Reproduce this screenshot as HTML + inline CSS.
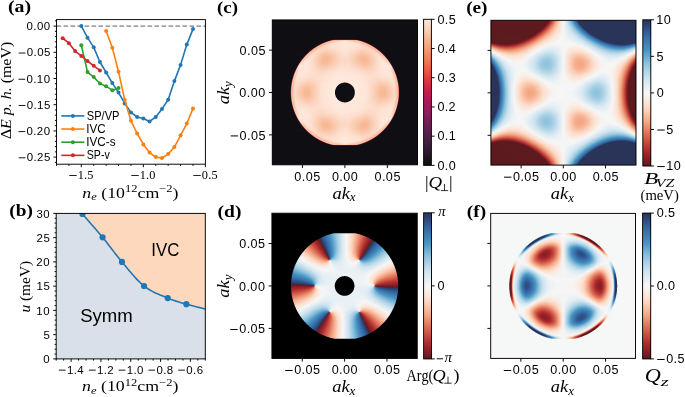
<!DOCTYPE html>
<html><head><meta charset="utf-8"><style>
html,body{margin:0;padding:0;background:#fff;width:685px;height:397px;overflow:hidden;}
#wrap{position:relative;width:685px;height:397px;overflow:hidden;background:#fff;}
.hm{position:absolute;overflow:hidden;}
.hm i{position:absolute;left:0;right:0;height:1px;display:block;}
.cb{position:absolute;}
#sv{position:absolute;left:0;top:0;font-kerning:none;will-change:transform;}
</style></head><body><div id="wrap">
<div class="hm" style="left:272px;top:19px;width:146px;height:146px"><i style="top:0px;background:linear-gradient(90deg,#ffffff 0.5px,#ffffff 145.5px)"></i><i style="top:1px;height:19px;background:linear-gradient(90deg,#4b4a4e 0.5px,#0f0e13 1.5px,#0f0e13 144.5px,#878689 145.5px)"></i><i style="top:20px;background:linear-gradient(90deg,#4b4a4e 0.5px,#0f0e13 1.5px,#100e14 59.5px,#251323 61.5px,#3d142b 63.5px,#44142d 74.5px,#40142c 81.5px,#3b142b 82.5px,#221322 84.5px,#151119 85.5px,#0f0e13 87.5px,#0f0e13 144.5px,#878689 145.5px)"></i><i style="top:21px;background:linear-gradient(90deg,#4b4a4e 0.5px,#0f0e13 1.5px,#0f0e13 55.5px,#1a111c 56.5px,#4a192e 57.5px,#8c3f49 58.5px,#c47170 59.5px,#e7968c 60.5px,#f7ae94 61.5px,#f8b999 62.5px,#f9bda1 66.5px,#fcd5c1 72.5px,#fbd0ba 74.5px,#f8bb9d 80.5px,#f8b899 83.5px,#f5a993 84.5px,#e19088 85.5px,#bb6768 86.5px,#7f3541 87.5px,#3e162b 88.5px,#151018 89.5px,#0f0e13 90.5px,#0f0e13 144.5px,#878689 145.5px)"></i><i style="top:22px;background:linear-gradient(90deg,#4b4a4e 0.5px,#0f0e13 1.5px,#0f0e13 52.5px,#17111a 53.5px,#4e1b30 54.5px,#9f4c55 55.5px,#e1877e 56.5px,#f8b899 57.5px,#f9c7a9 58.5px,#fac8aa 61.5px,#fee8dc 72.5px,#fcddcc 77.5px,#f9c7aa 84.5px,#f9c6a8 87.5px,#f7b094 88.5px,#d77c78 89.5px,#8f404a 90.5px,#3f162b 91.5px,#130f16 92.5px,#0f0e13 96.5px,#0f0e13 144.5px,#878689 145.5px)"></i><i style="top:23px;background:linear-gradient(90deg,#4b4a4e 0.5px,#0f0e13 1.5px,#0f0e13 50.5px,#2c1325 51.5px,#833744 52.5px,#d87c77 53.5px,#f8b697 54.5px,#f9c4a6 55.5px,#f9c3a5 57.5px,#fde0d0 65.5px,#fee8dc 72.5px,#fde2d3 79.5px,#fbd2bb 84.5px,#f9c3a4 88.5px,#f9c4a6 90.5px,#f6ad91 91.5px,#ca6f6f 92.5px,#702a3c 93.5px,#211220 94.5px,#0f0e13 95.5px,#0f0e13 144.5px,#878689 145.5px)"></i><i style="top:24px;background:linear-gradient(90deg,#4b4a4e 0.5px,#0f0e13 1.5px,#100f14 48.5px,#3d172a 49.5px,#a34e56 50.5px,#ee9a85 51.5px,#f9c1a2 52.5px,#f9c0a1 54.5px,#fddfcf 61.5px,#fee7da 67.5px,#fee6d8 80.5px,#fcdbc9 85.5px,#f9c3a4 90.5px,#f9bf9f 93.5px,#e58b7e 94.5px,#8f3e4a 95.5px,#2d1325 96.5px,#0f0e13 97.5px,#0f0e13 144.5px,#878689 145.5px)"></i><i style="top:25px;background:linear-gradient(90deg,#4b4a4e 0.5px,#0f0e13 1.5px,#100e14 46.5px,#3c172a 47.5px,#ac535a 48.5px,#f3a58c 49.5px,#f9c1a1 50.5px,#f9c0a0 52.5px,#fcdbc8 57.5px,#fee5d7 62.5px,#fee8db 77.5px,#fde0d0 86.5px,#fbd5c0 89.5px,#f9bf9f 93.5px,#f9c0a0 95.5px,#ed9783 96.5px,#96424e 97.5px,#2b1324 98.5px,#0f0e13 99.5px,#0f0e13 144.5px,#878689 145.5px)"></i><i style="top:26px;background:linear-gradient(90deg,#4b4a4e 0.5px,#0f0e13 1.5px,#0f0e13 44.5px,#2b1324 45.5px,#9f4852 46.5px,#f2a28a 47.5px,#f9c0a0 48.5px,#f8bd9c 49.5px,#f9c5a7 51.5px,#fbd7c3 54.5px,#fde1d2 59.5px,#fee8db 74.5px,#fddfce 88.5px,#fbd6c2 91.5px,#f8bf9e 95.5px,#f9c09f 97.5px,#ea9281 98.5px,#853746 99.5px,#1e121e 100.5px,#0f0e13 101.5px,#0f0e13 144.5px,#878689 145.5px)"></i><i style="top:27px;background:linear-gradient(90deg,#4b4a4e 0.5px,#0f0e13 1.5px,#0f0e13 42.5px,#171019 43.5px,#782f41 44.5px,#e88f7f 45.5px,#f9bf9f 46.5px,#f8bd9c 47.5px,#f9c5a7 49.5px,#fbd7c2 52.5px,#fcdecd 57.5px,#fee8db 72.5px,#fcdecd 88.5px,#fcd9c6 92.5px,#facbaf 95.5px,#f8be9d 97.5px,#f9be9d 99.5px,#d97c74 100.5px,#5c2236 101.5px,#120f16 102.5px,#0f0e13 144.5px,#878689 145.5px)"></i><i style="top:28px;background:linear-gradient(90deg,#4b4a4e 0.5px,#0f0e13 1.5px,#0f0e13 41.5px,#3e182a 42.5px,#c66767 43.5px,#f8ba9a 44.5px,#f8be9d 46.5px,#fbd6c1 50.5px,#fcdac8 54.5px,#fee7da 73.5px,#fbd8c4 94.5px,#facaad 97.5px,#f8bd9c 99.5px,#f8be9d 100.5px,#f7b194 101.5px,#ac5259 102.5px,#2a1323 103.5px,#0f0e13 104.5px,#0f0e13 144.5px,#878689 145.5px)"></i><i style="top:29px;background:linear-gradient(90deg,#4b4a4e 0.5px,#0f0e13 1.5px,#0f0e13 39.5px,#151018 40.5px,#7b3143 41.5px,#ee9d87 42.5px,#f9c0a0 43.5px,#f8bd9c 44.5px,#fac9ad 46.5px,#fbd5bf 48.5px,#fbd8c4 51.5px,#fcdac7 59.5px,#fee6d9 71.5px,#fde0d0 81.5px,#fbd7c3 91.5px,#fbd7c3 96.5px,#facfb6 98.5px,#f9c0a0 100.5px,#f8bd9c 101.5px,#f9c0a0 102.5px,#e2897b 103.5px,#5d2336 104.5px,#110f14 105.5px,#0f0e13 144.5px,#878689 145.5px)"></i><i style="top:30px;background:linear-gradient(90deg,#4b4a4e 0.5px,#0f0e13 1.5px,#0f0e13 38.5px,#271222 39.5px,#b4575d 40.5px,#f8ba9a 41.5px,#f9bf9f 43.5px,#fbd4be 46.5px,#fbd7c3 49.5px,#fbd4be 56.5px,#fee5d8 71.5px,#fde1d1 79.5px,#fbd4be 90.5px,#fbd6c2 98.5px,#facdb2 100.5px,#f8be9e 102.5px,#f8bf9f 103.5px,#f6ae93 104.5px,#96414e 105.5px,#1a111b 106.5px,#0f0e13 107.5px,#0f0e13 144.5px,#878689 145.5px)"></i><i style="top:31px;background:linear-gradient(90deg,#4b4a4e 0.5px,#0f0e13 1.5px,#0f0e13 37.5px,#431a2d 38.5px,#da7e75 39.5px,#f9c2a2 40.5px,#f8bf9e 41.5px,#f9c3a4 42.5px,#fbd2bb 44.5px,#fbd8c4 46.5px,#fbd0b8 55.5px,#fddfcf 66.5px,#fee4d6 74.5px,#fbd6c2 84.5px,#fbd0b8 91.5px,#fbd8c4 99.5px,#fbd1b9 101.5px,#f9c1a2 103.5px,#f9bf9f 105.5px,#c26464 106.5px,#2c1324 107.5px,#0f0e13 108.5px,#0f0e13 144.5px,#878689 145.5px)"></i><i style="top:32px;background:linear-gradient(90deg,#4b4a4e 0.5px,#0f0e13 1.5px,#100e14 36.5px,#602538 37.5px,#ec9a88 38.5px,#f9c2a3 39.5px,#f9c0a0 40.5px,#fbd5c0 43.5px,#fbd8c5 45.5px,#facdb2 53.5px,#fbd0b9 59.5px,#fde2d4 70.5px,#fde0d0 77.5px,#facdb3 89.5px,#fbd0b8 95.5px,#fbd8c5 100.5px,#fbd4bf 102.5px,#f9c5a7 104.5px,#f9c0a0 105.5px,#f9c3a4 106.5px,#dc8377 107.5px,#42192c 108.5px,#0f0e13 109.5px,#0f0e13 144.5px,#878689 145.5px)"></i><i style="top:33px;background:linear-gradient(90deg,#4b4a4e 0.5px,#0f0e13 1.5px,#110f15 35.5px,#782f43 36.5px,#f4ac93 37.5px,#f9c2a3 38.5px,#f9c2a4 39.5px,#fbd8c4 42.5px,#fcd9c6 44.5px,#facaad 52.5px,#facbaf 57.5px,#fde1d2 70.5px,#fde0d0 76.5px,#fac9ad 89.5px,#facbaf 94.5px,#fcdac7 102.5px,#fbd1ba 104.5px,#f9c2a2 106.5px,#f9c3a4 107.5px,#ea9786 108.5px,#552134 109.5px,#0f0e13 110.5px,#0f0e13 144.5px,#878689 145.5px)"></i><i style="top:34px;background:linear-gradient(90deg,#4b4a4e 0.5px,#0f0e13 1.5px,#120f16 34.5px,#863849 35.5px,#f7b59a 36.5px,#f9c3a4 37.5px,#f9c5a7 38.5px,#fbd6c1 40.5px,#fcdbc9 42.5px,#f9c6a7 52.5px,#f9c7a9 57.5px,#fddfce 69.5px,#fde0cf 75.5px,#faceb4 84.5px,#f9c5a6 90.5px,#fac9ac 95.5px,#fcdbc9 103.5px,#fcdac7 104.5px,#f9c4a5 107.5px,#f9c4a5 108.5px,#f0a48e 109.5px,#612638 110.5px,#0f0e13 111.5px,#0f0e13 144.5px,#878689 145.5px)"></i><i style="top:35px;background:linear-gradient(90deg,#4b4a4e 0.5px,#0f0e13 1.5px,#120f15 33.5px,#8a3a4a 34.5px,#f8ba9d 35.5px,#f9c4a5 36.5px,#fac7aa 37.5px,#fcd8c5 39.5px,#fcddcb 41.5px,#f9c3a4 51.5px,#f9c1a2 56.5px,#fbd6c0 65.5px,#fddfcf 72.5px,#fbd8c4 79.5px,#f9c3a4 88.5px,#f9c2a3 93.5px,#fbd0b8 99.5px,#fcddcb 104.5px,#fcdcca 105.5px,#fbd7c3 106.5px,#f9c6a8 108.5px,#f9c5a6 109.5px,#f2a992 110.5px,#64273a 111.5px,#0f0e13 112.5px,#0f0e13 144.5px,#878689 145.5px)"></i><i style="top:36px;background:linear-gradient(90deg,#4b4a4e 0.5px,#0f0e13 1.5px,#110f15 32.5px,#843748 33.5px,#f8ba9e 34.5px,#f9c5a7 35.5px,#fac9ac 36.5px,#fcdac8 38.5px,#fddfcd 40.5px,#f9bfa0 51.5px,#f8be9e 56.5px,#fcdcca 69.5px,#fcddcb 75.5px,#facfb5 82.5px,#f8be9d 89.5px,#f9c0a0 94.5px,#fddfce 105.5px,#fcdecd 106.5px,#fcd9c6 107.5px,#fac7aa 109.5px,#f9c6a8 110.5px,#f2a992 111.5px,#5d2437 112.5px,#0f0e13 113.5px,#0f0e13 144.5px,#878689 145.5px)"></i><i style="top:37px;background:linear-gradient(90deg,#4b4a4e 0.5px,#0f0e13 1.5px,#100e14 31.5px,#742e42 32.5px,#f7b79d 33.5px,#f9c7a9 34.5px,#facaae 35.5px,#fcdcca 37.5px,#fde0d0 39.5px,#faccb1 46.5px,#f8bb99 52.5px,#f8bd9c 57.5px,#fcdbc8 69.5px,#fcdcca 75.5px,#facbaf 83.5px,#f8bc9a 89.5px,#f8bd9c 94.5px,#fde0d1 106.5px,#fde0cf 107.5px,#fcdbc8 108.5px,#fac9ac 110.5px,#f9c7aa 111.5px,#eea28f 112.5px,#4e1e31 113.5px,#0f0e13 114.5px,#0f0e13 144.5px,#878689 145.5px)"></i><i style="top:38px;background:linear-gradient(90deg,#4b4a4e 0.5px,#0f0e13 1.5px,#0f0e13 30.5px,#5b2336 31.5px,#f3ae97 32.5px,#fac8ab 33.5px,#facbaf 34.5px,#fcddcc 36.5px,#fde2d3 38.5px,#faceb4 45.5px,#f8bb99 51.5px,#f8ba98 56.5px,#fcdac7 69.5px,#fcdbc9 75.5px,#fac9ad 83.5px,#f8ba98 89.5px,#f8bb99 94.5px,#fbd5bf 102.5px,#fde2d3 107.5px,#fde1d2 108.5px,#fcdcca 109.5px,#facaad 111.5px,#fac9ac 112.5px,#e69486 113.5px,#391728 114.5px,#0f0e13 115.5px,#0f0e13 144.5px,#878689 145.5px)"></i><i style="top:39px;background:linear-gradient(90deg,#4b4a4e 0.5px,#0f0e13 1.5px,#0f0e13 29.5px,#3d182a 30.5px,#ea9b8c 31.5px,#facbaf 32.5px,#faccb1 33.5px,#fcdecd 35.5px,#fde3d4 36.5px,#fde0cf 39.5px,#f8bb99 50.5px,#f8b895 55.5px,#f9c6a8 61.5px,#fcd9c6 69.5px,#fcdac8 75.5px,#faccb1 82.5px,#f8b996 89.5px,#f8ba97 94.5px,#facdb3 100.5px,#fde2d3 107.5px,#fde2d3 109.5px,#fcdccb 110.5px,#facbaf 112.5px,#faccb0 113.5px,#d47b76 114.5px,#241220 115.5px,#0f0e13 116.5px,#0f0e13 144.5px,#878689 145.5px)"></i><i style="top:40px;background:linear-gradient(90deg,#4b4a4e 0.5px,#0f0e13 1.5px,#0f0e13 28.5px,#22121f 29.5px,#d57d77 30.5px,#facdb3 31.5px,#facdb2 32.5px,#fcdecd 34.5px,#fde3d5 35.5px,#fde2d3 38.5px,#faccb0 45.5px,#f8bb98 50.5px,#f8b895 55.5px,#f9c7a8 61.5px,#fcd9c6 69.5px,#fcdac7 75.5px,#faccb1 82.5px,#f8b996 89.5px,#f8b996 94.5px,#faccb2 100.5px,#fde2d3 107.5px,#fde3d4 110.5px,#faccb1 113.5px,#facdb3 114.5px,#b35960 115.5px,#151018 116.5px,#0f0e13 118.5px,#0f0e13 144.5px,#878689 145.5px)"></i><i style="top:41px;background:linear-gradient(90deg,#4b4a4e 0.5px,#0f0e13 1.5px,#0f0e13 27.5px,#130f16 28.5px,#ab545d 29.5px,#fbcfb6 30.5px,#faceb5 31.5px,#fee4d6 34.5px,#fde3d5 37.5px,#facfb6 44.5px,#f8ba98 50.5px,#f8b895 55.5px,#facaae 62.5px,#fcdac7 70.5px,#fbd9c6 76.5px,#f9c4a5 85.5px,#f8b794 91.5px,#f8bd9c 96.5px,#fde2d3 107.5px,#fee5d8 110.5px,#fde3d5 111.5px,#fbd3bc 113.5px,#fac7ae 115.5px,#803647 116.5px,#0f0e13 117.5px,#0f0e13 144.5px,#878689 145.5px)"></i><i style="top:42px;background:linear-gradient(90deg,#4b4a4e 0.5px,#0f0e13 1.5px,#0f0e13 27.5px,#6f2d3f 28.5px,#f9c6ae 29.5px,#fbd1ba 30.5px,#fbd5bf 31.5px,#fee4d6 33.5px,#fee5d7 36.5px,#fbd2bb 43.5px,#f8bb99 50.5px,#f8ba97 55.5px,#fcd9c7 69.5px,#fcd9c6 76.5px,#f9c5a7 85.5px,#f8b996 91.5px,#f8be9d 96.5px,#fde2d3 107.5px,#fee6d9 111.5px,#fde3d5 112.5px,#fbd3bd 114.5px,#fbd1ba 115.5px,#f2b09d 116.5px,#471b2e 117.5px,#0f0e13 118.5px,#0f0e13 144.5px,#878689 145.5px)"></i><i style="top:43px;background:linear-gradient(90deg,#4b4a4e 0.5px,#0f0e13 1.5px,#0f0e13 26.5px,#341626 27.5px,#eca396 28.5px,#fbd6c0 29.5px,#fbd6c1 30.5px,#fde4d6 32.5px,#fee6d9 35.5px,#fcd9c6 41.5px,#f8be9e 49.5px,#f8bb99 54.5px,#facdb3 62.5px,#fcdac7 69.5px,#fcdac7 76.5px,#facaae 84.5px,#f8bb98 91.5px,#f8bf9e 96.5px,#fde2d3 107.5px,#fee7d9 112.5px,#fcdcca 114.5px,#fbd5c0 115.5px,#fbd7c2 116.5px,#d47f7c 117.5px,#1d111d 118.5px,#0f0e13 119.5px,#0f0e13 144.5px,#878689 145.5px)"></i><i style="top:44px;background:linear-gradient(90deg,#4b4a4e 0.5px,#0f0e13 1.5px,#0f0e13 25.5px,#141017 26.5px,#bb656b 27.5px,#fcdbc9 28.5px,#fcd9c6 29.5px,#fee7da 32.5px,#fde1d2 38.5px,#f9c0a0 49.5px,#f8bd9c 54.5px,#fcdbc9 69.5px,#fcdbc8 76.5px,#facaad 85.5px,#f8bd9b 92.5px,#f9c3a5 97.5px,#fde2d3 107.5px,#fee8db 112.5px,#fde3d4 114.5px,#fcd9c6 116.5px,#fcd8c4 117.5px,#90414f 118.5px,#0f0e13 119.5px,#0f0e13 144.5px,#878689 145.5px)"></i><i style="top:45px;background:linear-gradient(90deg,#4b4a4e 0.5px,#0f0e13 1.5px,#0f0e13 25.5px,#682a3b 26.5px,#fbd2c0 27.5px,#fddfce 28.5px,#fee8db 32.5px,#fde1d2 38.5px,#f9c2a4 49.5px,#f9c0a1 54.5px,#fcdbc9 68.5px,#fcdcca 76.5px,#facdb2 85.5px,#f9bfa0 92.5px,#f9c5a7 97.5px,#fde2d3 107.5px,#fee8db 113.5px,#fddfcf 116.5px,#fddfcf 117.5px,#f4b9aa 118.5px,#3f192b 119.5px,#0f0e13 120.5px,#0f0e13 144.5px,#878689 145.5px)"></i><i style="top:46px;background:linear-gradient(90deg,#4b4a4e 0.5px,#0f0e13 1.5px,#0f0e13 24.5px,#21121f 25.5px,#e29893 26.5px,#fee6d8 27.5px,#fee5d7 29.5px,#fee7da 34.5px,#fcddcb 40.5px,#f9c5a7 49.5px,#f9c4a6 54.5px,#fcddcb 68.5px,#fcddcc 76.5px,#facfb6 85.5px,#f9c3a4 92.5px,#f9c8aa 97.5px,#fee4d6 108.5px,#fee8db 114.5px,#fee4d6 117.5px,#fee6d9 118.5px,#c06e74 119.5px,#131017 120.5px,#0f0e13 123.5px,#0f0e13 144.5px,#878689 145.5px)"></i><i style="top:47px;background:linear-gradient(90deg,#4b4a4e 0.5px,#0f0e13 1.5px,#0f0e13 24.5px,#8c404e 25.5px,#fde2d3 26.5px,#fee8db 27.5px,#fee5d7 36.5px,#fbd0b8 45.5px,#f9c7a9 50.5px,#fac9ad 55.5px,#fcddcc 67.5px,#fddfce 76.5px,#fbd2bb 85.5px,#f9c7a8 93.5px,#faccb1 98.5px,#fee4d6 108.5px,#fee8db 117.5px,#fee8db 118.5px,#fcd4c2 119.5px,#5e2437 120.5px,#0f0e13 121.5px,#0f0e13 144.5px,#878689 145.5px)"></i><i style="top:48px;background:linear-gradient(90deg,#4b4a4e 0.5px,#0f0e13 1.5px,#0f0e13 23.5px,#2c1324 24.5px,#eea99d 25.5px,#fde2d3 26.5px,#fee9dc 29.5px,#fde2d3 38.5px,#facbaf 49.5px,#facdb2 55.5px,#fddfce 67.5px,#fde0d1 76.5px,#fbd3bd 86.5px,#facaae 93.5px,#faceb4 98.5px,#fee4d6 108.5px,#fee8db 117.5px,#fde2d3 119.5px,#d38181 120.5px,#17111a 121.5px,#0f0e13 122.5px,#0f0e13 144.5px,#878689 145.5px)"></i><i style="top:49px;background:linear-gradient(90deg,#4b4a4e 0.5px,#0f0e13 1.5px,#0f0e13 23.5px,#964852 24.5px,#fcdbc8 25.5px,#fee8db 28.5px,#fee4d6 37.5px,#faceb3 49.5px,#fbd0b8 55.5px,#fde1d2 68.5px,#fde0d0 79.5px,#facdb2 94.5px,#fbd3bd 100.5px,#fee5d8 109.5px,#fee7da 117.5px,#fcddcc 119.5px,#fbd1bc 120.5px,#68283a 121.5px,#0f0e13 122.5px,#0f0e13 144.5px,#878689 145.5px)"></i><i style="top:50px;background:linear-gradient(90deg,#4b4a4e 0.5px,#0f0e13 1.5px,#0f0e13 22.5px,#2a1324 23.5px,#eda395 24.5px,#fbd8c4 25.5px,#fee8db 28.5px,#fee4d6 37.5px,#fbd0b8 49.5px,#fbd4bf 56.5px,#fde3d4 68.5px,#fde1d1 80.5px,#fbcfb7 94.5px,#fbd7c3 101.5px,#fee6d9 110.5px,#fee7da 117.5px,#fbd8c4 120.5px,#d27d7d 121.5px,#161019 122.5px,#0f0e13 123.5px,#0f0e13 144.5px,#878689 145.5px)"></i><i style="top:51px;background:linear-gradient(90deg,#4b4a4e 0.5px,#0f0e13 1.5px,#0f0e13 22.5px,#883d49 23.5px,#fbd2bc 24.5px,#fbd5c0 25.5px,#fee5d8 27.5px,#fee8db 32.5px,#fcddcc 41.5px,#fbd2bc 49.5px,#fbd7c3 56.5px,#fee4d5 67.5px,#fde2d4 80.5px,#fbd2bc 94.5px,#fbd7c2 100.5px,#fee6d8 110.5px,#fee8db 117.5px,#fee4d6 118.5px,#fbd4be 120.5px,#fac7ae 121.5px,#5a2134 122.5px,#0f0e13 123.5px,#0f0e13 144.5px,#878689 145.5px)"></i><i style="top:52px;background:linear-gradient(90deg,#4b4a4e 0.5px,#0f0e13 1.5px,#0f0e13 21.5px,#1c121d 22.5px,#e18c85 23.5px,#fbd0b9 24.5px,#fbd5c0 25.5px,#fde0d0 26.5px,#fee6d9 27.5px,#fee4d6 36.5px,#fbd5bf 49.5px,#fddfcf 60.5px,#fee6d8 72.5px,#fde0d1 84.5px,#fbd5bf 95.5px,#fcddcb 103.5px,#fee7da 113.5px,#fee6d8 118.5px,#fbd4be 120.5px,#fbd1ba 121.5px,#bd686b 122.5px,#110f15 123.5px,#0f0e13 144.5px,#878689 145.5px)"></i><i style="top:53px;background:linear-gradient(90deg,#4b4a4e 0.5px,#0f0e13 1.5px,#0f0e13 21.5px,#642537 22.5px,#fac8ad 23.5px,#facfb6 24.5px,#fde3d4 26.5px,#fee8db 28.5px,#fddfcf 40.5px,#fbd7c2 49.5px,#fee6d9 68.5px,#fde3d4 83.5px,#fbd7c2 96.5px,#fee7da 115.5px,#fee7da 118.5px,#fde1d1 119.5px,#faceb5 121.5px,#f5b09a 122.5px,#3a152a 123.5px,#0f0e13 124.5px,#0f0e13 144.5px,#878689 145.5px)"></i><i style="top:54px;background:linear-gradient(90deg,#4b4a4e 0.5px,#0f0e13 1.5px,#110f15 21.5px,#bd676a 22.5px,#facdb2 23.5px,#facfb7 24.5px,#fee5d7 26.5px,#fee7d9 30.5px,#fbd9c5 49.5px,#fee7da 67.5px,#fee4d5 84.5px,#fbd9c5 97.5px,#fee7da 117.5px,#fde3d5 119.5px,#faceb4 121.5px,#facdb3 122.5px,#90424c 123.5px,#0f0e13 124.5px,#0f0e13 144.5px,#878689 145.5px)"></i><i style="top:55px;background:linear-gradient(90deg,#4b4a4e 0.5px,#0f0e13 1.5px,#0f0e13 20.5px,#301427 21.5px,#f3a893 22.5px,#facaae 23.5px,#fbd2bb 24.5px,#fddfcf 25.5px,#fee6d8 26.5px,#fddfce 39.5px,#fcdac8 49.5px,#fee7da 66.5px,#fee4d6 85.5px,#fcdac7 98.5px,#fee7da 118.5px,#fee5d7 119.5px,#fcddcb 120.5px,#fad0b7 121.5px,#facbaf 122.5px,#dd847f 123.5px,#18111a 124.5px,#0f0e13 125.5px,#0f0e13 144.5px,#878689 145.5px)"></i><i style="top:56px;background:linear-gradient(90deg,#4b4a4e 0.5px,#0f0e13 1.5px,#0f0e13 20.5px,#7a323f 21.5px,#fac9ad 22.5px,#facaae 23.5px,#fde2d2 25.5px,#fee6d9 27.5px,#fcdbc9 47.5px,#fee8db 66.5px,#fee5d7 86.5px,#fcdbc9 99.5px,#fee5d8 119.5px,#fde0d0 120.5px,#f8bc9f 123.5px,#4c1a2f 124.5px,#0f0e13 125.5px,#0f0e13 144.5px,#878689 145.5px)"></i><i style="top:57px;background:linear-gradient(90deg,#4b4a4e 0.5px,#0f0e13 1.5px,#110f15 20.5px,#c46d6e 21.5px,#fac8ab 22.5px,#faccb1 23.5px,#fcdac7 24.5px,#fde3d5 25.5px,#fee4d6 28.5px,#fcdbc9 44.5px,#fee8db 66.5px,#fee5d7 87.5px,#fcdbc9 100.5px,#fde3d4 115.5px,#fee5d8 119.5px,#fde2d3 120.5px,#facaae 122.5px,#fac9ad 123.5px,#974751 124.5px,#0f0e13 125.5px,#0f0e13 144.5px,#878689 145.5px)"></i><i style="top:58px;background:linear-gradient(90deg,#4b4a4e 0.5px,#0f0e13 1.5px,#0f0e13 19.5px,#291325 20.5px,#f1a08c 21.5px,#f9c6a8 22.5px,#facfb6 23.5px,#fcddcb 24.5px,#fee4d5 25.5px,#fcdbc8 42.5px,#fee8dc 65.5px,#fee5d7 88.5px,#fcdbc8 103.5px,#fde1d2 115.5px,#fde3d4 120.5px,#fcdac8 121.5px,#faccb2 122.5px,#f9c7a9 123.5px,#d77e7b 124.5px,#151018 125.5px,#0f0e13 127.5px,#0f0e13 144.5px,#878689 145.5px)"></i><i style="top:59px;background:linear-gradient(90deg,#4b4a4e 0.5px,#0f0e13 1.5px,#0f0e13 19.5px,#632335 20.5px,#f9c3a5 21.5px,#f9c6a8 22.5px,#fddfce 24.5px,#fde3d5 25.5px,#fbd9c6 39.5px,#fde3d4 53.5px,#fee9dc 68.5px,#fee5d7 89.5px,#fbd9c6 105.5px,#fddfce 115.5px,#fde3d4 120.5px,#fcddcc 121.5px,#f9c6a7 123.5px,#f6ae92 124.5px,#37142a 125.5px,#0f0e13 126.5px,#0f0e13 144.5px,#878689 145.5px)"></i><i style="top:60px;background:linear-gradient(90deg,#4b4a4e 0.5px,#0f0e13 1.5px,#0f0e13 19.5px,#a04f56 20.5px,#f9c6a9 21.5px,#fac8aa 22.5px,#fbd5c0 23.5px,#fde0d0 24.5px,#fde2d3 26.5px,#fbd7c2 37.5px,#fee8dc 62.5px,#fee6d8 89.5px,#fbd6c2 107.5px,#fddfcf 117.5px,#fde2d4 120.5px,#fddfce 121.5px,#f9c6a8 123.5px,#f9c5a7 124.5px,#712b3a 125.5px,#0f0e13 126.5px,#0f0e13 144.5px,#878689 145.5px)"></i><i style="top:61px;background:linear-gradient(90deg,#4b4a4e 0.5px,#0f0e13 1.5px,#0f0e13 18.5px,#131016 19.5px,#d37a77 20.5px,#f9c4a5 21.5px,#facaae 22.5px,#fcd8c4 23.5px,#fde0d0 24.5px,#fddfce 27.5px,#fbd4be 36.5px,#fcdcca 46.5px,#fee8db 59.5px,#fee6d9 89.5px,#fbd4be 108.5px,#fcdcc9 116.5px,#fde1d2 120.5px,#fddfcf 121.5px,#fbd5c0 122.5px,#f9c7aa 123.5px,#f9c5a7 124.5px,#a8565c 125.5px,#0f0e13 126.5px,#0f0e13 144.5px,#878689 145.5px)"></i><i style="top:62px;background:linear-gradient(90deg,#4b4a4e 0.5px,#0f0e13 1.5px,#0f0e13 18.5px,#271324 19.5px,#f29e89 20.5px,#f9c2a3 21.5px,#faccb2 22.5px,#fcdac7 23.5px,#fde0d0 24.5px,#fbd1ba 35.5px,#fbd7c3 43.5px,#fee7da 56.5px,#fee7da 88.5px,#fcdac7 100.5px,#fbd1b9 108.5px,#fbd7c3 115.5px,#fde0d0 120.5px,#fddfcf 121.5px,#fcd8c4 122.5px,#fac9ad 123.5px,#f9c3a4 124.5px,#d77d79 125.5px,#141017 126.5px,#0f0e13 128.5px,#0f0e13 144.5px,#878689 145.5px)"></i><i style="top:63px;background:linear-gradient(90deg,#4b4a4e 0.5px,#0f0e13 1.5px,#0f0e13 18.5px,#4f192f 19.5px,#f9bb9b 20.5px,#f9c2a3 21.5px,#fcdbc9 23.5px,#fddfce 24.5px,#faceb4 35.5px,#fbd4be 42.5px,#fee5d7 53.5px,#fee9dd 69.5px,#c2b2aa 71.5px,#867b78 72.5px,#958985 73.5px,#efdbd0 75.5px,#fee9dd 76.5px,#fee5d7 92.5px,#faceb5 108.5px,#fbd2bc 114.5px,#fddfce 121.5px,#fcd9c6 122.5px,#faccb1 123.5px,#f9c1a2 124.5px,#f29d88 125.5px,#271324 126.5px,#0f0e13 127.5px,#0f0e13 144.5px,#878689 145.5px)"></i><i style="top:64px;background:linear-gradient(90deg,#4b4a4e 0.5px,#0f0e13 1.5px,#0f0e13 18.5px,#78313e 19.5px,#f9c4a5 20.5px,#f9c3a4 21.5px,#fcdbc9 23.5px,#fcdccb 25.5px,#faccb0 34.5px,#fbcfb6 40.5px,#fee5d7 52.5px,#fee9dd 67.5px,#a49791 68.5px,#3c3739 69.5px,#0f0e13 70.5px,#0f0e13 75.5px,#5a5252 76.5px,#c2b2aa 77.5px,#fee9dd 78.5px,#fee4d6 93.5px,#facbb0 108.5px,#faceb4 113.5px,#fcdecd 121.5px,#fcdac7 122.5px,#f9c1a2 124.5px,#f9b999 125.5px,#4a172e 126.5px,#0f0e13 127.5px,#0f0e13 144.5px,#878689 145.5px)"></i><i style="top:65px;background:linear-gradient(90deg,#4b4a4e 0.5px,#0f0e13 1.5px,#0f0e13 18.5px,#9e4e54 19.5px,#f9c2a3 20.5px,#f9c4a5 21.5px,#fbd2bb 22.5px,#fcdbc9 23.5px,#fcdbc8 25.5px,#fac9ac 33.5px,#facaae 38.5px,#fee4d5 51.5px,#fee9dd 65.5px,#d1c0b7 66.5px,#3c3739 67.5px,#0f0e13 68.5px,#0f0e13 77.5px,#5a5252 78.5px,#efdbd0 79.5px,#fee9dd 80.5px,#fde3d5 94.5px,#fac8ab 108.5px,#facbaf 113.5px,#fcddcb 121.5px,#fcdac8 122.5px,#f9c2a2 124.5px,#f9c2a3 125.5px,#6f2b39 126.5px,#0f0e13 127.5px,#0f0e13 144.5px,#878689 145.5px)"></i><i style="top:66px;background:linear-gradient(90deg,#4b4a4e 0.5px,#0f0e13 1.5px,#0f0e13 18.5px,#bf666a 19.5px,#f9c0a1 20.5px,#f9c5a7 21.5px,#fbd3bd 22.5px,#fcdbc9 23.5px,#fbd6c1 26.5px,#f9c6a7 33.5px,#f9c7aa 38.5px,#fde3d4 50.5px,#fee9dd 61.5px,#fee9dd 64.5px,#d1c0b7 65.5px,#1e1c20 66.5px,#0f0e13 67.5px,#0f0e13 78.5px,#3c3739 79.5px,#efdbd0 80.5px,#fee9dd 81.5px,#fee4d5 94.5px,#fbd0b8 103.5px,#f9c5a6 109.5px,#fac9ad 114.5px,#fcdbc9 121.5px,#fcdac7 122.5px,#fbd1b9 123.5px,#f9c2a3 124.5px,#f9c2a3 125.5px,#90414b 126.5px,#0f0e13 127.5px,#0f0e13 144.5px,#878689 145.5px)"></i><i style="top:67px;background:linear-gradient(90deg,#4b4a4e 0.5px,#0f0e13 1.5px,#0f0e13 17.5px,#131017 18.5px,#d77d77 19.5px,#f8bf9f 20.5px,#f9c6a8 21.5px,#fbd4be 22.5px,#fcdac8 23.5px,#fbd1b9 27.5px,#f9c2a3 33.5px,#f9c5a6 38.5px,#fde1d2 49.5px,#fee8dc 58.5px,#fee9dd 63.5px,#efdbd0 64.5px,#1e1c20 65.5px,#0f0e13 66.5px,#0f0e13 79.5px,#3c3739 80.5px,#fee9dd 81.5px,#fee4d6 94.5px,#fbd1ba 102.5px,#f9c2a3 108.5px,#f9c4a5 113.5px,#fcdac7 121.5px,#fcdac7 122.5px,#fbd2ba 123.5px,#f9c3a4 124.5px,#f9c0a1 125.5px,#ac5a5e 126.5px,#0f0e13 127.5px,#0f0e13 144.5px,#878689 145.5px)"></i><i style="top:68px;background:linear-gradient(90deg,#4b4a4e 0.5px,#0f0e13 1.5px,#0f0e13 17.5px,#1a121d 18.5px,#e88b82 19.5px,#f8be9d 20.5px,#f9c7aa 21.5px,#fbd4bf 22.5px,#fcdac7 23.5px,#f9c0a1 32.5px,#f8bf9e 36.5px,#faceb5 42.5px,#fde1d2 49.5px,#fee8dc 58.5px,#fee9dd 63.5px,#5a5252 64.5px,#0f0e13 65.5px,#0f0e13 80.5px,#fee9dd 82.5px,#fee4d6 94.5px,#fbd1b9 102.5px,#f9c0a0 108.5px,#f8bf9f 112.5px,#fbcfb7 118.5px,#fbd9c6 121.5px,#fcd9c6 122.5px,#fbd2bb 123.5px,#f9c4a5 124.5px,#f9bf9f 125.5px,#c46a6d 126.5px,#0f0e13 127.5px,#0f0e13 144.5px,#878689 145.5px)"></i><i style="top:69px;background:linear-gradient(90deg,#4b4a4e 0.5px,#0f0e13 1.5px,#0f0e13 17.5px,#241323 18.5px,#f29885 19.5px,#f8be9d 20.5px,#fac8ab 21.5px,#fbd5bf 22.5px,#fbd9c6 23.5px,#f8be9d 32.5px,#f8bc9b 36.5px,#faceb4 42.5px,#fde1d2 49.5px,#fee9dc 58.5px,#fee9dd 62.5px,#d1c0b7 63.5px,#0f0e13 64.5px,#0f0e13 80.5px,#1e1c20 81.5px,#efdbd0 82.5px,#fee9dd 83.5px,#fee4d6 94.5px,#fbd3bd 101.5px,#f8be9d 108.5px,#f8bc9b 112.5px,#faceb4 118.5px,#fbd9c5 122.5px,#fbd3bc 123.5px,#f9c5a6 124.5px,#f8be9d 125.5px,#d47a75 126.5px,#120f16 127.5px,#0f0e13 138.5px,#0f0e13 144.5px,#878689 145.5px)"></i><i style="top:70px;background:linear-gradient(90deg,#4b4a4e 0.5px,#0f0e13 1.5px,#0f0e13 17.5px,#2f1428 18.5px,#f6a588 19.5px,#f8bd9c 20.5px,#fbd5bf 22.5px,#fbd8c5 23.5px,#f8bc9a 32.5px,#f8bb98 36.5px,#facdb3 42.5px,#fde2d2 49.5px,#fee9dc 58.5px,#fee9dd 62.5px,#786e6b 63.5px,#0f0e13 64.5px,#0f0e13 81.5px,#a49791 82.5px,#fee9dd 83.5px,#fee4d6 94.5px,#fbd3bd 101.5px,#f8bc9a 108.5px,#f8ba98 112.5px,#fac9ac 117.5px,#fbd8c5 122.5px,#fbd3bc 123.5px,#f9c5a7 124.5px,#f8bd9c 125.5px,#e0857d 126.5px,#161119 127.5px,#0f0e13 128.5px,#0f0e13 144.5px,#878689 145.5px)"></i><i style="top:71px;background:linear-gradient(90deg,#4b4a4e 0.5px,#0f0e13 1.5px,#0f0e13 17.5px,#38142b 18.5px,#f7ad8d 19.5px,#fbd5bf 22.5px,#fbd8c4 23.5px,#f8ba98 32.5px,#f8b997 36.5px,#fac9ac 41.5px,#fddfcf 48.5px,#fee8db 55.5px,#fee9dd 62.5px,#3c3739 63.5px,#0f0e13 64.5px,#0f0e13 81.5px,#69605f 82.5px,#fee9dd 83.5px,#fee5d7 94.5px,#fbd3bc 101.5px,#f8bb99 108.5px,#f8b996 112.5px,#fac8ab 117.5px,#fbd8c4 122.5px,#fbd3bc 123.5px,#f9c6a8 124.5px,#f8bd9c 125.5px,#e78a81 126.5px,#1a121c 127.5px,#0f0e13 128.5px,#0f0e13 144.5px,#878689 145.5px)"></i><i style="top:72px;background:linear-gradient(90deg,#4b4a4e 0.5px,#0f0e13 1.5px,#0f0e13 17.5px,#3e142d 18.5px,#f8b190 19.5px,#fac9ad 21.5px,#fbd5bf 22.5px,#fbd7c3 23.5px,#f8b997 32.5px,#f8b996 36.5px,#fac9ac 41.5px,#fde0cf 48.5px,#fee8db 55.5px,#fee9dd 62.5px,#0f0e13 63.5px,#0f0e13 81.5px,#4b4545 82.5px,#fee9dd 83.5px,#fee5d7 94.5px,#fbd6c1 100.5px,#f8ba98 108.5px,#f8b895 112.5px,#f9c7a9 117.5px,#fbd8c4 122.5px,#fbd3bd 123.5px,#f9c6a8 124.5px,#f8bd9b 125.5px,#eb8d82 126.5px,#1c121e 127.5px,#0f0e13 128.5px,#0f0e13 144.5px,#878689 145.5px)"></i><i style="top:73px;background:linear-gradient(90deg,#4b4a4e 0.5px,#0f0e13 1.5px,#0f0e13 17.5px,#40142d 18.5px,#f8b391 19.5px,#f8bd9c 20.5px,#fbd5bf 22.5px,#fbd7c3 23.5px,#f8b996 32.5px,#f8b895 36.5px,#fac8ab 41.5px,#fde0cf 48.5px,#fee8db 55.5px,#fee9dd 62.5px,#0f0e13 63.5px,#0f0e13 81.5px,#4b4545 82.5px,#fee9dd 83.5px,#fee5d7 94.5px,#fbd6c1 100.5px,#f8ba97 108.5px,#f8b895 112.5px,#f9c7a9 117.5px,#fbd7c3 122.5px,#fbd3bd 123.5px,#f9c6a8 124.5px,#f8bd9b 125.5px,#ec8e83 126.5px,#1d121f 127.5px,#0f0e13 128.5px,#0f0e13 144.5px,#878689 145.5px)"></i><i style="top:74px;background:linear-gradient(90deg,#4b4a4e 0.5px,#0f0e13 1.5px,#0f0e13 17.5px,#3e142d 18.5px,#f8b190 19.5px,#fac9ad 21.5px,#fbd5bf 22.5px,#fbd7c3 23.5px,#f8b997 32.5px,#f8b996 36.5px,#fac9ac 41.5px,#fde0cf 48.5px,#fee8db 55.5px,#fee9dd 62.5px,#0f0e13 63.5px,#0f0e13 81.5px,#4b4545 82.5px,#fee9dd 83.5px,#fee5d7 94.5px,#fbd6c1 100.5px,#f8ba98 108.5px,#f8b895 112.5px,#f9c7a9 117.5px,#fbd8c4 122.5px,#fbd3bd 123.5px,#f9c6a8 124.5px,#f8bd9b 125.5px,#eb8d82 126.5px,#1c121e 127.5px,#0f0e13 128.5px,#0f0e13 144.5px,#878689 145.5px)"></i><i style="top:75px;background:linear-gradient(90deg,#4b4a4e 0.5px,#0f0e13 1.5px,#0f0e13 17.5px,#38142b 18.5px,#f7ad8d 19.5px,#fbd5bf 22.5px,#fbd8c4 23.5px,#f8ba98 32.5px,#f8b997 36.5px,#fac9ac 41.5px,#fddfcf 48.5px,#fee8db 55.5px,#fee9dd 62.5px,#3c3739 63.5px,#0f0e13 64.5px,#0f0e13 81.5px,#69605f 82.5px,#fee9dd 83.5px,#fee5d7 94.5px,#fbd3bc 101.5px,#f8bb99 108.5px,#f8b996 112.5px,#fac8ab 117.5px,#fbd8c4 122.5px,#fbd3bc 123.5px,#f9c6a8 124.5px,#f8bd9c 125.5px,#e78a81 126.5px,#1a121c 127.5px,#0f0e13 128.5px,#0f0e13 144.5px,#878689 145.5px)"></i><i style="top:76px;background:linear-gradient(90deg,#4b4a4e 0.5px,#0f0e13 1.5px,#0f0e13 17.5px,#2f1428 18.5px,#f6a588 19.5px,#f8bd9c 20.5px,#fbd5bf 22.5px,#fbd8c5 23.5px,#f8bc9a 32.5px,#f8bb98 36.5px,#facdb3 42.5px,#fde2d2 49.5px,#fee9dc 58.5px,#fee9dd 62.5px,#786e6b 63.5px,#0f0e13 64.5px,#0f0e13 81.5px,#a49791 82.5px,#fee9dd 83.5px,#fee4d6 94.5px,#fbd3bd 101.5px,#f8bc9a 108.5px,#f8ba98 112.5px,#fac9ac 117.5px,#fbd8c5 122.5px,#fbd3bc 123.5px,#f9c5a7 124.5px,#f8bd9c 125.5px,#e0857d 126.5px,#161119 127.5px,#0f0e13 128.5px,#0f0e13 144.5px,#878689 145.5px)"></i><i style="top:77px;background:linear-gradient(90deg,#4b4a4e 0.5px,#0f0e13 1.5px,#0f0e13 17.5px,#241323 18.5px,#f29885 19.5px,#f8be9d 20.5px,#fac8ab 21.5px,#fbd5bf 22.5px,#fbd9c6 23.5px,#f8be9d 32.5px,#f8bc9b 36.5px,#faceb4 42.5px,#fde1d2 49.5px,#fee9dc 58.5px,#fee9dd 62.5px,#d1c0b7 63.5px,#0f0e13 64.5px,#0f0e13 80.5px,#1e1c20 81.5px,#efdbd0 82.5px,#fee9dd 83.5px,#fee4d6 94.5px,#fbd3bd 101.5px,#f8be9d 108.5px,#f8bc9b 112.5px,#faceb4 118.5px,#fbd9c5 122.5px,#fbd3bc 123.5px,#f9c5a6 124.5px,#f8be9d 125.5px,#d47a75 126.5px,#120f16 127.5px,#0f0e13 138.5px,#0f0e13 144.5px,#878689 145.5px)"></i><i style="top:78px;background:linear-gradient(90deg,#4b4a4e 0.5px,#0f0e13 1.5px,#0f0e13 17.5px,#1a121d 18.5px,#e88b82 19.5px,#f8be9d 20.5px,#f9c7aa 21.5px,#fbd4bf 22.5px,#fcdac7 23.5px,#f9c0a1 32.5px,#f8bf9e 36.5px,#faceb5 42.5px,#fde1d2 49.5px,#fee8dc 58.5px,#fee9dd 63.5px,#5a5252 64.5px,#0f0e13 65.5px,#0f0e13 80.5px,#fee9dd 82.5px,#fee4d6 94.5px,#fbd1b9 102.5px,#f9c0a0 108.5px,#f8bf9f 112.5px,#fbcfb7 118.5px,#fbd9c6 121.5px,#fcd9c6 122.5px,#fbd2bb 123.5px,#f9c4a5 124.5px,#f9bf9f 125.5px,#c46a6d 126.5px,#0f0e13 127.5px,#0f0e13 144.5px,#878689 145.5px)"></i><i style="top:79px;background:linear-gradient(90deg,#4b4a4e 0.5px,#0f0e13 1.5px,#0f0e13 17.5px,#131017 18.5px,#d77d77 19.5px,#f8bf9f 20.5px,#f9c6a8 21.5px,#fbd4be 22.5px,#fcdac8 23.5px,#fbd1b9 27.5px,#f9c2a3 33.5px,#f9c5a6 38.5px,#fde1d2 49.5px,#fee8dc 58.5px,#fee9dd 63.5px,#efdbd0 64.5px,#1e1c20 65.5px,#0f0e13 66.5px,#0f0e13 79.5px,#3c3739 80.5px,#fee9dd 81.5px,#fee4d6 94.5px,#fbd1ba 102.5px,#f9c2a3 108.5px,#f9c4a5 113.5px,#fcdac7 121.5px,#fcdac7 122.5px,#fbd2ba 123.5px,#f9c3a4 124.5px,#f9c0a1 125.5px,#ac5a5e 126.5px,#0f0e13 127.5px,#0f0e13 144.5px,#878689 145.5px)"></i><i style="top:80px;background:linear-gradient(90deg,#4b4a4e 0.5px,#0f0e13 1.5px,#0f0e13 18.5px,#bf666a 19.5px,#f9c0a1 20.5px,#f9c5a7 21.5px,#fbd3bd 22.5px,#fcdbc9 23.5px,#fbd6c1 26.5px,#f9c6a7 33.5px,#f9c7aa 38.5px,#fde3d4 50.5px,#fee9dd 61.5px,#fee9dd 64.5px,#d1c0b7 65.5px,#1e1c20 66.5px,#0f0e13 67.5px,#0f0e13 78.5px,#3c3739 79.5px,#efdbd0 80.5px,#fee9dd 81.5px,#fee4d5 94.5px,#fbd0b8 103.5px,#f9c5a6 109.5px,#fac9ad 114.5px,#fcdbc9 121.5px,#fcdac7 122.5px,#fbd1b9 123.5px,#f9c2a3 124.5px,#f9c2a3 125.5px,#90414b 126.5px,#0f0e13 127.5px,#0f0e13 144.5px,#878689 145.5px)"></i><i style="top:81px;background:linear-gradient(90deg,#4b4a4e 0.5px,#0f0e13 1.5px,#0f0e13 18.5px,#9e4e54 19.5px,#f9c2a3 20.5px,#f9c4a5 21.5px,#fbd2bb 22.5px,#fcdbc9 23.5px,#fcdbc8 25.5px,#fac9ac 33.5px,#facaae 38.5px,#fee4d5 51.5px,#fee9dd 65.5px,#d1c0b7 66.5px,#3c3739 67.5px,#0f0e13 68.5px,#0f0e13 77.5px,#5a5252 78.5px,#efdbd0 79.5px,#fee9dd 80.5px,#fde3d5 94.5px,#fac8ab 108.5px,#facbaf 113.5px,#fcddcb 121.5px,#fcdac8 122.5px,#f9c2a2 124.5px,#f9c2a3 125.5px,#6f2b39 126.5px,#0f0e13 127.5px,#0f0e13 144.5px,#878689 145.5px)"></i><i style="top:82px;background:linear-gradient(90deg,#4b4a4e 0.5px,#0f0e13 1.5px,#0f0e13 18.5px,#78313e 19.5px,#f9c4a5 20.5px,#f9c3a4 21.5px,#fcdbc9 23.5px,#fcdccb 25.5px,#faccb0 34.5px,#fbcfb6 40.5px,#fee5d7 52.5px,#fee9dd 67.5px,#a49791 68.5px,#3c3739 69.5px,#0f0e13 70.5px,#0f0e13 75.5px,#5a5252 76.5px,#c2b2aa 77.5px,#fee9dd 78.5px,#fee4d6 93.5px,#facbb0 108.5px,#faceb4 113.5px,#fcdecd 121.5px,#fcdac7 122.5px,#f9c1a2 124.5px,#f9b999 125.5px,#4a172e 126.5px,#0f0e13 127.5px,#0f0e13 144.5px,#878689 145.5px)"></i><i style="top:83px;background:linear-gradient(90deg,#4b4a4e 0.5px,#0f0e13 1.5px,#0f0e13 18.5px,#4f192f 19.5px,#f9bb9b 20.5px,#f9c2a3 21.5px,#fcdbc9 23.5px,#fddfce 24.5px,#faceb4 35.5px,#fbd4be 42.5px,#fee5d7 53.5px,#fee9dd 69.5px,#c2b2aa 71.5px,#867b78 72.5px,#958985 73.5px,#efdbd0 75.5px,#fee9dd 76.5px,#fee5d7 92.5px,#faceb5 108.5px,#fbd2bc 114.5px,#fddfce 121.5px,#fcd9c6 122.5px,#faccb1 123.5px,#f9c1a2 124.5px,#f29d88 125.5px,#271324 126.5px,#0f0e13 127.5px,#0f0e13 144.5px,#878689 145.5px)"></i><i style="top:84px;background:linear-gradient(90deg,#4b4a4e 0.5px,#0f0e13 1.5px,#0f0e13 18.5px,#271324 19.5px,#f29e89 20.5px,#f9c2a3 21.5px,#faccb2 22.5px,#fcdac7 23.5px,#fde0d0 24.5px,#fbd1ba 35.5px,#fbd7c3 43.5px,#fee7da 56.5px,#fee7da 88.5px,#fcdac7 100.5px,#fbd1b9 108.5px,#fbd7c3 115.5px,#fde0d0 120.5px,#fddfcf 121.5px,#fcd8c4 122.5px,#fac9ad 123.5px,#f9c3a4 124.5px,#d77d79 125.5px,#141017 126.5px,#0f0e13 128.5px,#0f0e13 144.5px,#878689 145.5px)"></i><i style="top:85px;background:linear-gradient(90deg,#4b4a4e 0.5px,#0f0e13 1.5px,#0f0e13 18.5px,#131016 19.5px,#d37a77 20.5px,#f9c4a5 21.5px,#facaae 22.5px,#fcd8c4 23.5px,#fde0d0 24.5px,#fddfce 27.5px,#fbd4be 36.5px,#fcdcca 46.5px,#fee8db 59.5px,#fee6d9 89.5px,#fbd4be 108.5px,#fcdcc9 116.5px,#fde1d2 120.5px,#fddfcf 121.5px,#fbd5c0 122.5px,#f9c7aa 123.5px,#f9c5a7 124.5px,#a8565c 125.5px,#0f0e13 126.5px,#0f0e13 144.5px,#878689 145.5px)"></i><i style="top:86px;background:linear-gradient(90deg,#4b4a4e 0.5px,#0f0e13 1.5px,#0f0e13 19.5px,#a04f56 20.5px,#f9c6a9 21.5px,#fac8aa 22.5px,#fbd5c0 23.5px,#fde0d0 24.5px,#fde2d3 26.5px,#fbd7c2 37.5px,#fee8dc 62.5px,#fee6d8 89.5px,#fbd6c2 107.5px,#fddfcf 117.5px,#fde2d4 120.5px,#fddfce 121.5px,#f9c6a8 123.5px,#f9c5a7 124.5px,#712b3a 125.5px,#0f0e13 126.5px,#0f0e13 144.5px,#878689 145.5px)"></i><i style="top:87px;background:linear-gradient(90deg,#4b4a4e 0.5px,#0f0e13 1.5px,#0f0e13 19.5px,#632335 20.5px,#f9c3a5 21.5px,#f9c6a8 22.5px,#fddfce 24.5px,#fde3d5 25.5px,#fbd9c6 39.5px,#fde3d4 53.5px,#fee9dc 68.5px,#fee5d7 89.5px,#fbd9c6 105.5px,#fddfce 115.5px,#fde3d4 120.5px,#fcddcc 121.5px,#f9c6a7 123.5px,#f6ae92 124.5px,#37142a 125.5px,#0f0e13 126.5px,#0f0e13 144.5px,#878689 145.5px)"></i><i style="top:88px;background:linear-gradient(90deg,#4b4a4e 0.5px,#0f0e13 1.5px,#0f0e13 19.5px,#291325 20.5px,#f1a08c 21.5px,#f9c6a8 22.5px,#facfb6 23.5px,#fcddcb 24.5px,#fee4d5 25.5px,#fcdbc8 42.5px,#fee8dc 65.5px,#fee5d7 88.5px,#fcdbc8 103.5px,#fde1d2 115.5px,#fde3d4 120.5px,#fcdac8 121.5px,#faccb2 122.5px,#f9c7a9 123.5px,#d77e7b 124.5px,#151018 125.5px,#0f0e13 127.5px,#0f0e13 144.5px,#878689 145.5px)"></i><i style="top:89px;background:linear-gradient(90deg,#4b4a4e 0.5px,#0f0e13 1.5px,#110f15 20.5px,#c46d6e 21.5px,#fac8ab 22.5px,#faccb1 23.5px,#fcdac7 24.5px,#fde3d5 25.5px,#fee4d6 28.5px,#fcdbc9 44.5px,#fee8db 66.5px,#fee5d7 87.5px,#fcdbc9 100.5px,#fde3d4 115.5px,#fee5d8 119.5px,#fde2d3 120.5px,#facaae 122.5px,#fac9ad 123.5px,#974751 124.5px,#0f0e13 125.5px,#0f0e13 144.5px,#878689 145.5px)"></i><i style="top:90px;background:linear-gradient(90deg,#4b4a4e 0.5px,#0f0e13 1.5px,#0f0e13 20.5px,#7a323f 21.5px,#fac9ad 22.5px,#facaae 23.5px,#fde2d2 25.5px,#fee6d9 27.5px,#fcdbc9 47.5px,#fee8db 66.5px,#fee5d7 86.5px,#fcdbc9 99.5px,#fee5d8 119.5px,#fde0d0 120.5px,#f8bc9f 123.5px,#4c1a2f 124.5px,#0f0e13 125.5px,#0f0e13 144.5px,#878689 145.5px)"></i><i style="top:91px;background:linear-gradient(90deg,#4b4a4e 0.5px,#0f0e13 1.5px,#0f0e13 20.5px,#301427 21.5px,#f3a893 22.5px,#facaae 23.5px,#fbd2bb 24.5px,#fddfcf 25.5px,#fee6d8 26.5px,#fddfce 39.5px,#fcdac8 49.5px,#fee7da 66.5px,#fee4d6 85.5px,#fcdac7 98.5px,#fee7da 118.5px,#fee5d7 119.5px,#fcddcb 120.5px,#fad0b7 121.5px,#facbaf 122.5px,#dd847f 123.5px,#18111a 124.5px,#0f0e13 125.5px,#0f0e13 144.5px,#878689 145.5px)"></i><i style="top:92px;background:linear-gradient(90deg,#4b4a4e 0.5px,#0f0e13 1.5px,#110f15 21.5px,#bd676a 22.5px,#facdb2 23.5px,#facfb7 24.5px,#fee5d7 26.5px,#fee7d9 30.5px,#fbd9c5 49.5px,#fee7da 67.5px,#fee4d5 84.5px,#fbd9c5 97.5px,#fee7da 117.5px,#fde3d5 119.5px,#faceb4 121.5px,#facdb3 122.5px,#90424c 123.5px,#0f0e13 124.5px,#0f0e13 144.5px,#878689 145.5px)"></i><i style="top:93px;background:linear-gradient(90deg,#4b4a4e 0.5px,#0f0e13 1.5px,#0f0e13 21.5px,#642537 22.5px,#fac8ad 23.5px,#facfb6 24.5px,#fde3d4 26.5px,#fee8db 28.5px,#fddfcf 40.5px,#fbd7c2 49.5px,#fee6d9 68.5px,#fde3d4 83.5px,#fbd7c2 96.5px,#fee7da 115.5px,#fee7da 118.5px,#fde1d1 119.5px,#faceb5 121.5px,#f5b09a 122.5px,#3a152a 123.5px,#0f0e13 124.5px,#0f0e13 144.5px,#878689 145.5px)"></i><i style="top:94px;background:linear-gradient(90deg,#4b4a4e 0.5px,#0f0e13 1.5px,#0f0e13 21.5px,#1c121d 22.5px,#e18c85 23.5px,#fbd0b9 24.5px,#fbd5c0 25.5px,#fde0d0 26.5px,#fee6d9 27.5px,#fee4d6 36.5px,#fbd5bf 49.5px,#fddfcf 60.5px,#fee6d8 72.5px,#fde0d1 84.5px,#fbd5bf 95.5px,#fcddcb 103.5px,#fee7da 113.5px,#fee6d8 118.5px,#fbd4be 120.5px,#fbd1ba 121.5px,#bd686b 122.5px,#110f15 123.5px,#0f0e13 144.5px,#878689 145.5px)"></i><i style="top:95px;background:linear-gradient(90deg,#4b4a4e 0.5px,#0f0e13 1.5px,#0f0e13 22.5px,#883d49 23.5px,#fbd2bc 24.5px,#fbd5c0 25.5px,#fee5d8 27.5px,#fee8db 32.5px,#fcddcc 41.5px,#fbd2bc 49.5px,#fbd7c3 56.5px,#fee4d5 67.5px,#fde2d4 80.5px,#fbd2bc 94.5px,#fbd7c2 100.5px,#fee6d8 110.5px,#fee8db 117.5px,#fee4d6 118.5px,#fbd4be 120.5px,#fac7ae 121.5px,#5a2134 122.5px,#0f0e13 123.5px,#0f0e13 144.5px,#878689 145.5px)"></i><i style="top:96px;background:linear-gradient(90deg,#4b4a4e 0.5px,#0f0e13 1.5px,#0f0e13 22.5px,#2a1324 23.5px,#eda395 24.5px,#fbd8c4 25.5px,#fee8db 28.5px,#fee4d6 37.5px,#fbd0b8 49.5px,#fbd4bf 56.5px,#fde3d4 68.5px,#fde1d1 80.5px,#fbcfb7 94.5px,#fbd7c3 101.5px,#fee6d9 110.5px,#fee7da 117.5px,#fbd8c4 120.5px,#d27d7d 121.5px,#161019 122.5px,#0f0e13 123.5px,#0f0e13 144.5px,#878689 145.5px)"></i><i style="top:97px;background:linear-gradient(90deg,#4b4a4e 0.5px,#0f0e13 1.5px,#0f0e13 23.5px,#964852 24.5px,#fcdbc8 25.5px,#fee8db 28.5px,#fee4d6 37.5px,#faceb3 49.5px,#fbd0b8 55.5px,#fde1d2 68.5px,#fde0d0 79.5px,#facdb2 94.5px,#fbd3bd 100.5px,#fee5d8 109.5px,#fee7da 117.5px,#fcddcc 119.5px,#fbd1bc 120.5px,#68283a 121.5px,#0f0e13 122.5px,#0f0e13 144.5px,#878689 145.5px)"></i><i style="top:98px;background:linear-gradient(90deg,#4b4a4e 0.5px,#0f0e13 1.5px,#0f0e13 23.5px,#2c1324 24.5px,#eea99d 25.5px,#fde2d3 26.5px,#fee9dc 29.5px,#fde2d3 38.5px,#facbaf 49.5px,#facdb2 55.5px,#fddfce 67.5px,#fde0d1 76.5px,#fbd3bd 86.5px,#facaae 93.5px,#faceb4 98.5px,#fee4d6 108.5px,#fee8db 117.5px,#fde2d3 119.5px,#d38181 120.5px,#17111a 121.5px,#0f0e13 122.5px,#0f0e13 144.5px,#878689 145.5px)"></i><i style="top:99px;background:linear-gradient(90deg,#4b4a4e 0.5px,#0f0e13 1.5px,#0f0e13 24.5px,#8c404e 25.5px,#fde2d3 26.5px,#fee8db 27.5px,#fee5d7 36.5px,#fbd0b8 45.5px,#f9c7a9 50.5px,#fac9ad 55.5px,#fcddcc 67.5px,#fddfce 76.5px,#fbd2bb 85.5px,#f9c7a8 93.5px,#faccb1 98.5px,#fee4d6 108.5px,#fee8db 117.5px,#fee8db 118.5px,#fcd4c2 119.5px,#5e2437 120.5px,#0f0e13 121.5px,#0f0e13 144.5px,#878689 145.5px)"></i><i style="top:100px;background:linear-gradient(90deg,#4b4a4e 0.5px,#0f0e13 1.5px,#0f0e13 24.5px,#21121f 25.5px,#e29893 26.5px,#fee6d8 27.5px,#fee5d7 29.5px,#fee7da 34.5px,#fcddcb 40.5px,#f9c5a7 49.5px,#f9c4a6 54.5px,#fcddcb 68.5px,#fcddcc 76.5px,#facfb6 85.5px,#f9c3a4 92.5px,#f9c8aa 97.5px,#fee4d6 108.5px,#fee8db 114.5px,#fee4d6 117.5px,#fee6d9 118.5px,#c06e74 119.5px,#131017 120.5px,#0f0e13 123.5px,#0f0e13 144.5px,#878689 145.5px)"></i><i style="top:101px;background:linear-gradient(90deg,#4b4a4e 0.5px,#0f0e13 1.5px,#0f0e13 25.5px,#682a3b 26.5px,#fbd2c0 27.5px,#fddfce 28.5px,#fee8db 32.5px,#fde1d2 38.5px,#f9c2a4 49.5px,#f9c0a1 54.5px,#fcdbc9 68.5px,#fcdcca 76.5px,#facdb2 85.5px,#f9bfa0 92.5px,#f9c5a7 97.5px,#fde2d3 107.5px,#fee8db 113.5px,#fddfcf 116.5px,#fddfcf 117.5px,#f4b9aa 118.5px,#3f192b 119.5px,#0f0e13 120.5px,#0f0e13 144.5px,#878689 145.5px)"></i><i style="top:102px;background:linear-gradient(90deg,#4b4a4e 0.5px,#0f0e13 1.5px,#0f0e13 25.5px,#141017 26.5px,#bb656b 27.5px,#fcdbc9 28.5px,#fcd9c6 29.5px,#fee7da 32.5px,#fde1d2 38.5px,#f9c0a0 49.5px,#f8bd9c 54.5px,#fcdbc9 69.5px,#fcdbc8 76.5px,#facaad 85.5px,#f8bd9b 92.5px,#f9c3a5 97.5px,#fde2d3 107.5px,#fee8db 112.5px,#fde3d4 114.5px,#fcd9c6 116.5px,#fcd8c4 117.5px,#90414f 118.5px,#0f0e13 119.5px,#0f0e13 144.5px,#878689 145.5px)"></i><i style="top:103px;background:linear-gradient(90deg,#4b4a4e 0.5px,#0f0e13 1.5px,#0f0e13 26.5px,#341626 27.5px,#eca396 28.5px,#fbd6c0 29.5px,#fbd6c1 30.5px,#fde4d6 32.5px,#fee6d9 35.5px,#fcd9c6 41.5px,#f8be9e 49.5px,#f8bb99 54.5px,#facdb3 62.5px,#fcdac7 69.5px,#fcdac7 76.5px,#facaae 84.5px,#f8bb98 91.5px,#f8bf9e 96.5px,#fde2d3 107.5px,#fee7d9 112.5px,#fcdcca 114.5px,#fbd5c0 115.5px,#fbd7c2 116.5px,#d47f7c 117.5px,#1d111d 118.5px,#0f0e13 119.5px,#0f0e13 144.5px,#878689 145.5px)"></i><i style="top:104px;background:linear-gradient(90deg,#4b4a4e 0.5px,#0f0e13 1.5px,#0f0e13 27.5px,#6f2d3f 28.5px,#f9c6ae 29.5px,#fbd1ba 30.5px,#fbd5bf 31.5px,#fee4d6 33.5px,#fee5d7 36.5px,#fbd2bb 43.5px,#f8bb99 50.5px,#f8ba97 55.5px,#fcd9c7 69.5px,#fcd9c6 76.5px,#f9c5a7 85.5px,#f8b996 91.5px,#f8be9d 96.5px,#fde2d3 107.5px,#fee6d9 111.5px,#fde3d5 112.5px,#fbd3bd 114.5px,#fbd1ba 115.5px,#f2b09d 116.5px,#471b2e 117.5px,#0f0e13 118.5px,#0f0e13 144.5px,#878689 145.5px)"></i><i style="top:105px;background:linear-gradient(90deg,#4b4a4e 0.5px,#0f0e13 1.5px,#0f0e13 27.5px,#130f16 28.5px,#ab545d 29.5px,#fbcfb6 30.5px,#faceb5 31.5px,#fee4d6 34.5px,#fde3d5 37.5px,#facfb6 44.5px,#f8ba98 50.5px,#f8b895 55.5px,#facaae 62.5px,#fcdac7 70.5px,#fbd9c6 76.5px,#f9c4a5 85.5px,#f8b794 91.5px,#f8bd9c 96.5px,#fde2d3 107.5px,#fee5d8 110.5px,#fde3d5 111.5px,#fbd3bc 113.5px,#fac7ae 115.5px,#803647 116.5px,#0f0e13 117.5px,#0f0e13 144.5px,#878689 145.5px)"></i><i style="top:106px;background:linear-gradient(90deg,#4b4a4e 0.5px,#0f0e13 1.5px,#0f0e13 28.5px,#22121f 29.5px,#d57d77 30.5px,#facdb3 31.5px,#facdb2 32.5px,#fcdecd 34.5px,#fde3d5 35.5px,#fde2d3 38.5px,#faccb0 45.5px,#f8bb98 50.5px,#f8b895 55.5px,#f9c7a8 61.5px,#fcd9c6 69.5px,#fcdac7 75.5px,#faccb1 82.5px,#f8b996 89.5px,#f8b996 94.5px,#faccb2 100.5px,#fde2d3 107.5px,#fde3d4 110.5px,#faccb1 113.5px,#facdb3 114.5px,#b35960 115.5px,#151018 116.5px,#0f0e13 118.5px,#0f0e13 144.5px,#878689 145.5px)"></i><i style="top:107px;background:linear-gradient(90deg,#4b4a4e 0.5px,#0f0e13 1.5px,#0f0e13 29.5px,#3d182a 30.5px,#ea9b8c 31.5px,#facbaf 32.5px,#faccb1 33.5px,#fcdecd 35.5px,#fde3d4 36.5px,#fde0cf 39.5px,#f8bb99 50.5px,#f8b895 55.5px,#f9c6a8 61.5px,#fcd9c6 69.5px,#fcdac8 75.5px,#faccb1 82.5px,#f8b996 89.5px,#f8ba97 94.5px,#facdb3 100.5px,#fde2d3 107.5px,#fde2d3 109.5px,#fcdccb 110.5px,#facbaf 112.5px,#faccb0 113.5px,#d47b76 114.5px,#241220 115.5px,#0f0e13 116.5px,#0f0e13 144.5px,#878689 145.5px)"></i><i style="top:108px;background:linear-gradient(90deg,#4b4a4e 0.5px,#0f0e13 1.5px,#0f0e13 30.5px,#5b2336 31.5px,#f3ae97 32.5px,#fac8ab 33.5px,#facbaf 34.5px,#fcddcc 36.5px,#fde2d3 38.5px,#faceb4 45.5px,#f8bb99 51.5px,#f8ba98 56.5px,#fcdac7 69.5px,#fcdbc9 75.5px,#fac9ad 83.5px,#f8ba98 89.5px,#f8bb99 94.5px,#fbd5bf 102.5px,#fde2d3 107.5px,#fde1d2 108.5px,#fcdcca 109.5px,#facaad 111.5px,#fac9ac 112.5px,#e69486 113.5px,#391728 114.5px,#0f0e13 115.5px,#0f0e13 144.5px,#878689 145.5px)"></i><i style="top:109px;background:linear-gradient(90deg,#4b4a4e 0.5px,#0f0e13 1.5px,#100e14 31.5px,#742e42 32.5px,#f7b79d 33.5px,#f9c7a9 34.5px,#facaae 35.5px,#fcdcca 37.5px,#fde0d0 39.5px,#faccb1 46.5px,#f8bb99 52.5px,#f8bd9c 57.5px,#fcdbc8 69.5px,#fcdcca 75.5px,#facbaf 83.5px,#f8bc9a 89.5px,#f8bd9c 94.5px,#fde0d1 106.5px,#fde0cf 107.5px,#fcdbc8 108.5px,#fac9ac 110.5px,#f9c7aa 111.5px,#eea28f 112.5px,#4e1e31 113.5px,#0f0e13 114.5px,#0f0e13 144.5px,#878689 145.5px)"></i><i style="top:110px;background:linear-gradient(90deg,#4b4a4e 0.5px,#0f0e13 1.5px,#110f15 32.5px,#843748 33.5px,#f8ba9e 34.5px,#f9c5a7 35.5px,#fac9ac 36.5px,#fcdac8 38.5px,#fddfcd 40.5px,#f9bfa0 51.5px,#f8be9e 56.5px,#fcdcca 69.5px,#fcddcb 75.5px,#facfb5 82.5px,#f8be9d 89.5px,#f9c0a0 94.5px,#fddfce 105.5px,#fcdecd 106.5px,#fcd9c6 107.5px,#fac7aa 109.5px,#f9c6a8 110.5px,#f2a992 111.5px,#5d2437 112.5px,#0f0e13 113.5px,#0f0e13 144.5px,#878689 145.5px)"></i><i style="top:111px;background:linear-gradient(90deg,#4b4a4e 0.5px,#0f0e13 1.5px,#120f15 33.5px,#8a3a4a 34.5px,#f8ba9d 35.5px,#f9c4a5 36.5px,#fac7aa 37.5px,#fcd8c5 39.5px,#fcddcb 41.5px,#f9c3a4 51.5px,#f9c1a2 56.5px,#fbd6c0 65.5px,#fddfcf 72.5px,#fbd8c4 79.5px,#f9c3a4 88.5px,#f9c2a3 93.5px,#fbd0b8 99.5px,#fcddcb 104.5px,#fcdcca 105.5px,#fbd7c3 106.5px,#f9c6a8 108.5px,#f9c5a6 109.5px,#f2a992 110.5px,#64273a 111.5px,#0f0e13 112.5px,#0f0e13 144.5px,#878689 145.5px)"></i><i style="top:112px;background:linear-gradient(90deg,#4b4a4e 0.5px,#0f0e13 1.5px,#120f16 34.5px,#863849 35.5px,#f7b59a 36.5px,#f9c3a4 37.5px,#f9c5a7 38.5px,#fbd6c1 40.5px,#fcdbc9 42.5px,#f9c6a7 52.5px,#f9c7a9 57.5px,#fddfce 69.5px,#fde0cf 75.5px,#faceb4 84.5px,#f9c5a6 90.5px,#fac9ac 95.5px,#fcdbc9 103.5px,#fcdac7 104.5px,#f9c4a5 107.5px,#f9c4a5 108.5px,#f0a48e 109.5px,#612638 110.5px,#0f0e13 111.5px,#0f0e13 144.5px,#878689 145.5px)"></i><i style="top:113px;background:linear-gradient(90deg,#4b4a4e 0.5px,#0f0e13 1.5px,#110f15 35.5px,#782f43 36.5px,#f4ac93 37.5px,#f9c2a3 38.5px,#f9c2a4 39.5px,#fbd8c4 42.5px,#fcd9c6 44.5px,#facaad 52.5px,#facbaf 57.5px,#fde1d2 70.5px,#fde0d0 76.5px,#fac9ad 89.5px,#facbaf 94.5px,#fcdac7 102.5px,#fbd1ba 104.5px,#f9c2a2 106.5px,#f9c3a4 107.5px,#ea9786 108.5px,#552134 109.5px,#0f0e13 110.5px,#0f0e13 144.5px,#878689 145.5px)"></i><i style="top:114px;background:linear-gradient(90deg,#4b4a4e 0.5px,#0f0e13 1.5px,#100e14 36.5px,#602538 37.5px,#ec9a88 38.5px,#f9c2a3 39.5px,#f9c0a0 40.5px,#fbd5c0 43.5px,#fbd8c5 45.5px,#facdb2 53.5px,#fbd0b9 59.5px,#fde2d4 70.5px,#fde0d0 77.5px,#facdb3 89.5px,#fbd0b8 95.5px,#fbd8c5 100.5px,#fbd4bf 102.5px,#f9c5a7 104.5px,#f9c0a0 105.5px,#f9c3a4 106.5px,#dc8377 107.5px,#42192c 108.5px,#0f0e13 109.5px,#0f0e13 144.5px,#878689 145.5px)"></i><i style="top:115px;background:linear-gradient(90deg,#4b4a4e 0.5px,#0f0e13 1.5px,#0f0e13 37.5px,#431a2d 38.5px,#da7e75 39.5px,#f9c2a2 40.5px,#f8bf9e 41.5px,#f9c3a4 42.5px,#fbd2bb 44.5px,#fbd8c4 46.5px,#fbd0b8 55.5px,#fddfcf 66.5px,#fee4d6 74.5px,#fbd6c2 84.5px,#fbd0b8 91.5px,#fbd8c4 99.5px,#fbd1b9 101.5px,#f9c1a2 103.5px,#f9bf9f 105.5px,#c26464 106.5px,#2c1324 107.5px,#0f0e13 108.5px,#0f0e13 144.5px,#878689 145.5px)"></i><i style="top:116px;background:linear-gradient(90deg,#4b4a4e 0.5px,#0f0e13 1.5px,#0f0e13 38.5px,#271222 39.5px,#b4575d 40.5px,#f8ba9a 41.5px,#f9bf9f 43.5px,#fbd4be 46.5px,#fbd7c3 49.5px,#fbd4be 56.5px,#fee5d8 71.5px,#fde1d1 79.5px,#fbd4be 90.5px,#fbd6c2 98.5px,#facdb2 100.5px,#f8be9e 102.5px,#f8bf9f 103.5px,#f6ae93 104.5px,#96414e 105.5px,#1a111b 106.5px,#0f0e13 107.5px,#0f0e13 144.5px,#878689 145.5px)"></i><i style="top:117px;background:linear-gradient(90deg,#4b4a4e 0.5px,#0f0e13 1.5px,#0f0e13 39.5px,#151018 40.5px,#7b3143 41.5px,#ee9d87 42.5px,#f9c0a0 43.5px,#f8bd9c 44.5px,#fac9ad 46.5px,#fbd5bf 48.5px,#fbd8c4 51.5px,#fcdac7 59.5px,#fee6d9 71.5px,#fde0d0 81.5px,#fbd7c3 91.5px,#fbd7c3 96.5px,#facfb6 98.5px,#f9c0a0 100.5px,#f8bd9c 101.5px,#f9c0a0 102.5px,#e2897b 103.5px,#5d2336 104.5px,#110f14 105.5px,#0f0e13 144.5px,#878689 145.5px)"></i><i style="top:118px;background:linear-gradient(90deg,#4b4a4e 0.5px,#0f0e13 1.5px,#0f0e13 41.5px,#3e182a 42.5px,#c66767 43.5px,#f8ba9a 44.5px,#f8be9d 46.5px,#fbd6c1 50.5px,#fcdac8 54.5px,#fee7da 73.5px,#fbd8c4 94.5px,#facaad 97.5px,#f8bd9c 99.5px,#f8be9d 100.5px,#f7b194 101.5px,#ac5259 102.5px,#2a1323 103.5px,#0f0e13 104.5px,#0f0e13 144.5px,#878689 145.5px)"></i><i style="top:119px;background:linear-gradient(90deg,#4b4a4e 0.5px,#0f0e13 1.5px,#0f0e13 42.5px,#171019 43.5px,#782f41 44.5px,#e88f7f 45.5px,#f9bf9f 46.5px,#f8bd9c 47.5px,#f9c5a7 49.5px,#fbd7c2 52.5px,#fcdecd 57.5px,#fee8db 72.5px,#fcdecd 88.5px,#fcd9c6 92.5px,#facbaf 95.5px,#f8be9d 97.5px,#f9be9d 99.5px,#d97c74 100.5px,#5c2236 101.5px,#120f16 102.5px,#0f0e13 144.5px,#878689 145.5px)"></i><i style="top:120px;background:linear-gradient(90deg,#4b4a4e 0.5px,#0f0e13 1.5px,#0f0e13 44.5px,#2b1324 45.5px,#9f4852 46.5px,#f2a28a 47.5px,#f9c0a0 48.5px,#f8bd9c 49.5px,#f9c5a7 51.5px,#fbd7c3 54.5px,#fde1d2 59.5px,#fee8db 74.5px,#fddfce 88.5px,#fbd6c2 91.5px,#f8bf9e 95.5px,#f9c09f 97.5px,#ea9281 98.5px,#853746 99.5px,#1e121e 100.5px,#0f0e13 101.5px,#0f0e13 144.5px,#878689 145.5px)"></i><i style="top:121px;background:linear-gradient(90deg,#4b4a4e 0.5px,#0f0e13 1.5px,#100e14 46.5px,#3c172a 47.5px,#ac535a 48.5px,#f3a58c 49.5px,#f9c1a1 50.5px,#f9c0a0 52.5px,#fcdbc8 57.5px,#fee5d7 62.5px,#fee8db 77.5px,#fde0d0 86.5px,#fbd5c0 89.5px,#f9bf9f 93.5px,#f9c0a0 95.5px,#ed9783 96.5px,#96424e 97.5px,#2b1324 98.5px,#0f0e13 99.5px,#0f0e13 144.5px,#878689 145.5px)"></i><i style="top:122px;background:linear-gradient(90deg,#4b4a4e 0.5px,#0f0e13 1.5px,#100f14 48.5px,#3d172a 49.5px,#a34e56 50.5px,#ee9a85 51.5px,#f9c1a2 52.5px,#f9c0a1 54.5px,#fddfcf 61.5px,#fee7da 67.5px,#fee6d8 80.5px,#fcdbc9 85.5px,#f9c3a4 90.5px,#f9bf9f 93.5px,#e58b7e 94.5px,#8f3e4a 95.5px,#2d1325 96.5px,#0f0e13 97.5px,#0f0e13 144.5px,#878689 145.5px)"></i><i style="top:123px;background:linear-gradient(90deg,#4b4a4e 0.5px,#0f0e13 1.5px,#0f0e13 50.5px,#2c1325 51.5px,#833744 52.5px,#d87c77 53.5px,#f8b697 54.5px,#f9c4a6 55.5px,#f9c3a5 57.5px,#fde0d0 65.5px,#fee8dc 72.5px,#fde2d3 79.5px,#fbd2bb 84.5px,#f9c3a4 88.5px,#f9c4a6 90.5px,#f6ad91 91.5px,#ca6f6f 92.5px,#702a3c 93.5px,#211220 94.5px,#0f0e13 95.5px,#0f0e13 144.5px,#878689 145.5px)"></i><i style="top:124px;background:linear-gradient(90deg,#4b4a4e 0.5px,#0f0e13 1.5px,#0f0e13 52.5px,#17111a 53.5px,#4e1b30 54.5px,#9f4c55 55.5px,#e1877e 56.5px,#f8b899 57.5px,#f9c7a9 58.5px,#fac8aa 61.5px,#fee8dc 72.5px,#fcddcc 77.5px,#f9c7aa 84.5px,#f9c6a8 87.5px,#f7b094 88.5px,#d77c78 89.5px,#8f404a 90.5px,#3f162b 91.5px,#130f16 92.5px,#0f0e13 96.5px,#0f0e13 144.5px,#878689 145.5px)"></i><i style="top:125px;background:linear-gradient(90deg,#4b4a4e 0.5px,#0f0e13 1.5px,#0f0e13 55.5px,#1a111c 56.5px,#4a192e 57.5px,#8c3f49 58.5px,#c47170 59.5px,#e7968c 60.5px,#f7ae94 61.5px,#f8b999 62.5px,#f9bda1 66.5px,#fcd5c1 72.5px,#fbd0ba 74.5px,#f8bb9d 80.5px,#f8b899 83.5px,#f5a993 84.5px,#e19088 85.5px,#bb6768 86.5px,#7f3541 87.5px,#3e162b 88.5px,#151018 89.5px,#0f0e13 90.5px,#0f0e13 144.5px,#878689 145.5px)"></i><i style="top:126px;background:linear-gradient(90deg,#4b4a4e 0.5px,#0f0e13 1.5px,#100e14 59.5px,#251323 61.5px,#3d142b 63.5px,#44142d 74.5px,#40142c 81.5px,#3b142b 82.5px,#221322 84.5px,#151119 85.5px,#0f0e13 87.5px,#0f0e13 144.5px,#878689 145.5px)"></i><i style="top:127px;height:18px;background:linear-gradient(90deg,#4b4a4e 0.5px,#0f0e13 1.5px,#0f0e13 144.5px,#878689 145.5px)"></i><i style="top:145px;background:linear-gradient(90deg,#78777a 0.5px,#4b4a4e 1.5px,#4b4a4e 144.5px,#a5a5a6 145.5px)"></i></div>
<div class="hm" style="left:271px;top:213px;width:147px;height:146px"><i style="top:0px;background:linear-gradient(90deg,#ffffff 0.5px,#404040 1.5px,#404040 145.5px,#cfcfcf 146.5px)"></i><i style="top:1px;height:19px;background:linear-gradient(90deg,#ffffff 0.5px,#000000 1.5px,#000000 145.5px,#bfbfbf 146.5px)"></i><i style="top:20px;background:linear-gradient(90deg,#ffffff 0.5px,#000000 1.5px,#000000 59.5px,#121f26 60.5px,#2f4c5c 61.5px,#4d7286 62.5px,#668fa4 63.5px,#a0adb5 70.5px,#b8b8b8 75.5px,#bda292 81.5px,#bb9480 83.5px,#aa816d 84.5px,#6c4e40 85.5px,#2e2019 86.5px,#000000 87.5px,#000000 145.5px,#bfbfbf 146.5px)"></i><i style="top:21px;background:linear-gradient(90deg,#ffffff 0.5px,#000000 1.5px,#000000 56.5px,#2b5b79 58.5px,#4587ae 59.5px,#5ca3cb 60.5px,#9fcce2 65.5px,#d4e7f1 70.5px,#f6f6f6 75.5px,#fcd7c2 81.5px,#f4a684 86.5px,#e19173 87.5px,#a1624d 88.5px,#563127 89.5px,#0e0806 90.5px,#000000 91.5px,#000000 145.5px,#bfbfbf 146.5px)"></i><i style="top:22px;background:linear-gradient(90deg,#ffffff 0.5px,#000000 1.5px,#000000 53.5px,#0e1c2b 54.5px,#254b6f 55.5px,#3b78ab 56.5px,#4188bc 57.5px,#4c98c5 59.5px,#9dcbe1 65.5px,#d4e7f1 70.5px,#f6f6f5 75.5px,#fcd6c0 81.5px,#ee9878 87.5px,#de735c 90.5px,#954839 91.5px,#4f231c 92.5px,#000000 93.5px,#000000 145.5px,#bfbfbf 146.5px)"></i><i style="top:23px;background:linear-gradient(90deg,#ffffff 0.5px,#000000 1.5px,#000000 50.5px,#030509 51.5px,#162943 52.5px,#2e5a91 53.5px,#376fac 54.5px,#4996c4 59.5px,#9ccae1 65.5px,#d4e7f0 70.5px,#f6f6f5 75.5px,#fcd5be 81.5px,#f2a280 86.5px,#d05b49 92.5px,#bc4c3f 93.5px,#170807 95.5px,#000000 96.5px,#000000 145.5px,#bfbfbf 146.5px)"></i><i style="top:24px;background:linear-gradient(90deg,#ffffff 0.5px,#000000 1.5px,#000000 48.5px,#030407 49.5px,#17243c 50.5px,#2d4d7e 51.5px,#325a94 52.5px,#366caa 54.5px,#4794c3 59.5px,#9ac9e0 65.5px,#d3e6f0 70.5px,#f6f6f5 75.5px,#fcd3bd 81.5px,#f19f7e 86.5px,#cd5747 92.5px,#b83835 95.5px,#6f1c1d 96.5px,#150505 97.5px,#000000 98.5px,#000000 145.5px,#bfbfbf 146.5px)"></i><i style="top:25px;background:linear-gradient(90deg,#ffffff 0.5px,#000000 1.5px,#000000 46.5px,#060202 47.5px,#1c1726 48.5px,#28385f 49.5px,#2f4e80 51.5px,#3569a8 54.5px,#4592c1 59.5px,#5ea5cc 61.5px,#99c9e0 65.5px,#d3e6f0 70.5px,#f6f6f5 75.5px,#fddbc8 80.5px,#f09c7b 86.5px,#d25e4b 91.5px,#ae292d 96.5px,#a22529 97.5px,#5d1619 98.5px,#110405 99.5px,#000000 100.5px,#000000 145.5px,#bfbfbf 146.5px)"></i><i style="top:26px;background:linear-gradient(90deg,#ffffff 0.5px,#000000 1.5px,#000000 45.5px,#661b20 47.5px,#54212e 48.5px,#2a375f 49.5px,#3466a4 54.5px,#448fc0 59.5px,#4d99c6 60.5px,#97c8e0 65.5px,#d3e6f0 70.5px,#f6f5f5 75.5px,#fddac7 80.5px,#ef9979 86.5px,#d05b48 91.5px,#a9262b 96.5px,#801f25 99.5px,#3a0f11 100.5px,#070202 101.5px,#000000 102.5px,#000000 145.5px,#bfbfbf 146.5px)"></i><i style="top:27px;background:linear-gradient(90deg,#ffffff 0.5px,#000000 1.5px,#000000 43.5px,#1d0707 44.5px,#731b1f 45.5px,#811f25 46.5px,#671c21 48.5px,#3d2b45 49.5px,#2b3c65 50.5px,#33629f 54.5px,#3974af 56.5px,#4a97c4 60.5px,#a3cee3 66.5px,#d3e6f0 70.5px,#f7f5f5 75.5px,#fddac6 80.5px,#f3a482 85.5px,#d5624d 90.5px,#ae2a2d 95.5px,#6c1d22 100.5px,#481e2a 101.5px,#0d111d 102.5px,#000000 103.5px,#000000 145.5px,#bfbfbf 146.5px)"></i><i style="top:28px;background:linear-gradient(90deg,#ffffff 0.5px,#000000 1.5px,#000000 42.5px,#571516 43.5px,#a32529 44.5px,#6f1d22 48.5px,#5b1e27 49.5px,#2a375f 50.5px,#3568a7 55.5px,#4894c3 60.5px,#a1cde3 66.5px,#d2e6f0 70.5px,#f7f5f4 75.5px,#fdd9c5 80.5px,#f2a17f 85.5px,#d25f4b 90.5px,#aa272b 95.5px,#641b20 100.5px,#343050 101.5px,#2b3c66 102.5px,#1f2f4e 103.5px,#030508 104.5px,#000000 105.5px,#000000 145.5px,#bfbfbf 146.5px)"></i><i style="top:29px;background:linear-gradient(90deg,#ffffff 0.5px,#000000 1.5px,#000000 40.5px,#180807 41.5px,#952d2b 42.5px,#b22f30 43.5px,#9f2429 45.5px,#691c21 49.5px,#3e2b45 50.5px,#2b3c66 51.5px,#3465a3 55.5px,#4692c2 60.5px,#73b1d3 63.5px,#a0cce2 66.5px,#d2e6f0 70.5px,#f7f5f4 75.5px,#fcd8c3 80.5px,#f19f7d 85.5px,#d05b49 90.5px,#af2b2e 94.5px,#6a1c21 99.5px,#45273d 100.5px,#2a3962 101.5px,#2e4a7a 103.5px,#2d4d7e 104.5px,#0c1625 105.5px,#000000 106.5px,#000000 145.5px,#bfbfbf 146.5px)"></i><i style="top:30px;background:linear-gradient(90deg,#ffffff 0.5px,#000000 1.5px,#000000 39.5px,#3f1915 40.5px,#b6433a 41.5px,#bd3f39 42.5px,#a7262a 45.5px,#711d22 49.5px,#5c1e27 50.5px,#2a375f 51.5px,#33619d 55.5px,#3a74af 57.5px,#4590c0 60.5px,#60a6cd 62.5px,#9fcce2 66.5px,#d2e6f0 70.5px,#f7f5f4 75.5px,#fcd7c2 80.5px,#f09c7b 85.5px,#cd5746 90.5px,#aa272b 94.5px,#6f1d22 98.5px,#5b1e27 99.5px,#2a375e 100.5px,#335f9b 105.5px,#1a3453 106.5px,#000000 107.5px,#000000 145.5px,#bfbfbf 146.5px)"></i><i style="top:31px;background:linear-gradient(90deg,#ffffff 0.5px,#000000 1.5px,#000000 38.5px,#6a3026 39.5px,#cd5747 40.5px,#ae2a2d 45.5px,#6a1c21 50.5px,#3e2b45 51.5px,#2b3c66 52.5px,#3568a6 56.5px,#448ebf 60.5px,#4d99c6 61.5px,#9ecbe2 66.5px,#d2e5f0 70.5px,#f7f5f4 75.5px,#fcd7c1 80.5px,#ef9979 85.5px,#d3604c 89.5px,#b02c2e 93.5px,#842025 96.5px,#671c21 98.5px,#372e4c 99.5px,#2b3c66 100.5px,#3466a4 105.5px,#376caa 106.5px,#274f78 107.5px,#04080b 108.5px,#000000 109.5px,#000000 145.5px,#bfbfbf 146.5px)"></i><i style="top:32px;background:linear-gradient(90deg,#ffffff 0.5px,#000000 1.5px,#000000 37.5px,#8a4537 38.5px,#d86751 39.5px,#ac282c 46.5px,#731e23 50.5px,#5d1e27 51.5px,#2a375f 52.5px,#3464a2 56.5px,#4a97c4 61.5px,#9dcbe1 66.5px,#d1e5f0 70.5px,#f7f5f4 75.5px,#fcd6c1 80.5px,#f4a684 84.5px,#d05c49 89.5px,#ab282c 93.5px,#6d1d22 97.5px,#492639 98.5px,#2a3962 99.5px,#3464a2 104.5px,#3b78b1 107.5px,#326693 108.5px,#04080c 109.5px,#000000 110.5px,#000000 145.5px,#bfbfbf 146.5px)"></i><i style="top:33px;background:linear-gradient(90deg,#ffffff 0.5px,#000000 1.5px,#000000 35.5px,#0f0907 36.5px,#b96853 37.5px,#e0775f 38.5px,#b83835 45.5px,#a8262b 47.5px,#6c1d21 51.5px,#45283d 52.5px,#2b3d67 53.5px,#33609c 56.5px,#366ca9 57.5px,#4895c3 61.5px,#9dcbe1 66.5px,#d1e5f0 70.5px,#f7f5f4 75.5px,#fcd6c0 80.5px,#f3a482 84.5px,#cd5747 89.5px,#b12e2f 92.5px,#932327 94.5px,#601d24 97.5px,#2d355a 98.5px,#325a93 102.5px,#366aa8 104.5px,#3f83b8 108.5px,#356f99 109.5px,#0d1b24 110.5px,#000000 111.5px,#000000 145.5px,#bfbfbf 146.5px)"></i><i style="top:34px;background:linear-gradient(90deg,#ffffff 0.5px,#000000 1.5px,#000000 34.5px,#0f0a08 35.5px,#bf765d 36.5px,#e8896c 37.5px,#ca5344 43.5px,#af2b2e 47.5px,#852026 50.5px,#611d24 52.5px,#2d365c 53.5px,#3568a7 57.5px,#4793c2 61.5px,#9ccae1 66.5px,#d1e5f0 70.5px,#f7f5f4 75.5px,#fcd5c0 80.5px,#f3a381 84.5px,#d5624d 88.5px,#ad292c 92.5px,#6a1c21 96.5px,#3b2d49 97.5px,#2b3d67 98.5px,#33619e 102.5px,#3870ac 104.5px,#448ebf 109.5px,#438bb7 110.5px,#0f1d25 111.5px,#000000 112.5px,#000000 145.5px,#bfbfbf 146.5px)"></i><i style="top:35px;background:linear-gradient(90deg,#ffffff 0.5px,#000000 1.5px,#000000 33.5px,#0f0b09 34.5px,#c58469 35.5px,#f09b7a 36.5px,#d05b49 43.5px,#ad292c 48.5px,#6e1d22 52.5px,#45283e 53.5px,#2b3e68 54.5px,#3465a2 57.5px,#4692c1 61.5px,#7bb6d6 64.5px,#aad2e5 67.5px,#d1e5f0 70.5px,#f7f5f4 75.5px,#fcd5bf 80.5px,#f2a180 84.5px,#d25e4b 88.5px,#b33031 91.5px,#a6262a 92.5px,#701d22 95.5px,#512332 96.5px,#2b3962 97.5px,#3568a6 102.5px,#4794c3 109.5px,#4f9ac7 110.5px,#5397bd 111.5px,#121f27 112.5px,#000000 113.5px,#000000 145.5px,#bfbfbf 146.5px)"></i><i style="top:36px;background:linear-gradient(90deg,#ffffff 0.5px,#000000 1.5px,#000000 32.5px,#0f0b0a 33.5px,#c89076 34.5px,#f5aa89 35.5px,#d6644e 43.5px,#aa272b 49.5px,#781e23 52.5px,#621d24 53.5px,#2d365c 54.5px,#33609d 57.5px,#376eab 58.5px,#4591c1 61.5px,#67aad0 63.5px,#9dcae1 66.5px,#d2e5f0 70.5px,#f7f5f4 75.5px,#fcd5c0 80.5px,#f2a07f 84.5px,#d05b49 88.5px,#af2b2e 91.5px,#771e23 94.5px,#631d24 95.5px,#313356 96.5px,#2c416d 97.5px,#3467a5 101.5px,#4894c3 108.5px,#63a8ce 111.5px,#65a2c4 112.5px,#070b0d 113.5px,#000000 114.5px,#000000 145.5px,#bfbfbf 146.5px)"></i><i style="top:37px;background:linear-gradient(90deg,#ffffff 0.5px,#000000 1.5px,#000000 32.5px,#9b7766 33.5px,#f7b89b 34.5px,#ec9374 39.5px,#cf5948 45.5px,#b12e2f 49.5px,#952327 51.5px,#701d22 53.5px,#45283e 54.5px,#2c3f6b 55.5px,#366ba8 58.5px,#4590c0 61.5px,#529dc8 62.5px,#8dc2dc 65.5px,#d2e6f0 70.5px,#f7f5f4 75.5px,#fcd6c1 80.5px,#f2a07e 84.5px,#cd5746 88.5px,#a9272b 91.5px,#6d1d22 94.5px,#422a42 95.5px,#2b3e68 96.5px,#3466a4 100.5px,#4895c3 107.5px,#77b4d5 112.5px,#6897af 113.5px,#090c0e 114.5px,#000000 115.5px,#000000 145.5px,#bfbfbf 146.5px)"></i><i style="top:38px;background:linear-gradient(90deg,#ffffff 0.5px,#000000 1.5px,#000000 31.5px,#8d7365 32.5px,#f9c6ac 33.5px,#f09d7c 39.5px,#ce5947 46.5px,#af2b2e 50.5px,#8e2227 52.5px,#631d24 54.5px,#2e375e 55.5px,#3567a5 58.5px,#448fc0 61.5px,#529dc8 62.5px,#8fc3dd 65.5px,#c8e0ed 69.5px,#f7f5f5 75.5px,#fcd7c2 80.5px,#f2a07e 84.5px,#ca5344 88.5px,#b12e30 90.5px,#892126 92.5px,#751e23 93.5px,#55222f 94.5px,#2b3a63 95.5px,#3465a3 99.5px,#4288bc 104.5px,#4995c3 106.5px,#8bc0db 113.5px,#6e94a6 114.5px,#000000 115.5px,#000000 145.5px,#bfbfbf 146.5px)"></i><i style="top:39px;background:linear-gradient(90deg,#ffffff 0.5px,#000000 1.5px,#000000 30.5px,#5f524a 31.5px,#fcd4be 32.5px,#f19e7d 40.5px,#ce5847 47.5px,#ac292c 51.5px,#721e22 54.5px,#46283e 55.5px,#2c426e 56.5px,#3464a1 58.5px,#3f81b7 60.5px,#448fc0 61.5px,#539dc8 62.5px,#91c4dd 65.5px,#c9e1ed 69.5px,#f6f6f5 75.5px,#fcd8c4 80.5px,#f2a07f 84.5px,#d5634e 87.5px,#ac292c 90.5px,#651e25 93.5px,#313457 94.5px,#2d4370 95.5px,#3464a1 98.5px,#3c7bb3 101.5px,#4996c4 105.5px,#95c7df 113.5px,#9ccae1 114.5px,#5b7480 115.5px,#000000 116.5px,#000000 145.5px,#bfbfbf 146.5px)"></i><i style="top:40px;background:linear-gradient(90deg,#ffffff 0.5px,#000000 1.5px,#000000 29.5px,#2f2a27 30.5px,#edd0c0 31.5px,#fddbc7 32.5px,#f19f7e 41.5px,#d5624e 47.5px,#a9272b 52.5px,#7f1f25 54.5px,#611f28 55.5px,#2b3b65 56.5px,#33609c 58.5px,#3971ad 59.5px,#458fc0 61.5px,#6cadd1 63.5px,#94c6de 65.5px,#cbe2ee 69.5px,#f6f6f5 75.5px,#fddac6 80.5px,#f3a281 84.5px,#d4614d 87.5px,#b63533 89.5px,#a4262a 90.5px,#711d22 92.5px,#422a42 93.5px,#2c406c 94.5px,#3363a0 97.5px,#3974af 99.5px,#4a97c4 104.5px,#97c8df 112.5px,#acd2e5 115.5px,#384348 116.5px,#000000 117.5px,#000000 145.5px,#bfbfbf 146.5px)"></i><i style="top:41px;background:linear-gradient(90deg,#ffffff 0.5px,#000000 1.5px,#000000 28.5px,#100f0e 29.5px,#ccbab0 30.5px,#fce2d3 31.5px,#fcd1bb 35.5px,#f2a17f 42.5px,#d5634e 48.5px,#b33131 52.5px,#a5262a 53.5px,#751e23 55.5px,#3f2d47 56.5px,#2e4776 57.5px,#325c97 58.5px,#3870ac 59.5px,#4691c1 61.5px,#86bdda 64.5px,#b4d6e8 67.5px,#d5e7f1 70.5px,#f6f6f6 75.5px,#fddcc9 80.5px,#f7b698 83.5px,#eb9072 85.5px,#d3604c 87.5px,#b22f30 89.5px,#982328 90.5px,#7b1f24 91.5px,#56222f 92.5px,#2b3d67 93.5px,#33629f 96.5px,#3a74af 98.5px,#4c98c5 103.5px,#99c9e0 111.5px,#b5d7e8 115.5px,#b0ccdb 116.5px,#181c1d 117.5px,#000000 118.5px,#000000 145.5px,#bfbfbf 146.5px)"></i><i style="top:42px;background:linear-gradient(90deg,#ffffff 0.5px,#000000 1.5px,#000000 28.5px,#8c8580 29.5px,#fae9df 30.5px,#fcd3bd 36.5px,#f3a381 43.5px,#d6644f 49.5px,#b22f30 53.5px,#a12529 54.5px,#862026 55.5px,#621f28 56.5px,#2c406c 57.5px,#315890 58.5px,#386fac 59.5px,#4994c3 61.5px,#8dc2dc 64.5px,#c4deec 68.5px,#dcebf2 71.5px,#f5f6f6 75.5px,#fddecd 80.5px,#fac9b0 82.5px,#f5ab8a 84.5px,#e27b61 86.5px,#c0433b 88.5px,#ab2a2d 89.5px,#681e25 91.5px,#2e385f 92.5px,#31568d 94.5px,#3363a0 95.5px,#3a75b0 97.5px,#4692c2 101.5px,#94c6de 109.5px,#c5dfec 116.5px,#98a9b3 117.5px,#000000 118.5px,#000000 145.5px,#bfbfbf 146.5px)"></i><i style="top:43px;background:linear-gradient(90deg,#ffffff 0.5px,#000000 1.5px,#000000 27.5px,#3e3d3c 28.5px,#f9f0eb 29.5px,#fcd6c0 37.5px,#f09c7b 45.5px,#d05b49 51.5px,#b12e2f 54.5px,#9b2428 55.5px,#7b1f24 56.5px,#3c314f 57.5px,#30548a 58.5px,#3870ac 59.5px,#509ac6 61.5px,#82bbd8 63.5px,#a3cee3 65.5px,#d1e5f0 69.5px,#f5f6f6 75.5px,#fce1d1 80.5px,#fbcfb8 82.5px,#f6b292 84.5px,#f19e7d 85.5px,#d4614d 87.5px,#bd4039 88.5px,#a02529 89.5px,#781e23 90.5px,#3c304d 91.5px,#2e4776 92.5px,#3464a1 94.5px,#3b77b1 96.5px,#4894c3 100.5px,#97c8df 108.5px,#d2e6f0 117.5px,#5e6569 118.5px,#000000 119.5px,#000000 145.5px,#bfbfbf 146.5px)"></i><i style="top:44px;background:linear-gradient(90deg,#ffffff 0.5px,#000000 1.5px,#000000 27.5px,#d7d7d7 28.5px,#f8f4f2 29.5px,#fcd8c3 38.5px,#f1a07e 46.5px,#d25e4b 52.5px,#b12f30 55.5px,#942327 56.5px,#5a2535 57.5px,#2f4f82 58.5px,#3973ae 59.5px,#458ebf 60.5px,#79b5d6 62.5px,#9ecbe2 64.5px,#cce2ee 68.5px,#f4f6f6 75.5px,#fae8dd 79.5px,#fcd6c1 82.5px,#f8bc9f 84.5px,#f4aa89 85.5px,#ea8e70 86.5px,#d86852 87.5px,#bb3c37 88.5px,#8e2227 89.5px,#4e283d 90.5px,#2d4775 91.5px,#315890 92.5px,#3466a4 93.5px,#3f81b7 96.5px,#4a97c4 99.5px,#9ac9e0 107.5px,#d0e5ef 115.5px,#d8e9f1 117.5px,#cedce3 118.5px,#1c1d1e 119.5px,#000000 120.5px,#000000 145.5px,#bfbfbf 146.5px)"></i><i style="top:45px;background:linear-gradient(90deg,#ffffff 0.5px,#000000 1.5px,#000000 26.5px,#f2f5f6 28.5px,#f8f3f0 31.5px,#fcd5bf 40.5px,#f09b7a 48.5px,#d76550 53.5px,#c3483e 55.5px,#b23231 56.5px,#892126 57.5px,#354672 58.5px,#3d7eb5 59.5px,#569ec9 60.5px,#76b3d4 61.5px,#8dc2dc 62.5px,#b4d6e8 65.5px,#d5e7f1 69.5px,#f7f5f5 76.5px,#fdddcb 82.5px,#fac9b0 84.5px,#f7ba9d 85.5px,#f2a483 86.5px,#e17960 87.5px,#b83b36 88.5px,#69242f 89.5px,#2e4878 90.5px,#325e98 91.5px,#366ca9 92.5px,#4793c2 97.5px,#95c7df 105.5px,#d3e6f0 114.5px,#e1edf3 118.5px,#9da4a8 119.5px,#000000 120.5px,#000000 145.5px,#bfbfbf 146.5px)"></i><i style="top:46px;background:linear-gradient(90deg,#ffffff 0.5px,#000000 1.5px,#000000 25.5px,#1d1e1e 26.5px,#dae1e5 27.5px,#ecf2f5 28.5px,#f7f4f2 32.5px,#fcd8c3 41.5px,#ef9979 50.5px,#d86752 55.5px,#cf5949 56.5px,#bd433b 57.5px,#604763 58.5px,#5fa2ca 59.5px,#83bbd9 60.5px,#96c7df 61.5px,#bedbea 65.5px,#d7e8f1 69.5px,#f6f6f6 76.5px,#fcd9c5 84.5px,#f9c3a9 86.5px,#f3aa8c 87.5px,#aa4f4c 88.5px,#355385 89.5px,#376ca7 90.5px,#3e7fb6 92.5px,#4d99c6 96.5px,#99c9e0 104.5px,#d1e5f0 112.5px,#eaf1f5 119.5px,#3b3d3d 120.5px,#000000 121.5px,#000000 145.5px,#bfbfbf 146.5px)"></i><i style="top:47px;background:linear-gradient(90deg,#ffffff 0.5px,#000000 1.5px,#000000 25.5px,#8c9498 26.5px,#e3eef3 27.5px,#f6f5f5 33.5px,#fcd5bf 43.5px,#f09d7c 52.5px,#e98d6f 55.5px,#e98c6f 56.5px,#ed977a 57.5px,#f3d1c2 58.5px,#c7e0ed 59.5px,#b7d8e9 60.5px,#b8d8e9 62.5px,#e2edf3 71.5px,#f7f5f4 77.5px,#fce2d3 85.5px,#fbe2d3 86.5px,#fae7dd 87.5px,#c2dae6 88.5px,#5c9fc9 89.5px,#4a93c2 90.5px,#4994c3 92.5px,#5aa1ca 95.5px,#a5cfe3 104.5px,#d3e6f0 111.5px,#f0f4f6 119.5px,#c6c8c8 120.5px,#000000 121.5px,#000000 145.5px,#bfbfbf 146.5px)"></i><i style="top:48px;background:linear-gradient(90deg,#ffffff 0.5px,#000000 1.5px,#000000 24.5px,#1b1d1e 25.5px,#dae9f2 26.5px,#f5f6f6 34.5px,#fdd9c4 44.5px,#f6b090 52.5px,#f5ac8b 54.5px,#f5ae8e 55.5px,#f7b698 56.5px,#facab2 57.5px,#fae8dd 58.5px,#eaf1f5 59.5px,#d8e8f1 60.5px,#cce2ee 62.5px,#dceaf2 69.5px,#f6f6f6 77.5px,#f9ece4 83.5px,#f9ede6 85.5px,#f8f1ed 86.5px,#eef2f5 87.5px,#cce3ee 88.5px,#9ac8e0 89.5px,#79b5d6 90.5px,#6bacd1 91.5px,#68aad0 93.5px,#7eb8d7 97.5px,#cce2ee 108.5px,#f6f6f6 119.5px,#f7f5f3 120.5px,#5d5b5a 121.5px,#000000 122.5px,#000000 145.5px,#bfbfbf 146.5px)"></i><i style="top:49px;background:linear-gradient(90deg,#ffffff 0.5px,#000000 1.5px,#000000 24.5px,#828f96 25.5px,#d4e7f0 26.5px,#f6f6f5 36.5px,#fcd3bd 47.5px,#f8c0a5 52.5px,#f8c1a5 54.5px,#f9c5ab 55.5px,#fbcfb8 56.5px,#f9ece3 58.5px,#f2f4f5 59.5px,#dceaf2 61.5px,#d5e7f1 64.5px,#eff4f6 75.5px,#f7f4f3 79.5px,#f8f1ed 83.5px,#f7f5f3 85.5px,#f1f4f6 86.5px,#e4eef4 87.5px,#d0e5ef 88.5px,#b3d6e7 89.5px,#9ccae1 90.5px,#8dc2dc 91.5px,#83bbd9 93.5px,#8bc1db 96.5px,#d4e7f1 108.5px,#f5f6f6 117.5px,#f8f1ec 120.5px,#dad1cb 121.5px,#000000 122.5px,#000000 145.5px,#bfbfbf 146.5px)"></i><i style="top:50px;background:linear-gradient(90deg,#ffffff 0.5px,#000000 1.5px,#000000 23.5px,#181c1d 24.5px,#c8e0ed 25.5px,#f7f5f4 38.5px,#fbd0b9 51.5px,#fbd2bb 54.5px,#fbe5d8 57.5px,#f5f5f5 59.5px,#dfecf2 62.5px,#dbeaf2 66.5px,#f7f6f5 80.5px,#f5f6f6 84.5px,#eaf1f5 86.5px,#d3e6f0 88.5px,#afd4e6 90.5px,#9ccae1 92.5px,#99c9e0 95.5px,#b5d7e8 101.5px,#d7e8f1 107.5px,#f7f5f4 116.5px,#faeae1 121.5px,#4e4945 122.5px,#000000 123.5px,#000000 145.5px,#bfbfbf 146.5px)"></i><i style="top:51px;background:linear-gradient(90deg,#ffffff 0.5px,#000000 1.5px,#000000 23.5px,#687a83 24.5px,#bddbea 25.5px,#e6eff4 35.5px,#f7f5f3 40.5px,#fcdecd 49.5px,#fddcc9 53.5px,#fbe4d7 56.5px,#f6f6f5 59.5px,#e4eef4 62.5px,#dfecf2 67.5px,#f5f6f7 81.5px,#ecf2f5 85.5px,#d5e7f1 88.5px,#b4d6e8 91.5px,#a8d0e4 94.5px,#b1d5e7 98.5px,#ddebf2 107.5px,#f7f5f5 114.5px,#fbe6d9 121.5px,#bdaba0 122.5px,#000000 123.5px,#000000 145.5px,#bfbfbf 146.5px)"></i><i style="top:52px;background:linear-gradient(90deg,#ffffff 0.5px,#000000 1.5px,#000000 22.5px,#0a0d0e 23.5px,#a3c6d8 24.5px,#b3d6e7 25.5px,#dceaf2 34.5px,#f6f6f6 41.5px,#fbe3d4 50.5px,#fbe4d6 54.5px,#f8f2ef 58.5px,#f6f6f6 59.5px,#e4eef4 63.5px,#e4eef4 69.5px,#f2f5f6 81.5px,#e9f1f5 85.5px,#bbdaea 92.5px,#b6d7e8 95.5px,#c7e0ed 100.5px,#f6f6f5 112.5px,#fcdfce 122.5px,#2f2926 123.5px,#000000 124.5px,#000000 145.5px,#bfbfbf 146.5px)"></i><i style="top:53px;background:linear-gradient(90deg,#ffffff 0.5px,#000000 1.5px,#000000 22.5px,#3c4d55 23.5px,#a4cee3 24.5px,#d9e9f1 35.5px,#f6f6f5 43.5px,#fae8de 50.5px,#fae9df 54.5px,#f5f6f6 59.5px,#e5eff4 64.5px,#eaf1f5 73.5px,#eff3f6 82.5px,#dfecf2 87.5px,#c4deec 93.5px,#c7e0ed 97.5px,#f6f6f6 110.5px,#fddac6 122.5px,#9e8679 123.5px,#000000 124.5px,#000000 145.5px,#bfbfbf 146.5px)"></i><i style="top:54px;background:linear-gradient(90deg,#ffffff 0.5px,#000000 1.5px,#000000 22.5px,#7095a7 23.5px,#9ac9e0 24.5px,#d9e9f1 37.5px,#f6f6f5 45.5px,#f9ece4 52.5px,#f8f3f0 57.5px,#f1f4f6 60.5px,#e6eff4 66.5px,#edf2f5 82.5px,#cee3ef 93.5px,#d5e7f1 99.5px,#f5f6f6 108.5px,#fcd1ba 122.5px,#ebc0aa 123.5px,#000000 124.5px,#000000 145.5px,#bfbfbf 146.5px)"></i><i style="top:55px;background:linear-gradient(90deg,#ffffff 0.5px,#000000 1.5px,#000000 21.5px,#10171b 22.5px,#89c0db 23.5px,#daeaf2 39.5px,#f6f6f5 47.5px,#f8f1ec 53.5px,#f3f5f6 59.5px,#e7f0f4 66.5px,#ebf1f5 82.5px,#d4e7f1 93.5px,#dceaf2 99.5px,#f7f5f4 107.5px,#fbd0b8 120.5px,#f9c5aa 123.5px,#4e3d34 124.5px,#000000 125.5px,#000000 145.5px,#bfbfbf 146.5px)"></i><i style="top:56px;background:linear-gradient(90deg,#ffffff 0.5px,#000000 1.5px,#000000 21.5px,#354f5d 22.5px,#7db7d7 23.5px,#c3deec 36.5px,#e4eef4 43.5px,#f7f5f5 50.5px,#f7f6f5 56.5px,#e8f0f4 67.5px,#eaf1f5 82.5px,#d9e9f1 93.5px,#e5eff4 100.5px,#f6f6f5 105.5px,#fcd2bc 117.5px,#f8bb9f 123.5px,#9a7361 124.5px,#000000 125.5px,#000000 145.5px,#bfbfbf 146.5px)"></i><i style="top:57px;background:linear-gradient(90deg,#ffffff 0.5px,#000000 1.5px,#000000 21.5px,#50819d 22.5px,#6fafd2 23.5px,#bedbea 37.5px,#d9e9f1 42.5px,#f3f5f6 50.5px,#f4f6f6 57.5px,#e8f0f4 68.5px,#e9f1f5 83.5px,#ddebf2 93.5px,#eaf1f5 100.5px,#f7f5f3 104.5px,#fbd1ba 115.5px,#f6b293 123.5px,#e6a486 124.5px,#000000 125.5px,#000000 145.5px,#bfbfbf 146.5px)"></i><i style="top:58px;background:linear-gradient(90deg,#ffffff 0.5px,#000000 1.5px,#000000 20.5px,#050a0d 21.5px,#5da4cc 22.5px,#93c5de 32.5px,#d3e6f0 42.5px,#eef3f5 50.5px,#f2f5f6 57.5px,#e9f1f5 70.5px,#e8f0f4 84.5px,#e2edf3 94.5px,#f6f6f5 102.5px,#fbd1ba 113.5px,#f5a987 123.5px,#f4a683 124.5px,#3d2920 125.5px,#000000 126.5px,#000000 145.5px,#bfbfbf 146.5px)"></i><i style="top:59px;background:linear-gradient(90deg,#ffffff 0.5px,#000000 1.5px,#000000 20.5px,#18303e 21.5px,#509bc7 22.5px,#78b4d5 30.5px,#d5e7f1 44.5px,#ecf2f5 51.5px,#eef3f5 59.5px,#eaf1f5 75.5px,#e6eff4 94.5px,#f7f5f4 101.5px,#fcd6c1 110.5px,#f5ac8b 119.5px,#ef9a7a 124.5px,#000000 126.5px,#000000 145.5px,#bfbfbf 146.5px)"></i><i style="top:60px;background:linear-gradient(90deg,#ffffff 0.5px,#000000 1.5px,#000000 20.5px,#27516c 21.5px,#4692c2 22.5px,#5da4cc 28.5px,#92c5de 36.5px,#d4e7f1 45.5px,#eaf1f5 52.5px,#ecf2f5 62.5px,#e7f0f4 93.5px,#f6f6f6 99.5px,#fcd8c3 108.5px,#f6ae8d 116.5px,#ea8e70 124.5px,#af6952 125.5px,#000000 126.5px,#000000 145.5px,#bfbfbf 146.5px)"></i><i style="top:61px;background:linear-gradient(90deg,#ffffff 0.5px,#000000 1.5px,#000000 20.5px,#31678d 21.5px,#438abd 22.5px,#4a97c4 27.5px,#6badd1 33.5px,#cfe4ef 45.5px,#e8f0f4 52.5px,#ebf1f5 62.5px,#eaf1f5 93.5px,#f6f6f6 98.5px,#fcdfce 105.5px,#f5ab8a 114.5px,#e8896c 122.5px,#e37f65 125.5px,#000000 126.5px,#000000 145.5px,#bfbfbf 146.5px)"></i><i style="top:62px;background:linear-gradient(90deg,#ffffff 0.5px,#000000 1.5px,#000000 20.5px,#3f81b7 21.5px,#4a97c4 30.5px,#6aacd1 35.5px,#c8e0ed 45.5px,#ddebf2 49.5px,#ebf1f5 56.5px,#ebf1f5 92.5px,#f6f6f6 97.5px,#fbe7db 102.5px,#fcd2bb 106.5px,#f5aa88 112.5px,#e7876b 119.5px,#de735b 125.5px,#291511 126.5px,#000000 127.5px,#000000 145.5px,#bfbfbf 146.5px)"></i><i style="top:63px;background:linear-gradient(90deg,#ffffff 0.5px,#000000 1.5px,#000000 19.5px,#0b1621 20.5px,#3c79b2 21.5px,#4794c2 32.5px,#62a7ce 36.5px,#b6d7e8 44.5px,#d1e5f0 47.5px,#e5eff4 53.5px,#eaf1f5 65.5px,#eaf1f5 68.5px,#dbe2e6 69.5px,#494b4d 71.5px,#3a3c3d 72.5px,#000000 73.5px,#2c2d2e 74.5px,#3a3c3d 75.5px,#cdd3d6 77.5px,#eaf1f5 78.5px,#ecf2f5 92.5px,#f7f5f4 97.5px,#fcdecd 103.5px,#f5aa88 110.5px,#e7866a 116.5px,#da6a54 124.5px,#d86852 125.5px,#51261e 126.5px,#000000 127.5px,#000000 145.5px,#bfbfbf 146.5px)"></i><i style="top:64px;background:linear-gradient(90deg,#ffffff 0.5px,#000000 1.5px,#000000 19.5px,#112336 20.5px,#3871ad 21.5px,#428abd 32.5px,#4996c4 35.5px,#70afd2 39.5px,#aed3e6 44.5px,#cee3ef 47.5px,#e2edf3 52.5px,#eaf1f5 61.5px,#eaf1f5 67.5px,#75787a 68.5px,#0f0f0f 69.5px,#000000 70.5px,#000000 77.5px,#66696b 78.5px,#dbe2e6 79.5px,#eaf1f5 80.5px,#edf2f5 92.5px,#f6f6f6 96.5px,#fae9df 100.5px,#fdd9c5 103.5px,#f5ac8b 108.5px,#e7876b 113.5px,#d96953 120.5px,#d15d4a 125.5px,#000000 127.5px,#000000 145.5px,#bfbfbf 146.5px)"></i><i style="top:65px;background:linear-gradient(90deg,#ffffff 0.5px,#000000 1.5px,#000000 19.5px,#3569a8 21.5px,#3e80b6 32.5px,#4996c4 37.5px,#6cadd1 40.5px,#a7d0e4 44.5px,#cae1ee 47.5px,#deebf2 51.5px,#e9f1f5 59.5px,#eaf1f5 65.5px,#dbe2e6 66.5px,#3a3c3d 67.5px,#000000 68.5px,#000000 78.5px,#1d1e1f 79.5px,#bec4c7 80.5px,#eaf1f5 81.5px,#f0f4f6 93.5px,#f7f6f5 96.5px,#fbe7dc 100.5px,#fcd2bc 103.5px,#f4a886 107.5px,#e68468 111.5px,#d96953 116.5px,#ca5244 125.5px,#963c32 126.5px,#000000 127.5px,#000000 145.5px,#bfbfbf 146.5px)"></i><i style="top:66px;background:linear-gradient(90deg,#ffffff 0.5px,#000000 1.5px,#000000 19.5px,#203b60 20.5px,#33609c 21.5px,#3b79b2 33.5px,#4590c1 38.5px,#4c98c5 39.5px,#7db7d7 42.5px,#aed3e6 45.5px,#d1e5f0 48.5px,#e3eef4 53.5px,#eaf1f5 64.5px,#dbe2e6 65.5px,#2c2d2e 66.5px,#000000 67.5px,#000000 79.5px,#0f0f0f 80.5px,#ccd3d6 81.5px,#eaf1f5 82.5px,#f0f4f6 93.5px,#f7f5f4 96.5px,#fbe6d9 100.5px,#fcd8c3 102.5px,#f3a583 106.5px,#e58368 109.5px,#d86852 113.5px,#c64c40 122.5px,#c2473d 125.5px,#91342d 126.5px,#000000 127.5px,#000000 145.5px,#bfbfbf 146.5px)"></i><i style="top:67px;background:linear-gradient(90deg,#ffffff 0.5px,#000000 1.5px,#000000 19.5px,#254069 20.5px,#31568d 21.5px,#376eab 33.5px,#4085b9 38.5px,#4995c3 40.5px,#6eaed2 42.5px,#99c9e0 44.5px,#c7e0ed 47.5px,#d6e8f1 49.5px,#e6eff4 55.5px,#eaf1f5 64.5px,#66696b 65.5px,#000000 66.5px,#000000 80.5px,#3a3c3d 81.5px,#eaf1f5 82.5px,#f0f4f6 93.5px,#f7f5f5 96.5px,#faeae1 99.5px,#fddecd 101.5px,#f6b495 104.5px,#ed9575 106.5px,#dd7059 109.5px,#ce5947 113.5px,#be403a 122.5px,#ba3a36 126.5px,#000000 127.5px,#000000 145.5px,#bfbfbf 146.5px)"></i><i style="top:68px;background:linear-gradient(90deg,#ffffff 0.5px,#000000 1.5px,#000000 19.5px,#23395e 20.5px,#2f4d7e 21.5px,#325c96 31.5px,#3972ae 37.5px,#4288bc 40.5px,#4994c3 41.5px,#5da4cc 42.5px,#93c5de 44.5px,#bad9e9 46.5px,#d2e6f0 48.5px,#e3eef4 53.5px,#eaf1f5 63.5px,#cdd3d6 64.5px,#000000 65.5px,#000000 81.5px,#929799 82.5px,#eaf1f5 83.5px,#f2f5f6 94.5px,#f8f3f1 97.5px,#fbe5d8 100.5px,#fdddcc 101.5px,#f8bc9f 103.5px,#ed9475 105.5px,#de725b 107.5px,#ce5847 110.5px,#bd4039 116.5px,#b22f30 126.5px,#000000 127.5px,#000000 145.5px,#bfbfbf 146.5px)"></i><i style="top:69px;background:linear-gradient(90deg,#ffffff 0.5px,#000000 1.5px,#000000 19.5px,#2d426e 20.5px,#2f4f82 31.5px,#325e99 36.5px,#3c7ab3 40.5px,#4186ba 41.5px,#4c97c5 42.5px,#8fc3dd 44.5px,#aad1e5 45.5px,#cde3ef 47.5px,#ddebf2 50.5px,#e9f1f5 58.5px,#eaf1f5 63.5px,#585a5c 64.5px,#000000 65.5px,#000000 81.5px,#2c2d2e 82.5px,#eaf1f5 83.5px,#f1f4f6 94.5px,#f7f5f4 97.5px,#fbe7db 100.5px,#fcdecd 101.5px,#fbcdb5 102.5px,#ef9a7a 104.5px,#e47f65 105.5px,#da6b55 106.5px,#cb5344 108.5px,#bb3c37 112.5px,#ae2a2d 121.5px,#a9262b 126.5px,#0a0203 127.5px,#000000 128.5px,#000000 145.5px,#bfbfbf 146.5px)"></i><i style="top:70px;background:linear-gradient(90deg,#ffffff 0.5px,#000000 1.5px,#000000 19.5px,#2a3860 20.5px,#2d4573 33.5px,#305185 37.5px,#3568a5 40.5px,#4288bc 42.5px,#5fa4cc 43.5px,#8fc3dd 44.5px,#b1d5e7 45.5px,#c7e0ed 46.5px,#d3e6f0 47.5px,#e2edf3 51.5px,#eaf1f5 63.5px,#0f0f0f 64.5px,#000000 65.5px,#000000 82.5px,#cdd3d6 83.5px,#eaf1f5 84.5px,#f1f4f6 95.5px,#f7f5f3 98.5px,#faebe2 100.5px,#fce2d3 101.5px,#fbcfb7 102.5px,#f5ad8d 103.5px,#e68569 104.5px,#d76651 105.5px,#ca5344 106.5px,#bb3d38 108.5px,#af2b2e 112.5px,#9a2428 126.5px,#26090a 127.5px,#000000 128.5px,#000000 145.5px,#bfbfbf 146.5px)"></i><i style="top:71px;background:linear-gradient(90deg,#ffffff 0.5px,#000000 1.5px,#000000 19.5px,#54212e 20.5px,#53212e 23.5px,#46273d 24.5px,#412a42 29.5px,#382f4d 30.5px,#373050 33.5px,#2a385f 34.5px,#2c416d 38.5px,#2f4e81 40.5px,#325b94 41.5px,#3972ac 42.5px,#539ac6 43.5px,#9bc9e0 44.5px,#c3deec 45.5px,#d4e7f0 46.5px,#e2edf3 49.5px,#eaf1f5 62.5px,#ccd3d6 63.5px,#000000 64.5px,#000000 82.5px,#afb5b8 83.5px,#eaf1f5 84.5px,#f1f4f6 97.5px,#f6f5f4 99.5px,#f8f2ee 100.5px,#faeae0 101.5px,#fcd8c4 102.5px,#f1a486 103.5px,#d66652 104.5px,#c1453c 105.5px,#b53433 106.5px,#a8282b 108.5px,#962327 114.5px,#8b2126 126.5px,#23080a 127.5px,#000000 128.5px,#000000 145.5px,#bfbfbf 146.5px)"></i><i style="top:72px;background:linear-gradient(90deg,#ffffff 0.5px,#000000 1.5px,#000000 19.5px,#6f1d22 20.5px,#691c21 36.5px,#5a222f 38.5px,#592330 39.5px,#4b2a40 40.5px,#472f49 41.5px,#3e3f65 42.5px,#5380ab 43.5px,#c7e0ed 44.5px,#ddebf2 45.5px,#e7f0f4 49.5px,#eaf1f5 62.5px,#afb5b8 63.5px,#000000 64.5px,#000000 82.5px,#eaf1f5 84.5px,#eef3f5 99.5px,#f3f3f3 101.5px,#f7ede7 102.5px,#e39784 103.5px,#a73130 104.5px,#962428 105.5px,#892126 107.5px,#7e1f25 116.5px,#7c1f24 126.5px,#1f0809 127.5px,#000000 128.5px,#000000 145.5px,#bfbfbf 146.5px)"></i><i style="top:73px;background:linear-gradient(90deg,#ffffff 0.5px,#000000 1.5px,#000000 19.5px,#7e1f24 20.5px,#872026 37.5px,#912227 40.5px,#9a2529 41.5px,#aa3130 42.5px,#dc7c67 43.5px,#f9e6dc 44.5px,#f5f2f1 45.5px,#f0f4f6 47.5px,#eaf1f5 62.5px,#afb5b8 63.5px,#000000 64.5px,#000000 82.5px,#eaf1f5 84.5px,#e4eef4 99.5px,#dcebf2 101.5px,#cae1ed 102.5px,#669ec6 103.5px,#374c7a 104.5px,#3b375a 105.5px,#482c43 106.5px,#4a2940 107.5px,#542433 108.5px,#5a222f 110.5px,#671c21 111.5px,#6e1d22 126.5px,#1b0708 127.5px,#000000 128.5px,#000000 145.5px,#bfbfbf 146.5px)"></i><i style="top:74px;background:linear-gradient(90deg,#ffffff 0.5px,#000000 1.5px,#000000 19.5px,#8d2127 20.5px,#9b2428 34.5px,#aa292c 38.5px,#b63533 40.5px,#c1453c 41.5px,#d4614e 42.5px,#ee997a 43.5px,#fbcfb8 44.5px,#fbe6db 45.5px,#f9f0ea 46.5px,#f5f6f6 48.5px,#ebf1f5 57.5px,#eaf1f5 62.5px,#dbe2e6 63.5px,#000000 64.5px,#000000 82.5px,#afb5b8 83.5px,#eaf1f5 84.5px,#e4eef4 96.5px,#d4e7f0 100.5px,#c5dfec 101.5px,#a3cee3 102.5px,#61a5cc 103.5px,#3c7bb3 104.5px,#34629d 105.5px,#305388 106.5px,#2d4472 108.5px,#2b3962 112.5px,#2d355b 114.5px,#37304f 115.5px,#3b2d49 119.5px,#44283d 120.5px,#46273d 124.5px,#53212e 126.5px,#15080c 127.5px,#000000 128.5px,#000000 145.5px,#bfbfbf 146.5px)"></i><i style="top:75px;background:linear-gradient(90deg,#ffffff 0.5px,#000000 1.5px,#000000 19.5px,#9c2428 20.5px,#ad2a2d 33.5px,#b83735 37.5px,#c2463d 39.5px,#d66450 41.5px,#e48066 42.5px,#f3a686 43.5px,#fac8af 44.5px,#fcdfce 45.5px,#f9efea 47.5px,#f6f6f6 49.5px,#ebf1f5 58.5px,#eaf1f5 63.5px,#1d1e1f 64.5px,#000000 65.5px,#000000 82.5px,#dbe2e6 83.5px,#eaf1f5 84.5px,#e3eef4 95.5px,#d4e7f0 99.5px,#c9e1ed 100.5px,#b5d7e8 101.5px,#97c7df 102.5px,#6aacd0 103.5px,#458fbf 104.5px,#3c7ab3 105.5px,#33629e 107.5px,#2f4f83 110.5px,#2c426e 116.5px,#2a3962 126.5px,#0b0e18 127.5px,#000000 128.5px,#000000 145.5px,#bfbfbf 146.5px)"></i><i style="top:76px;background:linear-gradient(90deg,#ffffff 0.5px,#000000 1.5px,#000000 19.5px,#9f2428 20.5px,#ab272b 21.5px,#b73734 32.5px,#c54c40 37.5px,#d25e4b 39.5px,#e37d63 41.5px,#ed9677 42.5px,#fac9af 44.5px,#fcdcc9 45.5px,#f9ece4 47.5px,#f6f6f6 50.5px,#ebf1f5 59.5px,#eaf1f5 63.5px,#66696b 64.5px,#000000 65.5px,#000000 81.5px,#3a3c3d 82.5px,#eaf1f5 83.5px,#e3eef4 94.5px,#d5e7f1 98.5px,#cee4ef 99.5px,#aed3e6 101.5px,#95c7df 102.5px,#539dc8 104.5px,#438bbd 105.5px,#366caa 108.5px,#31558c 113.5px,#2e4675 122.5px,#2d4370 126.5px,#000000 127.5px,#000000 145.5px,#bfbfbf 146.5px)"></i><i style="top:77px;background:linear-gradient(90deg,#ffffff 0.5px,#000000 1.5px,#000000 19.5px,#862424 20.5px,#b33131 21.5px,#c2463d 32.5px,#d35f4b 37.5px,#de725a 39.5px,#ec9273 41.5px,#f7b99c 43.5px,#fddbc8 45.5px,#f9efe9 48.5px,#f5f6f7 51.5px,#eaf1f5 60.5px,#eaf1f5 63.5px,#cdd3d6 64.5px,#000000 65.5px,#000000 81.5px,#a1a6a8 82.5px,#eaf1f5 83.5px,#e2edf3 94.5px,#d3e6f0 98.5px,#bddbea 100.5px,#98c8e0 102.5px,#4d98c5 105.5px,#438cbe 106.5px,#386fac 110.5px,#31578f 118.5px,#2f4d7e 126.5px,#000000 127.5px,#000000 145.5px,#bfbfbf 146.5px)"></i><i style="top:78px;background:linear-gradient(90deg,#ffffff 0.5px,#000000 1.5px,#000000 19.5px,#8c2c29 20.5px,#bb3c37 21.5px,#ca5244 31.5px,#d96953 36.5px,#e6866a 39.5px,#f3a381 41.5px,#fdddca 45.5px,#f9eee8 48.5px,#f6f6f7 51.5px,#eaf1f5 60.5px,#eaf1f5 64.5px,#000000 66.5px,#000000 80.5px,#3a3c3d 81.5px,#eaf1f5 82.5px,#e3eef4 93.5px,#d2e6f0 98.5px,#bddbea 100.5px,#8ac0db 103.5px,#4d99c5 106.5px,#4187bb 108.5px,#3870ac 113.5px,#31578f 125.5px,#31568d 126.5px,#000000 127.5px,#000000 145.5px,#bfbfbf 146.5px)"></i><i style="top:79px;background:linear-gradient(90deg,#ffffff 0.5px,#000000 1.5px,#000000 19.5px,#792c26 20.5px,#c3483e 21.5px,#d3604c 31.5px,#e17a61 36.5px,#f3a482 40.5px,#fcd6c0 44.5px,#faeae0 47.5px,#f6f6f7 51.5px,#eaf1f5 59.5px,#eaf1f5 65.5px,#494b4d 66.5px,#000000 67.5px,#000000 79.5px,#2c2d2e 80.5px,#dbe2e6 81.5px,#eaf1f5 82.5px,#e3eef4 93.5px,#d2e6f0 98.5px,#b1d5e7 101.5px,#82bbd8 104.5px,#509bc7 107.5px,#438cbe 109.5px,#3972ae 116.5px,#33619e 125.5px,#264875 126.5px,#000000 127.5px,#000000 145.5px,#bfbfbf 146.5px)"></i><i style="top:80px;background:linear-gradient(90deg,#ffffff 0.5px,#000000 1.5px,#000000 19.5px,#ca5344 21.5px,#d96a53 30.5px,#e68468 35.5px,#f4a785 39.5px,#fddbc8 44.5px,#f8f2ef 49.5px,#f3f5f6 52.5px,#eaf1f5 61.5px,#eaf1f5 65.5px,#dbe2e6 66.5px,#585a5c 67.5px,#000000 68.5px,#000000 78.5px,#2c2d2e 79.5px,#dbe2e6 80.5px,#eaf1f5 81.5px,#e4eef4 93.5px,#d3e6f0 98.5px,#b6d7e8 101.5px,#7fb9d7 105.5px,#569fc9 108.5px,#4692c2 110.5px,#3b77b1 118.5px,#366ba9 125.5px,#284f7e 126.5px,#000000 127.5px,#000000 145.5px,#bfbfbf 146.5px)"></i><i style="top:81px;background:linear-gradient(90deg,#ffffff 0.5px,#000000 1.5px,#000000 19.5px,#411d17 20.5px,#d25e4a 21.5px,#e07860 30.5px,#f09c7b 36.5px,#f6b394 39.5px,#fcdfce 44.5px,#f8f3f1 49.5px,#f2f5f6 52.5px,#e9f1f5 61.5px,#eaf1f5 67.5px,#929799 68.5px,#1d1e1f 69.5px,#000000 70.5px,#000000 76.5px,#0f0f0f 77.5px,#75787a 78.5px,#eaf1f5 79.5px,#e6f0f4 92.5px,#d5e7f1 98.5px,#bcdaea 101.5px,#81bad8 106.5px,#549ec8 110.5px,#448fc0 113.5px,#3974af 124.5px,#3972ae 125.5px,#000000 127.5px,#000000 145.5px,#bfbfbf 146.5px)"></i><i style="top:82px;background:linear-gradient(90deg,#ffffff 0.5px,#000000 1.5px,#000000 19.5px,#28130f 20.5px,#d96852 21.5px,#e58267 29.5px,#f3a381 35.5px,#f9c7ad 40.5px,#fddecc 43.5px,#f7f5f4 49.5px,#e9f1f5 58.5px,#eaf1f5 69.5px,#a1a6a8 70.5px,#66696b 71.5px,#3a3c3d 72.5px,#3a3c3d 74.5px,#585a5c 75.5px,#929799 76.5px,#dbe2e6 77.5px,#eaf1f5 78.5px,#e7f0f4 92.5px,#d7e8f1 98.5px,#c3deec 101.5px,#79b5d5 108.5px,#4e9ac6 113.5px,#438bbe 117.5px,#3c7ab3 125.5px,#162d43 126.5px,#000000 127.5px,#000000 145.5px,#bfbfbf 146.5px)"></i><i style="top:83px;background:linear-gradient(90deg,#ffffff 0.5px,#000000 1.5px,#000000 20.5px,#de735c 21.5px,#ef9a7a 31.5px,#f7b597 36.5px,#fddecc 42.5px,#f7f4f2 48.5px,#f0f4f6 51.5px,#e8f0f4 59.5px,#e9f1f5 92.5px,#d6e8f1 99.5px,#c1ddeb 102.5px,#5ea5cc 113.5px,#4895c3 117.5px,#3f82b8 125.5px,#0c1822 126.5px,#000000 127.5px,#000000 145.5px,#bfbfbf 146.5px)"></i><i style="top:84px;background:linear-gradient(90deg,#ffffff 0.5px,#000000 1.5px,#000000 20.5px,#ab604c 21.5px,#e58367 22.5px,#f4a785 31.5px,#fbcdb5 38.5px,#fce3d4 42.5px,#f6f6f6 48.5px,#e8f0f4 55.5px,#eaf1f5 93.5px,#d5e7f1 100.5px,#b9d9e9 104.5px,#61a6cd 115.5px,#4995c4 120.5px,#428abd 125.5px,#000000 126.5px,#000000 145.5px,#bfbfbf 146.5px)"></i><i style="top:85px;background:linear-gradient(90deg,#ffffff 0.5px,#000000 1.5px,#000000 20.5px,#ea8f71 22.5px,#f6ae8d 30.5px,#fbe4d5 41.5px,#f6f6f6 47.5px,#e6f0f4 54.5px,#ecf2f5 93.5px,#daeaf2 100.5px,#c3deec 104.5px,#6bacd1 116.5px,#4996c4 123.5px,#4794c3 124.5px,#346d91 125.5px,#000000 126.5px,#000000 145.5px,#bfbfbf 146.5px)"></i><i style="top:86px;background:linear-gradient(90deg,#ffffff 0.5px,#000000 1.5px,#000000 20.5px,#4a2f25 21.5px,#f09b7a 22.5px,#f7b496 29.5px,#fce2d2 39.5px,#f5f6f6 46.5px,#e4eef4 53.5px,#e9f1f5 75.5px,#eef3f5 94.5px,#dbeaf2 101.5px,#c6dfed 105.5px,#6eaed2 118.5px,#529cc8 124.5px,#000000 126.5px,#000000 145.5px,#bfbfbf 146.5px)"></i><i style="top:87px;background:linear-gradient(90deg,#ffffff 0.5px,#000000 1.5px,#000000 21.5px,#f4a684 22.5px,#faccb3 32.5px,#fbe7db 39.5px,#f6f6f5 44.5px,#e2edf3 52.5px,#e6f0f4 61.5px,#e9f1f5 74.5px,#eef3f5 86.5px,#f2f5f6 94.5px,#e1edf3 101.5px,#c9e1ee 106.5px,#78b4d5 119.5px,#5fa5cd 124.5px,#111e26 125.5px,#000000 126.5px,#000000 145.5px,#bfbfbf 146.5px)"></i><i style="top:88px;background:linear-gradient(90deg,#ffffff 0.5px,#000000 1.5px,#000000 21.5px,#a97963 22.5px,#f6b393 23.5px,#fbe3d5 36.5px,#f5f6f6 43.5px,#deebf2 51.5px,#e1edf3 58.5px,#ebf1f5 68.5px,#ebf1f5 83.5px,#f6f6f6 93.5px,#edf2f5 99.5px,#cde3ef 107.5px,#80bad8 120.5px,#71b0d3 123.5px,#65a2c4 124.5px,#000000 125.5px,#000000 145.5px,#bfbfbf 146.5px)"></i><i style="top:89px;background:linear-gradient(90deg,#ffffff 0.5px,#000000 1.5px,#000000 21.5px,#5d453a 22.5px,#f8bc9f 23.5px,#fce3d4 34.5px,#f6f6f5 41.5px,#dbeaf2 50.5px,#dbeaf2 56.5px,#ecf2f5 66.5px,#e9f1f5 82.5px,#f7f5f3 91.5px,#f6f6f5 97.5px,#d9e9f1 106.5px,#b3d6e7 113.5px,#7fb9d7 123.5px,#4c7186 124.5px,#000000 125.5px,#000000 145.5px,#bfbfbf 146.5px)"></i><i style="top:90px;background:linear-gradient(90deg,#ffffff 0.5px,#000000 1.5px,#000000 21.5px,#100c0a 22.5px,#f9c5ab 23.5px,#fbe5d8 33.5px,#f4f6f6 40.5px,#d7e8f1 49.5px,#d6e7f1 55.5px,#ecf2f5 65.5px,#e8f0f4 82.5px,#f7f5f4 89.5px,#f8f0eb 94.5px,#f2f5f6 101.5px,#cae2ee 111.5px,#8cc1dc 123.5px,#2a3b44 124.5px,#000000 125.5px,#000000 145.5px,#bfbfbf 146.5px)"></i><i style="top:91px;background:linear-gradient(90deg,#ffffff 0.5px,#000000 1.5px,#000000 22.5px,#ac8e7d 23.5px,#fcd1bb 24.5px,#f5f6f6 38.5px,#d0e5ef 49.5px,#cee4ef 54.5px,#edf2f5 64.5px,#e9f1f5 74.5px,#e7f0f4 82.5px,#f7f6f5 88.5px,#f9ece4 93.5px,#f9efea 98.5px,#f2f5f6 103.5px,#c4deec 114.5px,#9ccae1 122.5px,#84afc4 123.5px,#000000 124.5px,#000000 145.5px,#bfbfbf 146.5px)"></i><i style="top:92px;background:linear-gradient(90deg,#ffffff 0.5px,#000000 1.5px,#000000 22.5px,#5f5149 23.5px,#fddac6 24.5px,#f6f6f6 36.5px,#c2ddeb 51.5px,#c5dfec 54.5px,#eaf1f5 62.5px,#eff4f6 68.5px,#e4eef4 81.5px,#f0f4f6 86.5px,#f7f4f2 88.5px,#fae8de 92.5px,#fae7dd 96.5px,#f5f6f6 104.5px,#c4deec 116.5px,#a6cfe4 122.5px,#5b7480 123.5px,#000000 124.5px,#000000 145.5px,#bfbfbf 146.5px)"></i><i style="top:93px;background:linear-gradient(90deg,#ffffff 0.5px,#000000 1.5px,#000000 23.5px,#edd1c1 24.5px,#fce1d1 25.5px,#f4f5f6 35.5px,#b7d8e9 50.5px,#b6d7e8 53.5px,#c5dfec 56.5px,#e9f0f5 61.5px,#f2f5f6 65.5px,#e1edf3 81.5px,#eaf1f5 85.5px,#f5f6f6 87.5px,#fbe4d5 92.5px,#fce2d3 96.5px,#f4f6f6 106.5px,#c4deec 118.5px,#b0d4e7 122.5px,#151a1d 123.5px,#000000 124.5px,#000000 145.5px,#bfbfbf 146.5px)"></i><i style="top:94px;background:linear-gradient(90deg,#ffffff 0.5px,#000000 1.5px,#000000 23.5px,#fbe6d9 25.5px,#f4f6f6 33.5px,#c7e0ed 44.5px,#aad1e5 50.5px,#a7d0e4 53.5px,#b1d4e7 55.5px,#ddebf2 59.5px,#f0f4f6 62.5px,#f4f6f6 67.5px,#deebf2 81.5px,#e7f0f4 85.5px,#f5f6f6 87.5px,#fce0d0 91.5px,#fddac7 94.5px,#fbe4d6 100.5px,#f6f6f5 107.5px,#c4deec 120.5px,#bfdceb 121.5px,#8ca3af 122.5px,#000000 123.5px,#000000 145.5px,#bfbfbf 146.5px)"></i><i style="top:95px;background:linear-gradient(90deg,#ffffff 0.5px,#000000 1.5px,#000000 23.5px,#100e0e 24.5px,#faeae1 25.5px,#f5f6f6 31.5px,#c8e0ed 42.5px,#9bcae1 50.5px,#96c7df 53.5px,#a0cce2 55.5px,#bcdaea 57.5px,#deebf2 59.5px,#f1f4f6 61.5px,#f7f5f3 65.5px,#edf2f5 72.5px,#daeaf2 81.5px,#ddebf2 84.5px,#f3f5f6 87.5px,#fcdecd 90.5px,#fbd1ba 92.5px,#fbcfb7 95.5px,#f8f2ee 107.5px,#f2f5f6 110.5px,#cae1ee 121.5px,#31383b 122.5px,#000000 123.5px,#000000 145.5px,#bfbfbf 146.5px)"></i><i style="top:96px;background:linear-gradient(90deg,#ffffff 0.5px,#000000 1.5px,#000000 24.5px,#9b9591 25.5px,#f8f1ec 26.5px,#f2f5f6 30.5px,#cae1ee 40.5px,#85bdd9 51.5px,#82bbd8 54.5px,#88bfda 55.5px,#95c7df 56.5px,#abd2e5 57.5px,#cae1ee 58.5px,#e1edf3 59.5px,#f0f4f6 60.5px,#f8f2ef 62.5px,#f8f3ef 66.5px,#f3f5f6 70.5px,#d5e7f1 82.5px,#dae9f2 85.5px,#eff3f6 87.5px,#f9eee8 88.5px,#fbd0b9 90.5px,#f9c5aa 91.5px,#f8bea1 93.5px,#fac8ae 97.5px,#fbe4d7 104.5px,#f4f6f6 111.5px,#d5e7f1 120.5px,#9dacb4 121.5px,#000000 122.5px,#000000 145.5px,#bfbfbf 146.5px)"></i><i style="top:97px;background:linear-gradient(90deg,#ffffff 0.5px,#000000 1.5px,#000000 24.5px,#1f1e1e 25.5px,#f7f5f3 26.5px,#e5eff4 32.5px,#c6dfec 39.5px,#7eb8d7 49.5px,#66a9cf 53.5px,#66a9cf 55.5px,#71b0d3 56.5px,#8dc1dc 57.5px,#c1ddeb 58.5px,#ebf1f4 59.5px,#f8f2ee 60.5px,#faebe2 62.5px,#f8f2ee 67.5px,#f4f6f6 70.5px,#cbe2ee 83.5px,#cce3ee 85.5px,#d3e6f0 86.5px,#e4eef3 87.5px,#f9ece5 88.5px,#fbcdb6 89.5px,#f7b697 90.5px,#f5ac8c 91.5px,#f5ab89 93.5px,#f8c0a4 98.5px,#fcdfce 104.5px,#f6f6f5 112.5px,#dbeaf2 120.5px,#363a3c 121.5px,#000000 122.5px,#000000 145.5px,#bfbfbf 146.5px)"></i><i style="top:98px;background:linear-gradient(90deg,#ffffff 0.5px,#000000 1.5px,#000000 25.5px,#898a8b 26.5px,#f0f4f6 27.5px,#c9e1ed 37.5px,#85bdd9 46.5px,#4b97c4 53.5px,#468ebf 56.5px,#4f95c3 57.5px,#a0c5db 58.5px,#f9e5da 59.5px,#fce0d0 60.5px,#fbe7db 64.5px,#f6f6f6 70.5px,#c8e0ed 81.5px,#b3d6e7 85.5px,#b2d5e7 86.5px,#bbdae9 87.5px,#e5d2cc 88.5px,#eb9477 89.5px,#e7886b 90.5px,#e98d6f 92.5px,#f6b394 98.5px,#fdddcb 105.5px,#f5f6f6 114.5px,#e4eef4 119.5px,#a8b1b6 120.5px,#000000 121.5px,#000000 145.5px,#bfbfbf 146.5px)"></i><i style="top:99px;background:linear-gradient(90deg,#ffffff 0.5px,#000000 1.5px,#000000 25.5px,#0f0f0f 26.5px,#dce2e6 27.5px,#e7f0f4 28.5px,#cce2ee 35.5px,#88bfda 44.5px,#4793c2 51.5px,#3b77b1 55.5px,#376ba7 56.5px,#345487 57.5px,#903a40 58.5px,#ed987b 59.5px,#f8bc9f 60.5px,#fcd6c0 62.5px,#f9ece4 67.5px,#f7f6f5 70.5px,#cee4ef 79.5px,#a2cde3 84.5px,#96c7df 85.5px,#83bbd9 86.5px,#61a4cc 87.5px,#49547c 88.5px,#af3633 89.5px,#c95143 90.5px,#db6d57 92.5px,#f4a684 98.5px,#fddbc7 106.5px,#f6f6f5 115.5px,#eaf1f5 119.5px,#3a3c3d 120.5px,#000000 121.5px,#000000 145.5px,#bfbfbf 146.5px)"></i><i style="top:100px;background:linear-gradient(90deg,#ffffff 0.5px,#000000 1.5px,#000000 26.5px,#64686b 27.5px,#e1edf3 28.5px,#c8e0ed 34.5px,#8dc2dc 42.5px,#4794c3 49.5px,#366ca9 54.5px,#335e99 55.5px,#2e4a7b 56.5px,#5b2637 57.5px,#ac3130 58.5px,#d96c56 59.5px,#ef9a7b 60.5px,#f7b596 61.5px,#fcd2bb 63.5px,#fce1d1 65.5px,#f7f5f3 70.5px,#e5eff4 74.5px,#c9e1ed 79.5px,#9ecbe2 83.5px,#8fc3dd 84.5px,#79b5d5 85.5px,#5aa1ca 86.5px,#4083b9 87.5px,#31558a 88.5px,#72222b 89.5px,#aa2b2d 90.5px,#be413a 91.5px,#d4614d 93.5px,#f2a17f 99.5px,#fcd8c4 107.5px,#f6f6f6 117.5px,#f3f5f6 118.5px,#96989a 119.5px,#000000 120.5px,#000000 145.5px,#bfbfbf 146.5px)"></i><i style="top:101px;background:linear-gradient(90deg,#ffffff 0.5px,#000000 1.5px,#000000 27.5px,#b3bec5 28.5px,#d8e9f1 29.5px,#bedbeb 34.5px,#89bfdb 41.5px,#4b97c5 47.5px,#3871ad 52.5px,#3567a5 53.5px,#325a92 54.5px,#2e4978 55.5px,#452c45 56.5px,#862025 57.5px,#b53433 58.5px,#d25f4c 59.5px,#e68569 60.5px,#f3a482 61.5px,#f9c7ad 63.5px,#fddcca 65.5px,#f8f4f1 70.5px,#f0f4f6 72.5px,#cde3ef 78.5px,#a0cce2 82.5px,#7cb7d6 84.5px,#4792c1 86.5px,#3b79b2 87.5px,#31578f 88.5px,#462d46 89.5px,#892126 90.5px,#aa2a2d 91.5px,#c64c40 93.5px,#dd715a 96.5px,#f4a583 101.5px,#fddbc8 109.5px,#f8f3f0 117.5px,#e7e6e5 118.5px,#0f0f0f 119.5px,#000000 120.5px,#000000 145.5px,#bfbfbf 146.5px)"></i><i style="top:102px;background:linear-gradient(90deg,#ffffff 0.5px,#000000 1.5px,#000000 27.5px,#282c2d 28.5px,#d2e6f0 29.5px,#9fcce2 37.5px,#67aacf 43.5px,#4895c3 46.5px,#376fac 51.5px,#3465a2 52.5px,#2e4979 54.5px,#353456 55.5px,#731e23 56.5px,#992428 57.5px,#b93936 58.5px,#e17a61 60.5px,#ee9778 61.5px,#f5ae8d 62.5px,#fcd8c3 65.5px,#f8f3f0 70.5px,#f6f6f6 71.5px,#c9e1ee 78.5px,#97c8df 82.5px,#6eaed2 84.5px,#549dc8 85.5px,#428abd 86.5px,#3a75af 87.5px,#325a93 88.5px,#2f3c65 89.5px,#711d22 90.5px,#932227 91.5px,#ac2a2d 92.5px,#d5634e 96.5px,#f5aa89 103.5px,#fdd9c5 110.5px,#f9efe9 117.5px,#6d6a68 118.5px,#000000 119.5px,#000000 145.5px,#bfbfbf 146.5px)"></i><i style="top:103px;background:linear-gradient(90deg,#ffffff 0.5px,#000000 1.5px,#000000 28.5px,#c5dfec 30.5px,#8cc1dc 38.5px,#4693c2 45.5px,#376dab 50.5px,#3464a1 51.5px,#2e4a7b 53.5px,#2e3a61 54.5px,#611f28 55.5px,#852025 56.5px,#a6272b 57.5px,#cf5a48 59.5px,#eb9071 61.5px,#f4a685 62.5px,#fcd3bc 65.5px,#fae8dd 68.5px,#f6f6f5 71.5px,#d0e5ef 77.5px,#9fcce2 81.5px,#7cb7d6 83.5px,#4c97c5 85.5px,#3973af 87.5px,#325e98 88.5px,#2d4574 89.5px,#502637 90.5px,#7e1f24 91.5px,#9a2428 92.5px,#ae2b2e 93.5px,#d4614c 97.5px,#f4a886 104.5px,#fddcc9 112.5px,#fae8dd 116.5px,#aca19b 117.5px,#000000 118.5px,#000000 145.5px,#bfbfbf 146.5px)"></i><i style="top:104px;background:linear-gradient(90deg,#ffffff 0.5px,#000000 1.5px,#000000 29.5px,#99b1be 30.5px,#b5d7e8 31.5px,#89bfdb 37.5px,#4591c1 44.5px,#376daa 49.5px,#3464a1 50.5px,#2c3f6a 53.5px,#4b273a 54.5px,#781e23 55.5px,#ae2c2e 57.5px,#d05b49 59.5px,#f2a280 62.5px,#fbcfb7 65.5px,#fce1d1 67.5px,#f7f5f5 71.5px,#cee4ef 77.5px,#9bcae1 81.5px,#75b2d4 83.5px,#4894c3 85.5px,#3974af 87.5px,#33619d 88.5px,#2f4c7d 89.5px,#31365a 90.5px,#6e1d22 91.5px,#a02529 93.5px,#b02d2f 94.5px,#da6a54 99.5px,#f4a784 105.5px,#fddbc7 113.5px,#fce1d1 115.5px,#ecd6c9 116.5px,#100e0e 117.5px,#000000 118.5px,#000000 145.5px,#bfbfbf 146.5px)"></i><i style="top:105px;background:linear-gradient(90deg,#ffffff 0.5px,#000000 1.5px,#000000 29.5px,#161b1d 30.5px,#a2c5d7 31.5px,#a6cfe4 32.5px,#7eb8d7 37.5px,#4b97c5 42.5px,#376daa 48.5px,#3464a2 49.5px,#2c426e 52.5px,#38304e 53.5px,#6e1d22 54.5px,#a02529 56.5px,#b43231 57.5px,#de725b 60.5px,#f19e7d 62.5px,#fcd8c3 66.5px,#f7f5f4 71.5px,#cde3ef 77.5px,#97c8df 81.5px,#4792c2 85.5px,#3a75af 87.5px,#3464a2 88.5px,#2c3f6b 90.5px,#4f2536 91.5px,#791e24 92.5px,#a4262a 94.5px,#bb3c37 96.5px,#de735c 101.5px,#f5ac8b 107.5px,#fdddcb 115.5px,#3f3834 116.5px,#000000 117.5px,#000000 145.5px,#bfbfbf 146.5px)"></i><i style="top:106px;background:linear-gradient(90deg,#ffffff 0.5px,#000000 1.5px,#000000 30.5px,#334047 31.5px,#9dcbe1 32.5px,#5ea4cc 39.5px,#4a96c4 41.5px,#376dab 47.5px,#3465a3 48.5px,#2d4472 51.5px,#2e375d 52.5px,#5f1f28 53.5px,#7a1f24 54.5px,#a9272b 56.5px,#d35f4b 59.5px,#f09d7c 62.5px,#fcd6c0 66.5px,#f7f5f4 71.5px,#dceaf2 75.5px,#cbe2ee 77.5px,#94c6de 81.5px,#4692c1 85.5px,#3568a5 88.5px,#2d4674 90.5px,#373050 91.5px,#6c1d22 92.5px,#a9272b 95.5px,#d35f4b 100.5px,#f3a482 107.5px,#fcd2bb 114.5px,#7e6c61 115.5px,#000000 116.5px,#000000 145.5px,#bfbfbf 146.5px)"></i><i style="top:107px;background:linear-gradient(90deg,#ffffff 0.5px,#000000 1.5px,#000000 31.5px,#405661 32.5px,#8bc1db 33.5px,#4996c4 40.5px,#3466a4 47.5px,#2b3c66 51.5px,#4a263a 52.5px,#721e22 53.5px,#9c2428 55.5px,#af2c2e 56.5px,#d5624d 59.5px,#f5ac8b 63.5px,#fcd4bf 66.5px,#f7f5f3 71.5px,#e3eef4 74.5px,#cae1ee 77.5px,#92c5de 81.5px,#4692c1 85.5px,#366ba8 88.5px,#2b3c67 91.5px,#55222f 92.5px,#761e23 93.5px,#ac292c 96.5px,#d96953 102.5px,#f5aa89 109.5px,#f9c4aa 113.5px,#9c7e6f 114.5px,#000000 115.5px,#000000 145.5px,#bfbfbf 146.5px)"></i><i style="top:108px;background:linear-gradient(90deg,#ffffff 0.5px,#000000 1.5px,#000000 32.5px,#517487 33.5px,#78b4d5 34.5px,#4995c4 39.5px,#3467a5 46.5px,#2c3f6a 50.5px,#372f4d 51.5px,#6a1c21 52.5px,#a6262a 55.5px,#bf433b 57.5px,#d6654f 59.5px,#f5ac8b 63.5px,#fdddcb 67.5px,#f7f4f3 71.5px,#ebf1f5 73.5px,#c9e1ee 77.5px,#91c4dd 81.5px,#4692c2 85.5px,#376dab 88.5px,#33609c 89.5px,#2d4370 91.5px,#37304e 92.5px,#6b1c21 93.5px,#a12529 96.5px,#b73634 98.5px,#de735b 104.5px,#f5a988 110.5px,#f7b698 112.5px,#c99982 113.5px,#100c0b 114.5px,#000000 115.5px,#000000 145.5px,#bfbfbf 146.5px)"></i><i style="top:109px;background:linear-gradient(90deg,#ffffff 0.5px,#000000 1.5px,#000000 33.5px,#446d83 34.5px,#64a8ce 35.5px,#4895c3 38.5px,#3568a6 45.5px,#2d426f 49.5px,#2d365c 50.5px,#5d1e27 51.5px,#751e23 52.5px,#ad292c 55.5px,#d86852 59.5px,#f5ac8b 63.5px,#fdddcb 67.5px,#f7f4f3 71.5px,#ebf1f5 73.5px,#c9e1ed 77.5px,#90c4dd 81.5px,#4793c2 85.5px,#3870ad 88.5px,#3464a1 89.5px,#2b3b64 92.5px,#55212f 93.5px,#731e23 94.5px,#a6262a 97.5px,#c64e41 101.5px,#e37d63 106.5px,#f5a887 111.5px,#c88e74 112.5px,#0f0b09 113.5px,#000000 114.5px,#000000 145.5px,#bfbfbf 146.5px)"></i><i style="top:110px;background:linear-gradient(90deg,#ffffff 0.5px,#000000 1.5px,#000000 34.5px,#4983a4 35.5px,#509bc7 36.5px,#448fbf 38.5px,#3569a7 44.5px,#2d4573 48.5px,#2b3b64 49.5px,#492639 50.5px,#6e1d22 51.5px,#a3252a 54.5px,#bc3d38 56.5px,#da6b54 59.5px,#f5ad8c 63.5px,#fdddca 67.5px,#f7f4f2 71.5px,#ebf1f5 73.5px,#c9e1ed 77.5px,#90c4dd 81.5px,#4894c3 85.5px,#3568a6 89.5px,#2c416d 92.5px,#372f4e 93.5px,#691c21 94.5px,#aa272b 98.5px,#da6a54 105.5px,#ee9878 110.5px,#c58267 111.5px,#0f0b08 112.5px,#000000 113.5px,#000000 145.5px,#bfbfbf 146.5px)"></i><i style="top:111px;background:linear-gradient(90deg,#ffffff 0.5px,#000000 1.5px,#000000 34.5px,#050a0c 35.5px,#367092 36.5px,#448fbf 37.5px,#356aa8 43.5px,#2f5185 46.5px,#2c3e69 48.5px,#343051 49.5px,#671c21 50.5px,#ab282c 54.5px,#dc6e57 59.5px,#f6ae8d 63.5px,#fdddca 67.5px,#f7f4f2 71.5px,#ebf1f5 73.5px,#c8e0ed 77.5px,#91c4dd 81.5px,#4996c4 85.5px,#366ba9 89.5px,#2b3a63 93.5px,#54212e 94.5px,#711d22 95.5px,#ad292c 99.5px,#da6b55 106.5px,#e7866a 109.5px,#be745c 110.5px,#0f0907 111.5px,#000000 112.5px,#000000 145.5px,#bfbfbf 146.5px)"></i><i style="top:112px;background:linear-gradient(90deg,#ffffff 0.5px,#000000 1.5px,#000000 36.5px,#295676 37.5px,#4083b9 38.5px,#3364a1 43.5px,#2a375f 48.5px,#58202b 49.5px,#711d22 50.5px,#a22529 53.5px,#b02c2e 54.5px,#d5634e 58.5px,#f2a180 62.5px,#fdddcb 67.5px,#f7f4f2 71.5px,#ebf1f5 73.5px,#c8e0ed 77.5px,#91c5dd 81.5px,#4b98c5 85.5px,#376eab 89.5px,#3363a0 90.5px,#2c406b 93.5px,#372f4e 94.5px,#681c21 95.5px,#a5252a 99.5px,#bd3f39 102.5px,#df745d 108.5px,#b86651 109.5px,#0e0807 110.5px,#000000 111.5px,#000000 145.5px,#bfbfbf 146.5px)"></i><i style="top:113px;background:linear-gradient(90deg,#ffffff 0.5px,#000000 1.5px,#000000 37.5px,#264f71 38.5px,#3b78b2 39.5px,#3465a3 42.5px,#2b3a64 47.5px,#45283d 48.5px,#6b1c21 49.5px,#a9272b 53.5px,#d86751 58.5px,#f3a381 62.5px,#fdddcb 67.5px,#f7f4f2 71.5px,#ebf1f5 73.5px,#c9e1ed 77.5px,#82bad8 82.5px,#4d99c6 85.5px,#4085b9 87.5px,#3467a5 90.5px,#2b3a63 94.5px,#4d2435 95.5px,#6f1d22 96.5px,#a9262b 100.5px,#d6644f 107.5px,#a45240 108.5px,#0e0706 109.5px,#000000 110.5px,#000000 145.5px,#bfbfbf 146.5px)"></i><i style="top:114px;background:linear-gradient(90deg,#ffffff 0.5px,#000000 1.5px,#000000 38.5px,#152b41 39.5px,#376daa 40.5px,#335f9a 42.5px,#2b3e68 46.5px,#303255 47.5px,#621d24 48.5px,#a12529 52.5px,#af2a2d 53.5px,#da6a54 58.5px,#f4a583 62.5px,#fdddcb 67.5px,#f7f4f2 71.5px,#ebf1f5 73.5px,#c9e1ed 77.5px,#83bbd9 82.5px,#509bc7 85.5px,#4590c0 86.5px,#366aa8 90.5px,#2c3f6a 94.5px,#313255 95.5px,#661c21 96.5px,#ac282c 101.5px,#cc5545 106.5px,#833a2e 107.5px,#000000 108.5px,#000000 145.5px,#bfbfbf 146.5px)"></i><i style="top:115px;background:linear-gradient(90deg,#ffffff 0.5px,#000000 1.5px,#000000 39.5px,#0d1a2a 40.5px,#305a93 41.5px,#325991 42.5px,#2a385f 46.5px,#53212e 47.5px,#6d1d22 48.5px,#a8262b 52.5px,#d4614d 57.5px,#f4a785 62.5px,#fddecc 67.5px,#f7f4f3 71.5px,#ebf1f5 73.5px,#c9e1ee 77.5px,#85bdd9 82.5px,#539dc8 85.5px,#4692c2 86.5px,#3363a1 91.5px,#2a3962 95.5px,#4c2435 96.5px,#6d1d22 97.5px,#ae2a2d 102.5px,#bb3c37 104.5px,#b54139 105.5px,#4a1d18 106.5px,#000000 107.5px,#000000 145.5px,#bfbfbf 146.5px)"></i><i style="top:116px;background:linear-gradient(90deg,#ffffff 0.5px,#000000 1.5px,#000000 40.5px,#030609 41.5px,#243e66 42.5px,#2e4b7c 43.5px,#2b3a64 45.5px,#3e2b44 46.5px,#681c21 47.5px,#ae292d 52.5px,#d6654f 57.5px,#f5a987 62.5px,#fddecd 67.5px,#f7f4f3 71.5px,#ebf1f5 73.5px,#cae1ee 77.5px,#87beda 82.5px,#4894c3 86.5px,#3467a6 91.5px,#2c3e69 95.5px,#303255 96.5px,#651c20 97.5px,#a8262a 102.5px,#b02c2e 103.5px,#942b2a 104.5px,#230c0b 105.5px,#000000 106.5px,#000000 145.5px,#bfbfbf 146.5px)"></i><i style="top:117px;background:linear-gradient(90deg,#ffffff 0.5px,#000000 1.5px,#000000 42.5px,#293a61 44.5px,#2d3459 45.5px,#601d24 46.5px,#a8262a 51.5px,#d15d4a 56.5px,#f5ab8a 62.5px,#fcd7c2 66.5px,#f7f5f3 71.5px,#e3eef4 74.5px,#cae2ee 77.5px,#89bfdb 82.5px,#4a97c4 86.5px,#366aa9 91.5px,#2a3962 96.5px,#4c2435 97.5px,#6c1d21 98.5px,#a02529 102.5px,#601618 103.5px,#0b0303 104.5px,#000000 105.5px,#000000 145.5px,#bfbfbf 146.5px)"></i><i style="top:118px;background:linear-gradient(90deg,#ffffff 0.5px,#000000 1.5px,#000000 43.5px,#05070c 44.5px,#3b1a26 45.5px,#6b1c21 46.5px,#ad292c 51.5px,#db6c55 57.5px,#f5ad8c 62.5px,#fcd8c3 66.5px,#f7f5f3 71.5px,#e3eef4 74.5px,#cbe2ee 77.5px,#8bc0db 82.5px,#4d99c6 86.5px,#4187bb 88.5px,#3465a3 92.5px,#2c3e69 96.5px,#303255 97.5px,#641b20 98.5px,#7e1f24 100.5px,#711b1f 101.5px,#26090a 102.5px,#000000 103.5px,#000000 145.5px,#bfbfbf 146.5px)"></i><i style="top:119px;background:linear-gradient(90deg,#ffffff 0.5px,#000000 1.5px,#000000 45.5px,#24090b 46.5px,#6f1b20 47.5px,#8c2126 48.5px,#a7262a 50.5px,#c64e41 54.5px,#dc6f58 57.5px,#f6af8f 62.5px,#fdd9c5 66.5px,#f7f5f3 71.5px,#e3eef4 74.5px,#cce2ee 77.5px,#8dc2dc 82.5px,#509bc7 86.5px,#4591c1 87.5px,#3568a6 92.5px,#2a3962 97.5px,#45273d 98.5px,#631b1f 99.5px,#000000 101.5px,#000000 145.5px,#bfbfbf 146.5px)"></i><i style="top:120px;background:linear-gradient(90deg,#ffffff 0.5px,#000000 1.5px,#000000 47.5px,#400f11 48.5px,#962226 49.5px,#ac282c 50.5px,#d86751 56.5px,#f4a684 61.5px,#fddac6 66.5px,#f7f5f4 71.5px,#dceaf2 75.5px,#c0dceb 78.5px,#80b9d8 83.5px,#4794c2 87.5px,#366ba9 92.5px,#325991 94.5px,#2e4675 96.5px,#293a62 97.5px,#18192a 98.5px,#060202 99.5px,#000000 100.5px,#000000 145.5px,#bfbfbf 146.5px)"></i><i style="top:121px;background:linear-gradient(90deg,#ffffff 0.5px,#000000 1.5px,#000000 48.5px,#0b0203 49.5px,#a02f2e 51.5px,#be403a 52.5px,#da6b54 56.5px,#f4a886 61.5px,#fddbc7 66.5px,#f7f5f4 71.5px,#d5e7f1 76.5px,#9dcbe1 81.5px,#4996c4 87.5px,#3466a4 93.5px,#325c97 94.5px,#2d4f81 95.5px,#17253e 96.5px,#030407 97.5px,#000000 98.5px,#000000 145.5px,#bfbfbf 146.5px)"></i><i style="top:122px;background:linear-gradient(90deg,#ffffff 0.5px,#000000 1.5px,#000000 51.5px,#481a16 52.5px,#963b32 53.5px,#cf5948 54.5px,#f5aa89 61.5px,#fddbc8 66.5px,#f7f5f4 71.5px,#cde3ef 77.5px,#84bcd9 83.5px,#4c98c5 87.5px,#3e80b6 90.5px,#3870ad 92.5px,#2e5c93 93.5px,#162a44 94.5px,#030609 95.5px,#000000 96.5px,#000000 145.5px,#bfbfbf 146.5px)"></i><i style="top:123px;background:linear-gradient(90deg,#ffffff 0.5px,#000000 1.5px,#000000 53.5px,#1a0c09 54.5px,#793a2e 55.5px,#c2644f 56.5px,#e37d64 57.5px,#f5ac8b 61.5px,#fddcc9 66.5px,#f7f5f4 71.5px,#cee3ef 77.5px,#87beda 83.5px,#4e9ac6 87.5px,#428abd 89.5px,#3b7aac 90.5px,#264d70 91.5px,#0e1d2c 92.5px,#000000 93.5px,#000000 145.5px,#bfbfbf 146.5px)"></i><i style="top:124px;background:linear-gradient(90deg,#ffffff 0.5px,#000000 1.5px,#000000 56.5px,#2b1813 57.5px,#834f3e 58.5px,#c27c62 59.5px,#f3a582 60.5px,#fdddca 66.5px,#f7f5f5 71.5px,#cee4ef 77.5px,#89bfdb 83.5px,#5fa5cd 86.5px,#4889af 87.5px,#28536d 88.5px,#152c3b 89.5px,#000000 90.5px,#000000 145.5px,#bfbfbf 146.5px)"></i><i style="top:125px;background:linear-gradient(90deg,#ffffff 0.5px,#000000 1.5px,#000000 59.5px,#0f0b08 60.5px,#4d372d 61.5px,#7c5d4e 62.5px,#bb927e 63.5px,#bdaa9f 67.5px,#b9b8b8 71.5px,#93a7b1 78.5px,#6890a4 83.5px,#2a424f 85.5px,#0d151a 86.5px,#000000 87.5px,#000000 145.5px,#bfbfbf 146.5px)"></i><i style="top:126px;height:19px;background:linear-gradient(90deg,#ffffff 0.5px,#000000 1.5px,#000000 145.5px,#bfbfbf 146.5px)"></i><i style="top:145px;background:linear-gradient(90deg,#ffffff 0.5px,#808080 1.5px,#808080 145.5px,#dfdfdf 146.5px)"></i></div>
<div class="hm" style="left:490px;top:20px;width:146px;height:146px"><i style="top:0px;background:linear-gradient(90deg,#ffffff 0.5px,#855357 1.5px,#855357 58.5px,#8e5559 59.5px,#c16062 61.5px,#e59483 64.5px,#f9c6af 67.5px,#fde8dc 70.5px,#f6f8f8 73.5px,#ddecf4 76.5px,#b2d6e7 79.5px,#77b0d2 82.5px,#6b96c2 84.5px,#6687b3 85.5px,#5f6784 87.5px,#5f6682 145.5px)"></i><i style="top:1px;background:linear-gradient(90deg,#ffffff 0.5px,#5c1a1f 1.5px,#5c1a1f 57.5px,#601b20 58.5px,#a12529 60.5px,#b73734 61.5px,#d66550 63.5px,#f4a886 66.5px,#fcd9c4 69.5px,#f8f1ed 72.5px,#f4f5f6 73.5px,#d4e7f0 76.5px,#9fcce2 79.5px,#549ec8 82.5px,#438dbe 83.5px,#366ba8 85.5px,#31558c 86.5px,#2c3e69 87.5px,#2a3358 88.5px,#2a3358 145.5px)"></i><i style="top:2px;background:linear-gradient(90deg,#ffffff 0.5px,#5c1a1f 1.5px,#5d1a1f 57.5px,#741e23 58.5px,#972328 59.5px,#b12f30 60.5px,#dd715a 63.5px,#f6af8f 66.5px,#fddbc8 69.5px,#f8f2ee 72.5px,#f4f5f6 73.5px,#cae1ee 77.5px,#93c6de 80.5px,#4b96c4 83.5px,#3a76b0 85.5px,#3464a1 86.5px,#2b3962 88.5px,#2a3358 89.5px,#2a3358 145.5px)"></i><i style="top:3px;background:linear-gradient(90deg,#ffffff 0.5px,#5c1a1f 1.5px,#5c1a1f 56.5px,#6d1d22 57.5px,#ac2a2d 59.5px,#d96953 62.5px,#f4a785 65.5px,#fcd3bd 68.5px,#f8f2ef 72.5px,#f4f5f6 73.5px,#cee4ef 77.5px,#88bfda 81.5px,#58a1ca 83.5px,#4690c1 84.5px,#3871ad 86.5px,#335f9a 87.5px,#2a365d 89.5px,#2a3358 91.5px,#2a3358 145.5px)"></i><i style="top:4px;background:linear-gradient(90deg,#ffffff 0.5px,#5c1a1f 1.5px,#5c1a1f 55.5px,#681c21 56.5px,#a6272b 58.5px,#c74e42 60.5px,#e98b6e 63.5px,#f6af8e 65.5px,#fcd7c2 68.5px,#f8f3ef 72.5px,#f4f6f6 73.5px,#d2e6f0 77.5px,#93c6de 81.5px,#509bc7 84.5px,#438cbe 85.5px,#376daa 87.5px,#325a93 88.5px,#2d4573 89.5px,#2a355b 90.5px,#2a3358 145.5px)"></i><i style="top:5px;background:linear-gradient(90deg,#ffffff 0.5px,#5c1a1f 1.5px,#5c1a1f 54.5px,#651b20 55.5px,#a1252a 57.5px,#b63433 58.5px,#dd7059 61.5px,#f4a886 64.5px,#fddbc8 68.5px,#f8f3f0 72.5px,#f4f6f6 73.5px,#cae1ee 78.5px,#8bc1db 82.5px,#4b96c4 85.5px,#366aa7 88.5px,#2d426f 90.5px,#2a345a 91.5px,#2a3358 145.5px)"></i><i style="top:6px;background:linear-gradient(90deg,#ffffff 0.5px,#5c1a1f 1.5px,#5c1a1f 53.5px,#641b20 54.5px,#9e2429 56.5px,#b33131 57.5px,#da6b55 60.5px,#f2a281 63.5px,#fcd5bf 67.5px,#f8f3f1 72.5px,#f4f6f6 73.5px,#cfe4ef 78.5px,#96c7df 82.5px,#4793c2 86.5px,#3567a4 89.5px,#2c406c 91.5px,#2a3459 92.5px,#2a3358 145.5px)"></i><i style="top:7px;background:linear-gradient(90deg,#ffffff 0.5px,#5c1a1f 1.5px,#5c1a1f 52.5px,#631b20 53.5px,#9c2428 55.5px,#b23030 56.5px,#e17a61 60.5px,#f5ac8b 63.5px,#fdd9c5 67.5px,#f8f3f1 72.5px,#eef3f5 74.5px,#c9e1ed 79.5px,#91c4dd 83.5px,#559ec9 86.5px,#4590c0 87.5px,#3466a3 90.5px,#2c406b 92.5px,#2a3459 93.5px,#2a3358 145.5px)"></i><i style="top:8px;background:linear-gradient(90deg,#ffffff 0.5px,#5c1a1f 1.5px,#5c1a1f 51.5px,#641b20 52.5px,#9b2428 54.5px,#b12f30 55.5px,#e0765e 59.5px,#f4a886 62.5px,#fdddca 67.5px,#f5f6f6 73.5px,#cee3ef 79.5px,#8cc1dc 84.5px,#529cc7 87.5px,#448fbf 88.5px,#3a74af 90.5px,#3465a2 91.5px,#2c406c 93.5px,#2a345a 94.5px,#2a3358 145.5px)"></i><i style="top:9px;background:linear-gradient(90deg,#ffffff 0.5px,#5c1a1f 1.5px,#5c1a1f 50.5px,#661c21 51.5px,#9c2429 53.5px,#b12f30 54.5px,#df755d 58.5px,#f4a583 61.5px,#fddac5 66.5px,#f7f4f2 72.5px,#eff3f6 74.5px,#c9e1ee 80.5px,#98c8e0 84.5px,#509bc7 88.5px,#448ebf 89.5px,#3974af 91.5px,#3465a2 92.5px,#2c416e 94.5px,#2a345a 95.5px,#2a3358 145.5px)"></i><i style="top:10px;background:linear-gradient(90deg,#ffffff 0.5px,#5c1a1f 1.5px,#5c1a1f 49.5px,#691c21 50.5px,#9e2529 52.5px,#b23030 53.5px,#de745c 57.5px,#f3a381 60.5px,#fcd7c1 65.5px,#f7f4f3 72.5px,#f0f4f6 74.5px,#cfe4ef 80.5px,#96c7df 85.5px,#4f9ac6 89.5px,#448ebf 90.5px,#3567a4 93.5px,#2a355c 96.5px,#2a3358 100.5px,#2a3358 145.5px)"></i><i style="top:11px;background:linear-gradient(90deg,#ffffff 0.5px,#5c1a1f 1.5px,#5e1a1f 48.5px,#6e1d22 49.5px,#a2262a 51.5px,#c0433b 53.5px,#df745c 56.5px,#f6ae8d 60.5px,#fddbc8 65.5px,#f5f6f6 73.5px,#cce2ee 81.5px,#95c6df 86.5px,#509bc7 90.5px,#448ebf 91.5px,#3568a6 94.5px,#2a385f 97.5px,#2a3358 98.5px,#2a3358 145.5px)"></i><i style="top:12px;background:linear-gradient(90deg,#ffffff 0.5px,#5c1a1f 1.5px,#5c1a1f 46.5px,#601b20 47.5px,#8e2227 49.5px,#a6272b 50.5px,#cd5646 53.5px,#ed9475 57.5px,#f9c1a6 61.5px,#fcdecd 65.5px,#f5f6f6 73.5px,#d1e5f0 81.5px,#a0cce2 86.5px,#75b2d4 89.5px,#519cc7 91.5px,#4590c0 92.5px,#366ba8 95.5px,#325c96 96.5px,#2b3b64 98.5px,#2a3359 99.5px,#2a3358 145.5px)"></i><i style="top:13px;background:linear-gradient(90deg,#ffffff 0.5px,#5c1a1f 1.5px,#5c1a1f 45.5px,#661c21 46.5px,#ab2a2d 49.5px,#d86852 53.5px,#f3a381 57.5px,#fcd9c4 63.5px,#f8f3f0 71.5px,#f2f5f6 74.5px,#d0e5ef 82.5px,#a0cce2 87.5px,#76b3d5 90.5px,#4691c1 93.5px,#376eab 96.5px,#33609c 97.5px,#2c406c 99.5px,#2a355b 100.5px,#2a3358 145.5px)"></i><i style="top:14px;background:linear-gradient(90deg,#ffffff 0.5px,#5c1a1f 1.5px,#5e1a1f 44.5px,#6e1d22 45.5px,#9e2529 47.5px,#b02e2f 48.5px,#da6b55 52.5px,#f3a482 56.5px,#fcd8c3 62.5px,#f8f1ed 70.5px,#f2f5f6 74.5px,#d0e4ef 83.5px,#a1cde3 88.5px,#79b5d5 91.5px,#4894c3 94.5px,#3972ae 97.5px,#3465a2 98.5px,#2b3860 101.5px,#2a3358 102.5px,#2a3358 145.5px)"></i><i style="top:15px;background:linear-gradient(90deg,#ffffff 0.5px,#5c1a1f 1.5px,#5c1a1f 42.5px,#651b20 43.5px,#a7272b 46.5px,#d4614d 50.5px,#f4a685 55.5px,#fcd8c4 61.5px,#f9f0eb 69.5px,#f5f6f7 73.5px,#d0e4ef 84.5px,#a3cee3 89.5px,#7cb7d7 92.5px,#4c97c5 95.5px,#366ba8 99.5px,#325d97 100.5px,#2c3f6a 102.5px,#2a355b 103.5px,#2a3358 145.5px)"></i><i style="top:16px;background:linear-gradient(90deg,#ffffff 0.5px,#5c1a1f 1.5px,#5c1a1f 40.5px,#601b20 41.5px,#872126 43.5px,#af2c2e 45.5px,#df745c 50.5px,#f5a988 54.5px,#fcd3bc 59.5px,#fbe4d5 63.5px,#f7f6f5 72.5px,#d9e9f1 83.5px,#cae1ee 86.5px,#9bcae1 91.5px,#61a6cd 95.5px,#4690c1 97.5px,#3870ad 100.5px,#3464a1 101.5px,#2b3a62 104.5px,#2a3359 105.5px,#2a3358 145.5px)"></i><i style="top:17px;background:linear-gradient(90deg,#ffffff 0.5px,#5c1a1f 1.5px,#5e1a1f 39.5px,#6b1c21 40.5px,#a8282c 43.5px,#db6c56 48.5px,#f5ac8b 53.5px,#fcd5bf 58.5px,#fbe6db 63.5px,#f7f6f5 72.5px,#ddebf2 83.5px,#cce2ee 87.5px,#93c6de 93.5px,#4995c3 98.5px,#366ba8 102.5px,#305185 104.5px,#2a375f 106.5px,#2a3358 107.5px,#2a3358 145.5px)"></i><i style="top:18px;background:linear-gradient(90deg,#ffffff 0.5px,#5c1a1f 1.5px,#5e1a1f 37.5px,#681c21 38.5px,#a3262a 41.5px,#bb3d38 43.5px,#de735b 47.5px,#f4a685 51.5px,#fcd7c2 57.5px,#fae9df 63.5px,#f6f6f6 72.5px,#e1edf3 83.5px,#cee4ef 88.5px,#98c8e0 94.5px,#509ac6 99.5px,#4186ba 101.5px,#3567a4 104.5px,#2a365d 108.5px,#2a3358 110.5px,#2a3358 145.5px)"></i><i style="top:19px;background:linear-gradient(90deg,#ffffff 0.5px,#5c1a1f 1.5px,#5e1a1f 35.5px,#681c21 36.5px,#a02529 39.5px,#b93936 41.5px,#db6d56 45.5px,#f5ab8a 50.5px,#fddac5 56.5px,#f9ece4 63.5px,#f6f7f7 73.5px,#e3eef4 84.5px,#cae2ee 90.5px,#92c5de 96.5px,#4a96c4 101.5px,#3870ac 105.5px,#3465a2 106.5px,#2c406b 109.5px,#2a375e 110.5px,#2a3358 112.5px,#2a3358 145.5px)"></i><i style="top:20px;background:linear-gradient(90deg,#ffffff 0.5px,#5c1a1f 1.5px,#5c1a1f 32.5px,#601b20 33.5px,#7c1f24 35.5px,#ad2b2e 38.5px,#d96953 43.5px,#f4a785 48.5px,#fcd7c2 54.5px,#fae9e0 60.5px,#f7f4f3 68.5px,#f0f4f6 79.5px,#dbeaf2 88.5px,#c7e0ed 92.5px,#8cc1dc 98.5px,#4893c2 103.5px,#376eab 107.5px,#315991 109.5px,#2b3860 112.5px,#2a3358 114.5px,#2a3358 145.5px)"></i><i style="top:21px;background:linear-gradient(90deg,#ffffff 0.5px,#5c1a1f 1.5px,#5e1a1f 30.5px,#721d22 32.5px,#ae2c2e 36.5px,#de725a 42.5px,#f5ac8b 47.5px,#fddac6 53.5px,#f9eee6 60.5px,#f6f6f6 69.5px,#eef2f5 83.5px,#d6e8f1 91.5px,#c3deec 94.5px,#87beda 100.5px,#4f9ac6 104.5px,#4288bc 106.5px,#3465a2 110.5px,#2b3c65 114.5px,#2a3358 116.5px,#2a3358 145.5px)"></i><i style="top:22px;background:linear-gradient(90deg,#ffffff 0.5px,#621b20 1.5px,#5c1a1f 3.5px,#5e1a1f 27.5px,#6e1d22 29.5px,#a6272b 33.5px,#c84f42 37.5px,#e7886b 42.5px,#f6b292 46.5px,#fdddcb 52.5px,#f8f1ed 60.5px,#f6f7f7 68.5px,#f2f5f6 83.5px,#ddebf2 91.5px,#c9e1ed 95.5px,#8fc3dd 101.5px,#4d99c6 106.5px,#3e80b6 109.5px,#3568a5 112.5px,#2b3a63 117.5px,#2a3359 119.5px,#2a345a 144.5px,#2b3860 145.5px)"></i><i style="top:23px;background:linear-gradient(90deg,#ffffff 0.5px,#922227 1.5px,#721d23 3.5px,#611b20 5.5px,#5c1a1f 10.5px,#5e1a1f 23.5px,#731e23 26.5px,#ac2b2d 31.5px,#d76550 37.5px,#f4a785 43.5px,#fddcc9 50.5px,#f9f0ea 57.5px,#f6f6f6 63.5px,#f3f5f6 85.5px,#dceaf2 93.5px,#c6dfed 97.5px,#8cc1dc 103.5px,#4d99c5 108.5px,#3f82b8 111.5px,#3464a1 115.5px,#2c3d68 120.5px,#2a3359 123.5px,#2a3459 140.5px,#2b3b65 142.5px,#2f4e80 144.5px,#315992 145.5px)"></i><i style="top:24px;background:linear-gradient(90deg,#ffffff 0.5px,#ba3b37 1.5px,#a5282b 3.5px,#771e23 7.5px,#651c20 10.5px,#611b20 16.5px,#6b1c21 20.5px,#912227 25.5px,#ac2b2d 28.5px,#d86751 35.5px,#f5ad8d 42.5px,#fddac7 48.5px,#f9f0eb 55.5px,#f5f6f6 60.5px,#f3f5f6 70.5px,#f7f5f4 84.5px,#eaf1f5 91.5px,#cbe2ee 98.5px,#8ac0db 105.5px,#4f9ac6 110.5px,#4085b9 113.5px,#3465a2 118.5px,#2c416d 124.5px,#2a375d 128.5px,#2a375e 135.5px,#2c3f6b 138.5px,#325d96 142.5px,#3c79b2 145.5px)"></i><i style="top:25px;background:linear-gradient(90deg,#ffffff 0.5px,#d4624e 1.5px,#b53433 5.5px,#9f2529 8.5px,#8a2126 12.5px,#872126 16.5px,#9a2428 21.5px,#b12f30 25.5px,#da6a54 33.5px,#f5ac8b 40.5px,#fdddcc 47.5px,#f7f4f2 55.5px,#eef3f5 62.5px,#f7f5f4 75.5px,#f8f2ef 84.5px,#f1f4f6 91.5px,#d0e5ef 99.5px,#89c0db 107.5px,#4a95c3 113.5px,#3465a2 122.5px,#2f5083 128.5px,#2f4d7f 132.5px,#31568d 136.5px,#3c7ab3 142.5px,#438bbd 144.5px,#4c96c4 145.5px)"></i><i style="top:26px;background:linear-gradient(90deg,#ffffff 0.5px,#e8896c 1.5px,#d4614e 4.5px,#bd3f39 8.5px,#b02f2f 12.5px,#ae2c2e 17.5px,#b93936 22.5px,#d96853 30.5px,#f5ac8b 38.5px,#fddcca 45.5px,#f7f5f3 53.5px,#eaf1f5 62.5px,#f7f6f5 74.5px,#f9efe9 83.5px,#f4f6f6 92.5px,#cee4ef 101.5px,#8ac0db 109.5px,#4f9ac6 115.5px,#428abd 118.5px,#376daa 126.5px,#3569a6 132.5px,#3c7ab3 138.5px,#4a94c3 142.5px,#64a8ce 144.5px,#76b3d4 145.5px)"></i><i style="top:27px;background:linear-gradient(90deg,#ffffff 0.5px,#f5ae8d 1.5px,#e68569 4.5px,#d76751 7.5px,#c64c40 12.5px,#c2473e 17.5px,#cd5747 23.5px,#e0775f 29.5px,#f5ac8c 36.5px,#fddbc8 43.5px,#f7f5f3 51.5px,#e7f0f4 59.5px,#eaf1f5 67.5px,#f7f5f4 74.5px,#f9ece3 83.5px,#f8f0ec 90.5px,#f1f4f6 95.5px,#cde3ef 103.5px,#83bbd9 112.5px,#509bc7 118.5px,#438bbd 122.5px,#3d7eb5 129.5px,#4085b9 135.5px,#4792c1 138.5px,#569fc9 140.5px,#90c3dd 144.5px,#a0cce2 145.5px)"></i><i style="top:28px;background:linear-gradient(90deg,#ffffff 0.5px,#facbb3 1.5px,#f4a787 4.5px,#e37f65 8.5px,#d86953 12.5px,#d4614d 17.5px,#db6e57 23.5px,#ed9475 30.5px,#f8ba9d 36.5px,#fddecd 42.5px,#f6f6f6 50.5px,#e2edf3 58.5px,#e5eff4 66.5px,#f7f5f4 74.5px,#fae9df 82.5px,#faeae2 89.5px,#f4f6f6 96.5px,#cbe2ee 105.5px,#78b4d5 116.5px,#529dc8 122.5px,#4792c1 127.5px,#4a95c3 133.5px,#569fc9 136.5px,#7db8d7 140.5px,#c2ddec 145.5px)"></i><i style="top:29px;background:linear-gradient(90deg,#ffffff 0.5px,#fce1d2 1.5px,#f6af8f 6.5px,#eb9072 10.5px,#e27c63 15.5px,#e37d63 20.5px,#ee9677 27.5px,#f7b698 33.5px,#fce1d1 41.5px,#f6f6f5 48.5px,#deebf2 57.5px,#dfecf2 64.5px,#f6f6f6 73.5px,#fbe6da 82.5px,#fbe5d9 88.5px,#f8f1ed 95.5px,#f3f5f6 98.5px,#cae1ee 107.5px,#71b0d3 121.5px,#5fa5cc 127.5px,#64a8ce 132.5px,#7ab5d6 136.5px,#abd2e5 141.5px,#dbeaf2 145.5px)"></i><i style="top:30px;background:linear-gradient(90deg,#ffffff 0.5px,#f9efe9 1.5px,#fac8ae 6.5px,#f5ab8a 10.5px,#ed9676 15.5px,#ed9676 21.5px,#f5ac8b 28.5px,#fbe3d4 40.5px,#f4f6f6 47.5px,#d9e9f1 56.5px,#d9e9f1 63.5px,#f6f6f6 73.5px,#fbe3d5 82.5px,#fce1d2 88.5px,#f9ede5 95.5px,#f5f6f6 99.5px,#c9e1ed 109.5px,#91c4de 119.5px,#7db7d7 125.5px,#7db7d7 130.5px,#92c5de 135.5px,#bcdaea 140.5px,#eef3f5 145.5px)"></i><i style="top:31px;background:linear-gradient(90deg,#ffffff 0.5px,#f0f3f5 1.5px,#f6f3f1 2.5px,#fcd5bf 7.5px,#f8ba9d 11.5px,#f5aa89 16.5px,#f5ab89 22.5px,#f8bda1 29.5px,#fbe5d8 39.5px,#f6f6f6 45.5px,#d5e7f1 55.5px,#d4e7f0 62.5px,#eaf1f5 70.5px,#f6f6f6 73.5px,#fce0d0 82.5px,#fdddcb 88.5px,#fbe6d9 94.5px,#f4f6f6 101.5px,#c3deec 112.5px,#9fcce2 120.5px,#93c5de 127.5px,#9ccae1 132.5px,#b9d9e9 137.5px,#f4f4f4 144.5px,#f8f0eb 145.5px)"></i><i style="top:32px;background:linear-gradient(90deg,#ffffff 0.5px,#dfecf3 1.5px,#f2f4f5 3.5px,#fcdecd 8.5px,#f9c4a9 13.5px,#f7b89b 18.5px,#f8bc9f 24.5px,#fbd0b9 31.5px,#f7f5f4 43.5px,#d1e5f0 54.5px,#cbe2ee 60.5px,#e1edf3 68.5px,#f6f6f6 73.5px,#fcdfcf 81.5px,#fcd7c2 87.5px,#fce1d1 94.5px,#f6f6f6 102.5px,#acd2e5 121.5px,#a6cfe4 127.5px,#b1d5e7 132.5px,#e3eef3 140.5px,#f3f4f5 142.5px,#faebe3 144.5px,#fbe3d5 145.5px)"></i><i style="top:33px;background:linear-gradient(90deg,#ffffff 0.5px,#cce3ee 1.5px,#edf2f5 4.5px,#f8f2ee 6.5px,#fcd9c4 12.5px,#fac8af 17.5px,#f9c7ad 23.5px,#fcd7c2 30.5px,#f6f6f6 42.5px,#c4deec 56.5px,#c5dfec 61.5px,#edf2f5 71.5px,#f6f6f6 73.5px,#fddac6 82.5px,#fbd0b9 87.5px,#fcd7c2 92.5px,#f4f5f6 104.5px,#bad9e9 121.5px,#b7d8e8 127.5px,#c4deec 132.5px,#eaf1f5 139.5px,#f7f4f2 141.5px,#fcdfce 144.5px,#fcd3bd 145.5px)"></i><i style="top:34px;background:linear-gradient(90deg,#ffffff 0.5px,#b3d6e7 1.5px,#d4e7f0 3.5px,#f6f5f4 7.5px,#fcdfcf 13.5px,#fcd3bd 19.5px,#fcd5bf 25.5px,#faeae1 36.5px,#f5f6f6 41.5px,#bddbea 55.5px,#bcdaea 60.5px,#e7f0f4 70.5px,#f6f6f6 73.5px,#fcd2bb 83.5px,#fac9b0 87.5px,#fbcfb8 92.5px,#f7f5f4 104.5px,#cfe4ef 117.5px,#c4deec 124.5px,#cde3ef 130.5px,#eaf1f5 137.5px,#f6f5f4 139.5px,#fbe4d6 142.5px,#fbcdb5 144.5px,#f8bca0 145.5px)"></i><i style="top:35px;background:linear-gradient(90deg,#ffffff 0.5px,#99c9e0 1.5px,#d0e5ef 4.5px,#f2f5f6 8.5px,#fbe4d7 14.5px,#fddcc8 21.5px,#fce1d1 29.5px,#f8f3f0 38.5px,#f0f4f6 41.5px,#b5d7e8 55.5px,#b5d6e8 60.5px,#cce2ee 65.5px,#f6f6f5 73.5px,#fcd1ba 82.5px,#f9c4aa 86.5px,#f9c6ac 91.5px,#fbe5d8 100.5px,#f5f6f6 106.5px,#d6e8f1 117.5px,#d1e5f0 126.5px,#e1edf3 133.5px,#f4f5f5 137.5px,#f9eee7 139.5px,#fcd7c3 142.5px,#f3a584 145.5px)"></i><i style="top:36px;background:linear-gradient(90deg,#ffffff 0.5px,#7cb7d7 1.5px,#aad1e5 3.5px,#cde3ee 5.5px,#eff3f6 9.5px,#f7f4f2 11.5px,#fbe5d8 17.5px,#fce1d1 24.5px,#fae9df 32.5px,#f4f6f6 39.5px,#c7e0ed 49.5px,#afd4e6 54.5px,#acd2e5 59.5px,#c0dceb 64.5px,#f6f6f5 73.5px,#fcd2bb 81.5px,#f9c1a5 85.5px,#f8bca0 89.5px,#fac8af 94.5px,#fbe5d8 101.5px,#f6f6f6 107.5px,#dbeaf2 117.5px,#d8e9f1 126.5px,#eaf1f5 133.5px,#f7f4f3 136.5px,#fcdecd 140.5px,#f9c5ab 142.5px,#f2a281 144.5px,#e98b6e 145.5px)"></i><i style="top:37px;background:linear-gradient(90deg,#ffffff 0.5px,#5fa5cc 1.5px,#94c6de 3.5px,#cae1ee 6.5px,#ebf1f5 10.5px,#f7f4f1 13.5px,#fae7dc 19.5px,#fbe6d9 26.5px,#f9f0eb 34.5px,#f4f5f6 38.5px,#c6dfed 48.5px,#a8d0e4 54.5px,#a5cfe4 59.5px,#bcdaea 64.5px,#f6f6f5 73.5px,#fcd5bf 80.5px,#f8bfa3 84.5px,#f7b698 88.5px,#f7bb9e 92.5px,#fcd6c0 98.5px,#f6f6f6 108.5px,#dfecf2 118.5px,#dfecf2 126.5px,#f3f5f6 133.5px,#f8f2ef 135.5px,#fcdcca 139.5px,#f6b394 142.5px,#e88a6d 144.5px,#dd715a 145.5px)"></i><i style="top:38px;background:linear-gradient(90deg,#ffffff 0.5px,#4893c2 1.5px,#93c5de 4.5px,#c7e0ed 7.5px,#e2edf3 10.5px,#f6f5f5 14.5px,#faeae0 21.5px,#faebe2 29.5px,#f4f5f6 37.5px,#cde3ef 46.5px,#a9d1e4 52.5px,#9dcbe1 57.5px,#a6cfe4 61.5px,#c8e0ed 66.5px,#f6f6f5 73.5px,#fcd2bc 80.5px,#f7b799 85.5px,#f6b191 89.5px,#f7b89b 93.5px,#fce2d3 102.5px,#f6f6f6 109.5px,#e3eef3 119.5px,#e7f0f4 127.5px,#f5f6f6 132.5px,#fbe7dc 136.5px,#fddbc8 138.5px,#f6b293 141.5px,#e88a6d 143.5px,#cf5a49 145.5px)"></i><i style="top:39px;background:linear-gradient(90deg,#ffffff 0.5px,#3f82b8 1.5px,#4994c3 2.5px,#93c6de 5.5px,#c6dfed 8.5px,#e0ecf3 11.5px,#f7f5f4 16.5px,#f9ede5 23.5px,#f9efe9 30.5px,#f4f6f6 36.5px,#cfe4ef 45.5px,#a3cee3 52.5px,#98c8e0 57.5px,#a2cde3 61.5px,#c5dfec 66.5px,#f6f6f5 73.5px,#fbd0b9 80.5px,#f7b79a 84.5px,#f5ad8c 88.5px,#f6b191 92.5px,#facbb3 98.5px,#fbe3d5 103.5px,#f6f6f6 110.5px,#e7f0f4 119.5px,#edf2f5 127.5px,#f7f5f4 131.5px,#fce1d1 136.5px,#fbcfb7 138.5px,#f2a180 141.5px,#d15c4a 144.5px,#c0443c 145.5px)"></i><i style="top:40px;background:linear-gradient(90deg,#ffffff 0.5px,#3973ae 1.5px,#4c97c4 3.5px,#95c7df 6.5px,#c6dfed 9.5px,#dfecf3 12.5px,#f5f6f6 17.5px,#f9efe9 25.5px,#f7f5f3 33.5px,#e7f0f4 39.5px,#cbe2ee 45.5px,#9ecbe2 52.5px,#94c6de 57.5px,#9fcce2 61.5px,#c3deec 66.5px,#f6f6f5 73.5px,#fcd6c1 79.5px,#f7b596 84.5px,#f5a987 88.5px,#f5ac8b 92.5px,#f9c7ae 98.5px,#fce1d1 103.5px,#f7f5f3 110.5px,#eaf1f5 120.5px,#f4f6f6 128.5px,#f9ede6 132.5px,#fdd9c6 136.5px,#f6b394 139.5px,#ea8e70 141.5px,#d3604c 143.5px,#b02f30 145.5px)"></i><i style="top:41px;background:linear-gradient(90deg,#ffffff 0.5px,#34639f 1.5px,#3b77b1 2.5px,#4289bc 3.5px,#509ac6 4.5px,#98c8e0 7.5px,#c6dfed 10.5px,#deebf2 13.5px,#f6f6f6 19.5px,#f8f1ed 27.5px,#f2f5f6 35.5px,#cfe4ef 44.5px,#9fcce2 51.5px,#90c4dd 56.5px,#97c8e0 60.5px,#b0d4e6 64.5px,#daeaf2 69.5px,#f6f6f5 73.5px,#fcd5bf 79.5px,#f6b393 84.5px,#f4a684 88.5px,#f5a988 92.5px,#f8bea3 97.5px,#fcdfcf 103.5px,#f7f5f4 111.5px,#edf2f5 120.5px,#f7f5f3 128.5px,#fbe5d7 133.5px,#fddac6 135.5px,#f7b597 138.5px,#ec9273 140.5px,#d6644f 142.5px,#b53433 144.5px,#9a2428 145.5px)"></i><i style="top:42px;background:linear-gradient(90deg,#ffffff 0.5px,#305186 1.5px,#3569a6 2.5px,#448dbf 4.5px,#559fc9 5.5px,#87beda 7.5px,#bad9e9 10.5px,#d2e6f0 12.5px,#eff3f6 18.5px,#f8f4f1 24.5px,#f7f5f4 31.5px,#eaf1f5 37.5px,#cce2ee 44.5px,#9dcbe1 51.5px,#8dc2dc 56.5px,#96c7df 60.5px,#afd4e6 64.5px,#daeaf2 69.5px,#f6f6f5 73.5px,#fcd4be 79.5px,#f6b191 84.5px,#f3a582 88.5px,#f5a785 92.5px,#f8bca0 97.5px,#fcdecd 103.5px,#f7f4f2 111.5px,#f1f4f6 116.5px,#f4f6f6 124.5px,#f8f2ee 128.5px,#fce0d0 133.5px,#fbd1ba 135.5px,#f4a988 138.5px,#d96a54 141.5px,#ba3a36 143.5px,#a3262a 144.5px,#7e1f24 145.5px)"></i><i style="top:43px;background:linear-gradient(90deg,#ffffff 0.5px,#2c406c 1.5px,#315991 2.5px,#386fab 3.5px,#4792c2 5.5px,#8dc2dc 8.5px,#bddbea 11.5px,#d3e6f0 13.5px,#eef3f5 19.5px,#f7f5f4 25.5px,#f2f5f6 34.5px,#d1e5f0 43.5px,#9bcae1 51.5px,#8cc1dc 56.5px,#95c7df 60.5px,#aed3e6 64.5px,#daeaf2 69.5px,#f6f6f5 73.5px,#fcd4be 79.5px,#f6b191 84.5px,#f3a481 88.5px,#f4a684 92.5px,#f7bb9e 97.5px,#fddecc 103.5px,#f8f3f1 111.5px,#f4f6f6 115.5px,#f5f6f7 123.5px,#f9efe9 128.5px,#fddbc8 133.5px,#f8bb9e 136.5px,#f09c7b 138.5px,#cf5a48 141.5px,#ac2b2d 143.5px,#651c20 145.5px)"></i><i style="top:44px;background:linear-gradient(90deg,#ffffff 0.5px,#2a355b 1.5px,#2e4979 2.5px,#33619d 3.5px,#3a76b0 4.5px,#4d98c5 6.5px,#93c5de 9.5px,#c0dceb 12.5px,#d4e7f0 14.5px,#eef3f5 20.5px,#f7f6f5 27.5px,#f1f4f6 34.5px,#d1e5f0 43.5px,#9bcae1 51.5px,#8cc1dc 56.5px,#95c7df 60.5px,#aed3e6 64.5px,#daeaf2 69.5px,#f6f6f5 73.5px,#fcd4be 79.5px,#f6b191 84.5px,#f3a481 88.5px,#f4a684 92.5px,#f7b697 96.5px,#fdddcc 103.5px,#f8f3f0 111.5px,#f4f6f6 116.5px,#f7f4f3 124.5px,#fbe5d8 130.5px,#fcd5bf 133.5px,#f2a280 137.5px,#d4624e 140.5px,#b43232 142.5px,#972328 143.5px,#711d22 144.5px,#5c1a1f 145.5px)"></i><i style="top:45px;background:linear-gradient(90deg,#ffffff 0.5px,#2a3358 1.5px,#2b3a63 2.5px,#366aa7 4.5px,#448ebf 6.5px,#559fc9 7.5px,#86bdda 9.5px,#b7d8e9 12.5px,#cfe4ef 14.5px,#ebf1f5 20.5px,#f6f6f6 27.5px,#f1f4f6 34.5px,#d1e5f0 43.5px,#9ccae1 51.5px,#8dc2dc 56.5px,#96c7df 60.5px,#b8d8e9 65.5px,#daeaf2 69.5px,#f6f6f5 73.5px,#fcd5bf 79.5px,#f6b292 84.5px,#f3a582 88.5px,#f4a785 92.5px,#f8bb9f 97.5px,#fddecc 103.5px,#f8f3f0 111.5px,#f5f6f7 117.5px,#f7f4f2 123.5px,#fbe6da 129.5px,#fcd8c3 132.5px,#f7b697 135.5px,#ed9576 137.5px,#cb5445 140.5px,#a5272b 142.5px,#601b20 144.5px,#5c1a1f 145.5px)"></i><i style="top:46px;background:linear-gradient(90deg,#ffffff 0.5px,#2a3358 1.5px,#2a3459 2.5px,#2d4472 3.5px,#325d98 4.5px,#3972ae 5.5px,#4995c3 7.5px,#8fc3dd 10.5px,#bcdaea 13.5px,#d1e5f0 15.5px,#ecf2f5 21.5px,#f6f7f7 28.5px,#eff3f6 35.5px,#cde3ef 44.5px,#9ecbe1 51.5px,#90c4dd 56.5px,#98c8e0 60.5px,#bad9e9 65.5px,#dbeaf2 69.5px,#f6f6f5 73.5px,#fcd6c1 79.5px,#f7b495 84.5px,#f4a784 88.5px,#f5a987 92.5px,#f8bda1 97.5px,#fcdece 103.5px,#f8f3f0 111.5px,#f6f7f7 118.5px,#f8f1ed 124.5px,#fcdfcf 130.5px,#fcd1bb 132.5px,#f5ae8d 135.5px,#e8896d 137.5px,#d25e4b 139.5px,#b02e2f 141.5px,#912227 142.5px,#6b1c21 143.5px,#5c1a1f 144.5px,#5c1a1f 145.5px)"></i><i style="top:47px;background:linear-gradient(90deg,#ffffff 0.5px,#2a3358 1.5px,#2a3358 2.5px,#2b3860 3.5px,#3568a5 5.5px,#438cbe 7.5px,#539dc8 8.5px,#83bbd9 10.5px,#a7d0e4 12.5px,#cde3ee 15.5px,#e6eff4 20.5px,#f5f6f7 27.5px,#f0f4f6 35.5px,#cfe4ef 44.5px,#a1cde3 51.5px,#94c6de 56.5px,#9ccae1 60.5px,#bcdaea 65.5px,#dceaf2 69.5px,#f6f6f5 73.5px,#fbd0b9 80.5px,#f6b292 85.5px,#f5a987 89.5px,#f6af8e 93.5px,#faccb3 99.5px,#fce0d0 103.5px,#f8f2ee 110.5px,#f6f7f7 117.5px,#f9f0eb 124.5px,#fce1d1 129.5px,#fcd6c0 131.5px,#f3a584 135.5px,#d86852 138.5px,#b93936 140.5px,#a2262a 141.5px,#7c1f24 142.5px,#5e1a1f 143.5px,#5c1a1f 145.5px)"></i><i style="top:48px;background:linear-gradient(90deg,#ffffff 0.5px,#2a3358 1.5px,#2a3359 3.5px,#2d4471 4.5px,#325d97 5.5px,#3972ae 6.5px,#4994c3 8.5px,#8dc2dc 11.5px,#bbdaea 14.5px,#d0e5f0 16.5px,#ebf1f5 22.5px,#f6f7f7 29.5px,#eff3f6 36.5px,#cde3ef 45.5px,#a1cde3 52.5px,#99c8e0 57.5px,#a4cee3 61.5px,#c8e0ed 66.5px,#f6f6f5 73.5px,#fcd2bc 80.5px,#f7b596 85.5px,#f5ac8b 89.5px,#f6b393 93.5px,#fbcfb8 99.5px,#fce2d2 103.5px,#f8f3f0 110.5px,#f6f7f7 117.5px,#f8f1ed 123.5px,#fcdfce 129.5px,#fbd0b9 131.5px,#f5ad8c 134.5px,#e8886c 136.5px,#d15d4a 138.5px,#b02d2f 140.5px,#902227 141.5px,#691c21 142.5px,#5c1a1f 143.5px,#5c1a1f 145.5px)"></i><i style="top:49px;background:linear-gradient(90deg,#ffffff 0.5px,#2a3358 1.5px,#2a3358 3.5px,#2b3961 4.5px,#3569a6 6.5px,#438cbe 8.5px,#549dc8 9.5px,#84bcd9 11.5px,#a7d0e4 13.5px,#cde3ee 16.5px,#eaf1f5 22.5px,#f6f7f6 29.5px,#f1f4f6 36.5px,#d1e5f0 45.5px,#a7d0e4 52.5px,#9ecbe1 57.5px,#a9d1e4 61.5px,#f1f4f6 72.5px,#f6f6f5 73.5px,#fcd5bf 80.5px,#f7b99c 85.5px,#f6b192 89.5px,#f7b799 93.5px,#fcd4be 99.5px,#f9efe9 107.5px,#f6f7f7 113.5px,#f7f5f3 120.5px,#fae8de 126.5px,#fcd6c0 130.5px,#f4a684 134.5px,#d96953 137.5px,#ba3a36 139.5px,#a3262a 140.5px,#7e1f24 141.5px,#5e1a1f 142.5px,#5c1a1f 145.5px)"></i><i style="top:50px;background:linear-gradient(90deg,#ffffff 0.5px,#2a3358 1.5px,#2a3459 4.5px,#2d4675 5.5px,#335f9a 6.5px,#3974af 7.5px,#4a96c4 9.5px,#90c3dd 12.5px,#bcdaea 15.5px,#d1e5f0 17.5px,#eff3f6 24.5px,#f7f6f5 31.5px,#eef3f5 38.5px,#cae1ee 47.5px,#aad1e5 53.5px,#a5cfe4 58.5px,#b9d9e9 63.5px,#f1f4f6 72.5px,#f6f6f5 73.5px,#fcd2bb 81.5px,#f7ba9e 86.5px,#f7b799 90.5px,#f9c5aa 95.5px,#fbe4d5 102.5px,#f7f4f3 109.5px,#f6f7f7 118.5px,#f9ede5 124.5px,#fddac6 129.5px,#f8bb9e 132.5px,#f19f7d 134.5px,#d3604c 137.5px,#b23030 139.5px,#942327 140.5px,#6d1d22 141.5px,#5c1a1f 142.5px,#5c1a1f 145.5px)"></i><i style="top:51px;background:linear-gradient(90deg,#ffffff 0.5px,#2a3358 1.5px,#2a3358 4.5px,#2b3c66 5.5px,#31558c 6.5px,#366ca9 7.5px,#458fc0 9.5px,#71b0d3 11.5px,#9ac9e0 13.5px,#cfe4ef 17.5px,#ebf1f5 23.5px,#f7f5f5 29.5px,#f4f6f6 37.5px,#d1e5f0 47.5px,#b2d5e7 53.5px,#acd2e5 58.5px,#bedbeb 63.5px,#f6f6f5 73.5px,#fbd0b9 82.5px,#f8bea2 87.5px,#f8bea3 91.5px,#fbd0b8 96.5px,#fae9e0 103.5px,#f6f6f6 109.5px,#f4f6f6 117.5px,#f8f3f0 121.5px,#fce2d3 127.5px,#fcd8c2 129.5px,#f7b698 132.5px,#ee9777 134.5px,#cd5746 137.5px,#a8282b 139.5px,#611b20 141.5px,#5c1a1f 143.5px,#5c1a1f 145.5px)"></i><i style="top:52px;background:linear-gradient(90deg,#ffffff 0.5px,#2a3358 1.5px,#2a355c 5.5px,#3464a1 7.5px,#4289bc 9.5px,#4f9ac6 10.5px,#94c6df 13.5px,#cce2ee 17.5px,#e7f0f4 22.5px,#f7f6f5 28.5px,#f8f3f1 34.5px,#f0f4f6 40.5px,#c2ddec 51.5px,#b3d6e7 56.5px,#badaea 61.5px,#f6f6f6 73.5px,#fcd4be 82.5px,#f9c6ac 86.5px,#f9c5ab 91.5px,#fcd7c2 96.5px,#f8f4f2 106.5px,#f2f5f6 110.5px,#f3f5f6 117.5px,#f7f5f4 120.5px,#fbe5d8 126.5px,#fcd5bf 129.5px,#f3a381 133.5px,#d6654f 136.5px,#b63533 138.5px,#9c2428 139.5px,#751e23 140.5px,#5c1a1f 141.5px,#5c1a1f 145.5px)"></i><i style="top:53px;background:linear-gradient(90deg,#ffffff 0.5px,#2a3358 1.5px,#2a3358 5.5px,#2c426f 6.5px,#325c96 7.5px,#3972ad 8.5px,#4994c3 10.5px,#8ec3dc 13.5px,#bcdaea 16.5px,#d2e6f0 18.5px,#f2f5f6 25.5px,#f8f1ed 32.5px,#f4f6f6 40.5px,#bddbea 55.5px,#bedbeb 60.5px,#f6f6f6 73.5px,#fcd1ba 84.5px,#facab1 89.5px,#fcd6c0 94.5px,#f7f5f4 105.5px,#edf2f5 113.5px,#f7f5f5 120.5px,#fbe4d6 126.5px,#fddbc7 128.5px,#f8bb9e 131.5px,#f19d7c 133.5px,#d15d4a 136.5px,#af2d2f 138.5px,#671c21 140.5px,#5c1a1f 141.5px,#5c1a1f 145.5px)"></i><i style="top:54px;background:linear-gradient(90deg,#ffffff 0.5px,#2a3358 1.5px,#2a3358 5.5px,#2b3a63 6.5px,#305489 7.5px,#366ba9 8.5px,#458fc0 10.5px,#58a0ca 11.5px,#88bfda 13.5px,#b9d9e9 16.5px,#d0e5ef 18.5px,#f3f5f6 25.5px,#f9efe9 33.5px,#f8f3f0 39.5px,#f0f4f6 43.5px,#c4deec 56.5px,#c8e0ed 61.5px,#f6f6f6 73.5px,#fddac6 83.5px,#fcd1ba 88.5px,#fddac6 93.5px,#f6f6f5 104.5px,#eaf1f5 112.5px,#f7f6f5 120.5px,#fbe3d5 126.5px,#fdd9c5 128.5px,#f7b799 131.5px,#ee9777 133.5px,#cc5646 136.5px,#a7272b 138.5px,#5f1b20 140.5px,#5c1a1f 145.5px)"></i><i style="top:55px;background:linear-gradient(90deg,#ffffff 0.5px,#2a3358 1.5px,#2a3358 5.5px,#2a355c 6.5px,#3465a2 8.5px,#428abd 10.5px,#519bc7 11.5px,#97c8df 14.5px,#cee4ef 18.5px,#eff4f6 24.5px,#f7f4f3 27.5px,#f9ece4 34.5px,#f8f1ed 40.5px,#f2f5f6 44.5px,#d1e5f0 54.5px,#cde3ef 60.5px,#e6f0f4 69.5px,#f6f6f6 73.5px,#fcdfce 82.5px,#fcd9c4 88.5px,#fbe3d5 95.5px,#f5f6f6 103.5px,#e7f0f4 110.5px,#eef2f5 117.5px,#f6f6f6 120.5px,#fbe7dc 125.5px,#fcd7c2 128.5px,#f3a583 132.5px,#d76650 135.5px,#b73634 137.5px,#9c2429 138.5px,#751e23 139.5px,#5c1a1f 140.5px,#5c1a1f 145.5px)"></i><i style="top:56px;background:linear-gradient(90deg,#ffffff 0.5px,#2a3358 1.5px,#2a3358 6.5px,#2d4472 7.5px,#325e99 8.5px,#3974af 9.5px,#4b97c4 11.5px,#92c5de 14.5px,#c0ddeb 17.5px,#d5e7f1 19.5px,#f4f6f6 25.5px,#faeae0 33.5px,#f9ece4 39.5px,#f4f6f6 45.5px,#d5e7f1 55.5px,#d5e7f1 62.5px,#f6f6f6 73.5px,#fce0d0 83.5px,#fddecc 89.5px,#fae7dd 95.5px,#f5f6f6 101.5px,#e3eef4 109.5px,#e9f1f5 116.5px,#f7f5f3 121.5px,#fdddcb 127.5px,#f8bea2 130.5px,#f2a17f 132.5px,#d3604c 135.5px,#b12f30 137.5px,#912227 138.5px,#6a1c21 139.5px,#5c1a1f 140.5px,#5c1a1f 145.5px)"></i><i style="top:57px;background:linear-gradient(90deg,#ffffff 0.5px,#2a3358 1.5px,#2a3358 6.5px,#2c3d68 7.5px,#31588f 8.5px,#376fab 9.5px,#4792c2 11.5px,#8ec2dc 14.5px,#bedbeb 17.5px,#d4e7f1 19.5px,#f5f6f6 25.5px,#fae8de 32.5px,#fbe7dc 38.5px,#f8f4f1 45.5px,#ecf2f5 49.5px,#d8e9f1 57.5px,#dceaf2 64.5px,#f6f6f6 73.5px,#fbe3d5 83.5px,#fce2d3 89.5px,#f9efe9 96.5px,#f3f5f6 100.5px,#dfecf2 108.5px,#e4eef4 115.5px,#f7f5f4 121.5px,#fddcca 127.5px,#f8bb9f 130.5px,#f09d7c 132.5px,#cf5a49 135.5px,#ab2a2d 137.5px,#621b20 139.5px,#5c1a1f 140.5px,#5c1a1f 145.5px)"></i><i style="top:58px;background:linear-gradient(90deg,#ffffff 0.5px,#2a3358 1.5px,#2a3358 6.5px,#2b3860 7.5px,#366aa7 9.5px,#448ebf 11.5px,#58a0ca 12.5px,#8ac0db 14.5px,#bcdaea 17.5px,#d4e7f0 19.5px,#f6f6f6 25.5px,#fbe6da 32.5px,#fbe3d5 38.5px,#f9efea 45.5px,#f3f5f6 49.5px,#deebf2 57.5px,#e0ecf3 64.5px,#f6f6f6 73.5px,#fbe6da 83.5px,#fbe6da 89.5px,#f4f6f6 98.5px,#dceaf2 106.5px,#ddebf2 113.5px,#f6f6f5 121.5px,#fddcc9 127.5px,#f7b99c 130.5px,#ef9878 132.5px,#da6c55 134.5px,#bb3c37 136.5px,#a4262a 137.5px,#7d1f24 138.5px,#5e1a1f 139.5px,#5c1a1f 145.5px)"></i><i style="top:59px;background:linear-gradient(90deg,#ffffff 0.5px,#2a3358 1.5px,#2a355b 7.5px,#3465a2 9.5px,#438bbd 11.5px,#539dc8 12.5px,#86bdda 14.5px,#bad9ea 17.5px,#d3e6f0 19.5px,#f7f6f5 25.5px,#fbe3d5 32.5px,#fcdfce 38.5px,#fae8de 44.5px,#f5f6f6 50.5px,#e2edf3 58.5px,#e6eff4 66.5px,#f7f5f4 74.5px,#fae8de 83.5px,#faebe3 90.5px,#f5f6f6 96.5px,#d6e8f1 106.5px,#d7e8f1 112.5px,#edf2f5 119.5px,#f6f6f6 121.5px,#fce1d2 126.5px,#fbd1ba 128.5px,#f4a886 131.5px,#d86752 134.5px,#b73634 136.5px,#9c2429 137.5px,#741e23 138.5px,#5c1a1f 139.5px,#5c1a1f 145.5px)"></i><i style="top:60px;background:linear-gradient(90deg,#ffffff 0.5px,#2a3358 1.5px,#2a3359 7.5px,#2d4674 8.5px,#33609c 9.5px,#3a76b0 10.5px,#4e99c6 12.5px,#98c8e0 15.5px,#c7e0ed 18.5px,#e1edf3 21.5px,#f7f5f4 25.5px,#fce1d1 32.5px,#fddbc7 38.5px,#fbe4d5 44.5px,#f4f6f6 52.5px,#e5eff4 60.5px,#eef3f5 69.5px,#f7f5f4 74.5px,#faebe2 84.5px,#f9efea 90.5px,#f3f5f6 95.5px,#d2e6f0 105.5px,#d1e5f0 111.5px,#e6f0f4 118.5px,#f5f6f6 121.5px,#fbe6da 125.5px,#fddbc7 127.5px,#f4a584 131.5px,#d5634f 134.5px,#b33131 136.5px,#942327 137.5px,#6b1c21 138.5px,#5c1a1f 139.5px,#5c1a1f 145.5px)"></i><i style="top:61px;background:linear-gradient(90deg,#ffffff 0.5px,#2a3358 1.5px,#2a3358 7.5px,#2c416d 8.5px,#325c95 9.5px,#3972ae 10.5px,#4b96c4 12.5px,#95c7df 15.5px,#c6dfed 18.5px,#e1edf3 21.5px,#f4f6f6 24.5px,#fddecd 32.5px,#fcd5bf 37.5px,#fddbc7 42.5px,#f6f6f6 53.5px,#e8f0f4 61.5px,#f3f5f6 71.5px,#f8f3f0 76.5px,#f9eee7 85.5px,#f4f6f6 93.5px,#c8e0ed 106.5px,#cce2ee 111.5px,#e9f1f5 119.5px,#f7f4f3 122.5px,#fddac7 127.5px,#f6b394 130.5px,#ea8e70 132.5px,#d3604c 134.5px,#af2d2f 136.5px,#651c20 138.5px,#5c1a1f 139.5px,#5c1a1f 145.5px)"></i><i style="top:62px;background:linear-gradient(90deg,#ffffff 0.5px,#2a3358 1.5px,#2a3358 7.5px,#2b3c66 8.5px,#31578f 9.5px,#376fac 10.5px,#4894c3 12.5px,#93c5de 15.5px,#c6dfec 18.5px,#daeaf2 20.5px,#f5f6f6 24.5px,#fcd8c3 33.5px,#fbcdb6 37.5px,#fbd1ba 41.5px,#f6f6f6 55.5px,#ebf1f5 63.5px,#f7f5f3 75.5px,#f8f0eb 84.5px,#f5f6f6 91.5px,#c0dceb 106.5px,#c5dfec 111.5px,#f3f5f6 121.5px,#f8f1ec 123.5px,#fddac6 127.5px,#f6b292 130.5px,#e98b6e 132.5px,#d15c4a 134.5px,#ab2a2d 136.5px,#611b20 138.5px,#5c1a1f 140.5px,#5c1a1f 145.5px)"></i><i style="top:63px;background:linear-gradient(90deg,#ffffff 0.5px,#2a3358 1.5px,#2a3358 7.5px,#2b3962 8.5px,#305389 9.5px,#366ca9 10.5px,#4691c1 12.5px,#91c4dd 15.5px,#c5dfec 18.5px,#daeaf2 20.5px,#f6f6f6 24.5px,#fcd3bc 33.5px,#f9c7ae 37.5px,#fac9b0 41.5px,#fbe7dc 50.5px,#f7f6f5 56.5px,#eef3f5 65.5px,#f7f5f4 75.5px,#f8f2ef 84.5px,#f3f5f6 90.5px,#b9d9e9 105.5px,#b8d8e9 109.5px,#d6e8f1 116.5px,#f7f6f5 122.5px,#fddac5 127.5px,#f6b090 130.5px,#e7886c 132.5px,#ce5948 134.5px,#a7282b 136.5px,#5e1a1f 138.5px,#5c1a1f 145.5px)"></i><i style="top:64px;background:linear-gradient(90deg,#ffffff 0.5px,#2a3358 1.5px,#2a3358 7.5px,#2a375e 8.5px,#3569a6 10.5px,#458fc0 12.5px,#5aa2cb 13.5px,#8fc3dd 15.5px,#c4deec 18.5px,#daeaf2 20.5px,#f6f6f5 24.5px,#fcd3bd 32.5px,#f9c3a9 36.5px,#f9c1a5 40.5px,#fbd0b9 45.5px,#f9ece4 53.5px,#f6f6f6 58.5px,#f1f4f6 67.5px,#f7f4f3 77.5px,#f7f5f3 85.5px,#ecf2f5 91.5px,#c5dfec 100.5px,#b1d5e7 105.5px,#b1d5e7 109.5px,#c8e0ed 114.5px,#f6f6f5 122.5px,#fdd9c5 127.5px,#f6af8f 130.5px,#e6866a 132.5px,#cc5646 134.5px,#bb3c37 135.5px,#a3262a 136.5px,#7a1f24 137.5px,#5d1a1f 138.5px,#5c1a1f 145.5px)"></i><i style="top:65px;background:linear-gradient(90deg,#ffffff 0.5px,#2a3358 1.5px,#2a3358 7.5px,#2a355c 8.5px,#3566a4 10.5px,#448dbf 12.5px,#58a0ca 13.5px,#8dc2dc 15.5px,#c4deec 18.5px,#daeaf2 20.5px,#f7f5f4 24.5px,#fbcfb8 32.5px,#f8bb9f 37.5px,#f8bb9f 41.5px,#fbceb6 46.5px,#fbe3d5 51.5px,#f7f4f2 58.5px,#f2f5f6 65.5px,#f7f6f5 84.5px,#e8f0f4 91.5px,#cae1ee 98.5px,#afd4e6 103.5px,#a8d0e4 107.5px,#b2d5e7 111.5px,#f6f6f6 122.5px,#fce1d1 126.5px,#faccb4 128.5px,#ef9b7a 131.5px,#da6b55 133.5px,#b93936 135.5px,#9e2429 136.5px,#751e23 137.5px,#5c1a1f 138.5px,#5c1a1f 145.5px)"></i><i style="top:66px;background:linear-gradient(90deg,#ffffff 0.5px,#2a3358 1.5px,#2a345a 8.5px,#2e4a7a 9.5px,#3464a1 10.5px,#438cbe 12.5px,#559fc9 13.5px,#8bc1db 15.5px,#c3deec 18.5px,#daeaf2 20.5px,#f2f5f6 23.5px,#f8f0eb 25.5px,#fcd2bb 31.5px,#f7b99c 36.5px,#f7b596 40.5px,#f8bfa3 44.5px,#fce0d0 51.5px,#f8f4f2 59.5px,#f4f5f6 65.5px,#f4f6f6 85.5px,#ddebf2 93.5px,#c3deec 98.5px,#a8d0e4 103.5px,#a1cde3 107.5px,#add3e5 111.5px,#f5f6f6 122.5px,#fce1d1 126.5px,#facbb3 128.5px,#ef9979 131.5px,#d96953 133.5px,#b73634 135.5px,#9b2428 136.5px,#701d22 137.5px,#5c1a1f 138.5px,#5c1a1f 145.5px)"></i><i style="top:67px;background:linear-gradient(90deg,#ffffff 0.5px,#2a3358 1.5px,#2a3459 8.5px,#2d4777 9.5px,#34629e 10.5px,#3b78b1 11.5px,#428bbd 12.5px,#539dc8 13.5px,#8ac0db 15.5px,#c3deec 18.5px,#daeaf2 20.5px,#f3f5f6 23.5px,#f9f0ea 25.5px,#fbcfb8 31.5px,#f7b596 36.5px,#f6b08f 40.5px,#f7b99c 44.5px,#fce1d1 52.5px,#f8f2ef 59.5px,#f5f6f7 65.5px,#f4f6f6 84.5px,#deebf2 92.5px,#c4deec 97.5px,#a1cde3 103.5px,#9ccae1 107.5px,#a8d0e4 111.5px,#f5f6f6 122.5px,#fbe7dc 125.5px,#fdd9c4 127.5px,#f5ac8b 130.5px,#d86852 133.5px,#b53433 135.5px,#972328 136.5px,#6d1d22 137.5px,#5c1a1f 138.5px,#5c1a1f 145.5px)"></i><i style="top:68px;background:linear-gradient(90deg,#ffffff 0.5px,#2a3358 1.5px,#2a3358 8.5px,#2d4574 9.5px,#33609c 10.5px,#3a76b1 11.5px,#4289bc 12.5px,#529cc7 13.5px,#89bfdb 15.5px,#c3deec 18.5px,#daeaf2 20.5px,#f3f5f6 23.5px,#fae9e0 26.5px,#fcd4be 30.5px,#f7b596 35.5px,#f5ab8a 39.5px,#f6b192 43.5px,#fbd0b9 49.5px,#fce2d3 53.5px,#f8f3ef 60.5px,#f5f7f7 67.5px,#f4f5f6 83.5px,#dfecf2 91.5px,#c6dfed 96.5px,#a0cce2 102.5px,#97c7df 106.5px,#9fcce2 110.5px,#c1ddeb 115.5px,#f4f6f6 122.5px,#fae7dc 125.5px,#fcd9c4 127.5px,#f5ab8a 130.5px,#d76651 133.5px,#b43232 135.5px,#942327 136.5px,#6a1c21 137.5px,#5c1a1f 138.5px,#5c1a1f 145.5px)"></i><i style="top:69px;background:linear-gradient(90deg,#ffffff 0.5px,#2a3358 1.5px,#2a3358 8.5px,#2d4471 9.5px,#335f9a 10.5px,#3a75b0 11.5px,#4288bc 12.5px,#519bc7 13.5px,#88bfda 15.5px,#c2ddec 18.5px,#daeaf2 20.5px,#f3f5f6 23.5px,#fddac6 29.5px,#f7b799 34.5px,#f5a987 38.5px,#f5aa89 42.5px,#f9c0a5 47.5px,#fdddcb 52.5px,#f8f2ee 60.5px,#f6f7f7 68.5px,#f2f5f6 83.5px,#ddebf2 91.5px,#cae1ee 95.5px,#9ccae1 102.5px,#93c6de 106.5px,#9ccae1 110.5px,#bfdceb 115.5px,#ecf2f5 121.5px,#f4f5f6 122.5px,#f9eee7 124.5px,#fcd8c4 127.5px,#f5ab89 130.5px,#d76550 133.5px,#b33131 135.5px,#922227 136.5px,#681c21 137.5px,#5c1a1f 138.5px,#5c1a1f 145.5px)"></i><i style="top:70px;background:linear-gradient(90deg,#ffffff 0.5px,#2a3358 1.5px,#2a3358 8.5px,#2d426f 9.5px,#325e99 10.5px,#3a75af 11.5px,#4188bb 12.5px,#509bc7 13.5px,#87beda 15.5px,#c2ddec 18.5px,#dbeaf2 20.5px,#f4f5f6 23.5px,#fdd9c5 29.5px,#f7b596 34.5px,#f4a784 38.5px,#f5a886 42.5px,#f8bda1 47.5px,#fddcc9 52.5px,#f9efe9 59.5px,#f6f7f7 67.5px,#f2f5f6 83.5px,#dceaf2 91.5px,#c7e0ed 95.5px,#99c8e0 102.5px,#8fc3dd 106.5px,#99c9e0 110.5px,#bddbea 115.5px,#ddebf2 119.5px,#f3f5f6 122.5px,#f9eee7 124.5px,#fcd8c4 127.5px,#f5aa89 130.5px,#d6644f 133.5px,#b23030 135.5px,#902227 136.5px,#671c21 137.5px,#5c1a1f 138.5px,#5c1a1f 145.5px)"></i><i style="top:71px;background:linear-gradient(90deg,#ffffff 0.5px,#2a3358 1.5px,#2a3358 8.5px,#2c426e 9.5px,#325d98 10.5px,#3a74af 11.5px,#4187bb 12.5px,#4f9ac6 13.5px,#87beda 15.5px,#c2ddec 18.5px,#dbeaf2 20.5px,#f4f6f6 23.5px,#fcd8c4 29.5px,#f7b495 34.5px,#f4a582 38.5px,#f4a684 42.5px,#f7b698 46.5px,#fcdecd 53.5px,#f8f2ee 61.5px,#f6f7f7 70.5px,#f1f4f6 83.5px,#dbeaf2 91.5px,#c5dfec 95.5px,#9bcae1 101.5px,#8dc2dc 105.5px,#93c6de 109.5px,#b3d6e7 114.5px,#d6e8f1 118.5px,#f3f5f6 122.5px,#f9eee7 124.5px,#fcd8c4 127.5px,#f5aa89 130.5px,#d6644f 133.5px,#b12f30 135.5px,#8f2227 136.5px,#661c21 137.5px,#5c1a1f 138.5px,#5c1a1f 145.5px)"></i><i style="top:72px;background:linear-gradient(90deg,#ffffff 0.5px,#2a3358 1.5px,#2a3358 8.5px,#2c416e 9.5px,#325d97 10.5px,#3974af 11.5px,#4187bb 12.5px,#4f9ac6 13.5px,#87beda 15.5px,#c2ddec 18.5px,#dbeaf2 20.5px,#f4f6f6 23.5px,#fcd8c3 29.5px,#f7b394 34.5px,#f3a482 38.5px,#f4a683 42.5px,#f7b597 46.5px,#fddecd 53.5px,#f8f2ee 61.5px,#f6f7f7 70.5px,#f1f4f6 83.5px,#daeaf2 91.5px,#c4deec 95.5px,#9ac9e0 101.5px,#8cc1dc 105.5px,#92c6de 109.5px,#b3d6e7 114.5px,#d6e8f1 118.5px,#f3f5f6 122.5px,#f9eee7 124.5px,#fcd8c4 127.5px,#f5aa89 130.5px,#d6634f 133.5px,#b12f30 135.5px,#8f2227 136.5px,#661c21 137.5px,#5c1a1f 138.5px,#5c1a1f 145.5px)"></i><i style="top:73px;background:linear-gradient(90deg,#ffffff 0.5px,#2a3358 1.5px,#2a3358 8.5px,#2c416e 9.5px,#325d98 10.5px,#3974af 11.5px,#4187bb 12.5px,#4f9ac6 13.5px,#87beda 15.5px,#c2ddec 18.5px,#dbeaf2 20.5px,#f4f6f6 23.5px,#fcd8c3 29.5px,#f7b494 34.5px,#f3a582 38.5px,#f4a683 42.5px,#f7b697 46.5px,#fddecd 53.5px,#f8f2ee 61.5px,#f6f7f7 70.5px,#f1f4f6 83.5px,#daeaf2 91.5px,#c4deec 95.5px,#9bcae1 101.5px,#8cc2dc 105.5px,#93c6de 109.5px,#b3d6e7 114.5px,#d6e8f1 118.5px,#f3f5f6 122.5px,#f9eee7 124.5px,#fcd8c4 127.5px,#f5aa89 130.5px,#d6644f 133.5px,#b12f30 135.5px,#8f2227 136.5px,#661c21 137.5px,#5c1a1f 138.5px,#5c1a1f 145.5px)"></i><i style="top:74px;background:linear-gradient(90deg,#ffffff 0.5px,#2a3358 1.5px,#2a3358 8.5px,#2c426e 9.5px,#325d98 10.5px,#3a74af 11.5px,#4188bb 12.5px,#4f9ac6 13.5px,#87beda 15.5px,#c2ddec 18.5px,#dbeaf2 20.5px,#f4f6f6 23.5px,#fcd9c4 29.5px,#f7b495 34.5px,#f4a583 38.5px,#f4a784 42.5px,#f7b798 46.5px,#fcdece 53.5px,#f8f2ee 61.5px,#f6f7f7 70.5px,#f1f4f6 83.5px,#dbeaf2 91.5px,#c5dfec 95.5px,#9ccae1 101.5px,#8ec3dc 105.5px,#94c6de 109.5px,#abd2e5 113.5px,#d6e8f1 118.5px,#f3f5f6 122.5px,#f9eee7 124.5px,#fcd8c4 127.5px,#f5aa89 130.5px,#d6644f 133.5px,#b22f30 135.5px,#8f2227 136.5px,#661c21 137.5px,#5c1a1f 138.5px,#5c1a1f 145.5px)"></i><i style="top:75px;background:linear-gradient(90deg,#ffffff 0.5px,#2a3358 1.5px,#2a3358 8.5px,#2d4370 9.5px,#335e99 10.5px,#3a75b0 11.5px,#4188bb 12.5px,#509bc7 13.5px,#88beda 15.5px,#c2ddec 18.5px,#dbeaf2 20.5px,#f4f5f6 23.5px,#fdd9c5 29.5px,#f7b697 34.5px,#f5a785 38.5px,#f5a987 42.5px,#f8bea2 47.5px,#fddcc9 52.5px,#f8f1ed 60.5px,#f6f7f7 68.5px,#f2f5f6 83.5px,#dceaf2 91.5px,#c7e0ed 95.5px,#9ac9e0 102.5px,#90c4dd 106.5px,#9ac9e0 110.5px,#bedbeb 115.5px,#deebf2 119.5px,#f3f5f6 122.5px,#f9eee7 124.5px,#fcd8c4 127.5px,#f5ab89 130.5px,#d6644f 133.5px,#b23030 135.5px,#912227 136.5px,#671c21 137.5px,#5c1a1f 138.5px,#5c1a1f 145.5px)"></i><i style="top:76px;background:linear-gradient(90deg,#ffffff 0.5px,#2a3358 1.5px,#2a3358 8.5px,#2d4472 9.5px,#335f9b 10.5px,#3a76b0 11.5px,#4289bc 12.5px,#519cc7 13.5px,#88bfda 15.5px,#c2ddec 18.5px,#daeaf2 20.5px,#f3f5f6 23.5px,#fddac7 29.5px,#f7b89a 34.5px,#f5aa88 38.5px,#f5ab8a 42.5px,#f9c1a6 47.5px,#fdddcc 52.5px,#f8f2ee 60.5px,#f6f7f7 68.5px,#f3f5f6 83.5px,#deebf2 91.5px,#cbe2ee 95.5px,#9dcbe1 102.5px,#94c6de 106.5px,#9dcbe1 110.5px,#c0dceb 115.5px,#f4f6f6 122.5px,#f9eee7 124.5px,#fcd8c4 127.5px,#f5ab8a 130.5px,#d76550 133.5px,#b33131 135.5px,#932227 136.5px,#691c21 137.5px,#5c1a1f 138.5px,#5c1a1f 145.5px)"></i><i style="top:77px;background:linear-gradient(90deg,#ffffff 0.5px,#2a3358 1.5px,#2a3359 8.5px,#2d4674 9.5px,#33619d 10.5px,#3b77b1 11.5px,#428abc 12.5px,#529dc8 13.5px,#89c0db 15.5px,#c3deec 18.5px,#daeaf2 20.5px,#f3f5f6 23.5px,#faeae0 26.5px,#fcd5bf 30.5px,#f7b697 35.5px,#f5ac8b 39.5px,#f6b393 43.5px,#fcd1ba 49.5px,#fbe6d9 54.5px,#f7f4f2 61.5px,#f6f7f7 72.5px,#f3f5f6 84.5px,#dceaf2 92.5px,#c7e0ed 96.5px,#a2cde3 102.5px,#98c8e0 106.5px,#a0cce2 110.5px,#c2ddeb 115.5px,#f4f6f6 122.5px,#fae7dc 125.5px,#fcd9c4 127.5px,#f5ac8a 130.5px,#d76751 133.5px,#b43232 135.5px,#952328 136.5px,#6b1c21 137.5px,#5c1a1f 138.5px,#5c1a1f 145.5px)"></i><i style="top:78px;background:linear-gradient(90deg,#ffffff 0.5px,#2a3358 1.5px,#2a3459 8.5px,#2e4878 9.5px,#34639f 10.5px,#3b78b2 11.5px,#438bbd 12.5px,#549ec8 13.5px,#8ac0db 15.5px,#c3deec 18.5px,#daeaf2 20.5px,#f2f5f6 23.5px,#f9f0ea 25.5px,#fbd0b9 31.5px,#f7b698 36.5px,#f6b191 40.5px,#f7bb9e 44.5px,#fce2d2 52.5px,#f8f3f0 59.5px,#f5f6f7 65.5px,#f4f6f6 84.5px,#dfecf2 92.5px,#c6dfec 97.5px,#a3cee3 103.5px,#9dcbe1 107.5px,#a9d1e4 111.5px,#f5f6f6 122.5px,#fce1d1 126.5px,#facbb3 128.5px,#f5ac8b 130.5px,#d86852 133.5px,#b63533 135.5px,#982328 136.5px,#6e1d22 137.5px,#5c1a1f 138.5px,#5c1a1f 145.5px)"></i><i style="top:79px;background:linear-gradient(90deg,#ffffff 0.5px,#2a3358 1.5px,#2a345a 8.5px,#3465a2 10.5px,#438cbe 12.5px,#569fc9 13.5px,#8cc1dc 15.5px,#c3deec 18.5px,#daeaf2 20.5px,#f7f5f4 24.5px,#fcd3bd 31.5px,#f7ba9d 36.5px,#f7b698 40.5px,#f9c5ab 45.5px,#fce1d1 51.5px,#f8f3f0 58.5px,#f4f6f6 63.5px,#f5f6f7 85.5px,#deebf2 93.5px,#c5dfec 98.5px,#aad1e5 103.5px,#a3cee3 107.5px,#aed3e6 111.5px,#f5f6f6 122.5px,#fce1d1 126.5px,#faccb3 128.5px,#ef9a79 131.5px,#d96a54 133.5px,#b73734 135.5px,#9c2429 136.5px,#721d22 137.5px,#5c1a1f 138.5px,#5c1a1f 145.5px)"></i><i style="top:80px;background:linear-gradient(90deg,#ffffff 0.5px,#2a3358 1.5px,#2a3358 7.5px,#2a365c 8.5px,#3567a4 10.5px,#448ebf 12.5px,#58a1ca 13.5px,#8dc2dc 15.5px,#c4deec 18.5px,#daeaf2 20.5px,#f7f5f5 24.5px,#fbd0b9 32.5px,#f8bfa4 36.5px,#f8bc9f 40.5px,#facbb2 45.5px,#fbe4d7 51.5px,#f7f5f4 58.5px,#f2f5f6 68.5px,#f7f5f4 84.5px,#ecf2f5 90.5px,#cce2ee 98.5px,#aed3e6 104.5px,#abd2e5 108.5px,#bedbeb 113.5px,#f6f6f6 122.5px,#fdd9c5 127.5px,#f6ae8e 130.5px,#e68469 132.5px,#cb5445 134.5px,#b93a36 135.5px,#a02529 136.5px,#761e23 137.5px,#5c1a1f 138.5px,#5c1a1f 145.5px)"></i><i style="top:81px;background:linear-gradient(90deg,#ffffff 0.5px,#2a3358 1.5px,#2a3358 7.5px,#2b375f 8.5px,#366aa7 10.5px,#4590c0 12.5px,#8fc3dd 15.5px,#c4deec 18.5px,#daeaf2 20.5px,#f6f6f5 24.5px,#fcd5bf 32.5px,#f9c5ab 36.5px,#f9c3a8 40.5px,#fcd2bb 45.5px,#f8f2ee 55.5px,#f4f6f6 59.5px,#f1f4f6 68.5px,#f7f4f2 77.5px,#f7f4f2 85.5px,#f0f4f6 90.5px,#c8e0ed 100.5px,#b3d6e7 105.5px,#b3d6e7 109.5px,#cae1ee 114.5px,#f6f6f5 122.5px,#fdd9c5 127.5px,#f6af8f 130.5px,#e7866a 132.5px,#cd5746 134.5px,#a4262a 136.5px,#7c1f24 137.5px,#5d1a1f 138.5px,#5c1a1f 145.5px)"></i><i style="top:82px;background:linear-gradient(90deg,#ffffff 0.5px,#2a3358 1.5px,#2a3358 7.5px,#2b3a63 8.5px,#30548a 9.5px,#376daa 10.5px,#4792c2 12.5px,#91c4dd 15.5px,#c5dfec 18.5px,#daeaf2 20.5px,#f6f6f6 24.5px,#fcd5be 33.5px,#fac9b0 37.5px,#facbb3 41.5px,#faebe2 51.5px,#f6f6f6 56.5px,#edf2f5 64.5px,#f7f5f4 75.5px,#f8f2ee 84.5px,#f2f5f6 91.5px,#bbdaea 105.5px,#badaea 109.5px,#dceaf2 117.5px,#f7f5f4 122.5px,#fddac6 127.5px,#f6b191 130.5px,#e8896c 132.5px,#cf5a48 134.5px,#a8282c 136.5px,#5f1a1f 138.5px,#5c1a1f 145.5px)"></i><i style="top:83px;background:linear-gradient(90deg,#ffffff 0.5px,#2a3358 1.5px,#2a3358 7.5px,#2c3d68 8.5px,#315991 9.5px,#3870ac 10.5px,#4995c3 12.5px,#93c6de 15.5px,#c6dfed 18.5px,#e1edf3 21.5px,#f5f6f6 24.5px,#fdd9c5 33.5px,#fbd0b8 37.5px,#fcd3bd 41.5px,#f6f6f5 54.5px,#ebf1f5 62.5px,#f7f6f5 74.5px,#f9efea 84.5px,#f3f5f6 92.5px,#c2ddeb 106.5px,#c7e0ed 111.5px,#edf2f5 120.5px,#f7f5f4 122.5px,#fddac6 127.5px,#f6b293 130.5px,#e98c6e 132.5px,#d15d4a 134.5px,#ac2b2d 136.5px,#621b20 138.5px,#5c1a1f 139.5px,#5c1a1f 145.5px)"></i><i style="top:84px;background:linear-gradient(90deg,#ffffff 0.5px,#2a3358 1.5px,#2a3358 7.5px,#2c426f 8.5px,#325d97 9.5px,#3973ae 10.5px,#4c97c5 12.5px,#96c7df 15.5px,#c7e0ed 18.5px,#e1edf3 21.5px,#f4f6f6 24.5px,#fcdfce 32.5px,#fcd7c1 38.5px,#fbe3d4 45.5px,#f5f6f6 53.5px,#e7f0f4 61.5px,#f2f5f6 71.5px,#f8f3f0 76.5px,#f9ede5 85.5px,#f5f6f6 93.5px,#cde3ef 105.5px,#cbe2ee 110.5px,#e5eff4 118.5px,#f4f6f6 121.5px,#faebe3 124.5px,#fddac7 127.5px,#f3a482 131.5px,#d4614d 134.5px,#b12e2f 136.5px,#8f2227 137.5px,#671c21 138.5px,#5c1a1f 139.5px,#5c1a1f 145.5px)"></i><i style="top:85px;background:linear-gradient(90deg,#ffffff 0.5px,#2a3358 1.5px,#2a3459 7.5px,#2e4877 8.5px,#33629e 9.5px,#3b77b1 10.5px,#4289bc 11.5px,#4f9ac6 12.5px,#83bbd9 14.5px,#aad1e5 16.5px,#d3e6f0 19.5px,#f7f5f4 25.5px,#fce2d2 32.5px,#fddcca 38.5px,#fbe5d8 44.5px,#f5f6f6 51.5px,#e4eef4 59.5px,#eaf1f5 67.5px,#f7f5f4 74.5px,#faeae1 83.5px,#f9ede5 89.5px,#f4f6f6 95.5px,#d4e7f1 105.5px,#d3e6f0 111.5px,#e7f0f4 118.5px,#f5f6f6 121.5px,#fbe6da 125.5px,#fddbc7 127.5px,#f7b697 130.5px,#ec9273 132.5px,#d6654f 134.5px,#b43332 136.5px,#972328 137.5px,#6e1d22 138.5px,#5c1a1f 139.5px,#5c1a1f 145.5px)"></i><i style="top:86px;background:linear-gradient(90deg,#ffffff 0.5px,#2a3358 1.5px,#2a3358 6.5px,#2a365c 7.5px,#3566a3 9.5px,#438cbe 11.5px,#549ec8 12.5px,#87beda 14.5px,#bbdaea 17.5px,#d3e6f0 19.5px,#f6f6f6 25.5px,#fbe4d6 32.5px,#fce0d0 38.5px,#fae9e0 44.5px,#f3f5f6 50.5px,#e0ecf3 58.5px,#e5eff4 66.5px,#f7f5f4 74.5px,#fae8dd 83.5px,#faeae1 90.5px,#f3f5f6 97.5px,#d8e9f1 106.5px,#d8e9f1 112.5px,#edf2f5 119.5px,#f6f6f6 121.5px,#fce1d2 126.5px,#fcd1bb 128.5px,#f4a987 131.5px,#d96953 134.5px,#b83835 136.5px,#9f2529 137.5px,#761e23 138.5px,#5c1a1f 139.5px,#5c1a1f 145.5px)"></i><i style="top:87px;background:linear-gradient(90deg,#ffffff 0.5px,#2a3358 1.5px,#2a3358 6.5px,#2b3a62 7.5px,#305388 8.5px,#366ba8 9.5px,#4590c0 11.5px,#8bc1db 14.5px,#bddbea 17.5px,#d4e7f0 19.5px,#f6f6f6 25.5px,#fbe7db 32.5px,#fbe4d7 38.5px,#f8f1ec 45.5px,#f4f6f6 48.5px,#ddebf2 56.5px,#ddebf2 63.5px,#f6f6f6 73.5px,#fbe5d8 83.5px,#fbe5d8 89.5px,#f8f2ee 96.5px,#f2f5f6 99.5px,#dceaf2 107.5px,#e0ecf3 114.5px,#f7f6f5 121.5px,#fddcc9 127.5px,#f7ba9d 130.5px,#ef9a79 132.5px,#cd5746 135.5px,#a6272b 137.5px,#5f1a1f 139.5px,#5c1a1f 145.5px)"></i><i style="top:88px;background:linear-gradient(90deg,#ffffff 0.5px,#2a3358 1.5px,#2a3358 6.5px,#2c3f6a 7.5px,#315a92 8.5px,#3870ac 9.5px,#4894c2 11.5px,#8fc3dd 14.5px,#bfdceb 17.5px,#d4e7f1 19.5px,#f5f6f6 25.5px,#fae8de 33.5px,#fae9df 39.5px,#f5f6f6 46.5px,#d9e9f1 55.5px,#d8e9f1 62.5px,#f6f6f6 73.5px,#fce3d3 83.5px,#fce1d1 89.5px,#f9eee6 96.5px,#f5f6f6 100.5px,#e0ecf3 108.5px,#e5eff4 115.5px,#f7f5f4 121.5px,#fdddca 127.5px,#f8bca0 130.5px,#f19e7d 132.5px,#d15c4a 135.5px,#ad2b2e 137.5px,#641b20 139.5px,#5c1a1f 140.5px,#5c1a1f 145.5px)"></i><i style="top:89px;background:linear-gradient(90deg,#ffffff 0.5px,#2a3358 1.5px,#2a3459 6.5px,#2d4675 7.5px,#33609c 8.5px,#3a75b0 9.5px,#4c98c5 11.5px,#94c6de 14.5px,#c1ddeb 17.5px,#d5e7f1 19.5px,#f4f6f6 25.5px,#faeae2 33.5px,#f9ede6 39.5px,#f3f5f6 45.5px,#d3e6f0 55.5px,#d4e7f1 62.5px,#f6f6f6 73.5px,#fcdfcf 83.5px,#fdddca 89.5px,#fbe6da 95.5px,#f4f6f6 102.5px,#e4eef4 109.5px,#eaf1f5 116.5px,#f6f6f6 120.5px,#fbe7db 125.5px,#fcd6c0 128.5px,#f2a280 132.5px,#d4624d 135.5px,#b33131 137.5px,#952327 138.5px,#6c1d22 139.5px,#5c1a1f 140.5px,#5c1a1f 145.5px)"></i><i style="top:90px;background:linear-gradient(90deg,#ffffff 0.5px,#2a3358 1.5px,#2a3358 5.5px,#2a375e 6.5px,#3567a4 8.5px,#438bbe 10.5px,#539dc8 11.5px,#84bcd9 13.5px,#a8d0e4 15.5px,#cfe4ef 18.5px,#eff3f6 24.5px,#f7f5f3 27.5px,#f9ede6 34.5px,#f8f2ef 40.5px,#f0f4f6 44.5px,#cde3ef 55.5px,#cbe2ee 60.5px,#e6eff4 69.5px,#f6f6f6 73.5px,#fcdecd 82.5px,#fcd7c1 88.5px,#fce2d2 95.5px,#f6f6f6 103.5px,#e8f0f4 111.5px,#f1f4f6 118.5px,#f7f4f2 121.5px,#fddecd 127.5px,#fbcdb5 129.5px,#f4a684 132.5px,#d86852 135.5px,#b83835 137.5px,#a02529 138.5px,#781e24 139.5px,#5d1a1f 140.5px,#5c1a1f 145.5px)"></i><i style="top:91px;background:linear-gradient(90deg,#ffffff 0.5px,#2a3358 1.5px,#2a3358 5.5px,#2b3c66 6.5px,#31568d 7.5px,#376daa 8.5px,#4690c1 10.5px,#8ac0db 13.5px,#bad9e9 16.5px,#d1e5f0 18.5px,#f2f5f6 25.5px,#f9f0ea 33.5px,#f5f6f6 41.5px,#c2ddeb 56.5px,#c6dfed 61.5px,#f6f6f6 73.5px,#fcd9c4 83.5px,#fbcfb8 88.5px,#fcd8c3 93.5px,#f5f6f6 105.5px,#ebf1f5 112.5px,#f7f6f5 120.5px,#fbe4d5 126.5px,#fdd9c5 128.5px,#f7b89a 131.5px,#ef9979 133.5px,#ce5847 136.5px,#a9292c 138.5px,#611b20 140.5px,#5c1a1f 142.5px,#5c1a1f 145.5px)"></i><i style="top:92px;background:linear-gradient(90deg,#ffffff 0.5px,#2a3358 1.5px,#2a3359 5.5px,#2d4573 6.5px,#335e99 7.5px,#3974af 8.5px,#4a96c4 10.5px,#90c4dd 13.5px,#bddbea 16.5px,#d2e6f0 18.5px,#f2f5f6 25.5px,#f8f2ee 32.5px,#f3f5f6 40.5px,#badaea 55.5px,#bcdaea 60.5px,#f6f6f6 73.5px,#fcd3bd 83.5px,#fac8af 88.5px,#fbd0b8 93.5px,#f7f6f5 106.5px,#eef3f5 114.5px,#f7f5f4 120.5px,#fbe4d7 126.5px,#fcd2bc 129.5px,#f19f7e 133.5px,#d35f4c 136.5px,#b12f30 138.5px,#922227 139.5px,#6b1c21 140.5px,#5c1a1f 141.5px,#5c1a1f 145.5px)"></i><i style="top:93px;background:linear-gradient(90deg,#ffffff 0.5px,#2a3358 1.5px,#2a3358 4.5px,#2a375e 5.5px,#3567a4 7.5px,#438bbd 9.5px,#529cc7 10.5px,#96c7df 13.5px,#cce3ee 17.5px,#ebf1f5 23.5px,#f7f6f5 28.5px,#f8f4f2 34.5px,#eff3f6 40.5px,#c5dfec 50.5px,#b2d5e7 55.5px,#b5d7e8 60.5px,#f6f6f6 73.5px,#fcd3bc 82.5px,#f9c4aa 86.5px,#f9c2a7 90.5px,#fbd0b9 95.5px,#f9efe8 104.5px,#f5f6f6 109.5px,#f2f5f6 116.5px,#f7f5f4 120.5px,#fbe5d8 126.5px,#fcd5c0 129.5px,#f3a583 133.5px,#d86751 136.5px,#b83835 138.5px,#a02529 139.5px,#791e24 140.5px,#5d1a1f 141.5px,#5c1a1f 145.5px)"></i><i style="top:94px;background:linear-gradient(90deg,#ffffff 0.5px,#2a3358 1.5px,#2a3358 4.5px,#2c3f6a 5.5px,#315890 6.5px,#376fab 7.5px,#4691c1 9.5px,#8ac0db 12.5px,#b9d9e9 15.5px,#cfe4ef 17.5px,#ecf2f5 23.5px,#f7f6f5 29.5px,#f3f5f6 37.5px,#cfe4ef 47.5px,#afd4e6 53.5px,#aad1e5 58.5px,#bcdaea 63.5px,#f6f6f5 73.5px,#fcd4be 81.5px,#f8bea3 86.5px,#f8bb9e 90.5px,#fac9b0 95.5px,#fbe6d9 102.5px,#f7f6f5 109.5px,#f4f6f6 117.5px,#f8f1ed 122.5px,#fddecd 128.5px,#fbcfb7 130.5px,#f5aa89 133.5px,#dc6f58 136.5px,#ab2a2d 139.5px,#641b20 141.5px,#5c1a1f 142.5px,#5c1a1f 145.5px)"></i><i style="top:95px;background:linear-gradient(90deg,#ffffff 0.5px,#2a3358 1.5px,#2a355b 4.5px,#34629e 6.5px,#3a76b0 7.5px,#4d98c5 9.5px,#92c5de 12.5px,#bedbea 15.5px,#d2e6f0 17.5px,#eff3f6 24.5px,#f7f6f5 31.5px,#eef2f5 38.5px,#c8e0ed 47.5px,#a8d0e4 53.5px,#a3cee3 58.5px,#b7d8e9 63.5px,#f1f4f6 72.5px,#f6f6f5 73.5px,#fbd0b9 81.5px,#f7b99c 86.5px,#f7b597 90.5px,#f9c3a8 95.5px,#fce3d4 102.5px,#f8f4f2 109.5px,#f4f6f6 115.5px,#f7f5f3 120.5px,#fae7dc 126.5px,#fddbc8 129.5px,#f8bda0 132.5px,#f2a17f 134.5px,#d5624e 137.5px,#b43332 139.5px,#982328 140.5px,#711d22 141.5px,#5c1a1f 142.5px,#5c1a1f 145.5px)"></i><i style="top:96px;background:linear-gradient(90deg,#ffffff 0.5px,#2a3358 1.5px,#2a3358 3.5px,#2b3c65 4.5px,#30558b 5.5px,#366ca9 6.5px,#458fc0 8.5px,#57a0c9 9.5px,#87beda 11.5px,#b7d8e8 14.5px,#cee3ef 16.5px,#eaf1f5 22.5px,#f6f7f7 29.5px,#f0f4f6 36.5px,#d0e4ef 45.5px,#a5cfe4 52.5px,#9ccae1 57.5px,#a7d0e4 61.5px,#f1f4f6 72.5px,#f6f6f5 73.5px,#fcd4be 80.5px,#f7b89a 85.5px,#f6b090 89.5px,#f7b697 93.5px,#fcd3bc 99.5px,#fae9df 105.5px,#f7f5f4 111.5px,#f7f6f5 119.5px,#faebe3 125.5px,#fdddcb 129.5px,#f9c2a7 132.5px,#f4a886 134.5px,#da6b55 137.5px,#bc3e38 139.5px,#a7282b 140.5px,#611b20 142.5px,#5c1a1f 144.5px,#5c1a1f 145.5px)"></i><i style="top:97px;background:linear-gradient(90deg,#ffffff 0.5px,#2a3358 1.5px,#2a345a 3.5px,#2e4777 4.5px,#33609c 5.5px,#3a75af 6.5px,#4b97c4 8.5px,#90c4dd 11.5px,#bddbea 14.5px,#d1e5f0 16.5px,#ebf1f5 22.5px,#f6f7f7 30.5px,#ecf2f5 37.5px,#cbe2ee 45.5px,#a0cce2 52.5px,#97c8df 56.5px,#9ecbe2 60.5px,#bedbeb 65.5px,#e3eef4 70.5px,#f6f6f5 73.5px,#fcd1bb 80.5px,#f7b495 85.5px,#f5ab8a 89.5px,#f6b192 93.5px,#fbceb7 99.5px,#fce1d1 103.5px,#f8f3ef 110.5px,#f6f7f7 117.5px,#f8f1ed 123.5px,#fcdfcf 129.5px,#fcd2bb 131.5px,#f6af8e 134.5px,#e98b6e 136.5px,#d3604c 138.5px,#b33131 140.5px,#952328 141.5px,#6e1d22 142.5px,#5c1a1f 143.5px,#5c1a1f 145.5px)"></i><i style="top:98px;background:linear-gradient(90deg,#ffffff 0.5px,#2a3358 1.5px,#2a3358 2.5px,#2b3b65 3.5px,#30548a 4.5px,#366ba8 5.5px,#448ebf 7.5px,#569fc9 8.5px,#87beda 10.5px,#b7d8e9 13.5px,#cee4ef 15.5px,#eaf1f5 21.5px,#f6f7f7 29.5px,#edf2f5 36.5px,#cfe4ef 44.5px,#a0cce2 51.5px,#93c6de 56.5px,#9bcae1 60.5px,#bcdaea 65.5px,#dceaf2 69.5px,#f6f6f5 73.5px,#fcd7c2 79.5px,#f7b597 84.5px,#f5a987 88.5px,#f5ab89 92.5px,#f8bfa4 97.5px,#fcdfcf 103.5px,#f8f3f0 111.5px,#f6f7f7 118.5px,#f8f0ec 124.5px,#fdddcc 130.5px,#f9c2a7 133.5px,#f4a886 135.5px,#da6b55 138.5px,#bc3d38 140.5px,#a7282b 141.5px,#611b20 143.5px,#5c1a1f 145.5px)"></i><i style="top:99px;background:linear-gradient(90deg,#ffffff 0.5px,#2a3358 1.5px,#2a355b 2.5px,#2e4979 3.5px,#33619d 4.5px,#3a75b0 5.5px,#4c98c5 7.5px,#92c5de 10.5px,#bedbeb 13.5px,#d3e6f0 15.5px,#ecf2f5 21.5px,#f6f7f7 28.5px,#eff3f6 35.5px,#d2e6f0 43.5px,#9dcbe1 51.5px,#8fc3dd 56.5px,#98c8e0 60.5px,#b9d9e9 65.5px,#dbeaf2 69.5px,#f6f6f5 73.5px,#fcd6c0 79.5px,#f7b394 84.5px,#f4a684 88.5px,#f5a886 92.5px,#f8bca0 97.5px,#fcdecd 103.5px,#f8f3f0 111.5px,#f6f7f7 118.5px,#f8f2ee 124.5px,#fce0d0 130.5px,#fcd3bd 132.5px,#f2a17f 136.5px,#d4614d 139.5px,#b43231 141.5px,#972328 142.5px,#711d22 143.5px,#5c1a1f 144.5px,#5c1a1f 145.5px)"></i><i style="top:100px;background:linear-gradient(90deg,#ffffff 0.5px,#2a3358 1.5px,#2c3e69 2.5px,#31578f 3.5px,#376eaa 4.5px,#4691c1 6.5px,#8ac0db 9.5px,#bad9e9 12.5px,#d0e5f0 14.5px,#ecf2f5 20.5px,#f6f6f6 27.5px,#f1f4f6 34.5px,#d1e5f0 43.5px,#9bcae1 51.5px,#8cc2dc 56.5px,#96c7df 60.5px,#b8d8e9 65.5px,#daeaf2 69.5px,#f6f6f5 73.5px,#fcd5bf 79.5px,#f6b292 84.5px,#f3a582 88.5px,#f4a784 92.5px,#f7bb9e 97.5px,#fddecc 103.5px,#f8f3f0 111.5px,#f5f6f7 117.5px,#f7f5f3 123.5px,#fbe7db 129.5px,#fdd9c5 132.5px,#f7b89b 135.5px,#ef9979 137.5px,#ce5847 140.5px,#aa292c 142.5px,#631b20 144.5px,#5c1a1f 145.5px)"></i><i style="top:101px;background:linear-gradient(90deg,#ffffff 0.5px,#2a375e 1.5px,#3466a2 3.5px,#428abd 5.5px,#519bc7 6.5px,#97c8df 9.5px,#c3deec 12.5px,#d5e7f1 14.5px,#eff3f6 20.5px,#f7f5f4 27.5px,#f1f4f6 34.5px,#d1e5f0 43.5px,#9bcae1 51.5px,#8cc1dc 56.5px,#95c7df 60.5px,#aed3e6 64.5px,#daeaf2 69.5px,#f6f6f5 73.5px,#fcd4be 79.5px,#f6b191 84.5px,#f3a481 88.5px,#f4a683 92.5px,#f7b597 96.5px,#fdddcc 103.5px,#f8f3f0 111.5px,#f4f6f6 116.5px,#f7f5f4 124.5px,#fbe6da 130.5px,#fcd7c2 133.5px,#f7b495 136.5px,#ec9273 138.5px,#d76651 140.5px,#b73734 142.5px,#9e2529 143.5px,#781e23 144.5px,#5d1a1f 145.5px)"></i><i style="top:102px;background:linear-gradient(90deg,#ffffff 0.5px,#2d4573 1.5px,#325e98 2.5px,#3973ae 3.5px,#4a96c4 5.5px,#91c4dd 8.5px,#c0dceb 11.5px,#d4e7f1 13.5px,#f0f4f6 19.5px,#f7f4f3 25.5px,#f2f5f6 34.5px,#d1e5f0 43.5px,#9bcae1 51.5px,#8cc1dc 56.5px,#95c7df 60.5px,#aed3e6 64.5px,#daeaf2 69.5px,#f6f6f5 73.5px,#fcd4be 79.5px,#f6b191 84.5px,#f3a481 88.5px,#f4a684 92.5px,#f8bb9f 97.5px,#fddecd 103.5px,#f8f3f1 111.5px,#f4f5f6 115.5px,#f5f6f7 123.5px,#f8f2ee 127.5px,#fce2d2 132.5px,#fcd5bf 134.5px,#f6b090 137.5px,#e98b6e 139.5px,#d25f4b 141.5px,#b02f30 143.5px,#912227 144.5px,#6b1c21 145.5px)"></i><i style="top:103px;background:linear-gradient(90deg,#ffffff 0.5px,#31578e 1.5px,#376daa 2.5px,#4691c1 4.5px,#8cc1dc 7.5px,#bedbea 10.5px,#d4e7f0 12.5px,#f1f4f6 18.5px,#f8f3ef 25.5px,#f4f5f6 34.5px,#d2e6f0 43.5px,#99c8e0 52.5px,#8ec3dc 56.5px,#96c7df 60.5px,#afd4e6 64.5px,#daeaf2 69.5px,#f6f6f5 73.5px,#fcd5bf 79.5px,#f6b292 84.5px,#f4a582 88.5px,#f5a886 92.5px,#f8bda1 97.5px,#fcdfce 103.5px,#f7f4f3 111.5px,#f0f4f6 117.5px,#f5f6f6 125.5px,#f8f0eb 129.5px,#fddcc9 134.5px,#f8bb9e 137.5px,#f09b7b 139.5px,#ce5847 142.5px,#a9292c 144.5px,#862025 145.5px)"></i><i style="top:104px;background:linear-gradient(90deg,#ffffff 0.5px,#3568a5 1.5px,#448dbe 3.5px,#559ec9 4.5px,#88bfda 6.5px,#bcdaea 9.5px,#d4e6f0 11.5px,#f2f5f6 17.5px,#f8f1ec 25.5px,#f3f5f6 35.5px,#cfe4ef 44.5px,#a0cce2 51.5px,#91c5dd 56.5px,#98c8e0 60.5px,#b0d4e7 64.5px,#dbeaf2 69.5px,#f6f6f5 73.5px,#fcd5c0 79.5px,#f7b394 84.5px,#f5a785 88.5px,#f5aa89 92.5px,#f8bfa4 97.5px,#fce0d0 103.5px,#f7f6f5 111.5px,#ecf2f5 120.5px,#f7f6f5 128.5px,#fbe6da 133.5px,#fddcc9 135.5px,#f7b99b 138.5px,#ee9777 140.5px,#d96a54 142.5px,#b93a36 144.5px,#a1262a 145.5px)"></i><i style="top:105px;background:linear-gradient(90deg,#ffffff 0.5px,#3b78b1 1.5px,#428abc 2.5px,#519bc7 3.5px,#85bdd9 5.5px,#acd2e5 7.5px,#cae1ee 9.5px,#e7f0f4 13.5px,#f6f6f5 17.5px,#f9eee8 24.5px,#f8f3f0 32.5px,#f2f5f6 36.5px,#cce2ee 45.5px,#a0cce2 52.5px,#95c7df 57.5px,#9fcce2 61.5px,#c4deec 66.5px,#f6f6f5 73.5px,#fcd7c1 79.5px,#f7b597 84.5px,#f5aa88 88.5px,#f5ae8d 92.5px,#fac9af 98.5px,#fce2d2 103.5px,#f7f5f4 110.5px,#e9f1f5 120.5px,#f3f5f6 128.5px,#f8f2ee 131.5px,#fddcc9 136.5px,#f7b79a 139.5px,#ec9475 141.5px,#d76650 143.5px,#b53533 145.5px)"></i><i style="top:106px;background:linear-gradient(90deg,#ffffff 0.5px,#4187bb 1.5px,#4e99c6 2.5px,#99c9e0 5.5px,#cbe2ee 8.5px,#e9f0f5 12.5px,#f7f4f2 16.5px,#faebe3 23.5px,#f9eee8 30.5px,#f5f6f6 36.5px,#cae1ee 46.5px,#a5cfe4 52.5px,#9ac9e0 57.5px,#a3cee3 61.5px,#c6dfed 66.5px,#f6f6f5 73.5px,#fbd1ba 80.5px,#f7b596 85.5px,#f5ae8d 89.5px,#f7b99b 94.5px,#fce0d0 102.5px,#f6f6f6 110.5px,#e5eff4 119.5px,#ebf1f5 127.5px,#f6f6f5 131.5px,#fae7dd 135.5px,#fddcca 137.5px,#f7b799 140.5px,#ec9273 142.5px,#d5634e 144.5px,#c54a3f 145.5px)"></i><i style="top:107px;background:linear-gradient(90deg,#ffffff 0.5px,#4d98c5 1.5px,#99c9e0 4.5px,#cce2ee 7.5px,#ebf1f5 11.5px,#f7f4f3 14.5px,#fae9e0 20.5px,#fae9df 28.5px,#f5f6f6 37.5px,#c8e0ed 47.5px,#a7d0e4 53.5px,#a0cce2 58.5px,#add2e5 62.5px,#f1f4f6 72.5px,#f6f6f5 73.5px,#fcd3bd 80.5px,#f8bca0 84.5px,#f6b393 88.5px,#f7b799 92.5px,#fcd2bb 98.5px,#f9f0ea 106.5px,#f6f6f6 109.5px,#e2edf3 118.5px,#e3eef4 126.5px,#f7f5f4 133.5px,#fbe4d6 137.5px,#fcd4be 139.5px,#f4a685 142.5px,#d4614d 145.5px)"></i><i style="top:108px;background:linear-gradient(90deg,#ffffff 0.5px,#67aad0 1.5px,#9ac9e0 3.5px,#cee4ef 6.5px,#f3f5f6 11.5px,#fbe6da 19.5px,#fbe5d7 26.5px,#f9efe9 34.5px,#f5f6f6 38.5px,#c8e0ed 48.5px,#aad1e5 54.5px,#a7d0e4 59.5px,#bddbea 64.5px,#f6f6f5 73.5px,#fbcfb8 81.5px,#f7ba9d 86.5px,#f7b99b 90.5px,#fac8af 95.5px,#fce3d4 101.5px,#f5f6f6 108.5px,#ddebf2 118.5px,#ddebf2 126.5px,#f0f4f6 133.5px,#f7f4f2 135.5px,#fcdfce 139.5px,#fac8af 141.5px,#f4a786 143.5px,#e17860 145.5px)"></i><i style="top:109px;background:linear-gradient(90deg,#ffffff 0.5px,#85bdd9 1.5px,#b1d5e7 3.5px,#d1e5f0 5.5px,#f2f4f6 9.5px,#fae9df 14.5px,#fce0d0 20.5px,#fce2d3 28.5px,#f8f3f0 37.5px,#f1f4f6 40.5px,#c4deec 50.5px,#afd4e6 55.5px,#b0d4e6 60.5px,#c8e0ed 65.5px,#f6f6f5 73.5px,#fcd3bd 81.5px,#f9c2a7 85.5px,#f8bea2 89.5px,#facab1 94.5px,#fae9df 102.5px,#f5f6f6 107.5px,#daeaf2 117.5px,#d6e8f1 126.5px,#e7f0f4 133.5px,#f5f5f5 136.5px,#fae7dc 139.5px,#fcd9c4 141.5px,#f4a988 144.5px,#ec9374 145.5px)"></i><i style="top:110px;background:linear-gradient(90deg,#ffffff 0.5px,#a1cde2 1.5px,#c7e0ed 3.5px,#e7f0f4 6.5px,#f5f5f5 8.5px,#fce2d3 14.5px,#fdd9c5 21.5px,#fcdfce 29.5px,#f8f2ee 38.5px,#f2f5f6 41.5px,#b7d8e9 55.5px,#b7d8e8 60.5px,#dbeaf2 68.5px,#f6f6f5 73.5px,#fcd2bc 82.5px,#f9c6ac 86.5px,#f9c8ae 91.5px,#fae9e0 101.5px,#f4f6f6 106.5px,#d6e8f1 116.5px,#cde3ef 125.5px,#deebf2 133.5px,#f6f5f3 138.5px,#fcdcc9 142.5px,#f5ac8c 145.5px)"></i><i style="top:111px;background:linear-gradient(90deg,#ffffff 0.5px,#bbdaea 1.5px,#d9e9f1 3.5px,#f3f5f5 6.5px,#fdddcb 13.5px,#fbcfb8 19.5px,#fcd2bb 25.5px,#faebe3 37.5px,#f6f6f5 41.5px,#bedbeb 56.5px,#c0dceb 61.5px,#f6f6f6 73.5px,#fcd4bd 83.5px,#facbb2 88.5px,#fcd5bf 93.5px,#f6f6f5 104.5px,#cae1ee 118.5px,#c0dceb 125.5px,#cce2ee 131.5px,#ecf2f5 138.5px,#f7f3f1 140.5px,#fcdfce 143.5px,#f9c3a8 145.5px)"></i><i style="top:112px;background:linear-gradient(90deg,#ffffff 0.5px,#d2e6f0 1.5px,#f1f4f5 4.5px,#f9efe9 6.5px,#fbd0b8 13.5px,#f9c3a8 18.5px,#f9c5aa 24.5px,#fcd8c2 31.5px,#f4f6f6 43.5px,#c9e1ed 55.5px,#c6dfec 60.5px,#e4eef4 69.5px,#f6f6f6 73.5px,#fdddcc 81.5px,#fcd2bc 87.5px,#fdd9c5 92.5px,#f6f6f6 103.5px,#b6d7e8 121.5px,#b2d5e7 127.5px,#bfdceb 132.5px,#f4f5f5 141.5px,#faeae2 143.5px,#fcd9c5 145.5px)"></i><i style="top:113px;background:linear-gradient(90deg,#ffffff 0.5px,#e4eef4 1.5px,#f6f4f3 3.5px,#fcd4be 9.5px,#f8bb9e 14.5px,#f6b394 19.5px,#f7ba9d 25.5px,#fcd6c0 33.5px,#f5f6f6 44.5px,#d3e6f0 54.5px,#cee3ef 60.5px,#e1edf3 68.5px,#f6f6f6 73.5px,#fcdecd 82.5px,#fddac5 88.5px,#fbe5d8 95.5px,#f4f6f6 102.5px,#aad1e5 120.5px,#a0cce2 127.5px,#abd2e5 132.5px,#cae1ee 137.5px,#eff3f5 142.5px,#f6f4f3 143.5px,#fbe7db 145.5px)"></i><i style="top:114px;background:linear-gradient(90deg,#ffffff 0.5px,#f4f4f4 1.5px,#fcd7c2 6.5px,#f7ba9c 10.5px,#f4a987 14.5px,#f3a381 20.5px,#f6af8f 26.5px,#fcd5bf 35.5px,#f7f5f4 45.5px,#d7e8f1 55.5px,#d5e7f1 62.5px,#ebf1f5 70.5px,#f6f6f6 73.5px,#fce1d2 82.5px,#fcdecd 88.5px,#fbe7dc 94.5px,#f6f6f6 100.5px,#c5dfec 111.5px,#9ac9e0 120.5px,#8cc1dc 127.5px,#95c6df 132.5px,#b2d5e7 137.5px,#f0f4f5 144.5px,#f7f3f0 145.5px)"></i><i style="top:115px;background:linear-gradient(90deg,#ffffff 0.5px,#faebe2 1.5px,#facab1 5.5px,#f4aa89 9.5px,#ed9475 13.5px,#e98c6e 18.5px,#ee9778 24.5px,#f6b191 30.5px,#fce1d2 40.5px,#f6f6f6 47.5px,#dbeaf2 56.5px,#daeaf2 63.5px,#f6f6f6 73.5px,#fbe4d6 82.5px,#fce3d4 88.5px,#f9eee7 95.5px,#f4f6f6 99.5px,#c5dfec 109.5px,#86beda 120.5px,#73b1d4 126.5px,#76b3d5 131.5px,#90c4dd 136.5px,#c0dceb 141.5px,#e9f0f4 145.5px)"></i><i style="top:116px;background:linear-gradient(90deg,#ffffff 0.5px,#fcdcca 1.5px,#f6b191 5.5px,#ed9576 8.5px,#e27c63 12.5px,#de735b 17.5px,#e37e64 23.5px,#f4a785 31.5px,#fcdfce 41.5px,#f5f6f6 49.5px,#e0ecf3 57.5px,#e0ecf3 64.5px,#f6f6f6 73.5px,#fbe7dc 82.5px,#fbe7db 88.5px,#f8f3f0 95.5px,#f1f4f6 98.5px,#c6dfed 107.5px,#69abd0 121.5px,#569fc9 127.5px,#5aa2cb 132.5px,#6fafd2 136.5px,#a2cde3 141.5px,#d5e7f1 145.5px)"></i><i style="top:117px;background:linear-gradient(90deg,#ffffff 0.5px,#f9c2a8 1.5px,#f19e7d 4.5px,#df755d 8.5px,#d3604d 12.5px,#cf5a48 17.5px,#d86751 23.5px,#e7876b 29.5px,#f6b090 35.5px,#fddcc9 42.5px,#f7f5f4 50.5px,#e3eef4 59.5px,#e8f0f4 67.5px,#f7f5f4 74.5px,#fae9e0 83.5px,#f9ede6 90.5px,#f2f5f6 96.5px,#c7e0ed 105.5px,#79b5d5 115.5px,#509bc7 121.5px,#448ebf 126.5px,#448dbe 132.5px,#4d98c5 136.5px,#66a9cf 139.5px,#b8d8e9 145.5px)"></i><i style="top:118px;background:linear-gradient(90deg,#ffffff 0.5px,#f2a483 1.5px,#dc6f58 5.5px,#c85043 9.5px,#bd3f39 14.5px,#bf423b 19.5px,#d25f4b 26.5px,#e7876b 32.5px,#f7b698 38.5px,#fdddcb 44.5px,#f7f5f4 52.5px,#e7f0f4 61.5px,#f0f4f6 70.5px,#f7f5f4 74.5px,#f9ede5 83.5px,#f8f2ee 90.5px,#f2f5f6 94.5px,#c9e1ed 103.5px,#86bdda 111.5px,#509bc7 117.5px,#4289bc 121.5px,#3b78b2 128.5px,#3d7cb4 134.5px,#4690c0 139.5px,#569fc9 141.5px,#94c6de 145.5px)"></i><i style="top:119px;background:linear-gradient(90deg,#ffffff 0.5px,#e27d63 1.5px,#cd5747 4.5px,#b63534 8.5px,#a7282b 12.5px,#a5272b 17.5px,#b33131 22.5px,#d5624e 30.5px,#f4a785 38.5px,#fddac6 45.5px,#f8f3f1 53.5px,#f1f4f6 57.5px,#ecf2f5 65.5px,#f7f6f5 74.5px,#f9f0ea 83.5px,#f5f6f6 91.5px,#d1e5f0 100.5px,#83bcd9 109.5px,#509bc7 114.5px,#428abd 117.5px,#3567a4 126.5px,#33609c 131.5px,#366aa7 136.5px,#4085b9 141.5px,#4b95c3 143.5px,#68aad0 145.5px)"></i><i style="top:120px;background:linear-gradient(90deg,#ffffff 0.5px,#cd5747 1.5px,#b43332 4.5px,#9a2428 7.5px,#7f1f25 11.5px,#791e24 15.5px,#882126 20.5px,#aa292c 25.5px,#c54b40 30.5px,#e0765e 35.5px,#f6b090 41.5px,#fddbc8 47.5px,#f8f3f0 55.5px,#f3f5f6 59.5px,#f1f4f6 68.5px,#f7f4f3 76.5px,#f8f3f0 84.5px,#f2f5f6 90.5px,#d3e6f0 98.5px,#98c8e0 105.5px,#4b97c4 112.5px,#3b79b2 117.5px,#34639f 121.5px,#2e4a7a 127.5px,#2d4471 131.5px,#2e4979 135.5px,#325c96 139.5px,#3c7ab3 143.5px,#448dbe 145.5px)"></i><i style="top:121px;background:linear-gradient(90deg,#ffffff 0.5px,#b13131 1.5px,#972328 3.5px,#711d22 6.5px,#611b20 9.5px,#5d1a1f 17.5px,#661c21 21.5px,#852025 25.5px,#ad2b2d 29.5px,#d96a54 36.5px,#f4a987 42.5px,#fddcca 49.5px,#f8f2ef 57.5px,#f4f6f6 62.5px,#f7f6f5 84.5px,#e8f0f4 91.5px,#cfe4ef 97.5px,#8fc3dd 104.5px,#4995c3 110.5px,#3465a2 117.5px,#2c3e69 123.5px,#2a345a 127.5px,#2a345a 136.5px,#2b3c66 139.5px,#305287 142.5px,#3871ac 145.5px)"></i><i style="top:122px;background:linear-gradient(90deg,#ffffff 0.5px,#822025 1.5px,#661c21 3.5px,#5c1a1f 5.5px,#5d1a1f 24.5px,#681c21 26.5px,#a4262a 31.5px,#bd3f39 34.5px,#df745c 39.5px,#f5ab8a 44.5px,#fdd9c5 50.5px,#f9eee8 57.5px,#f6f6f6 64.5px,#f3f5f6 84.5px,#deebf2 92.5px,#cae1ee 96.5px,#92c5de 102.5px,#4894c2 108.5px,#3466a3 114.5px,#2b3d67 119.5px,#2a3358 122.5px,#2a3359 141.5px,#2b3b64 143.5px,#2f4e81 145.5px)"></i><i style="top:123px;background:linear-gradient(90deg,#ffffff 0.5px,#5d1a1f 1.5px,#5e1a1f 28.5px,#701d22 30.5px,#a9292c 34.5px,#d96a53 40.5px,#f5ae8d 46.5px,#fddbc7 52.5px,#f9eee8 59.5px,#f6f6f6 67.5px,#f0f4f6 83.5px,#dbeaf2 91.5px,#c5dfec 95.5px,#89bfdb 101.5px,#4894c3 106.5px,#366aa7 111.5px,#2b3b64 116.5px,#2a3358 118.5px,#2a345a 145.5px)"></i><i style="top:124px;background:linear-gradient(90deg,#ffffff 0.5px,#5c1a1f 1.5px,#5f1a1f 31.5px,#671c21 32.5px,#a6272b 36.5px,#d3604c 41.5px,#f4a886 47.5px,#fcd8c3 53.5px,#faeae1 59.5px,#f7f5f3 67.5px,#f0f4f6 81.5px,#d8e9f1 90.5px,#c8e0ed 93.5px,#8dc2dc 99.5px,#4995c3 104.5px,#3568a6 109.5px,#2c3e68 113.5px,#2a365d 114.5px,#2a3358 116.5px,#2a3358 145.5px)"></i><i style="top:125px;background:linear-gradient(90deg,#ffffff 0.5px,#5c1a1f 1.5px,#5d1a1f 33.5px,#631b20 34.5px,#a5272b 38.5px,#c44a3f 41.5px,#e8896c 46.5px,#f7b596 50.5px,#fddac6 55.5px,#f9ede5 62.5px,#f6f7f6 72.5px,#e6eff4 84.5px,#cbe2ee 91.5px,#93c5de 97.5px,#4c98c5 102.5px,#3d7cb4 105.5px,#3568a6 107.5px,#2b3b64 111.5px,#2a345a 112.5px,#2a3358 145.5px)"></i><i style="top:126px;background:linear-gradient(90deg,#ffffff 0.5px,#5c1a1f 1.5px,#5c1a1f 35.5px,#611b20 36.5px,#822025 38.5px,#a7282b 40.5px,#d86751 45.5px,#f4a785 50.5px,#fcd7c2 56.5px,#fae9e0 62.5px,#f7f5f5 71.5px,#e4eef4 83.5px,#cee4ef 89.5px,#98c8e0 95.5px,#4691c1 101.5px,#366aa7 105.5px,#305186 107.5px,#2b3962 109.5px,#2a3459 110.5px,#2a3358 145.5px)"></i><i style="top:127px;background:linear-gradient(90deg,#ffffff 0.5px,#5c1a1f 1.5px,#5c1a1f 37.5px,#611b20 38.5px,#842025 40.5px,#ab2a2c 42.5px,#db6d56 47.5px,#f5ac8b 52.5px,#fcd4be 57.5px,#fbe6da 62.5px,#f6f6f6 72.5px,#e0ecf3 83.5px,#cbe2ee 88.5px,#93c5de 94.5px,#4a96c4 99.5px,#376daa 103.5px,#33619d 104.5px,#2b3a62 107.5px,#2a3459 108.5px,#2a3358 145.5px)"></i><i style="top:128px;background:linear-gradient(90deg,#ffffff 0.5px,#5c1a1f 1.5px,#5c1a1f 39.5px,#631b20 40.5px,#9f2529 43.5px,#bb3c37 45.5px,#df745c 49.5px,#f4a887 53.5px,#fcd9c4 59.5px,#f9ece4 66.5px,#f6f7f7 73.5px,#d8e9f1 84.5px,#c9e1ed 87.5px,#9ac9e0 92.5px,#61a6cd 96.5px,#4690c1 98.5px,#3871ad 101.5px,#3465a2 102.5px,#2b3c66 105.5px,#2a345a 106.5px,#2a3358 145.5px)"></i><i style="top:129px;background:linear-gradient(90deg,#ffffff 0.5px,#5c1a1f 1.5px,#5d1a1f 41.5px,#671c21 42.5px,#a8282b 45.5px,#d4614d 49.5px,#f3a583 54.5px,#fcd7c2 60.5px,#f9ede5 67.5px,#f5f7f7 73.5px,#d3e6f0 84.5px,#b6d7e8 88.5px,#8ac0db 92.5px,#4b97c4 96.5px,#366ba8 100.5px,#325e98 101.5px,#2c406c 103.5px,#2a355c 104.5px,#2a3358 108.5px,#2a3358 145.5px)"></i><i style="top:130px;background:linear-gradient(90deg,#ffffff 0.5px,#5c1a1f 1.5px,#5f1b1f 43.5px,#6f1d22 44.5px,#9e2529 46.5px,#b02e2f 47.5px,#d96a54 51.5px,#f2a281 55.5px,#fcd6c1 61.5px,#faeae1 67.5px,#f5f6f7 73.5px,#d3e6f0 83.5px,#b4d6e8 87.5px,#86bdda 91.5px,#4793c2 95.5px,#3972ae 98.5px,#3465a2 99.5px,#2b3961 102.5px,#2a3358 103.5px,#2a3358 145.5px)"></i><i style="top:131px;background:linear-gradient(90deg,#ffffff 0.5px,#5c1a1f 1.5px,#5c1a1f 44.5px,#661c21 45.5px,#aa292c 48.5px,#d76651 52.5px,#f5ab8a 57.5px,#fcd6c1 62.5px,#f9ece3 68.5px,#f5f6f7 73.5px,#cee3ef 83.5px,#9ecbe1 88.5px,#73b1d3 91.5px,#519bc7 93.5px,#4590c0 94.5px,#376daa 97.5px,#335f9b 98.5px,#2c406b 100.5px,#2a355b 101.5px,#2a3358 145.5px)"></i><i style="top:132px;background:linear-gradient(90deg,#ffffff 0.5px,#5c1a1f 1.5px,#5c1a1f 45.5px,#601b20 46.5px,#731e23 47.5px,#a4262a 49.5px,#c0433b 51.5px,#de725a 54.5px,#f5aa89 58.5px,#fcd7c2 63.5px,#f9f0eb 70.5px,#f5f6f7 73.5px,#cfe4ef 82.5px,#9dcbe1 87.5px,#71b0d3 90.5px,#4e99c6 92.5px,#3f82b8 94.5px,#3669a7 96.5px,#2e4a7a 98.5px,#2b3a63 99.5px,#2a3358 100.5px,#2a3358 145.5px)"></i><i style="top:133px;background:linear-gradient(90deg,#ffffff 0.5px,#5c1a1f 1.5px,#5d1a1f 47.5px,#6b1c21 48.5px,#9e2529 50.5px,#b12f30 51.5px,#dd7059 55.5px,#f5aa89 59.5px,#fcd8c3 64.5px,#f7f5f3 72.5px,#e4eef4 77.5px,#c8e0ed 82.5px,#90c4dd 87.5px,#4c97c5 91.5px,#3974af 94.5px,#3466a3 95.5px,#2a365d 98.5px,#2a3358 100.5px,#2a3358 145.5px)"></i><i style="top:134px;background:linear-gradient(90deg,#ffffff 0.5px,#5c1a1f 1.5px,#5c1a1f 48.5px,#651c20 49.5px,#992428 51.5px,#af2c2e 52.5px,#dc6f58 56.5px,#f5ab8a 60.5px,#fddac6 65.5px,#f7f5f3 72.5px,#ecf2f5 75.5px,#cae1ee 81.5px,#91c4dd 86.5px,#4b97c4 90.5px,#3972ad 93.5px,#3463a0 94.5px,#2c416d 96.5px,#2a355a 97.5px,#2a3358 145.5px)"></i><i style="top:135px;background:linear-gradient(90deg,#ffffff 0.5px,#5c1a1f 1.5px,#5c1a1f 49.5px,#621b20 50.5px,#ad2b2d 53.5px,#dc6f58 57.5px,#f5ac8b 61.5px,#fddcc9 66.5px,#f5f6f6 73.5px,#cde3ef 80.5px,#92c5de 85.5px,#4b96c4 89.5px,#3870ac 92.5px,#33619d 93.5px,#2c3e68 95.5px,#2a3459 96.5px,#2a3358 145.5px)"></i><i style="top:136px;background:linear-gradient(90deg,#ffffff 0.5px,#5c1a1f 1.5px,#5c1a1f 50.5px,#601b20 51.5px,#ac2a2d 54.5px,#dd7059 58.5px,#f6af8e 62.5px,#fcd8c4 66.5px,#f7f4f2 72.5px,#eff3f6 74.5px,#c7e0ed 80.5px,#95c7df 84.5px,#4b97c4 88.5px,#3870ac 91.5px,#33609c 92.5px,#2b3c65 94.5px,#2a3358 95.5px,#2a3358 145.5px)"></i><i style="top:137px;background:linear-gradient(90deg,#ffffff 0.5px,#5c1a1f 1.5px,#5c1a1f 51.5px,#5f1b1f 52.5px,#751e23 53.5px,#ac2a2d 55.5px,#de725b 59.5px,#f3a583 62.5px,#fddcc9 67.5px,#f5f6f6 73.5px,#cce3ee 79.5px,#99c9e0 83.5px,#4d98c5 87.5px,#3d7eb5 89.5px,#3870ac 90.5px,#33609b 91.5px,#2b3b64 93.5px,#2a3358 94.5px,#2a3358 145.5px)"></i><i style="top:138px;background:linear-gradient(90deg,#ffffff 0.5px,#5c1a1f 1.5px,#5f1a1f 53.5px,#751e23 54.5px,#ad2b2d 56.5px,#d5634f 59.5px,#f5a988 63.5px,#fcd8c4 67.5px,#f8f3f1 72.5px,#f4f6f6 73.5px,#d2e5f0 78.5px,#9dcbe1 82.5px,#65a9cf 85.5px,#509bc7 86.5px,#448dbe 87.5px,#3871ad 89.5px,#33619c 90.5px,#2b3a64 92.5px,#2a3358 93.5px,#2a3358 145.5px)"></i><i style="top:139px;background:linear-gradient(90deg,#ffffff 0.5px,#5c1a1f 1.5px,#5c1a1f 53.5px,#5f1b1f 54.5px,#771e23 55.5px,#af2d2e 57.5px,#d86751 60.5px,#f19f7e 63.5px,#fcd4bd 67.5px,#f8f3f0 72.5px,#f4f6f6 73.5px,#cee3ef 78.5px,#93c6de 82.5px,#549ec9 85.5px,#458fc0 86.5px,#3973ae 88.5px,#34629f 89.5px,#2b3b65 91.5px,#2a3358 92.5px,#2a3358 145.5px)"></i><i style="top:140px;background:linear-gradient(90deg,#ffffff 0.5px,#5c1a1f 1.5px,#5c1a1f 54.5px,#601b20 55.5px,#9a2428 57.5px,#b23030 58.5px,#da6c55 61.5px,#f3a584 64.5px,#fddac6 68.5px,#f8f3f0 72.5px,#f4f6f6 73.5px,#c9e1ed 78.5px,#87beda 82.5px,#4793c2 85.5px,#3a76b0 87.5px,#3465a2 88.5px,#2b3d67 90.5px,#2a3358 91.5px,#2a3358 145.5px)"></i><i style="top:141px;background:linear-gradient(90deg,#ffffff 0.5px,#5c1a1f 1.5px,#5c1a1f 55.5px,#621b20 56.5px,#a02529 58.5px,#b53433 59.5px,#de725b 62.5px,#f5ac8b 65.5px,#fcd6c1 68.5px,#f8f2ef 72.5px,#f4f6f6 73.5px,#d1e5f0 77.5px,#90c4dd 81.5px,#4c98c5 84.5px,#3569a6 87.5px,#2c406b 89.5px,#2a3359 90.5px,#2a3358 145.5px)"></i><i style="top:142px;background:linear-gradient(90deg,#ffffff 0.5px,#5c1a1f 1.5px,#5c1a1f 56.5px,#661c21 57.5px,#a6272b 59.5px,#c85043 61.5px,#eb9071 64.5px,#f7b495 66.5px,#fdddcb 69.5px,#f8f2ef 72.5px,#f4f5f6 73.5px,#cde3ef 77.5px,#85bdd9 81.5px,#549ec8 83.5px,#448dbf 84.5px,#376daa 86.5px,#325a93 87.5px,#2d4472 88.5px,#2a345a 89.5px,#2a3358 145.5px)"></i><i style="top:143px;background:linear-gradient(90deg,#ffffff 0.5px,#5c1a1f 1.5px,#5c1a1f 57.5px,#6d1d22 58.5px,#ad2b2e 60.5px,#db6d57 63.5px,#f5ad8c 66.5px,#fddbc7 69.5px,#f8f2ee 72.5px,#f4f5f6 73.5px,#c9e1ed 77.5px,#90c4dd 80.5px,#4893c2 83.5px,#3973ae 85.5px,#33609b 86.5px,#2a365d 88.5px,#2a3358 90.5px,#2a3358 145.5px)"></i><i style="top:144px;background:linear-gradient(90deg,#ffffff 0.5px,#5c1a1f 1.5px,#5e1a1f 58.5px,#771e23 59.5px,#9a2428 60.5px,#b43232 61.5px,#d4614d 63.5px,#f3a584 66.5px,#fcd7c3 69.5px,#f8f1ed 72.5px,#f4f5f6 73.5px,#d3e6f0 76.5px,#9ccae1 79.5px,#509bc7 82.5px,#428abd 83.5px,#3567a4 85.5px,#2b3a63 87.5px,#2a3358 88.5px,#2a3358 145.5px)"></i><i style="top:145px;background:linear-gradient(90deg,#ffffff 0.5px,#ffffff 145.5px)"></i></div>
<div class="hm" style="left:490px;top:213px;width:146px;height:146px"><i style="top:0px;background:linear-gradient(90deg,#fefefe 0.5px,#fafbfb 9.5px,#fdfdfd 145.5px)"></i><i style="top:1px;height:19px;background:linear-gradient(90deg,#fdfdfd 0.5px,#f6f7f7 1.5px,#f6f7f7 144.5px,#fafbfb 145.5px)"></i><i style="top:20px;background:linear-gradient(90deg,#fdfdfd 0.5px,#f6f7f7 1.5px,#f6f7f7 57.5px,#d4e2ec 58.5px,#a7c7de 59.5px,#74aace 60.5px,#5a9ec8 61.5px,#579fc9 62.5px,#7cb7d7 64.5px,#bddbea 67.5px,#cfe4ef 68.5px,#ecf2f5 71.5px,#f6f6f6 73.5px,#fbe6db 76.5px,#fcd2bc 78.5px,#f09d7c 81.5px,#e17960 83.5px,#db6e58 84.5px,#db806f 85.5px,#e9c5c0 87.5px,#f4edec 88.5px,#f6f7f7 89.5px,#f6f7f7 144.5px,#fafbfb 145.5px)"></i><i style="top:21px;background:linear-gradient(90deg,#fdfdfd 0.5px,#f6f7f7 1.5px,#f6f7f7 54.5px,#c6d5e4 55.5px,#7e9fc4 56.5px,#4e7bae 57.5px,#366ba6 58.5px,#3d7cb4 60.5px,#448dbe 61.5px,#59a0ca 62.5px,#98c8df 64.5px,#c6dfec 66.5px,#deebf2 68.5px,#f5f6f7 72.5px,#f8f2ee 75.5px,#fce2d3 78.5px,#fac9b0 80.5px,#f09e7e 82.5px,#d66651 84.5px,#ba3b37 86.5px,#b23031 87.5px,#af3231 88.5px,#f2ebeb 91.5px,#f6f7f7 92.5px,#f6f7f7 144.5px,#fafbfb 145.5px)"></i><i style="top:22px;background:linear-gradient(90deg,#fdfdfd 0.5px,#f6f7f7 1.5px,#f6f7f7 51.5px,#dde3ea 52.5px,#475f89 54.5px,#2d4371 55.5px,#2d4675 56.5px,#31568c 57.5px,#376da8 58.5px,#4386ba 59.5px,#5ea1ca 60.5px,#a6cfe3 62.5px,#bfdceb 63.5px,#d1e5ef 64.5px,#e5eff4 66.5px,#f4f6f6 70.5px,#f7f5f4 76.5px,#f9ede6 79.5px,#fbe0d1 81.5px,#fbd4bf 82.5px,#f9c2a7 83.5px,#f2a789 84.5px,#e6866b 85.5px,#bc3e39 87.5px,#a0272b 88.5px,#842025 89.5px,#771e23 90.5px,#7f2025 91.5px,#ddc2c3 93.5px,#f6f7f7 94.5px,#f6f7f7 144.5px,#fafbfb 145.5px)"></i><i style="top:23px;background:linear-gradient(90deg,#fdfdfd 0.5px,#f6f7f7 1.5px,#f6f7f7 49.5px,#c4cbd7 50.5px,#2b3962 52.5px,#2a3358 53.5px,#2a365c 54.5px,#2e4a7a 55.5px,#386ba3 56.5px,#4d8ebf 57.5px,#72afd2 58.5px,#9ecae1 59.5px,#bfdcea 60.5px,#d4e7f0 61.5px,#ebf1f5 63.5px,#f6f5f4 66.5px,#f5f5f4 80.5px,#f8f1ed 82.5px,#fbe3d6 84.5px,#fbd5c1 85.5px,#f7bea3 86.5px,#ed9b7f 87.5px,#da705a 88.5px,#bc443c 89.5px,#93272a 90.5px,#6a1c21 91.5px,#5c1a1f 92.5px,#611b20 93.5px,#7f383c 94.5px,#c4a5a7 95.5px,#f6f7f7 96.5px,#f6f7f7 144.5px,#fafbfb 145.5px)"></i><i style="top:24px;background:linear-gradient(90deg,#fdfdfd 0.5px,#f6f7f7 1.5px,#f6f7f7 47.5px,#c3c9d4 48.5px,#5e6886 49.5px,#2a3459 50.5px,#2a355b 52.5px,#2e4978 53.5px,#3b70a5 54.5px,#5b9bc6 55.5px,#8bbfdb 56.5px,#b8d8e8 57.5px,#d4e6f0 58.5px,#e5eff4 59.5px,#f4f4f3 61.5px,#f8f0ec 66.5px,#f3f5f6 74.5px,#ecf2f5 81.5px,#f6f3f1 85.5px,#f8eee8 86.5px,#fae4d8 87.5px,#fad2bd 88.5px,#f4b297 89.5px,#e3846b 90.5px,#c34f44 91.5px,#92292b 92.5px,#681c21 93.5px,#5c1a1f 94.5px,#5c1a1f 95.5px,#6d292e 96.5px,#b18a8c 97.5px,#f6f7f7 98.5px,#f6f7f7 144.5px,#fafbfb 145.5px)"></i><i style="top:25px;background:linear-gradient(90deg,#fdfdfd 0.5px,#f6f7f7 1.5px,#f6f7f7 45.5px,#dddfe4 46.5px,#5e6785 47.5px,#2a3359 48.5px,#2a345a 50.5px,#2e4877 51.5px,#3e74a8 52.5px,#67a5cc 53.5px,#9fcae1 54.5px,#cae1ed 55.5px,#e2edf3 56.5px,#eff2f4 57.5px,#f8f1ec 59.5px,#faebe3 63.5px,#f8f1ee 70.5px,#f1f4f6 74.5px,#e5eff4 82.5px,#ebf1f5 86.5px,#f4f3f2 88.5px,#f9ede7 89.5px,#fadfd0 90.5px,#f8c3aa 91.5px,#e99379 92.5px,#c9584a 93.5px,#932b2c 94.5px,#661c21 95.5px,#5c1a1f 96.5px,#5c1a1f 97.5px,#72363a 98.5px,#c0a5a7 99.5px,#f6f7f7 100.5px,#f6f7f7 144.5px,#fafbfb 145.5px)"></i><i style="top:26px;background:linear-gradient(90deg,#fdfdfd 0.5px,#f6f7f7 1.5px,#f6f7f7 43.5px,#e9ecef 44.5px,#848ba1 45.5px,#2a345a 46.5px,#2a3459 48.5px,#2e4572 49.5px,#3e73a6 50.5px,#6da8ce 51.5px,#aad0e4 52.5px,#d4e6f0 53.5px,#eaf1f4 54.5px,#f5f3f1 55.5px,#fae9e0 58.5px,#fbe6db 64.5px,#f9f0ea 70.5px,#f4f6f6 73.5px,#e0ecf3 80.5px,#e2edf3 87.5px,#f0f3f5 90.5px,#f6f1ee 91.5px,#fae6db 92.5px,#f9ccb6 93.5px,#ec9b80 94.5px,#c95a4b 95.5px,#8e292a 96.5px,#631b20 97.5px,#5c1a1f 98.5px,#5c1a1f 99.5px,#7d4448 100.5px,#dccecf 101.5px,#f6f7f7 102.5px,#f6f7f7 144.5px,#fafbfb 145.5px)"></i><i style="top:27px;background:linear-gradient(90deg,#fdfdfd 0.5px,#f6f7f7 1.5px,#f6f7f7 42.5px,#b7bdca 43.5px,#444d6e 44.5px,#2a3358 45.5px,#2a3358 46.5px,#2c3f69 47.5px,#3a6b9e 48.5px,#69a5cc 49.5px,#abd1e4 50.5px,#d8e8f1 51.5px,#eef2f4 52.5px,#f7f1ee 53.5px,#fbe6da 56.5px,#fce0cf 62.5px,#fbe5d8 67.5px,#f4f5f6 73.5px,#dbeaf2 79.5px,#d6e8f1 85.5px,#e0ecf3 90.5px,#ecf2f5 92.5px,#f4f2f1 93.5px,#f9e9e0 94.5px,#f9ceb9 95.5px,#eb997e 96.5px,#c35346 97.5px,#832527 98.5px,#5f1a1f 99.5px,#5e1a1f 101.5px,#a57c7e 102.5px,#efeaea 103.5px,#f6f7f7 104.5px,#f6f7f7 144.5px,#fafbfb 145.5px)"></i><i style="top:28px;background:linear-gradient(90deg,#fdfdfd 0.5px,#f6f7f7 1.5px,#f6f7f7 40.5px,#eaedf0 41.5px,#77829c 42.5px,#2a3459 43.5px,#2a3358 44.5px,#2b385f 45.5px,#345c8e 46.5px,#5c99c4 47.5px,#a1cbe2 48.5px,#d5e7f0 49.5px,#eef2f3 50.5px,#f7f1ed 51.5px,#fbe4d5 54.5px,#fcd7c1 61.5px,#fddbc8 65.5px,#faeae1 70.5px,#f3f5f6 73.5px,#d7e8f1 78.5px,#c9e1ee 84.5px,#d9e9f1 91.5px,#eaf1f5 94.5px,#f3f2f2 95.5px,#f9e8df 96.5px,#f8c9b2 97.5px,#e58b72 98.5px,#b3433c 99.5px,#741f23 100.5px,#5c1a1f 101.5px,#5c1a1f 102.5px,#77373b 103.5px,#dececf 104.5px,#f6f7f7 105.5px,#f6f7f7 144.5px,#fafbfb 145.5px)"></i><i style="top:29px;background:linear-gradient(90deg,#fdfdfd 0.5px,#f6f7f7 1.5px,#f6f7f7 39.5px,#d1d7e1 40.5px,#455276 41.5px,#2a3358 42.5px,#2a3459 43.5px,#2f4a79 44.5px,#4984b5 45.5px,#8bbeda 46.5px,#cce2ee 47.5px,#ebf1f4 48.5px,#f7f1ed 49.5px,#fce2d3 52.5px,#fac9b0 59.5px,#fac8af 63.5px,#fdd9c5 67.5px,#f8f2ef 72.5px,#f2f5f6 73.5px,#c2ddec 80.5px,#b7d8e8 84.5px,#bfdceb 88.5px,#e1edf3 95.5px,#eaf1f5 96.5px,#f4f2f0 97.5px,#fae4d7 98.5px,#f6baa1 99.5px,#d9725d 100.5px,#9a302f 101.5px,#651b20 102.5px,#5c1a1f 103.5px,#621b20 104.5px,#ba8b8e 105.5px,#f6f7f7 106.5px,#f6f7f7 144.5px,#fafbfb 145.5px)"></i><i style="top:30px;background:linear-gradient(90deg,#fdfdfd 0.5px,#f6f7f7 1.5px,#f6f7f7 38.5px,#acb9cd 39.5px,#2b3c65 40.5px,#2a3358 41.5px,#2b3b65 42.5px,#38679b 43.5px,#6ba7cd 44.5px,#b7d7e8 45.5px,#e3eef3 46.5px,#f5f2f0 47.5px,#fce2d2 50.5px,#f7b99c 58.5px,#f7b495 61.5px,#f8bb9e 64.5px,#fbcdb5 67.5px,#f8f1ed 72.5px,#f2f4f6 73.5px,#b1d5e7 80.5px,#a3cee3 83.5px,#a6cfe4 87.5px,#c3deec 92.5px,#e2edf3 97.5px,#edf2f5 98.5px,#f7efeb 99.5px,#fad8c6 100.5px,#ed9f85 101.5px,#c15045 102.5px,#7d2225 103.5px,#5d1a1f 104.5px,#5f1a1f 105.5px,#a46366 106.5px,#f1eaea 107.5px,#f6f7f7 108.5px,#f6f7f7 144.5px,#fafbfb 145.5px)"></i><i style="top:31px;background:linear-gradient(90deg,#fdfdfd 0.5px,#f6f7f7 1.5px,#f6f7f7 37.5px,#889fbf 38.5px,#2b3b64 39.5px,#2a355a 40.5px,#2f4d7d 41.5px,#4a87b8 42.5px,#92c2dc 43.5px,#d2e5ef 44.5px,#eff2f3 45.5px,#f8efe9 46.5px,#fcdecd 49.5px,#f6ae8e 56.5px,#f2a180 59.5px,#f2a180 62.5px,#f6b090 65.5px,#facbb3 68.5px,#f8f0eb 72.5px,#f1f4f6 73.5px,#a0cce2 80.5px,#8cc1dc 83.5px,#89c0db 86.5px,#9ecbe2 90.5px,#d7e8f1 97.5px,#f1f3f3 100.5px,#f9e8de 101.5px,#f7c1a8 102.5px,#dc7660 103.5px,#9f3130 104.5px,#681c21 105.5px,#5e1a1f 106.5px,#9b494d 107.5px,#eddede 108.5px,#f6f7f7 109.5px,#f6f7f7 144.5px,#fafbfb 145.5px)"></i><i style="top:32px;background:linear-gradient(90deg,#fdfdfd 0.5px,#f6f7f7 1.5px,#f6f7f7 35.5px,#ebf0f3 36.5px,#7d9abe 37.5px,#2c416d 38.5px,#2c3e68 39.5px,#36659a 40.5px,#62a1ca 41.5px,#b1d4e6 42.5px,#e2edf3 43.5px,#f5f2f0 44.5px,#fce0d0 47.5px,#f9c1a6 51.5px,#f19e7d 55.5px,#e88a6d 58.5px,#e7866a 61.5px,#ed9676 64.5px,#f5aa89 66.5px,#fbe5d8 71.5px,#f9efe9 72.5px,#f0f4f5 73.5px,#8ec2dc 80.5px,#71b0d3 83.5px,#6bacd1 86.5px,#7ab5d6 89.5px,#d3e6f0 98.5px,#ecf2f5 101.5px,#f7efeb 102.5px,#fad6c3 103.5px,#eb987d 104.5px,#bd4940 105.5px,#802125 106.5px,#691c21 107.5px,#9b3236 108.5px,#ead3d3 109.5px,#f6f7f7 110.5px,#f6f7f7 144.5px,#fafbfb 145.5px)"></i><i style="top:33px;background:linear-gradient(90deg,#fdfdfd 0.5px,#f6f7f7 1.5px,#f6f7f7 34.5px,#ebf0f3 35.5px,#5d8bba 36.5px,#2f5084 37.5px,#305185 38.5px,#407bb1 39.5px,#7db5d5 40.5px,#c7e0ed 41.5px,#ecf1f4 42.5px,#f8f0ec 43.5px,#fcdecc 46.5px,#f6ae8e 51.5px,#e58267 55.5px,#dc6e57 58.5px,#db6e57 61.5px,#e58267 64.5px,#f5aa88 67.5px,#fbe3d5 71.5px,#f9eee8 72.5px,#f0f3f5 73.5px,#bfdceb 76.5px,#6cadd1 81.5px,#519cc7 84.5px,#4f9ac6 87.5px,#62a7ce 90.5px,#bbdaea 97.5px,#d7e8f1 100.5px,#f4f2f1 103.5px,#fae2d5 104.5px,#f4b296 105.5px,#d26352 106.5px,#9e2b2d 107.5px,#832025 108.5px,#aa383a 109.5px,#ecd5d4 110.5px,#f6f7f7 111.5px,#f6f7f7 144.5px,#fafbfb 145.5px)"></i><i style="top:34px;background:linear-gradient(90deg,#fdfdfd 0.5px,#f6f7f7 1.5px,#f6f7f7 33.5px,#ebf1f4 34.5px,#6096c2 35.5px,#33629e 36.5px,#35659f 37.5px,#4d8ebf 38.5px,#95c5de 39.5px,#d4e7f0 40.5px,#f1f3f3 41.5px,#f9eee8 42.5px,#fcd4be 46.5px,#ee9777 51.5px,#dd7059 54.5px,#cf5a48 57.5px,#cd5646 60.5px,#d86751 63.5px,#ea8e70 66.5px,#f6b090 68.5px,#fce2d2 71.5px,#f9ede6 72.5px,#eff3f5 73.5px,#cee4ef 75.5px,#69abd0 80.5px,#4c98c5 82.5px,#438cbe 84.5px,#4188bb 87.5px,#4792c2 90.5px,#5aa2cb 92.5px,#a7d0e4 97.5px,#cde3ef 100.5px,#e5eff4 103.5px,#f1f3f4 104.5px,#f9e9e0 105.5px,#f8c3ab 106.5px,#e07c64 107.5px,#b63b37 108.5px,#a02529 109.5px,#bb4341 110.5px,#eed9d6 111.5px,#f6f7f7 112.5px,#f6f7f7 144.5px,#fafbfb 145.5px)"></i><i style="top:35px;background:linear-gradient(90deg,#fdfdfd 0.5px,#f6f7f7 1.5px,#f6f7f7 32.5px,#edf2f4 33.5px,#68a3ca 34.5px,#3a74af 35.5px,#3b78b1 36.5px,#5c9ec8 37.5px,#a7cfe4 38.5px,#ddebf2 39.5px,#f4f3f2 40.5px,#fce1d1 43.5px,#fcd2bb 45.5px,#f09d7d 49.5px,#d4624d 53.5px,#c2473e 56.5px,#be413a 59.5px,#c85042 62.5px,#d6654f 64.5px,#e68468 66.5px,#f5ab89 68.5px,#fce0d0 71.5px,#f9ede5 72.5px,#eff3f5 73.5px,#cbe2ee 75.5px,#5da3cc 80.5px,#4b97c5 81.5px,#4186bb 83.5px,#3c7ab2 86.5px,#3d7cb4 89.5px,#448ebf 92.5px,#4b97c4 93.5px,#7fb9d7 96.5px,#bfdceb 100.5px,#d4e7f1 102.5px,#eff3f5 105.5px,#f9eee7 106.5px,#facfb9 107.5px,#e99074 108.5px,#c74f43 109.5px,#b63533 110.5px,#ca584d 111.5px,#f1ddd9 112.5px,#f6f7f7 113.5px,#f6f7f7 144.5px,#fafbfb 145.5px)"></i><i style="top:36px;background:linear-gradient(90deg,#fdfdfd 0.5px,#f6f7f7 1.5px,#f6f7f7 32.5px,#81b7d6 33.5px,#4186ba 34.5px,#4388bb 35.5px,#6cacd0 36.5px,#b4d6e7 37.5px,#e2edf3 38.5px,#f5f3f2 39.5px,#fddbc8 43.5px,#f4a887 47.5px,#d6644f 51.5px,#bd4039 54.5px,#b22f30 57.5px,#b63433 60.5px,#c85042 63.5px,#da6c55 65.5px,#f4a786 68.5px,#fce0cf 71.5px,#f9ece5 72.5px,#eff3f5 73.5px,#cae1ee 75.5px,#6bacd1 79.5px,#559ec9 80.5px,#4691c1 81.5px,#3b78b1 84.5px,#366caa 87.5px,#3871ad 90.5px,#458ebf 94.5px,#4f9ac6 95.5px,#9ecbe1 99.5px,#cbe2ee 102.5px,#edf2f5 106.5px,#f8f0eb 107.5px,#fbd7c3 108.5px,#efa083 109.5px,#d46450 110.5px,#c74d41 111.5px,#d9705c 112.5px,#f3e2dd 113.5px,#f6f7f7 114.5px,#f6f7f7 144.5px,#fafbfb 145.5px)"></i><i style="top:37px;background:linear-gradient(90deg,#fdfdfd 0.5px,#f6f7f7 1.5px,#f6f7f7 31.5px,#a8cee2 32.5px,#509ac6 33.5px,#4f98c5 34.5px,#7db7d6 35.5px,#bddbea 36.5px,#e5eef4 37.5px,#f6f3f2 38.5px,#fddbc8 42.5px,#f7b697 45.5px,#ec9475 47.5px,#d15d4a 50.5px,#b63533 53.5px,#a9272b 55.5px,#a32529 57.5px,#af2b2d 60.5px,#c44b3f 63.5px,#d96852 65.5px,#f3a684 68.5px,#fce0cf 71.5px,#f9ece5 72.5px,#eff3f5 73.5px,#c9e1ed 75.5px,#81bad8 78.5px,#519cc7 80.5px,#448fbf 81.5px,#366ba9 85.5px,#335f9b 88.5px,#3567a5 91.5px,#4289bc 95.5px,#4995c3 96.5px,#9ccae1 100.5px,#cbe2ee 103.5px,#edf2f5 107.5px,#f7f1ed 108.5px,#fbdbca 109.5px,#f3ac8f 110.5px,#df775e 111.5px,#d76651 112.5px,#e78b72 113.5px,#f6ece8 114.5px,#f6f7f7 115.5px,#f6f7f7 144.5px,#fafbfb 145.5px)"></i><i style="top:38px;background:linear-gradient(90deg,#fdfdfd 0.5px,#f6f7f7 1.5px,#f6f7f7 30.5px,#cce2ec 31.5px,#73b1d3 32.5px,#67aacf 33.5px,#8dc1dc 34.5px,#c3deec 35.5px,#e6eff4 36.5px,#f6f3f2 37.5px,#fdddca 41.5px,#f7b799 44.5px,#ec9374 46.5px,#ce5948 49.5px,#b02d2f 52.5px,#9d2428 54.5px,#942327 56.5px,#992328 58.5px,#ab272b 60.5px,#c3483e 63.5px,#d86751 65.5px,#f3a583 68.5px,#fcdfcf 71.5px,#f9ece5 72.5px,#eff3f5 73.5px,#c9e1ed 75.5px,#80b9d8 78.5px,#509bc7 80.5px,#448ebf 81.5px,#33619d 86.5px,#31578e 88.5px,#31568d 90.5px,#3567a5 93.5px,#4792c2 97.5px,#59a1ca 98.5px,#9dcbe1 101.5px,#cde3ef 104.5px,#edf3f5 108.5px,#f7f1ee 109.5px,#fbdece 110.5px,#f6b699 111.5px,#e98b6e 112.5px,#e58367 113.5px,#f2b196 114.5px,#f6f3f1 115.5px,#f6f7f7 117.5px,#f6f7f7 144.5px,#fafbfb 145.5px)"></i><i style="top:39px;background:linear-gradient(90deg,#fdfdfd 0.5px,#f6f7f7 1.5px,#f6f7f7 29.5px,#e4eef3 30.5px,#96c7df 31.5px,#84bcd9 32.5px,#9ccae1 33.5px,#c8e0ed 34.5px,#e7eff4 35.5px,#f6f4f3 36.5px,#fcd6c0 41.5px,#f4a988 44.5px,#da6b54 47.5px,#b73734 50.5px,#ad2a2d 51.5px,#8e2227 54.5px,#8a2126 56.5px,#9e2429 59.5px,#a9262b 60.5px,#c3483e 63.5px,#d86751 65.5px,#f3a684 68.5px,#fce0cf 71.5px,#f9ece5 72.5px,#eff3f5 73.5px,#c9e1ed 75.5px,#81bad8 78.5px,#509bc7 80.5px,#448ebf 81.5px,#3467a6 85.5px,#305389 88.5px,#2f4f82 90.5px,#30548a 92.5px,#376eab 95.5px,#4792c2 98.5px,#5aa2cb 99.5px,#a0cce2 102.5px,#d0e5ef 105.5px,#eff3f5 109.5px,#f7f1ee 110.5px,#fbe0d1 111.5px,#f8bfa3 112.5px,#f1a080 113.5px,#f2a180 114.5px,#f7d0be 115.5px,#f6f7f7 116.5px,#f6f7f7 144.5px,#fafbfb 145.5px)"></i><i style="top:40px;background:linear-gradient(90deg,#fdfdfd 0.5px,#f6f7f7 1.5px,#f3f6f6 29.5px,#b8d8e9 30.5px,#a0cce2 31.5px,#abd2e5 32.5px,#cce3ee 33.5px,#e6eff4 34.5px,#f5f4f4 35.5px,#fdd9c5 40.5px,#f5ae8d 43.5px,#dc6e57 46.5px,#b83835 49.5px,#ad2a2d 50.5px,#932227 52.5px,#852026 54.5px,#882126 56.5px,#9f2429 59.5px,#aa272b 60.5px,#c44a3f 63.5px,#d96953 65.5px,#f4a786 68.5px,#fce0d0 71.5px,#f9ede5 72.5px,#eff3f5 73.5px,#cae1ee 75.5px,#83bbd9 78.5px,#529dc8 80.5px,#448fc0 81.5px,#3568a7 85.5px,#305388 88.5px,#2e4c7d 91.5px,#305387 93.5px,#376eab 96.5px,#4994c3 99.5px,#91c4dd 102.5px,#c7e0ed 105.5px,#dbeaf2 107.5px,#f0f4f6 110.5px,#f8f1ed 111.5px,#fbe2d3 112.5px,#fac7ae 113.5px,#f6b495 114.5px,#f8bb9e 115.5px,#f8e5db 116.5px,#f6f7f7 117.5px,#f6f7f7 144.5px,#fafbfb 145.5px)"></i><i style="top:41px;background:linear-gradient(90deg,#fdfdfd 0.5px,#f6f7f7 1.5px,#f6f7f7 28.5px,#bad9e9 30.5px,#bbdaea 31.5px,#e6eff4 33.5px,#f4f5f5 34.5px,#fdddcb 39.5px,#f9c4a9 41.5px,#f2a280 43.5px,#d4614c 46.5px,#b02d2f 49.5px,#952327 51.5px,#862026 53.5px,#892126 56.5px,#a22529 59.5px,#ad282c 60.5px,#c64d41 63.5px,#db6c56 65.5px,#f5aa88 68.5px,#fce1d1 71.5px,#f9ede6 72.5px,#eff3f5 73.5px,#cce2ee 75.5px,#86beda 78.5px,#569fc9 80.5px,#4692c1 81.5px,#33629f 86.5px,#2f5084 89.5px,#2f4c7e 92.5px,#30548a 94.5px,#3871ad 97.5px,#428abd 99.5px,#4e99c6 100.5px,#99c9e0 103.5px,#cde3ef 106.5px,#f2f4f6 111.5px,#f8f1ed 112.5px,#fbd1ba 114.5px,#fac7ad 115.5px,#fcd3bd 116.5px,#f7f3ef 117.5px,#f6f7f7 118.5px,#f6f7f7 144.5px,#fafbfb 145.5px)"></i><i style="top:42px;background:linear-gradient(90deg,#fdfdfd 0.5px,#f6f7f7 1.5px,#f6f7f7 27.5px,#ebf2f5 28.5px,#d2e6f0 29.5px,#cde3ef 30.5px,#f3f5f6 33.5px,#fce0d0 38.5px,#facbb3 40.5px,#f5ab8a 42.5px,#d96953 45.5px,#b53433 48.5px,#ab272b 49.5px,#932227 51.5px,#882126 54.5px,#952327 57.5px,#a8262a 59.5px,#b83835 61.5px,#d4614d 64.5px,#ef9a79 67.5px,#f8bfa4 69.5px,#fce1d2 71.5px,#f9ede6 72.5px,#eff3f5 73.5px,#cde3ef 75.5px,#74b1d4 79.5px,#4996c4 81.5px,#3466a5 86.5px,#305489 89.5px,#2f4f81 92.5px,#305388 94.5px,#366ba9 97.5px,#4691c1 100.5px,#59a1ca 101.5px,#8dc2dc 103.5px,#c6dfed 106.5px,#dbeaf2 108.5px,#f4f5f6 112.5px,#f8f0ec 113.5px,#fcdbc8 115.5px,#fddbc7 116.5px,#fbe6da 117.5px,#f6f7f7 118.5px,#f6f7f7 144.5px,#fafbfb 145.5px)"></i><i style="top:43px;background:linear-gradient(90deg,#fdfdfd 0.5px,#f6f7f7 1.5px,#f4f6f7 27.5px,#e3eef3 28.5px,#dbeaf2 29.5px,#deebf2 30.5px,#f2f5f6 32.5px,#f9ede5 35.5px,#fddecc 38.5px,#f9c5ab 40.5px,#f3a381 42.5px,#d4624d 45.5px,#b33030 48.5px,#a9262b 49.5px,#972327 51.5px,#8f2227 54.5px,#9d2428 57.5px,#af2a2d 59.5px,#cf5948 63.5px,#e98b6e 66.5px,#f6b192 68.5px,#fcd5c0 70.5px,#f9eee7 72.5px,#f0f3f5 73.5px,#d0e4ef 75.5px,#7bb6d6 79.5px,#509bc7 81.5px,#448fc0 82.5px,#3464a2 87.5px,#31558b 90.5px,#305389 93.5px,#325a93 95.5px,#3973ae 98.5px,#438bbd 100.5px,#4f9ac6 101.5px,#9ac9e0 104.5px,#cfe4ef 107.5px,#eaf1f5 111.5px,#f5f5f5 113.5px,#fbe4d6 116.5px,#fbe6da 117.5px,#f8f1ed 118.5px,#f6f7f7 119.5px,#f6f7f7 144.5px,#fafbfb 145.5px)"></i><i style="top:44px;background:linear-gradient(90deg,#fdfdfd 0.5px,#f6f7f7 1.5px,#f6f7f7 26.5px,#e8f0f4 28.5px,#e6eff4 29.5px,#f7f5f4 32.5px,#fce2d3 37.5px,#fbd0b9 39.5px,#f09d7c 42.5px,#d25d4a 45.5px,#b33131 48.5px,#ad282c 49.5px,#9a2428 52.5px,#9c2428 55.5px,#af2a2d 58.5px,#cb5445 62.5px,#e48166 65.5px,#f4a684 67.5px,#fcd8c3 70.5px,#f9eee8 72.5px,#f0f3f5 73.5px,#bfdceb 76.5px,#83bcd9 79.5px,#4995c3 82.5px,#366ba9 87.5px,#325992 91.5px,#325b95 94.5px,#3973ae 98.5px,#4a96c4 101.5px,#94c6de 104.5px,#cbe2ee 107.5px,#e4eef4 110.5px,#f6f6f5 114.5px,#f9ede5 116.5px,#f9ece4 117.5px,#f6f6f6 119.5px,#f6f7f7 144.5px,#fafbfb 145.5px)"></i><i style="top:45px;background:linear-gradient(90deg,#fdfdfd 0.5px,#f6f7f7 1.5px,#f6f7f7 26.5px,#eff3f6 29.5px,#f8f4f2 32.5px,#fbe7db 36.5px,#fddac7 38.5px,#f5ad8c 41.5px,#dc6e58 44.5px,#c64e41 46.5px,#b22f30 49.5px,#a5262a 52.5px,#a8262b 55.5px,#b63533 58.5px,#d25e4b 62.5px,#e88b6d 65.5px,#f8bb9f 68.5px,#fcdbc7 70.5px,#f9efe9 72.5px,#f0f4f5 73.5px,#c4deec 76.5px,#79b5d5 80.5px,#539dc8 82.5px,#4692c2 83.5px,#376daa 88.5px,#33609d 92.5px,#356aa8 96.5px,#3e7eb5 99.5px,#4995c4 101.5px,#90c4dd 104.5px,#c9e1ed 107.5px,#e3eef4 110.5px,#f7f6f5 115.5px,#f8f2ef 117.5px,#f6f7f7 121.5px,#f6f7f7 144.5px,#fafbfb 145.5px)"></i><i style="top:46px;background:linear-gradient(90deg,#fdfdfd 0.5px,#f6f7f7 1.5px,#f7f5f5 31.5px,#faebe3 35.5px,#fddac6 38.5px,#f5ad8c 41.5px,#dd7059 44.5px,#ca5344 46.5px,#b83835 49.5px,#b02c2e 52.5px,#b22f30 55.5px,#c3493f 59.5px,#d96953 62.5px,#f3a583 66.5px,#fdddcb 70.5px,#f9efea 72.5px,#f1f4f5 73.5px,#c9e1ed 76.5px,#84bcd9 80.5px,#509bc7 83.5px,#4591c1 84.5px,#3871ad 89.5px,#356aa8 93.5px,#3a76b0 97.5px,#438cbe 100.5px,#4b97c5 101.5px,#a4cee3 105.5px,#c8e0ed 107.5px,#dceaf2 109.5px,#f0f4f6 113.5px,#f6f6f6 118.5px,#f6f7f7 144.5px,#fafbfb 145.5px)"></i><i style="top:47px;background:linear-gradient(90deg,#fdfdfd 0.5px,#f6f7f7 1.5px,#f6f7f7 24.5px,#f8f1ee 26.5px,#f6f7f7 29.5px,#f9f0ea 34.5px,#fce2d3 37.5px,#fbceb6 39.5px,#f09d7c 42.5px,#d86852 45.5px,#c44a3f 48.5px,#b93a36 51.5px,#b93936 54.5px,#c74e41 58.5px,#d96953 61.5px,#f2a07e 65.5px,#fcdfce 70.5px,#f8f0eb 72.5px,#f1f4f6 73.5px,#bedbea 77.5px,#7fb9d7 81.5px,#509bc7 84.5px,#438bbd 86.5px,#3a74af 91.5px,#3a76b0 95.5px,#428abd 99.5px,#4692c1 100.5px,#539dc8 101.5px,#a6cfe4 105.5px,#cae1ee 107.5px,#e4eef4 110.5px,#f5f6f7 115.5px,#f3f5f6 118.5px,#eef3f5 120.5px,#f6f7f7 121.5px,#f6f7f7 144.5px,#fafbfb 145.5px)"></i><i style="top:48px;background:linear-gradient(90deg,#fdfdfd 0.5px,#f6f7f7 1.5px,#f6f6f5 24.5px,#faebe2 25.5px,#f9ece4 26.5px,#f7f6f5 28.5px,#f7f5f4 32.5px,#f9eee7 35.5px,#fdddcb 38.5px,#f7b495 41.5px,#ec9274 43.5px,#d96852 46.5px,#c54b40 50.5px,#c1463d 53.5px,#cc5545 57.5px,#db6d56 60.5px,#f5aa88 65.5px,#fddac5 69.5px,#f8f1ec 72.5px,#f1f4f6 73.5px,#c5dfec 77.5px,#7db7d7 82.5px,#539dc8 85.5px,#448fbf 87.5px,#3d7db4 92.5px,#3f83b8 96.5px,#4793c2 99.5px,#5fa5cd 101.5px,#acd2e5 105.5px,#cde3ef 107.5px,#ebf1f5 111.5px,#f6f7f6 116.5px,#f1f4f6 118.5px,#e4eef4 120.5px,#f6f7f7 122.5px,#f6f7f7 144.5px,#fafbfb 145.5px)"></i><i style="top:49px;background:linear-gradient(90deg,#fdfdfd 0.5px,#f6f7f7 1.5px,#f6f7f7 23.5px,#fbe3d4 25.5px,#f7f6f5 28.5px,#f5f6f6 32.5px,#f8f0eb 35.5px,#fce0d0 38.5px,#facbb2 40.5px,#f19f7e 43.5px,#e0775f 46.5px,#d35f4b 49.5px,#cc5545 52.5px,#d25e4b 56.5px,#e27c62 60.5px,#f5a987 64.5px,#fdddcb 69.5px,#f8f1ed 72.5px,#f2f4f6 73.5px,#bedbeb 78.5px,#71b0d3 84.5px,#4f9ac6 87.5px,#438cbe 90.5px,#4288bc 94.5px,#4b97c5 98.5px,#71b0d3 101.5px,#c5dfec 106.5px,#dceaf2 108.5px,#f3f5f6 112.5px,#f6f6f6 117.5px,#e5eff4 119.5px,#dbeaf2 120.5px,#ddebf2 121.5px,#f6f7f7 122.5px,#f6f7f7 144.5px,#fafbfb 145.5px)"></i><i style="top:50px;background:linear-gradient(90deg,#fdfdfd 0.5px,#f6f7f7 1.5px,#f6f7f7 23.5px,#fcdecc 24.5px,#fddbc9 25.5px,#f8f1ed 27.5px,#f5f6f6 28.5px,#f1f4f6 32.5px,#f7f4f2 35.5px,#fcdecd 39.5px,#f2a180 44.5px,#df755e 48.5px,#d86751 51.5px,#d96a53 55.5px,#e58368 59.5px,#f5aa88 63.5px,#fce0cf 69.5px,#f8f2ee 72.5px,#f2f5f6 73.5px,#c6dfed 78.5px,#62a7ce 87.5px,#4d98c5 90.5px,#4894c3 94.5px,#559ec9 97.5px,#76b3d5 100.5px,#d0e4ef 106.5px,#eff3f6 110.5px,#f7f4f2 113.5px,#f7f6f5 117.5px,#f1f4f6 118.5px,#d5e7f1 120.5px,#cde3ef 121.5px,#e8f0f4 122.5px,#f6f7f7 123.5px,#f6f7f7 144.5px,#fafbfb 145.5px)"></i><i style="top:51px;background:linear-gradient(90deg,#fdfdfd 0.5px,#f6f7f7 1.5px,#f6f7f7 22.5px,#f8e8df 23.5px,#fac9b0 24.5px,#fcd4bf 25.5px,#fbe7db 26.5px,#f8f3f0 27.5px,#f3f5f6 28.5px,#edf2f5 33.5px,#f6f5f4 36.5px,#fcdecd 40.5px,#f4a785 45.5px,#e8896c 48.5px,#e17960 51.5px,#e17860 54.5px,#e98c6e 58.5px,#f5ac8b 62.5px,#fdddcb 68.5px,#f8f2ef 72.5px,#f3f5f6 73.5px,#c4deec 79.5px,#6daed2 88.5px,#5da4cc 91.5px,#5ba3cb 94.5px,#6bacd1 97.5px,#a5cfe4 102.5px,#d9e9f1 106.5px,#f6f5f4 110.5px,#f8f1ed 114.5px,#f4f5f6 118.5px,#e7eff4 119.5px,#bbdaea 121.5px,#cce2ee 122.5px,#f6f7f7 123.5px,#f6f7f7 144.5px,#fafbfb 145.5px)"></i><i style="top:52px;background:linear-gradient(90deg,#fdfdfd 0.5px,#f6f7f7 1.5px,#f6f7f7 22.5px,#f7cbb6 23.5px,#f7b99c 24.5px,#fae9e0 26.5px,#f6f5f4 27.5px,#e9f1f5 31.5px,#e9f1f5 35.5px,#f2f4f5 37.5px,#f9ede7 39.5px,#fbcdb5 43.5px,#f4a684 47.5px,#eb9172 50.5px,#e88a6d 53.5px,#ee9777 57.5px,#f6b191 61.5px,#fce0d0 68.5px,#f3f5f6 73.5px,#c3deec 80.5px,#7bb6d6 89.5px,#71b0d3 92.5px,#76b3d4 95.5px,#8cc1dc 98.5px,#dbeaf2 105.5px,#f5f4f4 108.5px,#f9ede6 111.5px,#f8f0ec 116.5px,#f6f5f4 118.5px,#ebf1f5 119.5px,#d3e6f0 120.5px,#afd4e6 121.5px,#a7d0e4 122.5px,#e9f1f4 123.5px,#f6f7f7 124.5px,#f6f7f7 144.5px,#fafbfb 145.5px)"></i><i style="top:53px;background:linear-gradient(90deg,#fdfdfd 0.5px,#f6f7f7 1.5px,#f6f7f7 21.5px,#f6eeea 22.5px,#f4a887 23.5px,#f6af8f 24.5px,#fbd5c0 25.5px,#f9ede7 26.5px,#f4f5f6 27.5px,#e2edf3 32.5px,#e2edf3 36.5px,#f3f4f4 39.5px,#fcddcb 43.5px,#f7b89a 47.5px,#f3a583 50.5px,#f19f7d 54.5px,#f5ac8b 58.5px,#fcdfcf 67.5px,#f3f5f6 73.5px,#c4deec 81.5px,#94c6de 88.5px,#87beda 92.5px,#8dc2dc 95.5px,#abd2e5 99.5px,#e0ecf3 104.5px,#f3f4f4 106.5px,#fae9e0 109.5px,#fae7dc 112.5px,#f8f3f1 118.5px,#f0f4f6 119.5px,#d8e8f1 120.5px,#abd2e5 121.5px,#8fc3dd 122.5px,#f6f7f7 124.5px,#f6f7f7 144.5px,#fafbfb 145.5px)"></i><i style="top:54px;background:linear-gradient(90deg,#fdfdfd 0.5px,#f6f7f7 1.5px,#f6f7f7 21.5px,#f3c6b4 22.5px,#eb8f71 23.5px,#f5ac8d 24.5px,#fbdbca 25.5px,#f8f2ee 26.5px,#f0f4f6 27.5px,#d7e8f1 34.5px,#d9e9f1 37.5px,#ecf2f5 40.5px,#f4f3f3 41.5px,#fcdbc8 45.5px,#f8bb9f 49.5px,#f6b090 52.5px,#f6b293 56.5px,#faccb4 62.5px,#fce3d4 67.5px,#f4f5f6 73.5px,#c7e0ed 82.5px,#a4cee3 88.5px,#9bcae1 92.5px,#a2cde3 95.5px,#b7d8e8 98.5px,#f0f3f5 104.5px,#f9ece4 106.5px,#fce1d1 109.5px,#fce2d2 112.5px,#f8f1ed 118.5px,#f4f5f5 119.5px,#dfecf3 120.5px,#7db7d7 122.5px,#88beda 123.5px,#f6f7f7 124.5px,#f6f7f7 144.5px,#fafbfb 145.5px)"></i><i style="top:55px;background:linear-gradient(90deg,#fdfdfd 0.5px,#f6f7f7 1.5px,#f6f7f7 21.5px,#e8937b 22.5px,#e37e64 23.5px,#f5b193 24.5px,#fbe3d5 25.5px,#f5f4f3 26.5px,#e2edf3 29.5px,#c9e1ed 35.5px,#cfe4ef 38.5px,#eef3f5 42.5px,#f6f3f1 43.5px,#fcd4be 48.5px,#f9c3a8 51.5px,#f8bea2 55.5px,#fbccb4 60.5px,#fbe6d9 67.5px,#f4f6f6 73.5px,#c0dceb 85.5px,#aed3e6 90.5px,#b1d5e7 94.5px,#cce2ee 98.5px,#edf2f5 102.5px,#f6f3f1 103.5px,#fcddca 107.5px,#fcd6c0 110.5px,#fbe5d7 115.5px,#f7f4f2 119.5px,#e7f0f4 120.5px,#bad9e9 121.5px,#74b2d4 122.5px,#5fa5cd 123.5px,#d0e3ed 124.5px,#f6f7f7 125.5px,#f6f7f7 144.5px,#fafbfb 145.5px)"></i><i style="top:56px;background:linear-gradient(90deg,#fdfdfd 0.5px,#f6f7f7 1.5px,#f6f7f7 20.5px,#f3e1dc 21.5px,#d96953 22.5px,#df765d 23.5px,#f8bca0 24.5px,#faeae0 25.5px,#f2f4f6 26.5px,#d8e9f1 30.5px,#b7d8e9 35.5px,#b6d7e8 37.5px,#cce3ee 40.5px,#f1f3f5 44.5px,#faebe3 46.5px,#fcd3bd 51.5px,#faccb4 54.5px,#fbd0b9 58.5px,#f7f5f3 72.5px,#e5eff4 77.5px,#bddbea 90.5px,#c4deec 94.5px,#e2edf3 99.5px,#f4f3f3 101.5px,#fcdcc9 105.5px,#fac7ae 108.5px,#f9c6ac 110.5px,#fcd5c0 113.5px,#f8f1ed 119.5px,#eef3f5 120.5px,#c7e0ed 121.5px,#77b4d4 122.5px,#4893c2 123.5px,#96c2dc 124.5px,#f6f7f7 125.5px,#f6f7f7 144.5px,#fafbfb 145.5px)"></i><i style="top:57px;background:linear-gradient(90deg,#fdfdfd 0.5px,#f6f7f7 1.5px,#f6f7f7 20.5px,#e6a89c 21.5px,#c95244 22.5px,#e0785f 23.5px,#fac9b0 24.5px,#f8efea 25.5px,#eef3f5 26.5px,#c9e1ee 31.5px,#abd2e5 34.5px,#a2cde3 36.5px,#a6cfe4 38.5px,#eaf1f5 45.5px,#f3f4f4 46.5px,#fce2d3 50.5px,#fdd9c5 54.5px,#fddcc9 59.5px,#f5f6f6 73.5px,#cde3ef 88.5px,#d0e5ef 93.5px,#e2edf3 97.5px,#f2f4f5 99.5px,#fbe4d6 102.5px,#f8ba9d 107.5px,#f7b495 109.5px,#f8ba9d 111.5px,#fce1d1 116.5px,#f9efe8 119.5px,#f4f4f4 120.5px,#d4e6f0 121.5px,#82bad8 122.5px,#4289bc 123.5px,#5397c4 124.5px,#f6f7f7 125.5px,#f6f7f7 144.5px,#fafbfb 145.5px)"></i><i style="top:58px;background:linear-gradient(90deg,#fdfdfd 0.5px,#f6f7f7 1.5px,#f6f7f7 20.5px,#d27166 21.5px,#bf423b 22.5px,#e48267 23.5px,#fbd5c1 24.5px,#f6f3f1 25.5px,#e2edf3 27.5px,#cbe2ee 30.5px,#9ac9e0 34.5px,#8dc2dc 36.5px,#91c4dd 38.5px,#bad9e9 42.5px,#dbeaf2 45.5px,#f5f4f3 48.5px,#fbe5d7 52.5px,#fce0cf 57.5px,#faebe2 66.5px,#f5f6f6 73.5px,#d6e8f1 87.5px,#dbeaf2 93.5px,#f0f4f5 97.5px,#f7f3f1 98.5px,#fcd8c4 102.5px,#f6b090 106.5px,#f3a482 108.5px,#f3a583 110.5px,#f6b394 112.5px,#fddcca 116.5px,#f9ece4 119.5px,#f7f3f1 120.5px,#dfecf3 121.5px,#93c4dd 122.5px,#4286ba 123.5px,#3d7db4 124.5px,#d5e4ed 125.5px,#f6f7f7 126.5px,#f6f7f7 144.5px,#fafbfb 145.5px)"></i><i style="top:59px;background:linear-gradient(90deg,#fdfdfd 0.5px,#f6f7f7 1.5px,#f6f7f7 19.5px,#f4edec 20.5px,#ba3b37 21.5px,#ba3b37 22.5px,#e99074 23.5px,#fbe0d0 24.5px,#f2f4f4 25.5px,#deebf2 27.5px,#cee3ef 29.5px,#86beda 34.5px,#76b3d4 36.5px,#79b5d6 38.5px,#b2d5e7 43.5px,#d7e8f1 46.5px,#f0f4f5 49.5px,#f9f0ea 51.5px,#fbe6da 55.5px,#fbe7db 61.5px,#f5f6f7 73.5px,#ddebf2 87.5px,#e1edf3 92.5px,#f5f4f3 96.5px,#fcddca 100.5px,#f4a786 105.5px,#eb8f71 108.5px,#ec9273 110.5px,#f3a483 112.5px,#fcd6c1 116.5px,#f8f1ec 120.5px,#e8f0f4 121.5px,#a6cee3 122.5px,#4589bb 123.5px,#366ca9 124.5px,#9bbdd8 125.5px,#f6f7f7 126.5px,#f6f7f7 144.5px,#fafbfb 145.5px)"></i><i style="top:60px;background:linear-gradient(90deg,#fdfdfd 0.5px,#f6f7f7 1.5px,#f6f7f7 19.5px,#e5bfbd 20.5px,#a3272b 21.5px,#b93c37 22.5px,#efa185 23.5px,#fae8dd 24.5px,#eef3f5 25.5px,#c6dfed 29.5px,#71b0d3 34.5px,#5fa5cc 36.5px,#63a7ce 38.5px,#84bcd9 41.5px,#d4e7f0 47.5px,#f3f5f5 51.5px,#faeae1 56.5px,#f9ece3 63.5px,#f3f5f6 74.5px,#e2edf3 87.5px,#eaf1f5 92.5px,#f4f5f5 94.5px,#fce1d2 98.5px,#f9c3a8 101.5px,#f2a07f 104.5px,#e48167 107.5px,#e17a61 109.5px,#e7866a 111.5px,#f2a281 113.5px,#fddac6 117.5px,#f9eee7 120.5px,#eff2f4 121.5px,#b8d8e8 122.5px,#4d90c0 123.5px,#335e9a 124.5px,#6894bf 125.5px,#f6f7f7 126.5px,#f6f7f7 144.5px,#fafbfb 145.5px)"></i><i style="top:61px;background:linear-gradient(90deg,#fdfdfd 0.5px,#f6f7f7 1.5px,#f6f7f7 19.5px,#d39394 20.5px,#8a2126 21.5px,#bd433b 22.5px,#f4b397 23.5px,#f9eee7 24.5px,#eaf1f5 25.5px,#cde3ee 28.5px,#83bbd9 32.5px,#5da3cc 34.5px,#509bc7 35.5px,#4a96c4 37.5px,#569fc9 39.5px,#7db8d7 42.5px,#c7e0ed 47.5px,#e9f0f5 51.5px,#f8f3f1 54.5px,#f9ede6 59.5px,#f4f5f6 74.5px,#e8f0f4 87.5px,#f3f5f6 92.5px,#faebe2 95.5px,#fcd8c4 98.5px,#f09b7b 103.5px,#e0775f 106.5px,#d96a53 108.5px,#da6c55 110.5px,#e58267 112.5px,#f3a584 114.5px,#fcd4be 117.5px,#faebe3 120.5px,#f3f3f3 121.5px,#c7e0ed 122.5px,#599ac6 123.5px,#31578d 124.5px,#406a9f 125.5px,#f6f7f7 126.5px,#f6f7f7 144.5px,#fafbfb 145.5px)"></i><i style="top:62px;background:linear-gradient(90deg,#fdfdfd 0.5px,#f6f7f7 1.5px,#f6f7f7 19.5px,#b25b5d 20.5px,#791f24 21.5px,#c44d42 22.5px,#f8c2a9 23.5px,#f6f1ee 24.5px,#e6eff4 25.5px,#c6dfed 28.5px,#89c0db 31.5px,#5ba2cb 33.5px,#4b97c4 34.5px,#438bbd 36.5px,#4793c2 39.5px,#5ba2cb 41.5px,#aad1e5 46.5px,#d2e6f0 49.5px,#f2f5f6 54.5px,#f8f1ed 58.5px,#f8f3f0 68.5px,#f1f4f6 76.5px,#ecf2f5 87.5px,#f6f5f4 91.5px,#fcdfcf 96.5px,#fbcdb5 98.5px,#ef9979 102.5px,#dd7059 105.5px,#d05b49 108.5px,#d15c4a 110.5px,#dd715a 112.5px,#f5ac8b 115.5px,#fddbc7 118.5px,#fae9df 120.5px,#f7f2f0 121.5px,#d4e6f0 122.5px,#68a6cd 123.5px,#315489 124.5px,#2f4d7f 125.5px,#dee6ee 126.5px,#f6f7f7 127.5px,#f6f7f7 144.5px,#fafbfb 145.5px)"></i><i style="top:63px;background:linear-gradient(90deg,#fdfdfd 0.5px,#f6f7f7 1.5px,#f6f7f7 19.5px,#8b2e33 20.5px,#701d22 21.5px,#cd5a4b 22.5px,#facfb9 23.5px,#f3f3f2 24.5px,#e3eef3 25.5px,#cfe4ef 27.5px,#95c6df 30.5px,#4b97c5 33.5px,#4084b9 35.5px,#3f81b7 37.5px,#448fbf 40.5px,#4a97c4 41.5px,#9dcbe1 46.5px,#d2e6f0 50.5px,#f4f5f6 56.5px,#f8f2ee 63.5px,#f1f4f6 77.5px,#f1f4f6 87.5px,#f7f4f2 90.5px,#fce0cf 95.5px,#fbceb6 97.5px,#ef9979 101.5px,#db6d57 104.5px,#ca5244 107.5px,#c44a3f 109.5px,#cc5646 111.5px,#df745d 113.5px,#f2a180 115.5px,#fcd6c1 118.5px,#f8f1ec 121.5px,#deebf2 122.5px,#78b2d3 123.5px,#31568a 124.5px,#2b3b64 125.5px,#b9c8da 126.5px,#f6f7f7 127.5px,#f6f7f7 144.5px,#fafbfb 145.5px)"></i><i style="top:64px;background:linear-gradient(90deg,#fdfdfd 0.5px,#f6f7f7 1.5px,#f6f7f7 18.5px,#f1eaea 19.5px,#6e1d22 20.5px,#711d22 21.5px,#d56956 22.5px,#fad9c7 23.5px,#f0f3f4 24.5px,#d6e8f1 26.5px,#cae1ee 27.5px,#89bfdb 30.5px,#529cc7 32.5px,#448dbf 33.5px,#3c7bb3 35.5px,#3b77b1 37.5px,#438dbe 41.5px,#4a96c4 42.5px,#a0cce2 47.5px,#cbe2ee 50.5px,#e6eff4 54.5px,#f7f6f5 59.5px,#f7f4f2 67.5px,#f1f4f6 80.5px,#f7f5f4 88.5px,#fbe5d9 93.5px,#fddbc8 95.5px,#f5ac8b 99.5px,#db6d57 103.5px,#c64d41 106.5px,#bc3d38 109.5px,#c3493e 111.5px,#d86852 113.5px,#f5ad8c 116.5px,#fbd1ba 118.5px,#f9eee7 121.5px,#e6eff4 122.5px,#89bdda 123.5px,#335b8f 124.5px,#2a3459 125.5px,#93a4be 126.5px,#f6f7f7 127.5px,#f6f7f7 144.5px,#fafbfb 145.5px)"></i><i style="top:65px;background:linear-gradient(90deg,#fdfdfd 0.5px,#f6f7f7 1.5px,#f6f7f7 18.5px,#ddc2c3 19.5px,#611b20 20.5px,#751e23 21.5px,#dd7862 22.5px,#fae0d2 23.5px,#edf2f5 24.5px,#c5dfec 27.5px,#9ac9e0 29.5px,#60a5cd 31.5px,#4893c2 32.5px,#3c79b2 34.5px,#376eab 36.5px,#3b77b1 39.5px,#448ebf 42.5px,#4c98c5 43.5px,#97c7df 47.5px,#cfe4ef 51.5px,#ebf1f5 56.5px,#f7f5f4 62.5px,#f4f6f6 84.5px,#f8f3f0 88.5px,#fce2d3 93.5px,#fcd5bf 95.5px,#f3a381 99.5px,#d5634e 103.5px,#bf413a 106.5px,#b43232 109.5px,#b53433 110.5px,#c44a3f 112.5px,#d15c4a 113.5px,#f3a584 116.5px,#faccb4 118.5px,#fddbc7 119.5px,#f9ece4 121.5px,#ebf1f4 122.5px,#9ac7df 123.5px,#356296 124.5px,#2a3358 125.5px,#6c7d9e 126.5px,#f6f7f7 127.5px,#f6f7f7 144.5px,#fafbfb 145.5px)"></i><i style="top:66px;background:linear-gradient(90deg,#fdfdfd 0.5px,#f6f7f7 1.5px,#f6f7f7 18.5px,#caa6a8 19.5px,#5c1a1f 20.5px,#7b1f24 21.5px,#e3866e 22.5px,#fae6db 23.5px,#eaf1f5 24.5px,#c0dceb 27.5px,#92c5de 29.5px,#549ec8 31.5px,#438cbe 32.5px,#3972ae 34.5px,#3467a5 36.5px,#3870ac 39.5px,#4591c1 43.5px,#529dc8 44.5px,#9ecbe2 48.5px,#c9e1ed 51.5px,#e4eef4 55.5px,#f5f6f7 61.5px,#f7f6f5 85.5px,#faebe3 90.5px,#fddac5 94.5px,#f5aa88 98.5px,#d86751 102.5px,#b73735 106.5px,#ad282c 109.5px,#ae2a2d 110.5px,#bd4039 112.5px,#d86852 114.5px,#f09d7c 116.5px,#fac7ae 118.5px,#fcd8c3 119.5px,#faeae0 121.5px,#eff2f3 122.5px,#a8cfe4 123.5px,#386a9d 124.5px,#2a3358 125.5px,#5e6b8a 126.5px,#f6f7f7 127.5px,#f6f7f7 144.5px,#fafbfb 145.5px)"></i><i style="top:67px;background:linear-gradient(90deg,#fdfdfd 0.5px,#f6f7f7 1.5px,#f6f7f7 18.5px,#b38a8d 19.5px,#5c1a1f 20.5px,#802326 21.5px,#e89278 22.5px,#f9ebe2 23.5px,#e8f0f4 24.5px,#cee4ef 26.5px,#a5cfe3 28.5px,#6aacd0 30.5px,#4c97c5 31.5px,#3a77b1 33.5px,#3362a0 35.5px,#335f9a 36.5px,#356aa8 39.5px,#438bbd 43.5px,#4a97c4 44.5px,#98c8e0 48.5px,#cfe4ef 52.5px,#e9f1f5 57.5px,#f6f7f6 64.5px,#f7f5f5 84.5px,#f9ede5 89.5px,#fdddcb 93.5px,#f8bea3 96.5px,#f3a482 98.5px,#d3604c 102.5px,#b83835 105.5px,#ac282c 107.5px,#a22529 109.5px,#a4252a 110.5px,#ad292c 111.5px,#c4493f 113.5px,#d3604c 114.5px,#ed9676 116.5px,#f9c3a8 118.5px,#fcd5bf 119.5px,#fae8de 121.5px,#f2f2f2 122.5px,#b3d5e7 123.5px,#3c72a5 124.5px,#2a3358 125.5px,#445174 126.5px,#f6f7f7 127.5px,#f6f7f7 144.5px,#fafbfb 145.5px)"></i><i style="top:68px;background:linear-gradient(90deg,#fdfdfd 0.5px,#f6f7f7 1.5px,#f6f7f7 18.5px,#ad898c 19.5px,#5c1a1f 20.5px,#862628 21.5px,#ec9c82 22.5px,#f8ede6 23.5px,#e6eff4 24.5px,#cce2ee 26.5px,#a0cce2 28.5px,#4792c1 31.5px,#3465a2 34.5px,#325b95 35.5px,#325890 36.5px,#325d99 38.5px,#4187bb 43.5px,#4692c1 44.5px,#6aacd1 46.5px,#a2cee3 49.5px,#cce2ee 52.5px,#e4eef4 56.5px,#f4f6f6 63.5px,#f7f5f5 83.5px,#faebe3 89.5px,#fddbc8 93.5px,#f5ad8c 97.5px,#d96953 101.5px,#b43231 105.5px,#ad282c 106.5px,#982328 109.5px,#9a2428 110.5px,#a4252a 111.5px,#b22e30 112.5px,#ce5948 114.5px,#f5aa89 117.5px,#fcd2bb 119.5px,#fbe7dc 121.5px,#f4f2f1 122.5px,#bcdae9 123.5px,#4179ac 124.5px,#2a3358 125.5px,#2b385f 126.5px,#f6f7f7 127.5px,#f6f7f7 144.5px,#fafbfb 145.5px)"></i><i style="top:69px;background:linear-gradient(90deg,#fdfdfd 0.5px,#f6f7f7 1.5px,#f6f7f7 18.5px,#936064 19.5px,#5c1a1f 20.5px,#8c282a 21.5px,#efa48a 22.5px,#f7efe9 23.5px,#e4eef4 24.5px,#c9e1ee 26.5px,#9ccae1 28.5px,#5ba3cb 30.5px,#448ebf 31.5px,#366caa 33.5px,#31568d 35.5px,#305389 36.5px,#325891 38.5px,#386fac 41.5px,#448ebf 44.5px,#509bc7 45.5px,#9fcce2 49.5px,#c9e1ed 52.5px,#deebf2 55.5px,#f1f4f6 61.5px,#f6f7f7 73.5px,#f8f4f2 84.5px,#faeae1 89.5px,#fdd9c5 93.5px,#f5aa88 97.5px,#d6644f 101.5px,#b02c2e 105.5px,#9c2428 107.5px,#912227 109.5px,#922227 110.5px,#9c2428 111.5px,#ad292c 112.5px,#ca5344 114.5px,#e88a6d 116.5px,#f4a785 117.5px,#fbd0b8 119.5px,#fbe6da 121.5px,#f6f2ef 122.5px,#c3deec 123.5px,#467fb0 124.5px,#2a3358 125.5px,#2a355b 126.5px,#f6f7f7 127.5px,#f6f7f7 144.5px,#fafbfb 145.5px)"></i><i style="top:70px;background:linear-gradient(90deg,#fdfdfd 0.5px,#f6f7f7 1.5px,#f6f7f7 18.5px,#895256 19.5px,#5c1a1f 20.5px,#902a2b 21.5px,#f1aa90 22.5px,#f7f0eb 23.5px,#e3eef3 24.5px,#c8e0ed 26.5px,#99c9e0 28.5px,#579fc9 30.5px,#428abd 31.5px,#3569a7 33.5px,#305287 35.5px,#2f5083 36.5px,#31558b 38.5px,#366caa 41.5px,#438bbe 44.5px,#4c98c5 45.5px,#9ccae1 49.5px,#c6dfed 52.5px,#ddebf2 55.5px,#f0f4f6 61.5px,#f6f7f7 74.5px,#f8f3f1 84.5px,#fae9e0 89.5px,#fcd8c3 93.5px,#f4a785 97.5px,#d4614c 101.5px,#ad282c 105.5px,#8e2227 108.5px,#8c2127 110.5px,#952327 111.5px,#a8272b 112.5px,#b73734 113.5px,#d96953 115.5px,#f3a382 117.5px,#fbceb6 119.5px,#fbe5d9 121.5px,#f6f1ee 122.5px,#c7e0ed 123.5px,#4984b4 124.5px,#2a3459 125.5px,#2a3358 126.5px,#f6f7f7 127.5px,#f6f7f7 144.5px,#fafbfb 145.5px)"></i><i style="top:71px;background:linear-gradient(90deg,#fdfdfd 0.5px,#f6f7f7 1.5px,#f6f7f7 18.5px,#875256 19.5px,#5c1a1f 20.5px,#922c2c 21.5px,#f2ae94 22.5px,#f6f0ed 23.5px,#e2edf3 24.5px,#c6dfed 26.5px,#97c7df 28.5px,#549dc8 30.5px,#4288bc 31.5px,#3466a4 33.5px,#315890 34.5px,#2f5083 35.5px,#2f4d7f 36.5px,#305287 38.5px,#366aa8 41.5px,#4a96c4 45.5px,#9ac9e0 49.5px,#d0e5ef 53.5px,#e8f0f4 58.5px,#f5f6f7 66.5px,#f7f4f2 83.5px,#f9ece4 88.5px,#fdddcc 92.5px,#faccb4 94.5px,#f4a583 97.5px,#d25e4b 101.5px,#b33131 104.5px,#aa272b 105.5px,#922227 107.5px,#872026 109.5px,#882126 110.5px,#912227 111.5px,#a4252a 112.5px,#b53433 113.5px,#d76651 115.5px,#f2a180 117.5px,#fbcdb4 119.5px,#fddcc9 120.5px,#fbe5d8 121.5px,#f7f1ed 122.5px,#cae2ed 123.5px,#4c87b7 124.5px,#2a345a 125.5px,#2a3358 126.5px,#d0d6df 127.5px,#f6f7f7 128.5px,#f6f7f7 144.5px,#fafbfb 145.5px)"></i><i style="top:72px;background:linear-gradient(90deg,#fdfdfd 0.5px,#f6f7f7 1.5px,#f6f7f7 18.5px,#865255 19.5px,#5c1a1f 20.5px,#942d2d 21.5px,#f3b096 22.5px,#f6f0ed 23.5px,#e2edf3 24.5px,#c6dfed 26.5px,#96c7df 28.5px,#529cc8 30.5px,#4187bb 31.5px,#3465a3 33.5px,#31578e 34.5px,#2f4e81 35.5px,#2e4c7d 36.5px,#2f5185 38.5px,#3569a8 41.5px,#4995c3 45.5px,#99c9e0 49.5px,#cfe4ef 53.5px,#e8f0f4 58.5px,#f4f6f6 66.5px,#f8f4f2 83.5px,#f9ece4 88.5px,#fdddcb 92.5px,#f8c0a4 95.5px,#f3a583 97.5px,#d25d4a 101.5px,#b33031 104.5px,#a9262b 105.5px,#902227 107.5px,#852026 109.5px,#862026 110.5px,#8f2227 111.5px,#a22529 112.5px,#b43232 113.5px,#d66550 115.5px,#f2a07f 117.5px,#faccb4 119.5px,#fddcc9 120.5px,#fbe5d7 121.5px,#f7f1ed 122.5px,#cce2ee 123.5px,#4d88b8 124.5px,#2a345a 125.5px,#2a3358 126.5px,#c4cbd6 127.5px,#f6f7f7 128.5px,#f6f7f7 144.5px,#fafbfb 145.5px)"></i><i style="top:73px;background:linear-gradient(90deg,#fdfdfd 0.5px,#f6f7f7 1.5px,#f6f7f7 18.5px,#865256 19.5px,#5c1a1f 20.5px,#942c2d 21.5px,#f3b096 22.5px,#f6f0ed 23.5px,#e2edf3 24.5px,#c6dfed 26.5px,#96c7df 28.5px,#529cc8 30.5px,#4187bb 31.5px,#3465a3 33.5px,#31578e 34.5px,#2f4f81 35.5px,#2e4c7d 36.5px,#2f5185 38.5px,#3569a8 41.5px,#4995c4 45.5px,#99c9e0 49.5px,#cfe4ef 53.5px,#e8f0f4 58.5px,#f4f6f6 66.5px,#f8f4f2 83.5px,#f9ece4 88.5px,#fdddcb 92.5px,#f8c0a4 95.5px,#f3a583 97.5px,#d25e4a 101.5px,#b33031 104.5px,#a9262b 105.5px,#902227 107.5px,#852026 109.5px,#862026 110.5px,#8f2227 111.5px,#a22529 112.5px,#b43232 113.5px,#d66550 115.5px,#f2a07f 117.5px,#faccb4 119.5px,#fddcc9 120.5px,#fbe5d8 121.5px,#f7f1ed 122.5px,#cce2ee 123.5px,#4d88b8 124.5px,#2a345a 125.5px,#2a3358 126.5px,#c4cbd6 127.5px,#f6f7f7 128.5px,#f6f7f7 144.5px,#fafbfb 145.5px)"></i><i style="top:74px;background:linear-gradient(90deg,#fdfdfd 0.5px,#f6f7f7 1.5px,#f6f7f7 18.5px,#875256 19.5px,#5c1a1f 20.5px,#922c2c 21.5px,#f2ae94 22.5px,#f6f0ed 23.5px,#e2edf3 24.5px,#c6dfed 26.5px,#97c8df 28.5px,#549ec8 30.5px,#4289bc 31.5px,#3567a5 33.5px,#315891 34.5px,#2f5083 35.5px,#2f4e7f 36.5px,#305388 38.5px,#366ba9 41.5px,#4a96c4 45.5px,#9ac9e0 49.5px,#d0e5ef 53.5px,#e8f0f4 58.5px,#f5f6f7 66.5px,#f7f4f2 83.5px,#f9ece4 88.5px,#fddecc 92.5px,#faccb4 94.5px,#f4a684 97.5px,#d25f4b 101.5px,#b43232 104.5px,#ab272b 105.5px,#8b2127 108.5px,#882126 110.5px,#922227 111.5px,#a5252a 112.5px,#b63433 113.5px,#d76651 115.5px,#f2a280 117.5px,#fbcdb5 119.5px,#fddcc9 120.5px,#fbe5d8 121.5px,#f7f1ed 122.5px,#cae1ed 123.5px,#4c86b6 124.5px,#2a345a 125.5px,#2a3358 126.5px,#d0d6df 127.5px,#f6f7f7 128.5px,#f6f7f7 144.5px,#fafbfb 145.5px)"></i><i style="top:75px;background:linear-gradient(90deg,#fdfdfd 0.5px,#f6f7f7 1.5px,#f6f7f7 18.5px,#8a5256 19.5px,#5c1a1f 20.5px,#8f2a2b 21.5px,#f1a98f 22.5px,#f7efeb 23.5px,#e3eef3 24.5px,#c8e0ed 26.5px,#99c9e0 28.5px,#57a0ca 30.5px,#438bbd 31.5px,#3569a7 33.5px,#305388 35.5px,#2f5084 36.5px,#31558c 38.5px,#376daa 41.5px,#438cbe 44.5px,#4c98c5 45.5px,#9ccae1 49.5px,#c7e0ed 52.5px,#ddebf2 55.5px,#f0f4f6 61.5px,#f6f7f7 74.5px,#f8f3f1 84.5px,#fae9e0 89.5px,#fcd8c3 93.5px,#f4a886 97.5px,#d4614d 101.5px,#ad292d 105.5px,#902227 108.5px,#8d2127 110.5px,#972327 111.5px,#a9272b 112.5px,#b83835 113.5px,#d96953 115.5px,#f3a483 117.5px,#fbceb6 119.5px,#fbe5d9 121.5px,#f6f1ee 122.5px,#c7e0ec 123.5px,#4983b4 124.5px,#2a3459 125.5px,#2a3358 126.5px,#f6f7f7 127.5px,#f6f7f7 144.5px,#fafbfb 145.5px)"></i><i style="top:76px;background:linear-gradient(90deg,#fdfdfd 0.5px,#f6f7f7 1.5px,#f6f7f7 18.5px,#946064 19.5px,#5c1a1f 20.5px,#8b2829 21.5px,#efa388 22.5px,#f7eee9 23.5px,#e4eef4 24.5px,#cae1ee 26.5px,#9dcbe1 28.5px,#5da3cc 30.5px,#448ebf 31.5px,#33609c 34.5px,#31578e 35.5px,#30548a 36.5px,#325992 38.5px,#3870ac 41.5px,#448fbf 44.5px,#509bc7 45.5px,#8ec3dd 48.5px,#c9e1ed 52.5px,#e3eef3 56.5px,#f3f5f6 63.5px,#f7f5f4 83.5px,#f9eee6 88.5px,#fcdfcf 92.5px,#fbd0b8 94.5px,#ef9a7a 98.5px,#d76550 101.5px,#b12d2f 105.5px,#9d2428 107.5px,#922227 109.5px,#932227 110.5px,#ae2a2d 112.5px,#cb5445 114.5px,#e98b6e 116.5px,#f4a786 117.5px,#fbd0b9 119.5px,#fbe6da 121.5px,#f5f2f0 122.5px,#c2ddeb 123.5px,#457eb0 124.5px,#2a3358 125.5px,#2a355c 126.5px,#f6f7f7 127.5px,#f6f7f7 144.5px,#fafbfb 145.5px)"></i><i style="top:77px;background:linear-gradient(90deg,#fdfdfd 0.5px,#f6f7f7 1.5px,#f6f7f7 18.5px,#ae898c 19.5px,#5c1a1f 20.5px,#852528 21.5px,#ec9a80 22.5px,#f9ece5 23.5px,#e6eff4 24.5px,#cce3ee 26.5px,#a1cde2 28.5px,#63a8ce 30.5px,#4893c2 31.5px,#3466a4 34.5px,#325d97 35.5px,#325992 36.5px,#335f9a 38.5px,#3d7db5 42.5px,#4792c2 44.5px,#6bacd1 46.5px,#a3cee3 49.5px,#cce2ee 52.5px,#e8f0f4 57.5px,#f6f7f7 65.5px,#f7f5f3 84.5px,#f9ece3 89.5px,#fddcc9 93.5px,#f6ae8d 97.5px,#d96a54 101.5px,#b43332 105.5px,#ae292d 106.5px,#9a2428 109.5px,#9c2428 110.5px,#a6262a 111.5px,#b33030 112.5px,#cf5a48 114.5px,#f5ab8a 117.5px,#fcd3bc 119.5px,#fae7dc 121.5px,#f4f2f1 122.5px,#bbdae9 123.5px,#4178aa 124.5px,#2a3358 125.5px,#2b3960 126.5px,#f6f7f7 127.5px,#f6f7f7 144.5px,#fafbfb 145.5px)"></i><i style="top:78px;background:linear-gradient(90deg,#fdfdfd 0.5px,#f6f7f7 1.5px,#f6f7f7 18.5px,#b58a8d 19.5px,#5c1a1f 20.5px,#7f2226 21.5px,#e79076 22.5px,#faeae1 23.5px,#e8f0f4 24.5px,#cfe4ef 26.5px,#a6cfe4 28.5px,#6cadd1 30.5px,#4d98c5 31.5px,#4187bb 32.5px,#366caa 34.5px,#33609d 36.5px,#366ba9 39.5px,#438cbe 43.5px,#4c98c5 44.5px,#99c9e0 48.5px,#d0e4ef 52.5px,#eaf1f5 57.5px,#f6f6f6 64.5px,#f7f6f5 84.5px,#f9ede6 89.5px,#fdddcc 93.5px,#f8bfa4 96.5px,#ec9475 99.5px,#d4614d 102.5px,#b93a36 105.5px,#ae292d 107.5px,#a5252a 109.5px,#a6262a 110.5px,#ae2a2d 111.5px,#c54b40 113.5px,#d4614d 114.5px,#ee9777 116.5px,#f9c4a9 118.5px,#fcd5c0 119.5px,#fae9de 121.5px,#f2f2f2 122.5px,#b1d4e6 123.5px,#3b70a4 124.5px,#2a3358 125.5px,#455276 126.5px,#f6f7f7 127.5px,#f6f7f7 144.5px,#fafbfb 145.5px)"></i><i style="top:79px;background:linear-gradient(90deg,#fdfdfd 0.5px,#f6f7f7 1.5px,#f6f7f7 18.5px,#d1b4b5 19.5px,#5c1a1f 20.5px,#7a1f24 21.5px,#e2836b 22.5px,#fae5d9 23.5px,#ebf1f5 24.5px,#c1ddeb 27.5px,#93c5de 29.5px,#569fc9 31.5px,#448dbf 32.5px,#3973af 34.5px,#3568a7 36.5px,#3871ad 39.5px,#4692c2 43.5px,#68abd0 45.5px,#a0cce2 48.5px,#cae1ee 51.5px,#e4eef4 55.5px,#f5f6f7 61.5px,#f7f6f5 85.5px,#f9ece4 90.5px,#fddac7 94.5px,#f5ab8a 98.5px,#d96953 102.5px,#b93936 106.5px,#ae2a2d 109.5px,#b02b2e 110.5px,#bf423a 112.5px,#d96a54 114.5px,#f19f7e 116.5px,#fac8af 118.5px,#fcd8c4 119.5px,#faeae1 121.5px,#eff2f3 122.5px,#a5cee3 123.5px,#37689c 124.5px,#2a3358 125.5px,#5e6c8c 126.5px,#f6f7f7 127.5px,#f6f7f7 144.5px,#fafbfb 145.5px)"></i><i style="top:80px;background:linear-gradient(90deg,#fdfdfd 0.5px,#f6f7f7 1.5px,#f6f7f7 18.5px,#dfc2c3 19.5px,#631b20 20.5px,#741e23 21.5px,#dc755f 22.5px,#fadfd0 23.5px,#eef3f5 24.5px,#c6dfed 27.5px,#9bcae1 29.5px,#4995c3 32.5px,#3c7bb3 34.5px,#3870ac 36.5px,#3b79b2 39.5px,#448fc0 42.5px,#4e9ac6 43.5px,#99c8e0 47.5px,#d0e4ef 51.5px,#ecf2f5 56.5px,#f7f5f5 61.5px,#f4f6f6 85.5px,#f8f1ed 89.5px,#fddecc 94.5px,#f8bfa3 97.5px,#ed9475 100.5px,#d6654f 103.5px,#c0433c 106.5px,#b53433 109.5px,#b73634 110.5px,#c64d41 112.5px,#d25f4b 113.5px,#f4a785 116.5px,#fbcdb5 118.5px,#fddbc8 119.5px,#f9ece4 121.5px,#eaf1f4 122.5px,#96c5de 123.5px,#356195 124.5px,#2a3358 125.5px,#7989a6 126.5px,#f6f7f7 127.5px,#f6f7f7 144.5px,#fafbfb 145.5px)"></i><i style="top:81px;background:linear-gradient(90deg,#fdfdfd 0.5px,#f6f7f7 1.5px,#f6f7f7 18.5px,#f2eaea 19.5px,#721d22 20.5px,#701d22 21.5px,#d46654 22.5px,#fad7c4 23.5px,#f1f3f4 24.5px,#e1edf3 25.5px,#cbe2ee 27.5px,#8cc1dc 30.5px,#559ec9 32.5px,#458fc0 33.5px,#3d7cb4 35.5px,#3c79b2 37.5px,#448fbf 41.5px,#4c98c5 42.5px,#a2cde3 47.5px,#cce3ee 50.5px,#ecf2f5 55.5px,#f7f5f4 59.5px,#f7f4f3 68.5px,#f0f4f6 81.5px,#f6f6f5 88.5px,#fbe6da 93.5px,#fcd3bc 96.5px,#f19f7e 100.5px,#d6634e 104.5px,#c3483e 107.5px,#be403a 109.5px,#c54b40 111.5px,#d96a54 113.5px,#f6af8e 116.5px,#fcd2bb 118.5px,#f9eee8 121.5px,#e5eff4 122.5px,#85bbd9 123.5px,#325a8e 124.5px,#2a345a 125.5px,#93a6c2 126.5px,#f6f7f7 127.5px,#f6f7f7 144.5px,#fafbfb 145.5px)"></i><i style="top:82px;background:linear-gradient(90deg,#fdfdfd 0.5px,#f6f7f7 1.5px,#f6f7f7 19.5px,#913034 20.5px,#711d22 21.5px,#cb5749 22.5px,#f9ccb6 23.5px,#f4f2f1 24.5px,#e4eef4 25.5px,#d0e5ef 27.5px,#97c7df 30.5px,#4e99c6 33.5px,#448ebf 34.5px,#3f82b8 36.5px,#428abd 39.5px,#4d99c6 41.5px,#9fcce2 46.5px,#cae1ee 49.5px,#e7f0f4 53.5px,#f7f5f4 57.5px,#f8f2ee 64.5px,#f2f5f6 76.5px,#f0f4f6 87.5px,#f7f5f3 90.5px,#fce1d1 95.5px,#fbd0b9 97.5px,#f09c7b 101.5px,#dd7059 104.5px,#cc5545 107.5px,#c64d41 109.5px,#ce5948 111.5px,#e0775f 113.5px,#f3a382 115.5px,#fcd7c2 118.5px,#f8f1ed 121.5px,#dceaf2 122.5px,#75b0d2 123.5px,#315589 124.5px,#2c3e69 125.5px,#c5d2e1 126.5px,#f6f7f7 127.5px,#f6f7f7 144.5px,#fafbfb 145.5px)"></i><i style="top:83px;background:linear-gradient(90deg,#fdfdfd 0.5px,#f6f7f7 1.5px,#f6f7f7 19.5px,#b65d5f 20.5px,#7c1f24 21.5px,#c34b41 22.5px,#f7bfa5 23.5px,#f7f1ed 24.5px,#e7f0f4 25.5px,#c7e0ed 28.5px,#8cc1dc 31.5px,#5fa5cc 33.5px,#4e99c6 34.5px,#438dbf 36.5px,#4995c3 39.5px,#5ea5cc 41.5px,#add3e5 46.5px,#d3e6f0 49.5px,#f3f5f6 54.5px,#f9efea 60.5px,#f3f5f6 75.5px,#ebf2f5 87.5px,#f5f5f5 91.5px,#fbe6da 95.5px,#fddac6 97.5px,#f09c7b 102.5px,#df745c 105.5px,#d25e4a 108.5px,#d35f4b 110.5px,#df745d 112.5px,#f5ae8d 115.5px,#fddbc8 118.5px,#fae9df 120.5px,#f6f3f1 121.5px,#d2e5ef 122.5px,#64a4cb 123.5px,#315489 124.5px,#305185 125.5px,#dee7ee 126.5px,#f6f7f7 127.5px,#f6f7f7 144.5px,#fafbfb 145.5px)"></i><i style="top:84px;background:linear-gradient(90deg,#fdfdfd 0.5px,#f6f7f7 1.5px,#f6f7f7 19.5px,#d59695 20.5px,#8f2227 21.5px,#bc413a 22.5px,#f3af94 23.5px,#f9ede6 24.5px,#ebf1f5 25.5px,#cee3ef 28.5px,#86bdda 32.5px,#61a6cd 34.5px,#4e9ac6 36.5px,#529cc8 38.5px,#73b1d3 41.5px,#bcdaea 46.5px,#d4e7f0 48.5px,#f6f5f4 53.5px,#f9ede5 58.5px,#f8f3f0 69.5px,#f2f5f6 75.5px,#e7f0f4 87.5px,#f2f4f6 92.5px,#f8f1ed 94.5px,#fddac7 98.5px,#f19f7d 103.5px,#e27b62 106.5px,#db6d56 108.5px,#dc6f58 110.5px,#e68569 112.5px,#f4a886 114.5px,#fcd5c0 117.5px,#f9ece3 120.5px,#f3f3f3 121.5px,#c4dfec 122.5px,#5798c5 123.5px,#31588f 124.5px,#4d76a8 125.5px,#f6f7f7 126.5px,#f6f7f7 144.5px,#fafbfb 145.5px)"></i><i style="top:85px;background:linear-gradient(90deg,#fdfdfd 0.5px,#f6f7f7 1.5px,#f6f7f7 19.5px,#eaccc9 20.5px,#a82a2c 21.5px,#b93b37 22.5px,#ee9e82 23.5px,#fae7db 24.5px,#eff3f5 25.5px,#c7e0ed 29.5px,#75b3d4 34.5px,#63a8ce 36.5px,#67aacf 38.5px,#96c7df 42.5px,#d6e8f1 47.5px,#f5f5f4 51.5px,#faeae1 55.5px,#fae9e0 61.5px,#f3f5f6 74.5px,#e1edf3 87.5px,#e8f0f4 92.5px,#f2f4f5 94.5px,#f9eee8 96.5px,#fcd2bc 100.5px,#f3a482 104.5px,#e68569 107.5px,#e37e64 109.5px,#e88a6d 111.5px,#f3a584 113.5px,#fddbc8 117.5px,#f9eee8 120.5px,#eef2f5 121.5px,#b4d6e8 122.5px,#4b8ebf 123.5px,#33619d 124.5px,#759ec6 125.5px,#f6f7f7 126.5px,#f6f7f7 144.5px,#fafbfb 145.5px)"></i><i style="top:86px;background:linear-gradient(90deg,#fdfdfd 0.5px,#f6f7f7 1.5px,#f6f7f7 20.5px,#be403a 21.5px,#ba3c37 22.5px,#e88d71 23.5px,#fbdecd 24.5px,#f3f4f4 25.5px,#dfecf2 27.5px,#cfe4ef 29.5px,#8ac0db 34.5px,#7ab6d6 36.5px,#7eb8d7 38.5px,#b6d7e8 43.5px,#d9e9f1 46.5px,#f3f4f5 49.5px,#fae8dd 53.5px,#fbe4d6 58.5px,#f8f4f2 71.5px,#f0f4f6 75.5px,#dbeaf2 88.5px,#e3eef3 93.5px,#f3f4f5 96.5px,#fcdfce 100.5px,#f5ab8a 105.5px,#ec9374 108.5px,#ed9676 110.5px,#f4a786 112.5px,#fcd7c3 116.5px,#f8f1ed 120.5px,#e6eff4 121.5px,#a2cce2 122.5px,#4488bb 123.5px,#376fab 124.5px,#a7c6dc 125.5px,#f6f7f7 126.5px,#f6f7f7 144.5px,#fafbfb 145.5px)"></i><i style="top:87px;background:linear-gradient(90deg,#fdfdfd 0.5px,#f6f7f7 1.5px,#f6f7f7 20.5px,#d77f73 21.5px,#c1453c 22.5px,#e38065 23.5px,#fad3be 24.5px,#f6f2f0 25.5px,#eaf1f5 26.5px,#cce3ee 30.5px,#9dcbe1 34.5px,#91c4de 36.5px,#95c7df 38.5px,#b1d5e7 41.5px,#deebf2 45.5px,#f0f3f5 47.5px,#f9eee7 49.5px,#fce1d1 53.5px,#fcdfce 58.5px,#f8f3f1 71.5px,#f2f5f6 74.5px,#d4e7f1 88.5px,#d9e9f1 93.5px,#edf2f5 97.5px,#f5f4f3 98.5px,#fcdbc8 102.5px,#f6b394 106.5px,#f4a886 108.5px,#f4a987 110.5px,#f7b697 112.5px,#fdddcb 116.5px,#f9ece5 119.5px,#f6f4f2 120.5px,#ddebf2 121.5px,#8fc2dc 122.5px,#4186ba 123.5px,#3f80b7 124.5px,#e0ebf0 125.5px,#f6f7f7 126.5px,#f6f7f7 144.5px,#fafbfb 145.5px)"></i><i style="top:88px;background:linear-gradient(90deg,#fdfdfd 0.5px,#f6f7f7 1.5px,#f6f7f7 20.5px,#eabbb1 21.5px,#cc5646 22.5px,#df775e 23.5px,#f9c6ad 24.5px,#f9eee8 25.5px,#eef3f6 26.5px,#cce2ee 31.5px,#afd4e6 34.5px,#a6cfe4 36.5px,#aad1e5 38.5px,#edf2f5 45.5px,#f5f3f2 46.5px,#fce0d0 50.5px,#fcd7c2 54.5px,#fddbc7 59.5px,#f5f6f6 73.5px,#cbe2ee 88.5px,#cbe2ee 92.5px,#dfecf3 97.5px,#eff3f5 99.5px,#f6f3f1 100.5px,#fcd8c3 104.5px,#f8bea2 107.5px,#f7b89a 109.5px,#f8bda1 111.5px,#fce1d2 116.5px,#f9efe9 119.5px,#f3f4f5 120.5px,#d1e5ef 121.5px,#7fb8d7 122.5px,#438bbd 123.5px,#60a0c9 124.5px,#f6f7f7 125.5px,#f6f7f7 144.5px,#fafbfb 145.5px)"></i><i style="top:89px;background:linear-gradient(90deg,#fdfdfd 0.5px,#f6f7f7 1.5px,#f6f7f7 20.5px,#f4e9e5 21.5px,#dc6f58 22.5px,#e0775e 23.5px,#f7ba9d 24.5px,#fae8de 25.5px,#f3f4f5 26.5px,#dfecf2 29.5px,#bbdaea 35.5px,#bbdaea 37.5px,#e1edf3 42.5px,#f3f3f3 44.5px,#fcdfce 48.5px,#fbccb4 52.5px,#facab1 56.5px,#faeae1 68.5px,#f4f6f6 73.5px,#bcdaea 89.5px,#bddaea 93.5px,#dfecf3 99.5px,#f1f3f5 101.5px,#faebe2 103.5px,#facbb2 108.5px,#fac9b0 110.5px,#fcd7c2 113.5px,#f8f2ee 119.5px,#edf2f5 120.5px,#c4dfec 121.5px,#75b3d4 122.5px,#4b96c4 123.5px,#a3cae0 124.5px,#f6f7f7 125.5px,#f6f7f7 144.5px,#fafbfb 145.5px)"></i><i style="top:90px;background:linear-gradient(90deg,#fdfdfd 0.5px,#f6f7f7 1.5px,#f6f7f7 21.5px,#eb9f87 22.5px,#e48066 23.5px,#f5b091 24.5px,#fbe1d3 25.5px,#f6f4f2 26.5px,#e3eef4 29.5px,#cce3ee 35.5px,#d2e6f0 38.5px,#f1f3f4 42.5px,#faeae1 44.5px,#f9c4a9 50.5px,#f8bb9f 53.5px,#f8bfa4 57.5px,#fbe5d8 67.5px,#f4f6f6 73.5px,#c3deec 84.5px,#aad1e5 90.5px,#add3e6 94.5px,#bfdceb 97.5px,#f3f3f3 103.5px,#fcdfce 107.5px,#fcd8c4 110.5px,#fbe5d9 115.5px,#f7f4f3 119.5px,#e5eff4 120.5px,#b8d8e9 121.5px,#75b3d4 122.5px,#66a9cf 123.5px,#e0ebf1 124.5px,#f6f7f7 125.5px,#f6f7f7 144.5px,#fafbfb 145.5px)"></i><i style="top:91px;background:linear-gradient(90deg,#fdfdfd 0.5px,#f6f7f7 1.5px,#f6f7f7 21.5px,#f4d2c4 22.5px,#ed9475 23.5px,#f5ac8d 24.5px,#fbdac8 25.5px,#f8f1ed 26.5px,#f1f4f6 27.5px,#d8e9f1 34.5px,#dbeaf2 37.5px,#eff3f5 40.5px,#f6f3f0 41.5px,#fcd8c3 45.5px,#f7b89a 49.5px,#f5ad8c 52.5px,#f6af8f 56.5px,#facab1 62.5px,#fce2d3 67.5px,#f4f5f6 73.5px,#c5dfec 82.5px,#a1cde2 88.5px,#97c8df 92.5px,#a3cee3 96.5px,#c7e0ed 100.5px,#edf2f5 104.5px,#f5f3f2 105.5px,#fbe5d9 108.5px,#fce2d2 111.5px,#f9eee8 117.5px,#f4f5f5 119.5px,#deebf2 120.5px,#80b9d8 122.5px,#94c5de 123.5px,#f6f7f7 124.5px,#f6f7f7 144.5px,#fafbfb 145.5px)"></i><i style="top:92px;background:linear-gradient(90deg,#fdfdfd 0.5px,#f6f7f7 1.5px,#f6f7f7 21.5px,#f6efeb 22.5px,#f5ad8d 23.5px,#f6b191 24.5px,#fbd4bf 25.5px,#f9ede5 26.5px,#f4f5f6 27.5px,#e3eef4 32.5px,#e4eef4 36.5px,#f5f4f3 39.5px,#fcdac7 43.5px,#f6b495 47.5px,#f2a180 50.5px,#ef9a7a 53.5px,#f3a483 57.5px,#f9c7ad 63.5px,#fcdfce 67.5px,#f3f5f6 73.5px,#c2ddec 81.5px,#91c4dd 88.5px,#83bbd9 92.5px,#89bfdb 95.5px,#a7d0e4 99.5px,#ddebf2 104.5px,#f0f3f5 106.5px,#f9efe9 108.5px,#fae8de 111.5px,#f9efe8 116.5px,#f7f4f2 118.5px,#eff3f6 119.5px,#d7e8f1 120.5px,#acd2e5 121.5px,#94c6de 122.5px,#cbe2ed 123.5px,#f6f7f7 124.5px,#f6f7f7 144.5px,#fafbfb 145.5px)"></i><i style="top:93px;background:linear-gradient(90deg,#fdfdfd 0.5px,#f6f7f7 1.5px,#f6f7f7 22.5px,#f8d2bf 23.5px,#f8bc9f 24.5px,#fae9de 26.5px,#f7f5f3 27.5px,#eaf1f5 31.5px,#ebf1f5 35.5px,#f4f5f5 37.5px,#fbe5d8 40.5px,#facab1 43.5px,#f2a280 47.5px,#e98d6f 50.5px,#e7866a 53.5px,#ec9374 57.5px,#f6ae8e 61.5px,#fce0cf 68.5px,#f3f5f6 73.5px,#c1ddeb 80.5px,#77b4d5 89.5px,#6cadd1 92.5px,#71b0d3 95.5px,#87beda 98.5px,#d9e9f1 105.5px,#f3f4f5 108.5px,#f9eee7 112.5px,#f8f3ef 117.5px,#f6f5f5 118.5px,#eaf1f5 119.5px,#d2e6f0 120.5px,#b1d5e7 121.5px,#acd2e6 122.5px,#eef3f5 123.5px,#f6f7f7 124.5px,#f6f7f7 144.5px,#fafbfb 145.5px)"></i><i style="top:94px;background:linear-gradient(90deg,#fdfdfd 0.5px,#f6f7f7 1.5px,#f6f7f7 22.5px,#f7eee8 23.5px,#fbcdb5 24.5px,#fcd5c0 25.5px,#f8f2ef 27.5px,#f4f6f6 28.5px,#eef3f5 33.5px,#f7f4f2 36.5px,#fdddca 40.5px,#f3a382 45.5px,#e37e64 49.5px,#de735c 52.5px,#e27c62 56.5px,#f2a280 61.5px,#fdddca 68.5px,#f8f2ef 72.5px,#f3f5f6 73.5px,#c2ddeb 79.5px,#69abd0 88.5px,#569fc9 92.5px,#5aa2cb 95.5px,#70afd3 98.5px,#bedbea 104.5px,#d7e8f1 106.5px,#f5f5f5 110.5px,#f8f2ee 114.5px,#f4f5f6 118.5px,#e6eff4 119.5px,#bfdceb 121.5px,#d5e7f0 122.5px,#f6f7f7 123.5px,#f6f7f7 144.5px,#fafbfb 145.5px)"></i><i style="top:95px;background:linear-gradient(90deg,#fdfdfd 0.5px,#f6f7f7 1.5px,#f6f7f7 23.5px,#fce0d0 24.5px,#fdddcb 25.5px,#f8f1ec 27.5px,#f6f6f6 28.5px,#f2f5f6 32.5px,#f8f3f0 35.5px,#fdddcb 39.5px,#f5aa89 43.5px,#e68569 46.5px,#da6b55 49.5px,#d5624d 52.5px,#da6a54 56.5px,#e8896c 60.5px,#f6b191 64.5px,#fcdfce 69.5px,#f8f2ee 72.5px,#f2f5f6 73.5px,#c5dfec 78.5px,#7fb8d7 84.5px,#559fc9 88.5px,#4793c2 91.5px,#4894c3 95.5px,#5aa2cb 98.5px,#8fc3dd 102.5px,#cee3ef 106.5px,#eef3f5 110.5px,#f7f5f3 113.5px,#f6f6f5 117.5px,#f1f4f6 118.5px,#d6e8f1 120.5px,#d0e5ef 121.5px,#edf3f5 122.5px,#f6f7f7 123.5px,#f6f7f7 144.5px,#fafbfb 145.5px)"></i><i style="top:96px;background:linear-gradient(90deg,#fdfdfd 0.5px,#f6f7f7 1.5px,#f6f7f7 23.5px,#f8f0eb 24.5px,#fbe4d7 25.5px,#f7f6f5 28.5px,#f7f5f4 33.5px,#faebe2 36.5px,#fcd7c2 39.5px,#f09c7b 43.5px,#de745c 46.5px,#d15c49 49.5px,#ca5244 52.5px,#d05b49 56.5px,#dc6f58 59.5px,#f4a785 64.5px,#fddcca 69.5px,#f8f1ed 72.5px,#f2f4f6 73.5px,#bddbea 78.5px,#7bb6d6 83.5px,#4c98c5 87.5px,#4187bb 91.5px,#4188bb 95.5px,#4995c3 98.5px,#5ea5cc 100.5px,#c4deec 106.5px,#dbeaf2 108.5px,#f2f5f6 112.5px,#f6f6f6 117.5px,#ddebf2 120.5px,#e2eef3 121.5px,#f6f7f7 122.5px,#f6f7f7 144.5px,#fafbfb 145.5px)"></i><i style="top:97px;background:linear-gradient(90deg,#fdfdfd 0.5px,#f6f7f7 1.5px,#f6f7f7 24.5px,#f9ede6 25.5px,#f9ede6 26.5px,#f7f6f5 28.5px,#f7f5f4 32.5px,#f9ede6 35.5px,#fdddca 38.5px,#f3a381 42.5px,#dd715a 45.5px,#cb5445 48.5px,#c1453c 51.5px,#c1443c 54.5px,#ce5948 58.5px,#df745d 61.5px,#f4a886 65.5px,#fcd9c4 69.5px,#f8f1ec 72.5px,#f1f4f6 73.5px,#c3deec 77.5px,#7ab5d6 82.5px,#509bc7 85.5px,#438dbe 87.5px,#3c7bb3 92.5px,#3e81b7 96.5px,#4591c1 99.5px,#4e99c6 100.5px,#6fafd2 102.5px,#aad1e5 105.5px,#cce3ee 107.5px,#e5eff4 110.5px,#f4f6f6 114.5px,#f5f6f7 117.5px,#e6eff4 120.5px,#f2f5f6 121.5px,#f6f7f7 124.5px,#f6f7f7 144.5px,#fafbfb 145.5px)"></i><i style="top:98px;background:linear-gradient(90deg,#fdfdfd 0.5px,#f6f7f7 1.5px,#f6f7f7 24.5px,#f8f2ef 26.5px,#f6f7f7 29.5px,#f9f0ea 34.5px,#fce2d2 37.5px,#fddac7 38.5px,#f09c7b 42.5px,#d76651 45.5px,#c3483e 48.5px,#b83735 51.5px,#b73634 54.5px,#c54b40 58.5px,#d86751 61.5px,#f19e7d 65.5px,#fcdfce 70.5px,#f9f0eb 72.5px,#f1f4f6 73.5px,#cde3ef 76.5px,#7cb7d6 81.5px,#4d99c6 84.5px,#4289bc 86.5px,#3972ae 91.5px,#3974af 95.5px,#4288bc 99.5px,#4590c1 100.5px,#519bc7 101.5px,#a6cfe4 105.5px,#c9e1ed 107.5px,#e3eef4 110.5px,#f5f6f7 115.5px,#f4f6f6 118.5px,#f0f4f6 120.5px,#f6f7f7 121.5px,#f6f7f7 144.5px,#fafbfb 145.5px)"></i><i style="top:99px;background:linear-gradient(90deg,#fdfdfd 0.5px,#f6f7f7 1.5px,#f5f6f7 30.5px,#f9efe9 34.5px,#fce1d2 37.5px,#fddac6 38.5px,#f5ad8c 41.5px,#dd7059 44.5px,#c95243 46.5px,#b63634 49.5px,#ae2a2d 52.5px,#b02d2f 55.5px,#c2473d 59.5px,#d86751 62.5px,#f3a381 66.5px,#fdddca 70.5px,#f9efe9 72.5px,#f1f4f5 73.5px,#c8e0ed 76.5px,#82bad8 80.5px,#4d99c6 83.5px,#4187bb 85.5px,#366ca9 90.5px,#3569a8 94.5px,#3c7ab3 98.5px,#438bbd 100.5px,#4a97c4 101.5px,#a4cee3 105.5px,#c8e0ed 107.5px,#dceaf2 109.5px,#f0f4f6 113.5px,#f6f6f6 118.5px,#f6f7f7 144.5px,#fafbfb 145.5px)"></i><i style="top:100px;background:linear-gradient(90deg,#fdfdfd 0.5px,#f6f7f7 1.5px,#f6f7f7 26.5px,#edf3f5 29.5px,#f7f4f2 32.5px,#fbe7db 36.5px,#fddbc7 38.5px,#f6ae8d 41.5px,#dc6e58 44.5px,#c64d41 46.5px,#b12d2f 49.5px,#a32529 52.5px,#a6262a 55.5px,#b43232 58.5px,#d15c49 62.5px,#e8896c 65.5px,#f5ab8a 67.5px,#fcdac6 70.5px,#f9efe8 72.5px,#f0f4f5 73.5px,#c3deec 76.5px,#76b3d5 80.5px,#509bc7 82.5px,#4590c1 83.5px,#366ca9 88.5px,#335e9a 92.5px,#3464a2 95.5px,#3d7eb5 99.5px,#4995c3 101.5px,#91c4dd 104.5px,#c9e1ed 107.5px,#e3eef4 110.5px,#f7f5f4 115.5px,#f8f1ed 117.5px,#f6f7f7 120.5px,#f6f7f7 144.5px,#fafbfb 145.5px)"></i><i style="top:101px;background:linear-gradient(90deg,#fdfdfd 0.5px,#f6f7f7 1.5px,#f6f7f7 26.5px,#e6eff4 28.5px,#e4eef4 29.5px,#f6f5f5 32.5px,#fce3d4 37.5px,#fbd1ba 39.5px,#f19e7d 42.5px,#d25e4b 45.5px,#b33031 48.5px,#ac272c 49.5px,#982328 52.5px,#992428 55.5px,#ad292c 58.5px,#ca5244 62.5px,#dc6e57 64.5px,#f3a483 67.5px,#fcd7c3 70.5px,#f9eee8 72.5px,#f0f3f5 73.5px,#bedbeb 76.5px,#82bad8 79.5px,#57a0ca 81.5px,#4894c3 82.5px,#356aa8 87.5px,#315890 91.5px,#325a93 94.5px,#3972ae 98.5px,#4289bc 100.5px,#4b97c4 101.5px,#95c7df 104.5px,#cce2ee 107.5px,#e4eef4 110.5px,#f7f5f4 114.5px,#faebe2 116.5px,#faebe2 117.5px,#f6f7f7 119.5px,#f6f7f7 144.5px,#fafbfb 145.5px)"></i><i style="top:102px;background:linear-gradient(90deg,#fdfdfd 0.5px,#f6f7f7 1.5px,#f5f7f7 27.5px,#e2edf3 28.5px,#d9e9f1 29.5px,#dbeaf2 30.5px,#f1f4f6 32.5px,#f8f1ec 34.5px,#fcdecd 38.5px,#f9c6ad 40.5px,#f3a483 42.5px,#d5634e 45.5px,#b33031 48.5px,#a9262b 49.5px,#952327 51.5px,#8d2127 54.5px,#9b2428 57.5px,#ae292d 59.5px,#ce5847 63.5px,#e88a6d 66.5px,#f6b091 68.5px,#fcd5bf 70.5px,#f9eee7 72.5px,#eff3f5 73.5px,#cfe4ef 75.5px,#79b5d5 79.5px,#4e9ac6 81.5px,#448ebf 82.5px,#3363a1 87.5px,#30548a 90.5px,#305387 93.5px,#325992 95.5px,#3973af 98.5px,#438cbe 100.5px,#519bc7 101.5px,#9ccae1 104.5px,#d0e4ef 107.5px,#f6f5f4 113.5px,#fbe6da 115.5px,#fce2d3 116.5px,#fbe5d8 117.5px,#f7f2ef 118.5px,#f6f7f7 119.5px,#f6f7f7 144.5px,#fafbfb 145.5px)"></i><i style="top:103px;background:linear-gradient(90deg,#fdfdfd 0.5px,#f6f7f7 1.5px,#f6f7f7 27.5px,#eef3f5 28.5px,#d1e5f0 29.5px,#c9e1ed 30.5px,#d3e6f0 31.5px,#f2f4f6 33.5px,#f9efe9 35.5px,#fddac6 39.5px,#f5ad8c 42.5px,#da6b55 45.5px,#b63533 48.5px,#ac282c 49.5px,#932227 51.5px,#882126 53.5px,#8d2127 56.5px,#a7262a 59.5px,#b73734 61.5px,#d4604c 64.5px,#ef9878 67.5px,#f8bfa3 69.5px,#fce1d2 71.5px,#f9ede6 72.5px,#eff3f5 73.5px,#cde3ef 75.5px,#72b1d3 79.5px,#4895c3 81.5px,#3465a4 86.5px,#305388 89.5px,#2f4e80 92.5px,#305388 94.5px,#366caa 97.5px,#4792c2 100.5px,#76b3d4 102.5px,#a4cee3 104.5px,#c8e0ed 106.5px,#dbeaf2 108.5px,#f5f5f5 112.5px,#f9eee8 113.5px,#fcd8c3 115.5px,#fdd9c4 116.5px,#f6f7f7 118.5px,#f6f7f7 144.5px,#fafbfb 145.5px)"></i><i style="top:104px;background:linear-gradient(90deg,#fdfdfd 0.5px,#f6f7f7 1.5px,#f6f7f7 28.5px,#dceaf2 29.5px,#b8d8e9 30.5px,#b5d7e8 31.5px,#e2edf3 33.5px,#f3f4f5 34.5px,#fae8de 37.5px,#fddecc 39.5px,#f9c6ac 41.5px,#f3a483 43.5px,#d5634e 46.5px,#b22e30 49.5px,#a5262a 50.5px,#8d2127 52.5px,#842025 54.5px,#8e2227 57.5px,#ac282c 60.5px,#c64c41 63.5px,#da6c55 65.5px,#f4a988 68.5px,#fce0d0 71.5px,#f9ede5 72.5px,#eff3f5 73.5px,#cbe2ee 75.5px,#86bdda 78.5px,#559fc9 80.5px,#4691c1 81.5px,#33619e 86.5px,#2f5083 89.5px,#2f4c7e 92.5px,#31558b 94.5px,#3567a6 96.5px,#438cbe 99.5px,#519cc7 100.5px,#9bcae1 103.5px,#cfe4ef 106.5px,#f3f5f5 111.5px,#f9efe9 112.5px,#facbb3 114.5px,#f9c4a9 115.5px,#fbd5c0 116.5px,#f6f5f4 117.5px,#f6f7f7 144.5px,#fafbfb 145.5px)"></i><i style="top:105px;background:linear-gradient(90deg,#fdfdfd 0.5px,#f6f7f7 1.5px,#f3f6f6 29.5px,#bfdcea 30.5px,#9ccae1 31.5px,#a3cee3 32.5px,#e2edf3 34.5px,#f4f4f5 35.5px,#fddac7 40.5px,#f6b090 43.5px,#dd715a 46.5px,#c54b40 48.5px,#af2c2e 50.5px,#952327 52.5px,#862026 54.5px,#882126 56.5px,#9e2429 59.5px,#aa272b 60.5px,#c4493f 63.5px,#d96952 65.5px,#f4a785 68.5px,#fce0cf 71.5px,#f9ece5 72.5px,#eff3f5 73.5px,#cae1ee 75.5px,#82bbd8 78.5px,#529cc7 80.5px,#448fbf 81.5px,#3568a6 85.5px,#305388 88.5px,#2f4d7e 91.5px,#305489 93.5px,#3870ac 96.5px,#4288bc 98.5px,#4b97c4 99.5px,#94c6de 102.5px,#c9e1ee 105.5px,#f2f4f5 110.5px,#f9efe9 111.5px,#fbddcc 112.5px,#f8c0a4 113.5px,#f6af8e 114.5px,#f8bb9e 115.5px,#f7ece6 116.5px,#f6f7f7 117.5px,#f6f7f7 144.5px,#fafbfb 145.5px)"></i><i style="top:106px;background:linear-gradient(90deg,#fdfdfd 0.5px,#f6f7f7 1.5px,#f6f7f7 29.5px,#e9f1f4 30.5px,#9ccae0 31.5px,#7eb8d7 32.5px,#91c3dd 33.5px,#bedbea 34.5px,#e2edf3 35.5px,#f4f4f4 36.5px,#fcd7c2 41.5px,#f5ac8b 44.5px,#d05c49 48.5px,#b02c2e 51.5px,#982328 53.5px,#8c2127 55.5px,#8f2227 57.5px,#aa262b 60.5px,#c3483e 63.5px,#d86751 65.5px,#f3a584 68.5px,#fce0cf 71.5px,#f9ece5 72.5px,#eff3f5 73.5px,#c9e1ed 75.5px,#80b9d8 78.5px,#509bc7 80.5px,#448dbf 81.5px,#3467a6 85.5px,#305489 88.5px,#2f5083 90.5px,#31568d 92.5px,#3870ac 95.5px,#4995c3 98.5px,#8fc3dd 101.5px,#c5dfec 104.5px,#d9e9f1 106.5px,#f0f4f5 109.5px,#f8efea 110.5px,#fbdac8 111.5px,#f6b597 112.5px,#ee9879 113.5px,#f1a07f 114.5px,#f7d8c9 115.5px,#f6f7f7 116.5px,#f6f7f7 144.5px,#fafbfb 145.5px)"></i><i style="top:107px;background:linear-gradient(90deg,#fdfdfd 0.5px,#f6f7f7 1.5px,#f6f7f7 30.5px,#d8e8f0 31.5px,#74b2d4 32.5px,#5fa5cc 33.5px,#7fb9d7 34.5px,#b8d8e9 35.5px,#e1edf3 36.5px,#f4f4f3 37.5px,#fddecc 41.5px,#fac8ae 43.5px,#ee9777 46.5px,#d15d4a 49.5px,#b33131 52.5px,#a12529 54.5px,#962327 56.5px,#9b2428 58.5px,#ac272c 60.5px,#c3493e 63.5px,#d86751 65.5px,#f3a583 68.5px,#fcdfcf 71.5px,#f9ece5 72.5px,#eff3f5 73.5px,#c9e1ed 75.5px,#80b9d8 78.5px,#509bc7 80.5px,#448ebf 81.5px,#33619e 86.5px,#315890 88.5px,#315890 90.5px,#366aa8 93.5px,#4288bc 96.5px,#4a95c3 97.5px,#a0cce2 101.5px,#cfe4ef 104.5px,#f0f3f5 108.5px,#f8efe9 109.5px,#fbd7c4 110.5px,#f3aa8c 111.5px,#e48166 112.5px,#e48066 113.5px,#f3bca5 114.5px,#f6f7f7 115.5px,#f6f7f7 144.5px,#fafbfb 145.5px)"></i><i style="top:108px;background:linear-gradient(90deg,#fdfdfd 0.5px,#f6f7f7 1.5px,#f6f7f7 31.5px,#c6deea 32.5px,#519bc7 33.5px,#4892c1 34.5px,#6dadd1 35.5px,#afd4e6 36.5px,#deecf2 37.5px,#f4f4f3 38.5px,#fdddca 42.5px,#f7b99b 45.5px,#ee9878 47.5px,#d4614d 50.5px,#b93935 53.5px,#ad292d 55.5px,#a7262a 58.5px,#b02c2e 60.5px,#c54b40 63.5px,#d96953 65.5px,#f4a684 68.5px,#fce0cf 71.5px,#f9ece5 72.5px,#eff3f5 73.5px,#c9e1ed 75.5px,#81bad8 78.5px,#529cc7 80.5px,#448fc0 81.5px,#376caa 85.5px,#33629f 88.5px,#366aa8 91.5px,#438cbe 95.5px,#4d98c5 96.5px,#a0cce2 100.5px,#cde3ef 103.5px,#eff3f5 107.5px,#f9eee8 108.5px,#fad3be 109.5px,#ef9e80 110.5px,#d96c56 111.5px,#d6644f 112.5px,#e99a84 113.5px,#f6f2f0 114.5px,#f6f7f7 115.5px,#f6f7f7 144.5px,#fafbfb 145.5px)"></i><i style="top:109px;background:linear-gradient(90deg,#fdfdfd 0.5px,#f6f7f7 1.5px,#f6f7f7 32.5px,#97c3dc 33.5px,#4186ba 34.5px,#3f81b7 35.5px,#5da0c9 36.5px,#a4cde3 37.5px,#dae9f1 38.5px,#f3f3f4 39.5px,#fae7dc 41.5px,#fcd3bd 44.5px,#f09c7b 48.5px,#d96953 51.5px,#c0443c 54.5px,#b43232 57.5px,#b73735 60.5px,#c95143 63.5px,#db6c56 65.5px,#f4a886 68.5px,#fce0d0 71.5px,#f9ece5 72.5px,#eff3f5 73.5px,#cae1ee 75.5px,#6cadd1 79.5px,#569fc9 80.5px,#4692c2 81.5px,#3c79b2 84.5px,#376eab 87.5px,#3974af 90.5px,#4792c1 94.5px,#549ec8 95.5px,#a2cde3 99.5px,#cde3ef 102.5px,#f0f3f5 106.5px,#f9ece5 107.5px,#faccb6 108.5px,#e98f73 109.5px,#cd5748 110.5px,#c44a3f 111.5px,#dd8371 112.5px,#f5f0ee 113.5px,#f6f7f7 114.5px,#f6f7f7 144.5px,#fafbfb 145.5px)"></i><i style="top:110px;background:linear-gradient(90deg,#fdfdfd 0.5px,#f6f7f7 1.5px,#f6f7f7 33.5px,#89b7d5 34.5px,#3a75af 35.5px,#3870ac 36.5px,#4e91c1 37.5px,#94c5de 38.5px,#d3e6f0 39.5px,#f0f3f4 40.5px,#f9efe9 41.5px,#fcd4bf 45.5px,#f2a281 49.5px,#d76751 53.5px,#c64c40 56.5px,#c1453c 59.5px,#ca5344 62.5px,#d86751 64.5px,#e6856a 66.5px,#f5ac8a 68.5px,#fce1d1 71.5px,#f9ede6 72.5px,#eff3f5 73.5px,#cce2ee 75.5px,#5fa5cc 80.5px,#4d99c6 81.5px,#4288bc 83.5px,#3d7cb4 86.5px,#3e80b6 89.5px,#4791c1 92.5px,#509bc7 93.5px,#a5cfe4 98.5px,#cee3ef 101.5px,#f1f3f4 105.5px,#fae9df 106.5px,#f8c3a9 107.5px,#e17d65 108.5px,#be423b 109.5px,#b43231 110.5px,#cd5e50 111.5px,#f2dfda 112.5px,#f6f7f7 113.5px,#f6f7f7 144.5px,#fafbfb 145.5px)"></i><i style="top:111px;background:linear-gradient(90deg,#fdfdfd 0.5px,#f6f7f7 1.5px,#f6f7f7 34.5px,#83adcf 35.5px,#34639f 36.5px,#335d96 37.5px,#4281b5 38.5px,#80b8d7 39.5px,#c8e1ed 40.5px,#ecf1f4 41.5px,#f8f0eb 42.5px,#fcd7c2 46.5px,#f09c7c 51.5px,#da6c55 55.5px,#d05b49 58.5px,#d25e4a 61.5px,#df745c 64.5px,#f2a280 67.5px,#fce2d3 71.5px,#f9ede7 72.5px,#eff3f5 73.5px,#bad9e9 76.5px,#5ca3cc 81.5px,#4894c3 83.5px,#438bbd 86.5px,#4691c1 89.5px,#549dc8 91.5px,#abd2e5 97.5px,#d0e4ef 100.5px,#e7f0f4 103.5px,#f4f3f2 104.5px,#fae3d6 105.5px,#f4b498 106.5px,#d56855 107.5px,#aa3030 108.5px,#9c2429 109.5px,#c04a44 110.5px,#f0dbd7 111.5px,#f6f7f7 112.5px,#f6f7f7 144.5px,#fafbfb 145.5px)"></i><i style="top:112px;background:linear-gradient(90deg,#fdfdfd 0.5px,#f6f7f7 1.5px,#f6f7f7 35.5px,#80a6ca 36.5px,#305387 37.5px,#2e4979 38.5px,#396da3 39.5px,#68a6cd 40.5px,#b7d7e8 41.5px,#e5eef3 42.5px,#f6f2ef 43.5px,#fcdfcf 46.5px,#f8bda0 50.5px,#f09d7c 53.5px,#e0785f 57.5px,#dd7059 60.5px,#e37d63 63.5px,#f19e7d 66.5px,#f7ba9c 68.5px,#fcd9c4 70.5px,#f9eee8 72.5px,#f0f3f5 73.5px,#c1ddeb 76.5px,#70afd3 81.5px,#569fc9 84.5px,#559ec9 87.5px,#69abd0 90.5px,#bedbeb 97.5px,#ebf1f5 102.5px,#f6f1ed 103.5px,#fad9c8 104.5px,#ed9e83 105.5px,#c44f44 106.5px,#8e2428 107.5px,#801f25 108.5px,#b85354 109.5px,#edd8d5 110.5px,#f6f7f7 111.5px,#f6f7f7 144.5px,#fafbfb 145.5px)"></i><i style="top:113px;background:linear-gradient(90deg,#fdfdfd 0.5px,#f6f7f7 1.5px,#f6f7f7 36.5px,#96b0cd 37.5px,#2d4674 38.5px,#2b3860 39.5px,#315689 40.5px,#5190bf 41.5px,#9dc9e0 42.5px,#d8e9f1 43.5px,#f2f2f2 44.5px,#fbe6db 46.5px,#fbceb6 50.5px,#f2a381 55.5px,#e98c6e 59.5px,#ea8e70 62.5px,#f3a381 65.5px,#f9c3a9 68.5px,#fbe6d9 71.5px,#f9efe9 72.5px,#f1f4f5 73.5px,#91c4de 80.5px,#77b3d5 83.5px,#71b0d3 86.5px,#80bad8 89.5px,#d5e7f1 98.5px,#eff3f4 101.5px,#f9ebe3 102.5px,#f9c9b2 103.5px,#e18169 104.5px,#ab3835 105.5px,#711d22 106.5px,#691c21 107.5px,#ad4e51 108.5px,#f2ebeb 109.5px,#f6f7f7 110.5px,#f6f7f7 144.5px,#fafbfb 145.5px)"></i><i style="top:114px;background:linear-gradient(90deg,#fdfdfd 0.5px,#f6f7f7 1.5px,#f6f7f7 37.5px,#adbed4 38.5px,#2d416d 39.5px,#2a3358 40.5px,#2d416d 41.5px,#3e74a8 42.5px,#7ab2d4 43.5px,#c3deec 44.5px,#e9f0f4 45.5px,#f7f1ed 46.5px,#fce0cf 49.5px,#f5ad8d 57.5px,#f3a483 60.5px,#f4a987 63.5px,#f8bb9e 66.5px,#fce1d1 70.5px,#f8f0eb 72.5px,#f1f4f6 73.5px,#a3cee3 80.5px,#91c4dd 83.5px,#8fc3dd 86.5px,#a3cee3 90.5px,#d3e6f0 96.5px,#e9f1f5 99.5px,#f5f2f0 100.5px,#fae0d2 101.5px,#f2ae93 102.5px,#cd5e4e 103.5px,#8b2629 104.5px,#601b20 105.5px,#621b20 106.5px,#af6568 107.5px,#f2ebeb 108.5px,#f6f7f7 109.5px,#f6f7f7 144.5px,#fafbfb 145.5px)"></i><i style="top:115px;background:linear-gradient(90deg,#fdfdfd 0.5px,#f6f7f7 1.5px,#f6f7f7 38.5px,#d1d9e3 39.5px,#45557a 40.5px,#2a3358 41.5px,#2a365c 42.5px,#325688 43.5px,#5694c1 44.5px,#a1cbe1 45.5px,#d9e9f1 46.5px,#f1f2f3 47.5px,#fae8dd 49.5px,#f9c1a6 57.5px,#f7b89a 61.5px,#f8bea2 64.5px,#fbd0b8 67.5px,#f8f1ed 72.5px,#f2f4f6 73.5px,#b5d7e8 80.5px,#a7d0e4 83.5px,#aad1e5 87.5px,#e6eff4 97.5px,#f0f3f4 98.5px,#f9ebe3 99.5px,#f9cab4 100.5px,#e4876f 101.5px,#ac3c37 102.5px,#6e1d22 103.5px,#5c1a1f 104.5px,#631b20 105.5px,#be8c8e 106.5px,#f6f7f7 107.5px,#f6f7f7 144.5px,#fafbfb 145.5px)"></i><i style="top:116px;background:linear-gradient(90deg,#fdfdfd 0.5px,#f6f7f7 1.5px,#f6f7f7 39.5px,#eaedf0 40.5px,#6b7794 41.5px,#2a3359 42.5px,#2a3358 43.5px,#2c3f69 44.5px,#3c6fa2 45.5px,#73add0 46.5px,#bad9e9 47.5px,#e3edf3 48.5px,#f4f2f1 49.5px,#fbe4d6 52.5px,#fbccb4 59.5px,#facbb3 63.5px,#fddbc7 67.5px,#f8f2ef 72.5px,#f3f5f6 73.5px,#cbe2ee 79.5px,#bbdaea 83.5px,#c0dceb 87.5px,#e4eef4 95.5px,#eef2f5 96.5px,#f7efea 97.5px,#fad9c8 98.5px,#efa58b 99.5px,#c8594b 100.5px,#842528 101.5px,#5e1a1f 102.5px,#5c1a1f 103.5px,#6f292e 104.5px,#d8c1c2 105.5px,#f6f7f7 106.5px,#f6f7f7 144.5px,#fafbfb 145.5px)"></i><i style="top:117px;background:linear-gradient(90deg,#fdfdfd 0.5px,#f6f7f7 1.5px,#f6f7f7 41.5px,#9ea6b9 42.5px,#374064 43.5px,#2a3358 44.5px,#2a345a 45.5px,#2f4c7b 46.5px,#4984b5 47.5px,#88bcd9 48.5px,#c6dfec 49.5px,#e7eff4 50.5px,#f5f2f0 51.5px,#fbe5d8 54.5px,#fdd9c5 61.5px,#fcdecd 66.5px,#f9efe9 71.5px,#f3f5f6 73.5px,#d9e9f1 78.5px,#cde3ee 84.5px,#dbeaf2 91.5px,#eef2f5 94.5px,#f6f0ed 95.5px,#fae0d1 96.5px,#f4b69c 97.5px,#d8715d 98.5px,#9c3130 99.5px,#661c21 100.5px,#5c1a1f 101.5px,#5c1a1f 102.5px,#936064 103.5px,#eee9ea 104.5px,#f6f7f7 105.5px,#f6f7f7 144.5px,#fafbfb 145.5px)"></i><i style="top:118px;background:linear-gradient(90deg,#fdfdfd 0.5px,#f6f7f7 1.5px,#f6f7f7 42.5px,#dde0e5 43.5px,#5d6784 44.5px,#2a3358 45.5px,#2a3358 46.5px,#2b375f 47.5px,#33588a 48.5px,#5390be 49.5px,#92c2dd 50.5px,#c9e1ed 51.5px,#e7eff4 52.5px,#f4f2f1 53.5px,#fae7dd 56.5px,#fce1d2 61.5px,#fbe4d7 66.5px,#f4f6f6 73.5px,#dcebf2 79.5px,#d8e9f1 85.5px,#e2edf3 90.5px,#eff3f4 92.5px,#f7f0ec 93.5px,#fae1d3 94.5px,#f6bda3 95.5px,#df7e67 96.5px,#ac3d38 97.5px,#711e23 98.5px,#5c1a1f 99.5px,#5c1a1f 100.5px,#69282d 101.5px,#c9b2b4 102.5px,#f6f7f7 103.5px,#f6f7f7 144.5px,#fafbfb 145.5px)"></i><i style="top:119px;background:linear-gradient(90deg,#fdfdfd 0.5px,#f6f7f7 1.5px,#f6f7f7 44.5px,#aab0bf 45.5px,#374266 46.5px,#2a3358 47.5px,#2a3358 48.5px,#2b3b64 49.5px,#355f92 50.5px,#5794c1 51.5px,#91c2dc 52.5px,#c5dfec 53.5px,#e2edf3 54.5px,#f1f2f3 55.5px,#f9eee8 57.5px,#fae7dc 61.5px,#faeae1 67.5px,#f4f6f6 73.5px,#e1edf3 80.5px,#e2edf3 86.5px,#f3f3f3 90.5px,#f8eee7 91.5px,#faddcd 92.5px,#f6baa1 93.5px,#e18169 94.5px,#b4433c 95.5px,#7a2125 96.5px,#5d1a1f 97.5px,#5d1a1f 99.5px,#9b6e71 100.5px,#eee9ea 101.5px,#f6f7f7 102.5px,#f6f7f7 144.5px,#fafbfb 145.5px)"></i><i style="top:120px;background:linear-gradient(90deg,#fdfdfd 0.5px,#f6f7f7 1.5px,#f6f7f7 45.5px,#e9ecef 46.5px,#374064 48.5px,#2a3358 49.5px,#2a3358 50.5px,#2c3d68 51.5px,#356194 52.5px,#5291bf 53.5px,#86bbd8 54.5px,#b8d8e8 55.5px,#d8e8f1 56.5px,#e9f0f4 57.5px,#f7f2f0 59.5px,#f9ece4 63.5px,#f8f2ee 70.5px,#f2f5f6 74.5px,#e6eff4 82.5px,#eef3f5 86.5px,#f7f1ed 88.5px,#fae7dd 89.5px,#fad4bf 90.5px,#f3af94 91.5px,#de7a63 92.5px,#b4423b 93.5px,#7e2225 94.5px,#5f1a1f 95.5px,#5d1a1f 97.5px,#885256 98.5px,#dccecf 99.5px,#f6f7f7 100.5px,#f6f7f7 144.5px,#fafbfb 145.5px)"></i><i style="top:121px;background:linear-gradient(90deg,#fdfdfd 0.5px,#f6f7f7 1.5px,#f6f7f7 47.5px,#e9ecee 48.5px,#374266 50.5px,#2a3358 51.5px,#2a3358 52.5px,#2c3e69 53.5px,#345f93 54.5px,#4a88ba 55.5px,#73aed1 56.5px,#a3cde2 57.5px,#c6e0ec 58.5px,#dceaf2 59.5px,#f1f3f5 61.5px,#f8f1ed 65.5px,#f3f5f6 74.5px,#eef3f5 81.5px,#f5f3f2 84.5px,#fae9df 86.5px,#fbdbca 87.5px,#f8c3aa 88.5px,#ed9d81 89.5px,#d66b57 90.5px,#b03c37 91.5px,#7f2125 92.5px,#601b20 93.5px,#5c1a1f 94.5px,#5e1a1f 95.5px,#8b5256 96.5px,#d5c1c2 97.5px,#f6f7f7 98.5px,#f6f7f7 144.5px,#fafbfb 145.5px)"></i><i style="top:122px;background:linear-gradient(90deg,#fdfdfd 0.5px,#f6f7f7 1.5px,#f6f7f7 49.5px,#eaecf0 50.5px,#929db4 51.5px,#455479 52.5px,#2a365d 53.5px,#2a3459 54.5px,#2c406c 55.5px,#335e94 56.5px,#407fb4 57.5px,#5ea0c9 58.5px,#87bdda 59.5px,#aed3e6 60.5px,#c8e1ed 61.5px,#dae9f1 62.5px,#ecf2f5 64.5px,#f6f5f4 68.5px,#f5f5f5 79.5px,#f9ede6 82.5px,#fae7db 83.5px,#fbdbca 84.5px,#f9c9b1 85.5px,#f3ac90 86.5px,#e5866c 87.5px,#ce5a4b 88.5px,#ad3533 89.5px,#832125 90.5px,#621b20 91.5px,#5e1a1f 92.5px,#6b1c21 93.5px,#a26f72 94.5px,#e0cfd0 95.5px,#f6f7f7 96.5px,#f6f7f7 144.5px,#fafbfb 145.5px)"></i><i style="top:123px;background:linear-gradient(90deg,#fdfdfd 0.5px,#f6f7f7 1.5px,#f6f7f7 52.5px,#b8c5d7 53.5px,#6e85a8 54.5px,#2f4e80 55.5px,#2e4a7b 56.5px,#305389 57.5px,#3566a2 58.5px,#3d7db4 59.5px,#5095c3 60.5px,#94c5de 62.5px,#b2d5e7 63.5px,#c7e0ed 64.5px,#e0ecf3 66.5px,#f3f5f6 70.5px,#f7f4f2 76.5px,#faeae0 79.5px,#fbdac7 81.5px,#facab2 82.5px,#f6b497 83.5px,#de755d 85.5px,#b43433 87.5px,#9a2428 88.5px,#862025 89.5px,#832025 90.5px,#993e41 91.5px,#c99a9c 92.5px,#f0eaea 93.5px,#f6f7f7 94.5px,#f6f7f7 144.5px,#fafbfb 145.5px)"></i><i style="top:124px;background:linear-gradient(90deg,#fdfdfd 0.5px,#f6f7f7 1.5px,#f6f7f7 54.5px,#eaeff3 55.5px,#7399c2 57.5px,#3973ad 58.5px,#3a75af 59.5px,#428abd 61.5px,#519bc7 62.5px,#8ec2dc 64.5px,#bedbea 66.5px,#dbeaf2 68.5px,#f4f6f6 72.5px,#f7f4f2 74.5px,#fbe6da 77.5px,#fbd3bd 79.5px,#f5ad8e 81.5px,#d4614d 84.5px,#c64d41 85.5px,#bc3e39 86.5px,#b83935 87.5px,#c15b58 88.5px,#d28b89 89.5px,#ead3d3 90.5px,#f6f7f7 91.5px,#f6f7f7 144.5px,#fafbfb 145.5px)"></i><i style="top:125px;background:linear-gradient(90deg,#fdfdfd 0.5px,#f6f7f7 1.5px,#f6f7f7 58.5px,#a0c6dd 60.5px,#7bb2d3 61.5px,#80b6d5 62.5px,#9ac7de 64.5px,#d8e8f1 68.5px,#f4f6f6 72.5px,#f7f4f1 74.5px,#fbe4d7 77.5px,#f2b39a 81.5px,#e69986 83.5px,#e39381 84.5px,#e49f91 85.5px,#f2e5e2 87.5px,#f6f7f7 88.5px,#f6f7f7 144.5px,#fafbfb 145.5px)"></i><i style="top:126px;height:19px;background:linear-gradient(90deg,#fdfdfd 0.5px,#f6f7f7 1.5px,#f6f7f7 144.5px,#fafbfb 145.5px)"></i><i style="top:145px;background:linear-gradient(90deg,#fefefe 0.5px,#fafbfb 9.5px,#fdfdfd 145.5px)"></i></div>
<div class="cb" style="left:423.6px;top:19.3px;width:7.8px;height:146.1px;background:linear-gradient(180deg,#fee9dd 0%,#fcdac8 4.17%,#faccb0 8.33%,#f8bb99 12.5%,#f7ab84 16.67%,#f69a71 20.83%,#f58860 25%,#f37550 29.17%,#f06144 33.33%,#ec4c3e 37.5%,#e43840 41.67%,#d92847 45.83%,#cb1b4f 50%,#bb1656 54.17%,#a9185a 58.33%,#971c5b 62.5%,#851e5b 66.67%,#731f57 70.83%,#632052 75%,#54204a 79.17%,#451f41 83.33%,#371c36 87.5%,#29192a 91.67%,#1b131e 95.83%,#0f0e13 100%)"></div>
<div class="cb" style="left:423.6px;top:212.8px;width:7.9px;height:146.1px;background:linear-gradient(180deg,#2a3358 0%,#2e4776 4.17%,#325d97 8.33%,#3871ad 12.5%,#4083b8 16.67%,#4996c4 20.83%,#68abd0 25%,#89bfdb 29.17%,#a5cfe4 33.33%,#c0dceb 37.5%,#d6e8f1 41.67%,#e6eff4 45.83%,#f6f7f7 50%,#f9ece4 54.17%,#fce0d0 58.33%,#fbceb7 62.5%,#f7b89a 66.67%,#f2a07e 70.83%,#e58368 75%,#d86852 79.17%,#c74f42 83.33%,#b63534 87.5%,#9f2429 91.67%,#7d1f24 95.83%,#5c1a1f 100%)"></div>
<div class="cb" style="left:642.8px;top:19.8px;width:8px;height:146.2px;background:linear-gradient(180deg,#2a3358 0%,#2e4776 4.17%,#325d97 8.33%,#3871ad 12.5%,#4083b8 16.67%,#4996c4 20.83%,#68abd0 25%,#89bfdb 29.17%,#a5cfe4 33.33%,#c0dceb 37.5%,#d6e8f1 41.67%,#e6eff4 45.83%,#f6f7f7 50%,#f9ece4 54.17%,#fce0d0 58.33%,#fbceb7 62.5%,#f7b89a 66.67%,#f2a07e 70.83%,#e58368 75%,#d86852 79.17%,#c74f42 83.33%,#b63534 87.5%,#9f2429 91.67%,#7d1f24 95.83%,#5c1a1f 100%)"></div>
<div class="cb" style="left:642.6px;top:213.1px;width:8.1px;height:145.8px;background:linear-gradient(180deg,#2a3358 0%,#2e4776 4.17%,#325d97 8.33%,#3871ad 12.5%,#4083b8 16.67%,#4996c4 20.83%,#68abd0 25%,#89bfdb 29.17%,#a5cfe4 33.33%,#c0dceb 37.5%,#d6e8f1 41.67%,#e6eff4 45.83%,#f6f7f7 50%,#f9ece4 54.17%,#fce0d0 58.33%,#fbceb7 62.5%,#f7b89a 66.67%,#f2a07e 70.83%,#e58368 75%,#d86852 79.17%,#c74f42 83.33%,#b63534 87.5%,#9f2429 91.67%,#7d1f24 95.83%,#5c1a1f 100%)"></div>
<svg id="sv" width="685" height="397" viewBox="0 0 685 397">
<text x="7.93" y="12.4" font-size="17.5" style="font-family:'Liberation Serif',serif;font-weight:bold" fill="#000" textLength="23.14" lengthAdjust="spacingAndGlyphs">(a)</text>
<text x="9.25" y="216.2" font-size="17.5" style="font-family:'Liberation Serif',serif;font-weight:bold" fill="#000" textLength="23.6" lengthAdjust="spacingAndGlyphs">(b)</text>
<text x="217.07" y="12.6" font-size="17.5" style="font-family:'Liberation Serif',serif;font-weight:bold" fill="#000" textLength="20.96" lengthAdjust="spacingAndGlyphs">(c)</text>
<text x="217.64" y="216.9" font-size="17.5" style="font-family:'Liberation Serif',serif;font-weight:bold" fill="#000" textLength="23.81" lengthAdjust="spacingAndGlyphs">(d)</text>
<text x="466.15" y="12.6" font-size="17.5" style="font-family:'Liberation Serif',serif;font-weight:bold" fill="#000" textLength="21.39" lengthAdjust="spacingAndGlyphs">(e)</text>
<text x="466.85" y="216.9" font-size="17.5" style="font-family:'Liberation Serif',serif;font-weight:bold" fill="#000" textLength="19.3" lengthAdjust="spacingAndGlyphs">(f)</text>
<line x1="56.5" y1="26.1" x2="205.4" y2="26.1" stroke="#7f7f7f" stroke-width="1.3" stroke-dasharray="4.6 2.4"/>
<clipPath id="clipa"><rect x="56.5" y="19.6" width="148.9" height="144.6"/></clipPath>
<g clip-path="url(#clipa)">
<polyline points="81.32,26.1 87.52,37.63 93.72,47.32 99.93,61.99 106.13,72.47 112.34,83.11 118.54,92.6 124.74,103.39 130.95,112.4 137.15,117.01 143.36,118.48 149.56,121.47 155.76,117.01 161.97,108.89 168.17,99.72 174.38,81.12 180.58,64.88 186.78,44.6 192.99,29.09" fill="none" stroke="#1f77b4" stroke-width="1.6" stroke-linejoin="round"/>
<circle cx="81.32" cy="26.1" r="2.0" fill="#1f77b4"/>
<circle cx="87.52" cy="37.63" r="2.0" fill="#1f77b4"/>
<circle cx="93.72" cy="47.32" r="2.0" fill="#1f77b4"/>
<circle cx="99.93" cy="61.99" r="2.0" fill="#1f77b4"/>
<circle cx="106.13" cy="72.47" r="2.0" fill="#1f77b4"/>
<circle cx="112.34" cy="83.11" r="2.0" fill="#1f77b4"/>
<circle cx="118.54" cy="92.6" r="2.0" fill="#1f77b4"/>
<circle cx="124.74" cy="103.39" r="2.0" fill="#1f77b4"/>
<circle cx="130.95" cy="112.4" r="2.0" fill="#1f77b4"/>
<circle cx="137.15" cy="117.01" r="2.0" fill="#1f77b4"/>
<circle cx="143.36" cy="118.48" r="2.0" fill="#1f77b4"/>
<circle cx="149.56" cy="121.47" r="2.0" fill="#1f77b4"/>
<circle cx="155.76" cy="117.01" r="2.0" fill="#1f77b4"/>
<circle cx="161.97" cy="108.89" r="2.0" fill="#1f77b4"/>
<circle cx="168.17" cy="99.72" r="2.0" fill="#1f77b4"/>
<circle cx="174.38" cy="81.12" r="2.0" fill="#1f77b4"/>
<circle cx="180.58" cy="64.88" r="2.0" fill="#1f77b4"/>
<circle cx="186.78" cy="44.6" r="2.0" fill="#1f77b4"/>
<circle cx="192.99" cy="29.09" r="2.0" fill="#1f77b4"/>
<polyline points="106.13,31.08 112.34,47.69 118.54,71.69 124.74,99.98 130.95,120.79 137.15,133.52 143.36,144.42 149.56,152.59 155.76,157.1 161.97,157.99 168.17,154.11 174.38,147.09 180.58,135.3 186.78,123.51 192.99,108.58" fill="none" stroke="#ff7f0e" stroke-width="1.6" stroke-linejoin="round"/>
<circle cx="106.13" cy="31.08" r="2.0" fill="#ff7f0e"/>
<circle cx="112.34" cy="47.69" r="2.0" fill="#ff7f0e"/>
<circle cx="118.54" cy="71.69" r="2.0" fill="#ff7f0e"/>
<circle cx="124.74" cy="99.98" r="2.0" fill="#ff7f0e"/>
<circle cx="130.95" cy="120.79" r="2.0" fill="#ff7f0e"/>
<circle cx="137.15" cy="133.52" r="2.0" fill="#ff7f0e"/>
<circle cx="143.36" cy="144.42" r="2.0" fill="#ff7f0e"/>
<circle cx="149.56" cy="152.59" r="2.0" fill="#ff7f0e"/>
<circle cx="155.76" cy="157.1" r="2.0" fill="#ff7f0e"/>
<circle cx="161.97" cy="157.99" r="2.0" fill="#ff7f0e"/>
<circle cx="168.17" cy="154.11" r="2.0" fill="#ff7f0e"/>
<circle cx="174.38" cy="147.09" r="2.0" fill="#ff7f0e"/>
<circle cx="180.58" cy="135.3" r="2.0" fill="#ff7f0e"/>
<circle cx="186.78" cy="123.51" r="2.0" fill="#ff7f0e"/>
<circle cx="192.99" cy="108.58" r="2.0" fill="#ff7f0e"/>
<polyline points="81.32,45.23 87.52,72.11 93.72,77.09 99.93,83.48 106.13,86.36 112.34,90.19 118.54,87.93" fill="none" stroke="#2ca02c" stroke-width="1.6" stroke-linejoin="round"/>
<circle cx="81.32" cy="45.23" r="2.0" fill="#2ca02c"/>
<circle cx="87.52" cy="72.11" r="2.0" fill="#2ca02c"/>
<circle cx="93.72" cy="77.09" r="2.0" fill="#2ca02c"/>
<circle cx="99.93" cy="83.48" r="2.0" fill="#2ca02c"/>
<circle cx="106.13" cy="86.36" r="2.0" fill="#2ca02c"/>
<circle cx="112.34" cy="90.19" r="2.0" fill="#2ca02c"/>
<circle cx="118.54" cy="87.93" r="2.0" fill="#2ca02c"/>
<polyline points="62.7,38.2 68.91,43.18 75.11,51.09 81.32,55.92 87.52,61 93.72,65.82 99.93,70.38" fill="none" stroke="#d62728" stroke-width="1.6" stroke-linejoin="round"/>
<circle cx="62.7" cy="38.2" r="2.0" fill="#d62728"/>
<circle cx="68.91" cy="43.18" r="2.0" fill="#d62728"/>
<circle cx="75.11" cy="51.09" r="2.0" fill="#d62728"/>
<circle cx="81.32" cy="55.92" r="2.0" fill="#d62728"/>
<circle cx="87.52" cy="61" r="2.0" fill="#d62728"/>
<circle cx="93.72" cy="65.82" r="2.0" fill="#d62728"/>
<circle cx="99.93" cy="70.38" r="2.0" fill="#d62728"/>
</g>
<rect x="56.5" y="19.6" width="148.9" height="144.6" fill="none" stroke="#000" stroke-width="0.95"/>
<line x1="56.5" y1="164.2" x2="56.5" y2="165.9" stroke="#000" stroke-width="0.95" />
<line x1="68.91" y1="164.2" x2="68.91" y2="165.9" stroke="#000" stroke-width="0.95" />
<line x1="81.32" y1="164.2" x2="81.32" y2="167.2" stroke="#000" stroke-width="0.95" />
<line x1="93.72" y1="164.2" x2="93.72" y2="165.9" stroke="#000" stroke-width="0.95" />
<line x1="106.13" y1="164.2" x2="106.13" y2="165.9" stroke="#000" stroke-width="0.95" />
<line x1="118.54" y1="164.2" x2="118.54" y2="165.9" stroke="#000" stroke-width="0.95" />
<line x1="130.95" y1="164.2" x2="130.95" y2="165.9" stroke="#000" stroke-width="0.95" />
<line x1="143.36" y1="164.2" x2="143.36" y2="167.2" stroke="#000" stroke-width="0.95" />
<line x1="155.76" y1="164.2" x2="155.76" y2="165.9" stroke="#000" stroke-width="0.95" />
<line x1="168.17" y1="164.2" x2="168.17" y2="165.9" stroke="#000" stroke-width="0.95" />
<line x1="180.58" y1="164.2" x2="180.58" y2="165.9" stroke="#000" stroke-width="0.95" />
<line x1="192.99" y1="164.2" x2="192.99" y2="165.9" stroke="#000" stroke-width="0.95" />
<line x1="205.4" y1="164.2" x2="205.4" y2="167.2" stroke="#000" stroke-width="0.95" />
<rect x="69.22" y="175.09" width="7.52" height="0.86" fill="#000"/>
<text x="77.77 84.09 87.34" y="178.6" font-size="12.32" style="font-family:'Liberation Serif',serif">1.5</text>
<rect x="131.26" y="175.09" width="7.52" height="0.86" fill="#000"/>
<text x="139.8 146.12 149.37" y="178.6" font-size="12.32" style="font-family:'Liberation Serif',serif">1.0</text>
<rect x="193.3" y="175.09" width="7.52" height="0.86" fill="#000"/>
<text x="201.85 208.17 211.42" y="178.6" font-size="12.32" style="font-family:'Liberation Serif',serif">0.5</text>
<line x1="56.5" y1="20.86" x2="54.9" y2="20.86" stroke="#000" stroke-width="0.95" />
<line x1="56.5" y1="26.1" x2="53.5" y2="26.1" stroke="#000" stroke-width="0.95" />
<line x1="56.5" y1="31.34" x2="54.9" y2="31.34" stroke="#000" stroke-width="0.95" />
<line x1="56.5" y1="36.58" x2="54.9" y2="36.58" stroke="#000" stroke-width="0.95" />
<line x1="56.5" y1="41.82" x2="54.9" y2="41.82" stroke="#000" stroke-width="0.95" />
<line x1="56.5" y1="47.06" x2="54.9" y2="47.06" stroke="#000" stroke-width="0.95" />
<line x1="56.5" y1="52.3" x2="53.5" y2="52.3" stroke="#000" stroke-width="0.95" />
<line x1="56.5" y1="57.54" x2="54.9" y2="57.54" stroke="#000" stroke-width="0.95" />
<line x1="56.5" y1="62.78" x2="54.9" y2="62.78" stroke="#000" stroke-width="0.95" />
<line x1="56.5" y1="68.02" x2="54.9" y2="68.02" stroke="#000" stroke-width="0.95" />
<line x1="56.5" y1="73.26" x2="54.9" y2="73.26" stroke="#000" stroke-width="0.95" />
<line x1="56.5" y1="78.5" x2="53.5" y2="78.5" stroke="#000" stroke-width="0.95" />
<line x1="56.5" y1="83.74" x2="54.9" y2="83.74" stroke="#000" stroke-width="0.95" />
<line x1="56.5" y1="88.98" x2="54.9" y2="88.98" stroke="#000" stroke-width="0.95" />
<line x1="56.5" y1="94.22" x2="54.9" y2="94.22" stroke="#000" stroke-width="0.95" />
<line x1="56.5" y1="99.46" x2="54.9" y2="99.46" stroke="#000" stroke-width="0.95" />
<line x1="56.5" y1="104.7" x2="53.5" y2="104.7" stroke="#000" stroke-width="0.95" />
<line x1="56.5" y1="109.94" x2="54.9" y2="109.94" stroke="#000" stroke-width="0.95" />
<line x1="56.5" y1="115.18" x2="54.9" y2="115.18" stroke="#000" stroke-width="0.95" />
<line x1="56.5" y1="120.42" x2="54.9" y2="120.42" stroke="#000" stroke-width="0.95" />
<line x1="56.5" y1="125.66" x2="54.9" y2="125.66" stroke="#000" stroke-width="0.95" />
<line x1="56.5" y1="130.9" x2="53.5" y2="130.9" stroke="#000" stroke-width="0.95" />
<line x1="56.5" y1="136.14" x2="54.9" y2="136.14" stroke="#000" stroke-width="0.95" />
<line x1="56.5" y1="141.38" x2="54.9" y2="141.38" stroke="#000" stroke-width="0.95" />
<line x1="56.5" y1="146.62" x2="54.9" y2="146.62" stroke="#000" stroke-width="0.95" />
<line x1="56.5" y1="151.86" x2="54.9" y2="151.86" stroke="#000" stroke-width="0.95" />
<line x1="56.5" y1="157.1" x2="53.5" y2="157.1" stroke="#000" stroke-width="0.95" />
<line x1="56.5" y1="162.34" x2="54.9" y2="162.34" stroke="#000" stroke-width="0.95" />
<text x="26.62 33.36 36.93 43.8" y="30.2" font-size="11.44" style="font-family:'Liberation Sans',sans-serif">0.00</text>
<rect x="18.69" y="52.57" width="6.76" height="0.9" fill="#000"/>
<text x="26.85 33.59 37.15 43.98" y="56.4" font-size="11.44" style="font-family:'Liberation Sans',sans-serif">0.05</text>
<rect x="18.46" y="78.77" width="6.76" height="0.9" fill="#000"/>
<text x="26.62 33.36 36.87 43.8" y="82.6" font-size="11.44" style="font-family:'Liberation Sans',sans-serif">0.10</text>
<rect x="18.69" y="104.97" width="6.76" height="0.9" fill="#000"/>
<text x="26.85 33.59 37.09 43.98" y="108.8" font-size="11.44" style="font-family:'Liberation Sans',sans-serif">0.15</text>
<rect x="18.46" y="131.17" width="6.76" height="0.9" fill="#000"/>
<text x="26.62 33.36 36.78 43.8" y="135" font-size="11.44" style="font-family:'Liberation Sans',sans-serif">0.20</text>
<rect x="18.69" y="157.37" width="6.76" height="0.9" fill="#000"/>
<text x="26.85 33.59 37.01 43.98" y="161.2" font-size="11.44" style="font-family:'Liberation Sans',sans-serif">0.25</text>
<line x1="61.3" y1="115.9" x2="84.4" y2="115.9" stroke="#1f77b4" stroke-width="1.6" />
<circle cx="72.9" cy="115.9" r="2.0" fill="#1f77b4"/>
<text x="86.8" y="119.9" font-size="11.9" style="font-family:'Liberation Sans',sans-serif" fill="#000" textLength="32.69" lengthAdjust="spacingAndGlyphs">SP/VP</text>
<line x1="61.3" y1="129.05" x2="84.4" y2="129.05" stroke="#ff7f0e" stroke-width="1.6" />
<circle cx="72.9" cy="129.05" r="2.0" fill="#ff7f0e"/>
<text x="86.22" y="133.05" font-size="11.9" style="font-family:'Liberation Sans',sans-serif" fill="#000" textLength="19.42" lengthAdjust="spacingAndGlyphs">IVC</text>
<line x1="61.3" y1="142.2" x2="84.4" y2="142.2" stroke="#2ca02c" stroke-width="1.6" />
<circle cx="72.9" cy="142.2" r="2.0" fill="#2ca02c"/>
<text x="86.22" y="146.2" font-size="11.9" style="font-family:'Liberation Sans',sans-serif" fill="#000" textLength="29.31" lengthAdjust="spacingAndGlyphs">IVC-s</text>
<line x1="61.3" y1="155.35" x2="84.4" y2="155.35" stroke="#d62728" stroke-width="1.6" />
<circle cx="72.9" cy="155.35" r="2.0" fill="#d62728"/>
<text x="86.82" y="159.35" font-size="11.9" style="font-family:'Liberation Sans',sans-serif" fill="#000" textLength="22.92" lengthAdjust="spacingAndGlyphs">SP-v</text>
<g transform="translate(82.36,197.5) scale(1.2215,1)">
<text x="0" y="0" font-size="14.6" style="font-family:'Liberation Serif',serif;font-style:italic;white-space:pre">n</text>
<text x="7.3" y="2.6" font-size="10.2" style="font-family:'Liberation Serif',serif;font-style:italic;white-space:pre">e</text>
<text x="11.83" y="0" font-size="14.6" style="font-family:'Liberation Serif',serif;white-space:pre"> (10</text>
<text x="34.94" y="-5.6" font-size="10.2" style="font-family:'Liberation Serif',serif;white-space:pre">12</text>
<text x="45.14" y="0" font-size="14.6" style="font-family:'Liberation Serif',serif;white-space:pre">cm</text>
<text x="62.98" y="-5.6" font-size="10.2" style="font-family:'Liberation Serif',serif;white-space:pre">−2</text>
<text x="73.83" y="0" font-size="14.6" style="font-family:'Liberation Serif',serif;white-space:pre">)</text>
</g>
<g transform="translate(10.7,139.11) rotate(-90) scale(1.1208,1)">
<text x="0" y="0" font-size="14.2" style="font-family:'Liberation Serif',serif;white-space:pre">Δ</text>
<text x="9.13" y="0" font-size="14.2" style="font-family:'Liberation Serif',serif;font-style:italic;white-space:pre">E</text>
<text x="17.81" y="0" font-size="14.2" style="font-family:'Liberation Serif',serif;font-style:italic;white-space:pre"> p. h.</text>
<text x="46.21" y="0" font-size="14.2" style="font-family:'Liberation Serif',serif;white-space:pre"> (meV)</text>
</g>
<clipPath id="clipb"><rect x="56.2" y="213.4" width="149.1" height="145.5"/></clipPath>
<g clip-path="url(#clipb)">
<rect x="56.2" y="213.4" width="149.1" height="145.5" fill="#d9e0e9"/>
<polygon points="71.11,199.34 71.63,200.01 72.24,200.82 72.94,201.74 73.72,202.78 74.58,203.92 75.52,205.15 76.52,206.46 77.59,207.84 78.72,209.28 79.91,210.78 81.15,212.32 82.44,213.88 83.81,215.52 85.3,217.26 86.87,219.09 88.53,220.99 90.24,222.96 92,224.97 93.79,227.02 95.59,229.09 97.38,231.16 99.16,233.24 100.89,235.29 102.57,237.31 104.2,239.32 105.81,241.35 107.41,243.39 108.99,245.44 110.56,247.5 112.14,249.56 113.72,251.63 115.32,253.7 116.94,255.76 118.58,257.82 120.25,259.86 121.95,261.9 123.69,263.96 125.46,266.08 127.24,268.24 129.05,270.42 130.87,272.59 132.72,274.73 134.57,276.84 136.44,278.88 138.32,280.84 140.22,282.69 142.12,284.42 144.02,286 145.95,287.45 147.93,288.78 149.95,290.01 151.99,291.14 154.04,292.19 156.09,293.17 158.13,294.08 160.14,294.94 162.12,295.76 164.05,296.55 165.92,297.32 167.73,298.08 169.46,298.8 171.12,299.46 172.74,300.06 174.3,300.61 175.84,301.12 177.34,301.59 178.83,302.04 180.32,302.48 181.8,302.9 183.3,303.32 184.82,303.75 186.36,304.19 187.99,304.65 189.72,305.12 191.52,305.59 193.36,306.05 195.19,306.51 197,306.95 198.74,307.37 200.38,307.76 201.89,308.12 203.24,308.44 204.38,308.72 205.3,308.94 207.3,211.4 71.11,211.4" fill="#fdd8bd"/>
<polyline points="71.11,199.34 71.63,200.01 72.24,200.82 72.94,201.74 73.72,202.78 74.58,203.92 75.52,205.15 76.52,206.46 77.59,207.84 78.72,209.28 79.91,210.78 81.15,212.32 82.44,213.88 83.81,215.52 85.3,217.26 86.87,219.09 88.53,220.99 90.24,222.96 92,224.97 93.79,227.02 95.59,229.09 97.38,231.16 99.16,233.24 100.89,235.29 102.57,237.31 104.2,239.32 105.81,241.35 107.41,243.39 108.99,245.44 110.56,247.5 112.14,249.56 113.72,251.63 115.32,253.7 116.94,255.76 118.58,257.82 120.25,259.86 121.95,261.9 123.69,263.96 125.46,266.08 127.24,268.24 129.05,270.42 130.87,272.59 132.72,274.73 134.57,276.84 136.44,278.88 138.32,280.84 140.22,282.69 142.12,284.42 144.02,286 145.95,287.45 147.93,288.78 149.95,290.01 151.99,291.14 154.04,292.19 156.09,293.17 158.13,294.08 160.14,294.94 162.12,295.76 164.05,296.55 165.92,297.32 167.73,298.08 169.46,298.8 171.12,299.46 172.74,300.06 174.3,300.61 175.84,301.12 177.34,301.59 178.83,302.04 180.32,302.48 181.8,302.9 183.3,303.32 184.82,303.75 186.36,304.19 187.99,304.65 189.72,305.12 191.52,305.59 193.36,306.05 195.19,306.51 197,306.95 198.74,307.37 200.38,307.76 201.89,308.12 203.24,308.44 204.38,308.72 205.3,308.94" fill="none" stroke="#1f77b4" stroke-width="1.6"/>
<circle cx="82.44" cy="213.88" r="3.1" fill="#1f77b4"/>
<circle cx="102.57" cy="237.31" r="3.1" fill="#1f77b4"/>
<circle cx="121.95" cy="261.9" r="3.1" fill="#1f77b4"/>
<circle cx="144.02" cy="286" r="3.1" fill="#1f77b4"/>
<circle cx="167.73" cy="298.08" r="3.1" fill="#1f77b4"/>
<circle cx="186.36" cy="304.19" r="3.1" fill="#1f77b4"/>
</g>
<rect x="56.2" y="213.4" width="149.1" height="145.5" fill="none" stroke="#000" stroke-width="0.95"/>
<line x1="56.2" y1="358.9" x2="56.2" y2="360.6" stroke="#000" stroke-width="0.95" />
<line x1="63.66" y1="358.9" x2="63.66" y2="360.6" stroke="#000" stroke-width="0.95" />
<line x1="71.11" y1="358.9" x2="71.11" y2="361.9" stroke="#000" stroke-width="0.95" />
<line x1="78.56" y1="358.9" x2="78.56" y2="360.6" stroke="#000" stroke-width="0.95" />
<line x1="86.02" y1="358.9" x2="86.02" y2="360.6" stroke="#000" stroke-width="0.95" />
<line x1="93.47" y1="358.9" x2="93.47" y2="360.6" stroke="#000" stroke-width="0.95" />
<line x1="100.93" y1="358.9" x2="100.93" y2="361.9" stroke="#000" stroke-width="0.95" />
<line x1="108.39" y1="358.9" x2="108.39" y2="360.6" stroke="#000" stroke-width="0.95" />
<line x1="115.84" y1="358.9" x2="115.84" y2="360.6" stroke="#000" stroke-width="0.95" />
<line x1="123.29" y1="358.9" x2="123.29" y2="360.6" stroke="#000" stroke-width="0.95" />
<line x1="130.75" y1="358.9" x2="130.75" y2="361.9" stroke="#000" stroke-width="0.95" />
<line x1="138.21" y1="358.9" x2="138.21" y2="360.6" stroke="#000" stroke-width="0.95" />
<line x1="145.66" y1="358.9" x2="145.66" y2="360.6" stroke="#000" stroke-width="0.95" />
<line x1="153.12" y1="358.9" x2="153.12" y2="360.6" stroke="#000" stroke-width="0.95" />
<line x1="160.57" y1="358.9" x2="160.57" y2="361.9" stroke="#000" stroke-width="0.95" />
<line x1="168.02" y1="358.9" x2="168.02" y2="360.6" stroke="#000" stroke-width="0.95" />
<line x1="175.48" y1="358.9" x2="175.48" y2="360.6" stroke="#000" stroke-width="0.95" />
<line x1="182.94" y1="358.9" x2="182.94" y2="360.6" stroke="#000" stroke-width="0.95" />
<line x1="190.39" y1="358.9" x2="190.39" y2="361.9" stroke="#000" stroke-width="0.95" />
<line x1="197.85" y1="358.9" x2="197.85" y2="360.6" stroke="#000" stroke-width="0.95" />
<line x1="205.3" y1="358.9" x2="205.3" y2="360.6" stroke="#000" stroke-width="0.95" />
<rect x="58.87" y="369.67" width="6.76" height="0.9" fill="#000"/>
<text x="66.97 73.77 77.33" y="373.5" font-size="11.44" style="font-family:'Liberation Sans',sans-serif">1.4</text>
<rect x="88.93" y="369.67" width="6.76" height="0.9" fill="#000"/>
<text x="97.03 103.83 107.25" y="373.5" font-size="11.44" style="font-family:'Liberation Sans',sans-serif">1.2</text>
<rect x="118.57" y="369.67" width="6.76" height="0.9" fill="#000"/>
<text x="126.67 133.47 137.03" y="373.5" font-size="11.44" style="font-family:'Liberation Sans',sans-serif">1.0</text>
<rect x="148.4" y="369.67" width="6.76" height="0.9" fill="#000"/>
<text x="156.55 163.3 166.86" y="373.5" font-size="11.44" style="font-family:'Liberation Sans',sans-serif">0.8</text>
<rect x="178.19" y="369.67" width="6.76" height="0.9" fill="#000"/>
<text x="186.35 193.09 196.65" y="373.5" font-size="11.44" style="font-family:'Liberation Sans',sans-serif">0.6</text>
<line x1="56.2" y1="358.9" x2="53.2" y2="358.9" stroke="#000" stroke-width="0.95" />
<line x1="56.2" y1="354.05" x2="54.6" y2="354.05" stroke="#000" stroke-width="0.95" />
<line x1="56.2" y1="349.2" x2="54.6" y2="349.2" stroke="#000" stroke-width="0.95" />
<line x1="56.2" y1="344.35" x2="54.6" y2="344.35" stroke="#000" stroke-width="0.95" />
<line x1="56.2" y1="339.5" x2="54.6" y2="339.5" stroke="#000" stroke-width="0.95" />
<line x1="56.2" y1="334.65" x2="53.2" y2="334.65" stroke="#000" stroke-width="0.95" />
<line x1="56.2" y1="329.8" x2="54.6" y2="329.8" stroke="#000" stroke-width="0.95" />
<line x1="56.2" y1="324.95" x2="54.6" y2="324.95" stroke="#000" stroke-width="0.95" />
<line x1="56.2" y1="320.1" x2="54.6" y2="320.1" stroke="#000" stroke-width="0.95" />
<line x1="56.2" y1="315.25" x2="54.6" y2="315.25" stroke="#000" stroke-width="0.95" />
<line x1="56.2" y1="310.4" x2="53.2" y2="310.4" stroke="#000" stroke-width="0.95" />
<line x1="56.2" y1="305.55" x2="54.6" y2="305.55" stroke="#000" stroke-width="0.95" />
<line x1="56.2" y1="300.7" x2="54.6" y2="300.7" stroke="#000" stroke-width="0.95" />
<line x1="56.2" y1="295.85" x2="54.6" y2="295.85" stroke="#000" stroke-width="0.95" />
<line x1="56.2" y1="291" x2="54.6" y2="291" stroke="#000" stroke-width="0.95" />
<line x1="56.2" y1="286.15" x2="53.2" y2="286.15" stroke="#000" stroke-width="0.95" />
<line x1="56.2" y1="281.3" x2="54.6" y2="281.3" stroke="#000" stroke-width="0.95" />
<line x1="56.2" y1="276.45" x2="54.6" y2="276.45" stroke="#000" stroke-width="0.95" />
<line x1="56.2" y1="271.6" x2="54.6" y2="271.6" stroke="#000" stroke-width="0.95" />
<line x1="56.2" y1="266.75" x2="54.6" y2="266.75" stroke="#000" stroke-width="0.95" />
<line x1="56.2" y1="261.9" x2="53.2" y2="261.9" stroke="#000" stroke-width="0.95" />
<line x1="56.2" y1="257.05" x2="54.6" y2="257.05" stroke="#000" stroke-width="0.95" />
<line x1="56.2" y1="252.2" x2="54.6" y2="252.2" stroke="#000" stroke-width="0.95" />
<line x1="56.2" y1="247.35" x2="54.6" y2="247.35" stroke="#000" stroke-width="0.95" />
<line x1="56.2" y1="242.5" x2="54.6" y2="242.5" stroke="#000" stroke-width="0.95" />
<line x1="56.2" y1="237.65" x2="53.2" y2="237.65" stroke="#000" stroke-width="0.95" />
<line x1="56.2" y1="232.8" x2="54.6" y2="232.8" stroke="#000" stroke-width="0.95" />
<line x1="56.2" y1="227.95" x2="54.6" y2="227.95" stroke="#000" stroke-width="0.95" />
<line x1="56.2" y1="223.1" x2="54.6" y2="223.1" stroke="#000" stroke-width="0.95" />
<line x1="56.2" y1="218.25" x2="54.6" y2="218.25" stroke="#000" stroke-width="0.95" />
<line x1="56.2" y1="213.4" x2="53.2" y2="213.4" stroke="#000" stroke-width="0.95" />
<text x="43.3" y="363" font-size="11.44" style="font-family:'Liberation Sans',sans-serif">0</text>
<text x="43.48" y="338.75" font-size="11.44" style="font-family:'Liberation Sans',sans-serif">5</text>
<text x="36.37 43.3" y="314.5" font-size="11.44" style="font-family:'Liberation Sans',sans-serif">10</text>
<text x="36.59 43.48" y="290.25" font-size="11.44" style="font-family:'Liberation Sans',sans-serif">15</text>
<text x="36.28 43.3" y="266" font-size="11.44" style="font-family:'Liberation Sans',sans-serif">20</text>
<text x="36.51 43.48" y="241.75" font-size="11.44" style="font-family:'Liberation Sans',sans-serif">25</text>
<text x="36.44 43.3" y="217.5" font-size="11.44" style="font-family:'Liberation Sans',sans-serif">30</text>
<text x="151.34" y="256.3" font-size="19" style="font-family:'Liberation Sans',sans-serif" fill="#000" textLength="28.1" lengthAdjust="spacingAndGlyphs">IVC</text>
<text x="80.16" y="321.8" font-size="19" style="font-family:'Liberation Sans',sans-serif" fill="#000" textLength="52.67" lengthAdjust="spacingAndGlyphs">Symm</text>
<g transform="translate(82.06,391.2) scale(1.2241,1)">
<text x="0" y="0" font-size="14.6" style="font-family:'Liberation Serif',serif;font-style:italic;white-space:pre">n</text>
<text x="7.3" y="2.6" font-size="10.2" style="font-family:'Liberation Serif',serif;font-style:italic;white-space:pre">e</text>
<text x="11.83" y="0" font-size="14.6" style="font-family:'Liberation Serif',serif;white-space:pre"> (10</text>
<text x="34.94" y="-5.6" font-size="10.2" style="font-family:'Liberation Serif',serif;white-space:pre">12</text>
<text x="45.14" y="0" font-size="14.6" style="font-family:'Liberation Serif',serif;white-space:pre">cm</text>
<text x="62.98" y="-5.6" font-size="10.2" style="font-family:'Liberation Serif',serif;white-space:pre">−2</text>
<text x="73.83" y="0" font-size="14.6" style="font-family:'Liberation Serif',serif;white-space:pre">)</text>
</g>
<g transform="translate(29.7,312.57) rotate(-90) scale(1.0867,1)">
<text x="0" y="0" font-size="14.2" style="font-family:'Liberation Serif',serif;font-style:italic;white-space:pre">u</text>
<text x="7.1" y="0" font-size="14.2" style="font-family:'Liberation Serif',serif;white-space:pre"> (meV)</text>
</g>
<rect x="272.3" y="19.9" width="145.2" height="144.9" fill="none" stroke="#000" stroke-width="0.95"/>
<line x1="302.45" y1="164.8" x2="302.45" y2="168.1" stroke="#000" stroke-width="0.95" />
<line x1="272.3" y1="134.85" x2="269" y2="134.85" stroke="#000" stroke-width="0.95" />
<line x1="344.9" y1="164.8" x2="344.9" y2="168.1" stroke="#000" stroke-width="0.95" />
<line x1="272.3" y1="92.5" x2="269" y2="92.5" stroke="#000" stroke-width="0.95" />
<line x1="387.35" y1="164.8" x2="387.35" y2="168.1" stroke="#000" stroke-width="0.95" />
<line x1="272.3" y1="50.15" x2="269" y2="50.15" stroke="#000" stroke-width="0.95" />
<text x="294.35 301.78 305.71 313.23" y="180.6" font-size="12.61" style="font-family:'Liberation Sans',sans-serif">0.05</text>
<text x="331.93 339.36 343.29 350.86" y="180.6" font-size="12.61" style="font-family:'Liberation Sans',sans-serif">0.00</text>
<text x="374.51 381.93 385.86 393.39" y="180.6" font-size="12.61" style="font-family:'Liberation Sans',sans-serif">0.05</text>
<rect x="230.63" y="135.43" width="7.45" height="0.99" fill="#000"/>
<text x="239.62 247.05 250.97 258.5" y="139.65" font-size="12.61" style="font-family:'Liberation Sans',sans-serif">0.05</text>
<text x="239.37 246.8 250.72 258.3" y="97.3" font-size="12.61" style="font-family:'Liberation Sans',sans-serif">0.00</text>
<text x="239.62 247.05 250.97 258.5" y="54.95" font-size="12.61" style="font-family:'Liberation Sans',sans-serif">0.05</text>
<g transform="translate(229.4,104.25) rotate(-90) scale(1.1143,1)">
<text x="0" y="0" font-size="16.5" style="font-family:'Liberation Serif',serif;font-style:italic;white-space:pre">a</text>
<text x="8.25" y="0" font-size="16.5" style="font-family:'Liberation Serif',serif;font-style:italic;white-space:pre">k</text>
<text x="15.57" y="2.6" font-size="11.5" style="font-family:'Liberation Serif',serif;font-style:italic;white-space:pre">y</text>
</g>
<g transform="translate(332.45,198.8) scale(1.1193,1)">
<text x="0" y="0" font-size="16.5" style="font-family:'Liberation Serif',serif;font-style:italic">a</text>
<text x="8.25" y="0" font-size="16.5" style="font-family:'Liberation Serif',serif;font-style:italic">k</text>
<text x="15.57" y="2.6" font-size="11.5" style="font-family:'Liberation Serif',serif;font-style:italic">x</text>
</g>
<rect x="271.9" y="213.2" width="145.3" height="145.2" fill="none" stroke="#000" stroke-width="0.95"/>
<line x1="302.25" y1="358.4" x2="302.25" y2="361.7" stroke="#000" stroke-width="0.95" />
<line x1="271.9" y1="328.4" x2="268.6" y2="328.4" stroke="#000" stroke-width="0.95" />
<line x1="344.6" y1="358.4" x2="344.6" y2="361.7" stroke="#000" stroke-width="0.95" />
<line x1="271.9" y1="285.95" x2="268.6" y2="285.95" stroke="#000" stroke-width="0.95" />
<line x1="386.95" y1="358.4" x2="386.95" y2="361.7" stroke="#000" stroke-width="0.95" />
<line x1="271.9" y1="243.5" x2="268.6" y2="243.5" stroke="#000" stroke-width="0.95" />
<rect x="285.17" y="369.98" width="7.45" height="0.99" fill="#000"/>
<text x="294.15 301.58 305.51 313.03" y="374.2" font-size="12.61" style="font-family:'Liberation Sans',sans-serif">0.05</text>
<text x="331.63 339.06 342.99 350.56" y="374.2" font-size="12.61" style="font-family:'Liberation Sans',sans-serif">0.00</text>
<text x="374.11 381.53 385.46 392.99" y="374.2" font-size="12.61" style="font-family:'Liberation Sans',sans-serif">0.05</text>
<rect x="230.23" y="328.98" width="7.45" height="0.99" fill="#000"/>
<text x="239.22 246.65 250.57 258.1" y="333.2" font-size="12.61" style="font-family:'Liberation Sans',sans-serif">0.05</text>
<text x="238.97 246.4 250.32 257.9" y="290.75" font-size="12.61" style="font-family:'Liberation Sans',sans-serif">0.00</text>
<text x="239.22 246.65 250.57 258.1" y="248.3" font-size="12.61" style="font-family:'Liberation Sans',sans-serif">0.05</text>
<g transform="translate(229,297.7) rotate(-90) scale(1.1143,1)">
<text x="0" y="0" font-size="16.5" style="font-family:'Liberation Serif',serif;font-style:italic;white-space:pre">a</text>
<text x="8.25" y="0" font-size="16.5" style="font-family:'Liberation Serif',serif;font-style:italic;white-space:pre">k</text>
<text x="15.57" y="2.6" font-size="11.5" style="font-family:'Liberation Serif',serif;font-style:italic;white-space:pre">y</text>
</g>
<g transform="translate(332.15,392.4) scale(1.1193,1)">
<text x="0" y="0" font-size="16.5" style="font-family:'Liberation Serif',serif;font-style:italic">a</text>
<text x="8.25" y="0" font-size="16.5" style="font-family:'Liberation Serif',serif;font-style:italic">k</text>
<text x="15.57" y="2.6" font-size="11.5" style="font-family:'Liberation Serif',serif;font-style:italic">x</text>
</g>
<rect x="490.9" y="20.3" width="145.1" height="144.8" fill="none" stroke="#000" stroke-width="0.95"/>
<line x1="521.1" y1="165.1" x2="521.1" y2="168.4" stroke="#000" stroke-width="0.95" />
<line x1="490.9" y1="135.3" x2="487.6" y2="135.3" stroke="#000" stroke-width="0.95" />
<line x1="563.3" y1="165.1" x2="563.3" y2="168.4" stroke="#000" stroke-width="0.95" />
<line x1="490.9" y1="92.85" x2="487.6" y2="92.85" stroke="#000" stroke-width="0.95" />
<line x1="605.5" y1="165.1" x2="605.5" y2="168.4" stroke="#000" stroke-width="0.95" />
<line x1="490.9" y1="50.4" x2="487.6" y2="50.4" stroke="#000" stroke-width="0.95" />
<rect x="504.02" y="176.68" width="7.45" height="0.99" fill="#000"/>
<text x="513 520.43 524.36 531.88" y="180.9" font-size="12.61" style="font-family:'Liberation Sans',sans-serif">0.05</text>
<text x="550.33 557.76 561.69 569.26" y="180.9" font-size="12.61" style="font-family:'Liberation Sans',sans-serif">0.00</text>
<text x="592.66 600.08 604.01 611.54" y="180.9" font-size="12.61" style="font-family:'Liberation Sans',sans-serif">0.05</text>
<g transform="translate(550.85,199.1) scale(1.1193,1)">
<text x="0" y="0" font-size="16.5" style="font-family:'Liberation Serif',serif;font-style:italic">a</text>
<text x="8.25" y="0" font-size="16.5" style="font-family:'Liberation Serif',serif;font-style:italic">k</text>
<text x="15.57" y="2.6" font-size="11.5" style="font-family:'Liberation Serif',serif;font-style:italic">x</text>
</g>
<rect x="490.7" y="213.4" width="144.8" height="145" fill="none" stroke="#000" stroke-width="0.95"/>
<line x1="520.85" y1="358.4" x2="520.85" y2="361.7" stroke="#000" stroke-width="0.95" />
<line x1="490.7" y1="328.4" x2="487.4" y2="328.4" stroke="#000" stroke-width="0.95" />
<line x1="563.2" y1="358.4" x2="563.2" y2="361.7" stroke="#000" stroke-width="0.95" />
<line x1="490.7" y1="285.9" x2="487.4" y2="285.9" stroke="#000" stroke-width="0.95" />
<line x1="605.55" y1="358.4" x2="605.55" y2="361.7" stroke="#000" stroke-width="0.95" />
<line x1="490.7" y1="243.4" x2="487.4" y2="243.4" stroke="#000" stroke-width="0.95" />
<rect x="503.77" y="369.98" width="7.45" height="0.99" fill="#000"/>
<text x="512.75 520.18 524.11 531.63" y="374.2" font-size="12.61" style="font-family:'Liberation Sans',sans-serif">0.05</text>
<text x="550.23 557.66 561.59 569.16" y="374.2" font-size="12.61" style="font-family:'Liberation Sans',sans-serif">0.00</text>
<text x="592.71 600.13 604.06 611.59" y="374.2" font-size="12.61" style="font-family:'Liberation Sans',sans-serif">0.05</text>
<g transform="translate(550.75,392.4) scale(1.1193,1)">
<text x="0" y="0" font-size="16.5" style="font-family:'Liberation Serif',serif;font-style:italic">a</text>
<text x="8.25" y="0" font-size="16.5" style="font-family:'Liberation Serif',serif;font-style:italic">k</text>
<text x="15.57" y="2.6" font-size="11.5" style="font-family:'Liberation Serif',serif;font-style:italic">x</text>
</g>
<rect x="423.6" y="19.3" width="7.8" height="146.1" fill="none" stroke="#000" stroke-width="0.95"/>
<rect x="423.6" y="212.8" width="7.9" height="146.1" fill="none" stroke="#000" stroke-width="0.95"/>
<rect x="642.8" y="19.8" width="8" height="146.2" fill="none" stroke="#000" stroke-width="0.95"/>
<rect x="642.6" y="213.1" width="8.1" height="145.8" fill="none" stroke="#000" stroke-width="0.95"/>
<line x1="431.4" y1="19.3" x2="434.6" y2="19.3" stroke="#000" stroke-width="0.95" />
<text x="437.39 444.82 448.7" y="23.6" font-size="12.61" style="font-family:'Liberation Sans',sans-serif">0.5</text>
<line x1="431.4" y1="48.52" x2="434.6" y2="48.52" stroke="#000" stroke-width="0.95" />
<text x="437.39 444.82 448.75" y="52.82" font-size="12.61" style="font-family:'Liberation Sans',sans-serif">0.4</text>
<line x1="431.4" y1="77.74" x2="434.6" y2="77.74" stroke="#000" stroke-width="0.95" />
<text x="437.39 444.82 448.76" y="82.04" font-size="12.61" style="font-family:'Liberation Sans',sans-serif">0.3</text>
<line x1="431.4" y1="106.96" x2="434.6" y2="106.96" stroke="#000" stroke-width="0.95" />
<text x="437.39 444.82 448.59" y="111.26" font-size="12.61" style="font-family:'Liberation Sans',sans-serif">0.2</text>
<line x1="431.4" y1="136.18" x2="434.6" y2="136.18" stroke="#000" stroke-width="0.95" />
<text x="437.39 444.82 448.68" y="140.48" font-size="12.61" style="font-family:'Liberation Sans',sans-serif">0.1</text>
<line x1="431.4" y1="165.4" x2="434.6" y2="165.4" stroke="#000" stroke-width="0.95" />
<text x="437.39 444.82 448.75" y="169.7" font-size="12.61" style="font-family:'Liberation Sans',sans-serif">0.0</text>
<line x1="431.5" y1="212.8" x2="434.7" y2="212.8" stroke="#000" stroke-width="0.95" />
<line x1="431.5" y1="285.85" x2="434.7" y2="285.85" stroke="#000" stroke-width="0.95" />
<text x="437.49" y="290.15" font-size="12.61" style="font-family:'Liberation Sans',sans-serif">0</text>
<line x1="431.5" y1="358.9" x2="434.7" y2="358.9" stroke="#000" stroke-width="0.95" />
<line x1="650.8" y1="19.8" x2="654" y2="19.8" stroke="#000" stroke-width="0.95" />
<text x="656.2 663.84" y="24.1" font-size="12.61" style="font-family:'Liberation Sans',sans-serif">10</text>
<line x1="650.8" y1="56.35" x2="654" y2="56.35" stroke="#000" stroke-width="0.95" />
<text x="656.61" y="60.65" font-size="12.61" style="font-family:'Liberation Sans',sans-serif">5</text>
<line x1="650.8" y1="92.9" x2="654" y2="92.9" stroke="#000" stroke-width="0.95" />
<text x="656.79" y="97.2" font-size="12.61" style="font-family:'Liberation Sans',sans-serif">0</text>
<line x1="650.8" y1="129.45" x2="654" y2="129.45" stroke="#000" stroke-width="0.95" />
<rect x="657.3" y="129.53" width="7.45" height="0.99" fill="#000"/>
<text x="666.24" y="133.75" font-size="12.61" style="font-family:'Liberation Sans',sans-serif">5</text>
<line x1="650.8" y1="166" x2="654" y2="166" stroke="#000" stroke-width="0.95" />
<rect x="657.3" y="166.08" width="7.45" height="0.99" fill="#000"/>
<text x="666.22 673.86" y="170.3" font-size="12.61" style="font-family:'Liberation Sans',sans-serif">10</text>
<line x1="650.7" y1="213.1" x2="653.9" y2="213.1" stroke="#000" stroke-width="0.95" />
<text x="656.69 664.12 668" y="217.4" font-size="12.61" style="font-family:'Liberation Sans',sans-serif">0.5</text>
<line x1="650.7" y1="286" x2="653.9" y2="286" stroke="#000" stroke-width="0.95" />
<text x="656.69 664.12 668.05" y="290.3" font-size="12.61" style="font-family:'Liberation Sans',sans-serif">0.0</text>
<line x1="650.7" y1="358.9" x2="653.9" y2="358.9" stroke="#000" stroke-width="0.95" />
<rect x="657.2" y="358.98" width="7.45" height="0.99" fill="#000"/>
<text x="666.19 673.62 677.5" y="363.2" font-size="12.61" style="font-family:'Liberation Sans',sans-serif">0.5</text>
<text x="438.32" y="215.8" font-size="14" style="font-family:'Liberation Serif',serif;font-style:italic" fill="#000" textLength="7.34" lengthAdjust="spacingAndGlyphs">π</text>
<rect x="436.7" y="358.3" width="6.4" height="0.95" fill="#000"/>
<text x="444.52" y="361.9" font-size="14" style="font-family:'Liberation Serif',serif;font-style:italic" fill="#000" textLength="7.54" lengthAdjust="spacingAndGlyphs">π</text>
<text x="425.04" y="188" font-size="16.5" style="font-family:'Liberation Serif',serif" fill="#000" textLength="3.62" lengthAdjust="spacingAndGlyphs">|</text>
<text x="428.56" y="188" font-size="16.5" style="font-family:'Liberation Serif',serif;font-style:italic" fill="#000" textLength="13.59" lengthAdjust="spacingAndGlyphs">Q</text>
<line x1="444.5" y1="184" x2="444.5" y2="191" stroke="#000" stroke-width="0.8" />
<line x1="440.8" y1="190.6" x2="448.2" y2="190.6" stroke="#000" stroke-width="0.8" />
<text x="449.04" y="188" font-size="16.5" style="font-family:'Liberation Serif',serif" fill="#000" textLength="3.62" lengthAdjust="spacingAndGlyphs">|</text>
<text x="406.46" y="380.6" font-size="16.5" style="font-family:'Liberation Serif',serif" fill="#000" textLength="26.8" lengthAdjust="spacingAndGlyphs">Arg(</text>
<text x="432.6" y="380.6" font-size="16.5" style="font-family:'Liberation Serif',serif;font-style:italic" fill="#000" textLength="13.14" lengthAdjust="spacingAndGlyphs">Q</text>
<line x1="448" y1="376.6" x2="448" y2="383.6" stroke="#000" stroke-width="0.8" />
<line x1="444.3" y1="383.2" x2="451.7" y2="383.2" stroke="#000" stroke-width="0.8" />
<text x="453.42" y="380.6" font-size="16.5" style="font-family:'Liberation Serif',serif" fill="#000" textLength="5.96" lengthAdjust="spacingAndGlyphs">)</text>
<text x="644.19" y="184.4" font-size="17" style="font-family:'Liberation Serif',serif;font-style:italic" fill="#000" textLength="13.91" lengthAdjust="spacingAndGlyphs">B</text>
<text x="655.77" y="187.2" font-size="12.4" style="font-family:'Liberation Serif',serif;font-style:italic" fill="#000" textLength="18.5" lengthAdjust="spacingAndGlyphs">VZ</text>
<text x="640.56" y="200.3" font-size="14.2" style="font-family:'Liberation Serif',serif" fill="#000" textLength="38.29" lengthAdjust="spacingAndGlyphs">(meV)</text>
<text x="644.77" y="381.8" font-size="18" style="font-family:'Liberation Serif',serif;font-style:italic" fill="#000" textLength="16.04" lengthAdjust="spacingAndGlyphs">Q</text>
<text x="660.83" y="385.6" font-size="12.4" style="font-family:'Liberation Serif',serif;font-style:italic" fill="#000" textLength="8.04" lengthAdjust="spacingAndGlyphs">z</text>
</svg></div>
</body></html>
